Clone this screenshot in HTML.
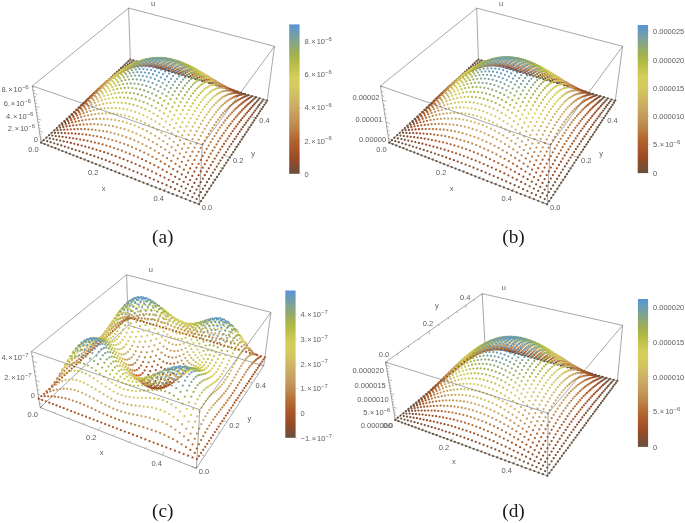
<!DOCTYPE html>
<html><head><meta charset="utf-8"><title>Figure</title>
<style>html,body{margin:0;padding:0;background:#fff}svg{display:block}</style></head>
<body>
<svg width="685" height="523" viewBox="0 0 685 523" font-family="Liberation Sans, Arial, sans-serif" fill="#5c5c5c">
<g>
<path d="M130.3 59.5L267.2 100.6" stroke="#505050" stroke-width="0.5" fill="none"/>
<path d="M130.3 59.5L41.1 142.7" stroke="#505050" stroke-width="0.5" fill="none"/>
<path d="M130.3 59.5L128.6 8.1" stroke="#505050" stroke-width="0.5" fill="none"/>
<path d="M41.1 142.7L199 204.3" stroke="#505050" stroke-width="0.5" fill="none"/>
<path d="M199 204.3L267.2 100.6" stroke="#505050" stroke-width="0.5" fill="none"/>
<path d="M41.1 142.7L32.3 85.9" stroke="#505050" stroke-width="0.5" fill="none"/>
<path d="M267.2 100.6L274.5 46.3" stroke="#505050" stroke-width="0.5" fill="none"/>
<path d="M32.3 85.9L128.6 8.1" stroke="#505050" stroke-width="0.5" fill="none"/>
<path d="M128.6 8.1L274.5 46.3" stroke="#505050" stroke-width="0.5" fill="none"/>
<path d="M55.3 148.2L56.7 146.8" stroke="#505050" stroke-width="0.4" fill="none"/>
<path d="M69.7 153.8L71.2 152.4" stroke="#505050" stroke-width="0.4" fill="none"/>
<path d="M84.5 159.6L86 158.1" stroke="#505050" stroke-width="0.4" fill="none"/>
<path d="M115.3 171.6L116.6 170" stroke="#505050" stroke-width="0.4" fill="none"/>
<path d="M131.2 177.8L132.5 176.2" stroke="#505050" stroke-width="0.4" fill="none"/>
<path d="M147.5 184.2L148.8 182.5" stroke="#505050" stroke-width="0.4" fill="none"/>
<path d="M181.4 197.4L182.6 195.7" stroke="#505050" stroke-width="0.4" fill="none"/>
<path d="M199 204.3L200.1 202.5" stroke="#505050" stroke-width="0.4" fill="none"/>
<path d="M41.1 142.7L44 140" stroke="#505050" stroke-width="0.4" fill="none"/>
<path d="M99.7 165.6L102.4 162.6" stroke="#505050" stroke-width="0.4" fill="none"/>
<path d="M164.2 190.7L166.6 187.5" stroke="#505050" stroke-width="0.4" fill="none"/>
<path d="M207.2 191.8L204.8 190.8" stroke="#505050" stroke-width="0.4" fill="none"/>
<path d="M215.1 179.8L212.7 178.9" stroke="#505050" stroke-width="0.4" fill="none"/>
<path d="M222.6 168.4L220.2 167.5" stroke="#505050" stroke-width="0.4" fill="none"/>
<path d="M236.7 146.9L234.4 146.2" stroke="#505050" stroke-width="0.4" fill="none"/>
<path d="M243.3 136.9L241 136.2" stroke="#505050" stroke-width="0.4" fill="none"/>
<path d="M249.6 127.3L247.4 126.6" stroke="#505050" stroke-width="0.4" fill="none"/>
<path d="M261.6 109.2L259.4 108.5" stroke="#505050" stroke-width="0.4" fill="none"/>
<path d="M267.2 100.6L265.1 100" stroke="#505050" stroke-width="0.4" fill="none"/>
<path d="M199 204.3L194.2 202.4" stroke="#505050" stroke-width="0.4" fill="none"/>
<path d="M229.8 157.4L225.3 155.9" stroke="#505050" stroke-width="0.4" fill="none"/>
<path d="M255.7 118L251.5 116.7" stroke="#505050" stroke-width="0.4" fill="none"/>
</g>
<g stroke-linecap="round" stroke-width="2.25" fill="none">
<path stroke="#67503b" d="M130.3 59.5h0"/>
<path stroke="#67503b" d="M133.4 60.4h0"/>
<path stroke="#67503b" d="M128.5 61.2h0"/>
<path stroke="#67503b" d="M136.6 61.3h0"/>
<path stroke="#6a503a" d="M131.6 61.8h0"/>
<path stroke="#67503b" d="M139.7 62.3h0"/>
<path stroke="#67503b" d="M126.6 62.9h0"/>
<path stroke="#67503b" d="M142.8 63.2h0"/>
<path stroke="#6d4f38" d="M134.7 62.5h0"/>
<path stroke="#6d4f38" d="M129.7 63.3h0"/>
<path stroke="#67503b" d="M146 64.2h0"/>
<path stroke="#704f37" d="M137.8 63.1h0"/>
<path stroke="#67503b" d="M124.7 64.7h0"/>
<path stroke="#67503b" d="M149.2 65.1h0"/>
<path stroke="#734f36" d="M132.8 63.7h0"/>
<path stroke="#734f36" d="M141 63.8h0"/>
<path stroke="#704f37" d="M127.8 64.8h0"/>
<path stroke="#67503b" d="M152.4 66.1h0"/>
<path stroke="#67503b" d="M122.8 66.5h0"/>
<path stroke="#764e35" d="M144.2 64.5h0"/>
<path stroke="#794e33" d="M136 64h0"/>
<path stroke="#67503b" d="M155.6 67.1h0"/>
<path stroke="#794e33" d="M130.9 64.8h0"/>
<path stroke="#794e34" d="M147.4 65.2h0"/>
<path stroke="#7f4d31" d="M139.1 64.4h0"/>
<path stroke="#734f36" d="M125.9 66.3h0"/>
<path stroke="#67503b" d="M158.8 68h0"/>
<path stroke="#67503b" d="M120.9 68.2h0"/>
<path stroke="#7b4e32" d="M150.6 65.9h0"/>
<path stroke="#824d30" d="M134.1 64.9h0"/>
<path stroke="#67503b" d="M162.1 69h0"/>
<path stroke="#854d2e" d="M142.3 64.8h0"/>
<path stroke="#7f4d31" d="M129 66.1h0"/>
<path stroke="#764e35" d="M124 67.8h0"/>
<path stroke="#7e4d31" d="M153.8 66.6h0"/>
<path stroke="#67503b" d="M165.3 70h0"/>
<path stroke="#67503b" d="M119 70h0"/>
<path stroke="#8b4c2c" d="M137.3 65h0"/>
<path stroke="#8b4c2c" d="M145.5 65.3h0"/>
<path stroke="#67503b" d="M168.6 71h0"/>
<path stroke="#804d30" d="M157.1 67.4h0"/>
<path stroke="#8b4c2c" d="M132.2 65.9h0"/>
<path stroke="#904c2a" d="M148.7 65.7h0"/>
<path stroke="#854d2e" d="M127.1 67.3h0"/>
<path stroke="#944b28" d="M140.4 65.2h0"/>
<path stroke="#67503b" d="M117 71.9h0"/>
<path stroke="#794e34" d="M122.1 69.3h0"/>
<path stroke="#67503b" d="M171.9 72h0"/>
<path stroke="#834d2f" d="M160.3 68.1h0"/>
<path stroke="#974b27" d="M135.4 65.7h0"/>
<path stroke="#954b28" d="M152 66.2h0"/>
<path stroke="#67503b" d="M175.2 72.9h0"/>
<path stroke="#9c4a25" d="M143.7 65.3h0"/>
<path stroke="#854d2f" d="M163.6 68.9h0"/>
<path stroke="#944b28" d="M130.3 66.8h0"/>
<path stroke="#67503b" d="M115 73.7h0"/>
<path stroke="#8b4c2c" d="M125.2 68.6h0"/>
<path stroke="#7b4e32" d="M120.1 70.9h0"/>
<path stroke="#67503b" d="M178.5 73.9h0"/>
<path stroke="#9a4a26" d="M155.3 66.7h0"/>
<path stroke="#a04c25" d="M138.5 65.6h0"/>
<path stroke="#874d2e" d="M166.9 69.7h0"/>
<path stroke="#a04d25" d="M146.9 65.5h0"/>
<path stroke="#67503b" d="M181.9 75h0"/>
<path stroke="#a04c25" d="M133.4 66.4h0"/>
<path stroke="#9e4a24" d="M158.5 67.2h0"/>
<path stroke="#884c2d" d="M170.2 70.5h0"/>
<path stroke="#67503b" d="M113.1 75.6h0"/>
<path stroke="#9c4a25" d="M128.3 67.8h0"/>
<path stroke="#a45126" d="M141.8 65.5h0"/>
<path stroke="#a35026" d="M150.1 65.8h0"/>
<path stroke="#7e4d31" d="M118.1 72.5h0"/>
<path stroke="#904c2a" d="M123.2 69.9h0"/>
<path stroke="#67503b" d="M185.2 76h0"/>
<path stroke="#8a4c2c" d="M173.5 71.4h0"/>
<path stroke="#a04c25" d="M161.8 67.8h0"/>
<path stroke="#a55226" d="M136.6 66h0"/>
<path stroke="#67503b" d="M188.6 77h0"/>
<path stroke="#a65327" d="M153.4 66.1h0"/>
<path stroke="#a75527" d="M145 65.4h0"/>
<path stroke="#67503b" d="M111.1 77.4h0"/>
<path stroke="#a45126" d="M131.5 67.1h0"/>
<path stroke="#8b4c2c" d="M176.9 72.3h0"/>
<path stroke="#a14e25" d="M165.2 68.4h0"/>
<path stroke="#804d30" d="M116.1 74.1h0"/>
<path stroke="#a04d25" d="M126.3 68.9h0"/>
<path stroke="#954b28" d="M121.2 71.2h0"/>
<path stroke="#67503b" d="M192 78h0"/>
<path stroke="#aa5828" d="M139.9 65.6h0"/>
<path stroke="#a85628" d="M156.7 66.4h0"/>
<path stroke="#8c4c2b" d="M180.3 73.2h0"/>
<path stroke="#ab5a29" d="M148.3 65.4h0"/>
<path stroke="#a24f25" d="M168.5 69.1h0"/>
<path stroke="#67503b" d="M195.4 79h0"/>
<path stroke="#aa5828" d="M134.7 66.5h0"/>
<path stroke="#67503b" d="M109 79.3h0"/>
<path stroke="#8d4c2b" d="M183.6 74.1h0"/>
<path stroke="#834d2f" d="M114.1 75.7h0"/>
<path stroke="#a75527" d="M129.5 67.9h0"/>
<path stroke="#aa5928" d="M160.1 66.8h0"/>
<path stroke="#67503b" d="M198.8 80h0"/>
<path stroke="#ae5e2a" d="M143.1 65.3h0"/>
<path stroke="#a35026" d="M171.9 69.8h0"/>
<path stroke="#9a4a26" d="M119.2 72.6h0"/>
<path stroke="#a35026" d="M124.4 70h0"/>
<path stroke="#ae5e2a" d="M151.6 65.4h0"/>
<path stroke="#8e4c2b" d="M187 75.1h0"/>
<path stroke="#67503b" d="M202.2 81.1h0"/>
<path stroke="#af5f2a" d="M137.9 65.9h0"/>
<path stroke="#ac5b29" d="M163.4 67.2h0"/>
<path stroke="#67503b" d="M107 81.2h0"/>
<path stroke="#a45226" d="M175.2 70.6h0"/>
<path stroke="#b3642d" d="M146.4 65.1h0"/>
<path stroke="#b2622b" d="M154.9 65.6h0"/>
<path stroke="#854d2f" d="M112.1 77.4h0"/>
<path stroke="#8e4c2b" d="M190.5 76h0"/>
<path stroke="#ae5e2a" d="M132.7 67h0"/>
<path stroke="#67503b" d="M205.7 82.1h0"/>
<path stroke="#9e4a24" d="M117.2 74h0"/>
<path stroke="#ab5a29" d="M127.5 68.8h0"/>
<path stroke="#a65327" d="M122.3 71.1h0"/>
<path stroke="#a55226" d="M178.6 71.4h0"/>
<path stroke="#ae5d2a" d="M166.8 67.7h0"/>
<path stroke="#8e4c2b" d="M193.9 77.1h0"/>
<path stroke="#b46931" d="M141.2 65.3h0"/>
<path stroke="#67503b" d="M104.9 83.1h0"/>
<path stroke="#67503b" d="M209.2 83.2h0"/>
<path stroke="#b46830" d="M158.2 65.7h0"/>
<path stroke="#b66d35" d="M149.7 64.9h0"/>
<path stroke="#a65327" d="M182 72.2h0"/>
<path stroke="#b05f2a" d="M170.1 68.2h0"/>
<path stroke="#b46931" d="M136 66.2h0"/>
<path stroke="#874d2e" d="M110 79.1h0"/>
<path stroke="#8e4c2b" d="M197.3 78.1h0"/>
<path stroke="#67503b" d="M212.7 84.2h0"/>
<path stroke="#a04c25" d="M115.2 75.5h0"/>
<path stroke="#b3642d" d="M130.7 67.6h0"/>
<path stroke="#b66d35" d="M161.6 66h0"/>
<path stroke="#a65427" d="M185.5 73.1h0"/>
<path stroke="#a85628" d="M120.3 72.3h0"/>
<path stroke="#ae5e2a" d="M125.5 69.7h0"/>
<path stroke="#b8743b" d="M144.5 64.8h0"/>
<path stroke="#8e4c2b" d="M200.8 79.2h0"/>
<path stroke="#b1612b" d="M173.5 68.9h0"/>
<path stroke="#b8753c" d="M153 64.8h0"/>
<path stroke="#67503b" d="M102.8 85.1h0"/>
<path stroke="#67503b" d="M216.2 85.3h0"/>
<path stroke="#a65427" d="M188.9 74.1h0"/>
<path stroke="#b9763d" d="M139.2 65.4h0"/>
<path stroke="#884c2d" d="M108 80.9h0"/>
<path stroke="#8d4c2b" d="M204.3 80.3h0"/>
<path stroke="#b8733a" d="M165 66.3h0"/>
<path stroke="#b2632c" d="M177 69.6h0"/>
<path stroke="#67503b" d="M219.7 86.3h0"/>
<path stroke="#bc7f44" d="M147.8 64.4h0"/>
<path stroke="#a14e25" d="M113.1 77h0"/>
<path stroke="#b8743b" d="M134 66.5h0"/>
<path stroke="#bb7d43" d="M156.4 64.8h0"/>
<path stroke="#a65427" d="M192.4 75.1h0"/>
<path stroke="#aa5928" d="M118.3 73.6h0"/>
<path stroke="#b66d35" d="M128.7 68.3h0"/>
<path stroke="#8c4c2b" d="M207.8 81.4h0"/>
<path stroke="#67503b" d="M100.7 87h0"/>
<path stroke="#b2622b" d="M123.5 70.7h0"/>
<path stroke="#67503b" d="M223.2 87.4h0"/>
<path stroke="#b3652d" d="M180.4 70.3h0"/>
<path stroke="#b9773e" d="M168.4 66.7h0"/>
<path stroke="#bd8348" d="M142.5 64.6h0"/>
<path stroke="#a65427" d="M195.9 76.1h0"/>
<path stroke="#8a4c2c" d="M105.9 82.7h0"/>
<path stroke="#8b4c2c" d="M211.3 82.6h0"/>
<path stroke="#bd8449" d="M159.8 64.8h0"/>
<path stroke="#bf894d" d="M151.1 64.1h0"/>
<path stroke="#67503b" d="M226.8 88.5h0"/>
<path stroke="#b3662f" d="M183.9 71.2h0"/>
<path stroke="#bd8348" d="M137.2 65.5h0"/>
<path stroke="#a24f25" d="M111 78.6h0"/>
<path stroke="#ba7b41" d="M171.8 67.2h0"/>
<path stroke="#a65427" d="M199.3 77.3h0"/>
<path stroke="#67503b" d="M98.6 89h0"/>
<path stroke="#8a4c2c" d="M214.8 83.8h0"/>
<path stroke="#ac5b29" d="M116.2 75h0"/>
<path stroke="#bc7f44" d="M132 67h0"/>
<path stroke="#b46830" d="M121.4 71.8h0"/>
<path stroke="#b8753c" d="M126.7 69.1h0"/>
<path stroke="#67503b" d="M230.4 89.5h0"/>
<path stroke="#c08b4f" d="M163.2 65h0"/>
<path stroke="#c18e52" d="M145.9 64h0"/>
<path stroke="#b4672f" d="M187.3 72.1h0"/>
<path stroke="#a65327" d="M202.9 78.4h0"/>
<path stroke="#c19053" d="M154.5 63.9h0"/>
<path stroke="#8b4c2c" d="M103.8 84.5h0"/>
<path stroke="#884c2d" d="M218.4 85h0"/>
<path stroke="#bb7e44" d="M175.3 67.8h0"/>
<path stroke="#67503b" d="M234 90.6h0"/>
<path stroke="#c19053" d="M140.6 64.6h0"/>
<path stroke="#b46730" d="M190.8 73.1h0"/>
<path stroke="#a35026" d="M108.9 80.3h0"/>
<path stroke="#a55226" d="M206.4 79.7h0"/>
<path stroke="#67503b" d="M96.5 91h0"/>
<path stroke="#874d2e" d="M221.9 86.2h0"/>
<path stroke="#c18f52" d="M166.6 65.3h0"/>
<path stroke="#bc8146" d="M178.7 68.5h0"/>
<path stroke="#ae5d2a" d="M114.1 76.4h0"/>
<path stroke="#c18e52" d="M135.2 65.7h0"/>
<path stroke="#c49657" d="M149.2 63.5h0"/>
<path stroke="#c39557" d="M157.9 63.8h0"/>
<path stroke="#67503b" d="M237.6 91.7h0"/>
<path stroke="#b4672f" d="M194.3 74.2h0"/>
<path stroke="#b66d35" d="M119.4 72.9h0"/>
<path stroke="#a45226" d="M209.9 80.9h0"/>
<path stroke="#bf894d" d="M129.9 67.5h0"/>
<path stroke="#854d2f" d="M225.5 87.5h0"/>
<path stroke="#bb7d43" d="M124.6 69.9h0"/>
<path stroke="#8c4c2b" d="M101.6 86.4h0"/>
<path stroke="#bd8348" d="M182.2 69.3h0"/>
<path stroke="#c29254" d="M170.1 65.6h0"/>
<path stroke="#c59959" d="M143.9 63.7h0"/>
<path stroke="#67503b" d="M241.2 92.8h0"/>
<path stroke="#a35026" d="M213.5 82.2h0"/>
<path stroke="#b3662f" d="M197.9 75.4h0"/>
<path stroke="#a45226" d="M106.8 82h0"/>
<path stroke="#834d2f" d="M229.1 88.8h0"/>
<path stroke="#67503b" d="M94.3 93h0"/>
<path stroke="#c59b5a" d="M161.4 63.8h0"/>
<path stroke="#c69d5c" d="M152.6 63.1h0"/>
<path stroke="#c59959" d="M138.6 64.6h0"/>
<path stroke="#bd8449" d="M185.7 70.2h0"/>
<path stroke="#b05f2a" d="M112 77.9h0"/>
<path stroke="#a24f25" d="M217 83.6h0"/>
<path stroke="#c39556" d="M173.6 66.1h0"/>
<path stroke="#67503b" d="M244.9 93.9h0"/>
<path stroke="#b3652d" d="M201.4 76.6h0"/>
<path stroke="#804d30" d="M232.7 90.1h0"/>
<path stroke="#8d4c2b" d="M99.5 88.3h0"/>
<path stroke="#b8733a" d="M117.3 74.2h0"/>
<path stroke="#c49657" d="M133.2 66.1h0"/>
<path stroke="#bd8449" d="M122.6 70.9h0"/>
<path stroke="#c19053" d="M127.9 68.2h0"/>
<path stroke="#a14e25" d="M220.6 85h0"/>
<path stroke="#c8a260" d="M147.3 63h0"/>
<path stroke="#c79f5e" d="M164.8 63.9h0"/>
<path stroke="#bd8449" d="M189.3 71.2h0"/>
<path stroke="#b2632c" d="M204.9 77.9h0"/>
<path stroke="#7e4d31" d="M236.3 91.4h0"/>
<path stroke="#67503b" d="M248.5 95h0"/>
<path stroke="#67503b" d="M92.2 95.1h0"/>
<path stroke="#c8a461" d="M156 62.8h0"/>
<path stroke="#a55226" d="M104.7 83.7h0"/>
<path stroke="#c49758" d="M177.1 66.8h0"/>
<path stroke="#a04c25" d="M224.2 86.5h0"/>
<path stroke="#b1612b" d="M208.5 79.3h0"/>
<path stroke="#c8a361" d="M141.9 63.5h0"/>
<path stroke="#bd8449" d="M192.8 72.3h0"/>
<path stroke="#7b4e32" d="M239.9 92.8h0"/>
<path stroke="#b1612b" d="M109.9 79.4h0"/>
<path stroke="#67503b" d="M252.2 96.1h0"/>
<path stroke="#8e4c2b" d="M97.3 90.3h0"/>
<path stroke="#c8a360" d="M168.3 64.1h0"/>
<path stroke="#c49859" d="M180.6 67.5h0"/>
<path stroke="#9e4a24" d="M227.8 88h0"/>
<path stroke="#b9773e" d="M115.2 75.5h0"/>
<path stroke="#c8a260" d="M136.5 64.7h0"/>
<path stroke="#cbaa64" d="M150.7 62.4h0"/>
<path stroke="#b05f2a" d="M212.1 80.8h0"/>
<path stroke="#caa964" d="M159.5 62.6h0"/>
<path stroke="#794e34" d="M243.6 94.2h0"/>
<path stroke="#bd8348" d="M196.3 73.5h0"/>
<path stroke="#c08b4f" d="M120.5 72h0"/>
<path stroke="#c69d5c" d="M131.2 66.6h0"/>
<path stroke="#67503b" d="M90 97.1h0"/>
<path stroke="#c39557" d="M125.8 69h0"/>
<path stroke="#67503b" d="M255.9 97.2h0"/>
<path stroke="#a65327" d="M102.5 85.6h0"/>
<path stroke="#9a4a26" d="M231.4 89.6h0"/>
<path stroke="#ae5d2a" d="M215.6 82.3h0"/>
<path stroke="#c59959" d="M184.1 68.3h0"/>
<path stroke="#c9a663" d="M171.8 64.5h0"/>
<path stroke="#764e35" d="M247.2 95.6h0"/>
<path stroke="#bc8146" d="M199.9 74.8h0"/>
<path stroke="#ccad63" d="M145.3 62.6h0"/>
<path stroke="#b2632c" d="M107.8 81.1h0"/>
<path stroke="#954b28" d="M235 91.2h0"/>
<path stroke="#8e4c2b" d="M95.1 92.2h0"/>
<path stroke="#67503b" d="M259.7 98.3h0"/>
<path stroke="#ac5b29" d="M219.2 83.9h0"/>
<path stroke="#ccaf63" d="M163 62.6h0"/>
<path stroke="#cdb163" d="M154.1 61.9h0"/>
<path stroke="#734f36" d="M250.9 97h0"/>
<path stroke="#c5995a" d="M187.7 69.3h0"/>
<path stroke="#bb7e44" d="M203.5 76.2h0"/>
<path stroke="#ccad63" d="M139.9 63.5h0"/>
<path stroke="#ba7b41" d="M113 76.9h0"/>
<path stroke="#904c2a" d="M238.6 92.8h0"/>
<path stroke="#caa864" d="M175.3 65.1h0"/>
<path stroke="#67503b" d="M87.7 99.2h0"/>
<path stroke="#aa5928" d="M222.8 85.6h0"/>
<path stroke="#a65427" d="M100.3 87.5h0"/>
<path stroke="#67503b" d="M263.4 99.5h0"/>
<path stroke="#c18f52" d="M118.4 73.2h0"/>
<path stroke="#cbaa64" d="M134.5 65h0"/>
<path stroke="#ba7b41" d="M207.1 77.7h0"/>
<path stroke="#704f37" d="M254.6 98.4h0"/>
<path stroke="#c59b5a" d="M123.7 69.9h0"/>
<path stroke="#c8a461" d="M129.1 67.2h0"/>
<path stroke="#8b4c2c" d="M242.3 94.4h0"/>
<path stroke="#c59959" d="M191.2 70.4h0"/>
<path stroke="#ceb662" d="M148.7 61.8h0"/>
<path stroke="#a85628" d="M226.4 87.3h0"/>
<path stroke="#cdb362" d="M166.5 62.8h0"/>
<path stroke="#8e4c2b" d="M92.9 94.3h0"/>
<path stroke="#b3652d" d="M105.6 82.8h0"/>
<path stroke="#cfb862" d="M157.6 61.6h0"/>
<path stroke="#cbaa64" d="M178.9 65.8h0"/>
<path stroke="#67503b" d="M267.2 100.6h0"/>
<path stroke="#b9773e" d="M210.6 79.3h0"/>
<path stroke="#854d2e" d="M245.9 96.1h0"/>
<path stroke="#6d4f38" d="M258.3 99.8h0"/>
<path stroke="#a65327" d="M230.1 89.1h0"/>
<path stroke="#c49859" d="M194.8 71.7h0"/>
<path stroke="#cfb762" d="M143.3 62.4h0"/>
<path stroke="#67503b" d="M85.5 101.3h0"/>
<path stroke="#bb7e44" d="M110.9 78.5h0"/>
<path stroke="#b8733a" d="M214.2 81h0"/>
<path stroke="#a65427" d="M98.2 89.4h0"/>
<path stroke="#a35026" d="M233.7 90.9h0"/>
<path stroke="#7f4d31" d="M249.6 97.8h0"/>
<path stroke="#cfb662" d="M170 63h0"/>
<path stroke="#cbab64" d="M182.4 66.6h0"/>
<path stroke="#6a503a" d="M262.1 101.3h0"/>
<path stroke="#c29254" d="M116.2 74.5h0"/>
<path stroke="#c49758" d="M198.4 73.1h0"/>
<path stroke="#ceb662" d="M137.9 63.6h0"/>
<path stroke="#d1be61" d="M152.2 61.2h0"/>
<path stroke="#d1bd61" d="M161.1 61.5h0"/>
<path stroke="#b66d35" d="M217.9 82.8h0"/>
<path stroke="#a04d25" d="M237.3 92.8h0"/>
<path stroke="#794e33" d="M253.3 99.6h0"/>
<path stroke="#c79f5e" d="M121.6 70.9h0"/>
<path stroke="#cdb163" d="M132.4 65.4h0"/>
<path stroke="#8e4c2b" d="M90.7 96.4h0"/>
<path stroke="#caa964" d="M127 67.9h0"/>
<path stroke="#b3662f" d="M103.4 84.7h0"/>
<path stroke="#67503b" d="M265.8 102.7h0"/>
<path stroke="#c39556" d="M202 74.6h0"/>
<path stroke="#cbac63" d="M186 67.6h0"/>
<path stroke="#b46830" d="M221.5 84.6h0"/>
<path stroke="#9c4a25" d="M241 94.7h0"/>
<path stroke="#d0b962" d="M173.6 63.5h0"/>
<path stroke="#734f36" d="M257 101.3h0"/>
<path stroke="#d2c160" d="M146.7 61.5h0"/>
<path stroke="#67503b" d="M83.2 103.4h0"/>
<path stroke="#bc8146" d="M108.7 80.2h0"/>
<path stroke="#b2622b" d="M225.1 86.6h0"/>
<path stroke="#a65427" d="M96 91.5h0"/>
<path stroke="#944b28" d="M244.6 96.7h0"/>
<path stroke="#c29254" d="M205.6 76.2h0"/>
<path stroke="#d2c260" d="M164.6 61.5h0"/>
<path stroke="#d3c460" d="M155.7 60.8h0"/>
<path stroke="#cbab64" d="M189.6 68.7h0"/>
<path stroke="#6d4f38" d="M260.7 103.1h0"/>
<path stroke="#ae5e2a" d="M228.7 88.6h0"/>
<path stroke="#d2c160" d="M141.3 62.3h0"/>
<path stroke="#8b4c2c" d="M248.3 98.7h0"/>
<path stroke="#c39556" d="M114.1 75.9h0"/>
<path stroke="#d0bb61" d="M177.1 64.1h0"/>
<path stroke="#c18f52" d="M209.2 77.9h0"/>
<path stroke="#8e4c2b" d="M88.5 98.5h0"/>
<path stroke="#b4672f" d="M101.2 86.6h0"/>
<path stroke="#67503b" d="M264.4 104.8h0"/>
<path stroke="#ab5a29" d="M232.3 90.7h0"/>
<path stroke="#c8a360" d="M119.5 72.1h0"/>
<path stroke="#d1be61" d="M135.8 63.9h0"/>
<path stroke="#824d30" d="M251.9 100.8h0"/>
<path stroke="#cbaa64" d="M193.2 70h0"/>
<path stroke="#ccaf63" d="M124.9 68.8h0"/>
<path stroke="#cfb862" d="M130.3 66h0"/>
<path stroke="#c08b4f" d="M212.8 79.8h0"/>
<path stroke="#d3c55f" d="M168.2 61.7h0"/>
<path stroke="#d4c75f" d="M150.2 60.7h0"/>
<path stroke="#a75527" d="M236 92.9h0"/>
<path stroke="#67503b" d="M80.9 105.5h0"/>
<path stroke="#794e33" d="M255.6 102.8h0"/>
<path stroke="#d1bd61" d="M180.7 64.9h0"/>
<path stroke="#a65427" d="M93.7 93.6h0"/>
<path stroke="#d4c85e" d="M159.2 60.5h0"/>
<path stroke="#bd8348" d="M106.5 81.9h0"/>
<path stroke="#bd8449" d="M216.4 81.7h0"/>
<path stroke="#caa864" d="M196.8 71.4h0"/>
<path stroke="#a45126" d="M239.6 95.1h0"/>
<path stroke="#704f37" d="M259.3 104.9h0"/>
<path stroke="#d4c85e" d="M144.7 61.2h0"/>
<path stroke="#a04c25" d="M243.3 97.3h0"/>
<path stroke="#bb7d43" d="M220.1 83.8h0"/>
<path stroke="#8d4c2b" d="M86.2 100.7h0"/>
<path stroke="#c49758" d="M111.9 77.5h0"/>
<path stroke="#c9a663" d="M200.4 73h0"/>
<path stroke="#d1bd61" d="M184.3 65.9h0"/>
<path stroke="#b46730" d="M99 88.6h0"/>
<path stroke="#d4c75f" d="M171.8 62.1h0"/>
<path stroke="#67503b" d="M263 107h0"/>
<path stroke="#974b27" d="M246.9 99.6h0"/>
<path stroke="#b8753c" d="M223.7 86h0"/>
<path stroke="#c9a663" d="M117.3 73.5h0"/>
<path stroke="#d4c75f" d="M139.2 62.4h0"/>
<path stroke="#d5cb5c" d="M153.7 60.1h0"/>
<path stroke="#d5cb5d" d="M162.8 60.4h0"/>
<path stroke="#67503b" d="M78.6 107.7h0"/>
<path stroke="#8b4c2c" d="M250.6 102h0"/>
<path stroke="#c8a360" d="M204.1 74.7h0"/>
<path stroke="#b66d35" d="M227.3 88.2h0"/>
<path stroke="#cdb362" d="M122.8 69.9h0"/>
<path stroke="#a65427" d="M91.5 95.7h0"/>
<path stroke="#d3c460" d="M133.7 64.3h0"/>
<path stroke="#d1bd61" d="M128.2 66.8h0"/>
<path stroke="#d1bd61" d="M188 67h0"/>
<path stroke="#bd8449" d="M104.4 83.8h0"/>
<path stroke="#7f4d31" d="M254.2 104.4h0"/>
<path stroke="#b3642d" d="M231 90.6h0"/>
<path stroke="#d4c85e" d="M175.4 62.6h0"/>
<path stroke="#c79f5e" d="M207.7 76.6h0"/>
<path stroke="#734f36" d="M257.9 106.7h0"/>
<path stroke="#ae5e2a" d="M234.6 93h0"/>
<path stroke="#8c4c2b" d="M83.9 102.9h0"/>
<path stroke="#d5cd5c" d="M148.2 60.3h0"/>
<path stroke="#c49859" d="M109.7 79.2h0"/>
<path stroke="#b4672f" d="M96.8 90.7h0"/>
<path stroke="#d0bb61" d="M191.6 68.4h0"/>
<path stroke="#67503b" d="M261.6 109.2h0"/>
<path stroke="#c59b5a" d="M211.3 78.6h0"/>
<path stroke="#aa5828" d="M238.2 95.5h0"/>
<path stroke="#d5cd5b" d="M166.3 60.5h0"/>
<path stroke="#d6cf5b" d="M157.3 59.7h0"/>
<path stroke="#a55226" d="M241.9 98h0"/>
<path stroke="#d4c95e" d="M179 63.4h0"/>
<path stroke="#c39557" d="M215 80.7h0"/>
<path stroke="#d5cd5c" d="M142.7 61.2h0"/>
<path stroke="#67503b" d="M76.3 109.8h0"/>
<path stroke="#caa864" d="M115.1 75h0"/>
<path stroke="#a04c25" d="M245.5 100.6h0"/>
<path stroke="#a65327" d="M89.2 98h0"/>
<path stroke="#d0b962" d="M195.2 69.9h0"/>
<path stroke="#bd8449" d="M102.1 85.8h0"/>
<path stroke="#944b28" d="M249.2 103.3h0"/>
<path stroke="#c19053" d="M218.6 83h0"/>
<path stroke="#cfb662" d="M120.6 71.1h0"/>
<path stroke="#d5cb5c" d="M137.1 62.7h0"/>
<path stroke="#854d2e" d="M252.8 105.9h0"/>
<path stroke="#d2c260" d="M126.1 67.8h0"/>
<path stroke="#d4c85e" d="M131.6 64.9h0"/>
<path stroke="#bf894d" d="M222.3 85.4h0"/>
<path stroke="#d6cf5b" d="M169.9 60.8h0"/>
<path stroke="#8b4c2c" d="M81.6 105.2h0"/>
<path stroke="#cfb662" d="M198.9 71.5h0"/>
<path stroke="#d3ce58" d="M151.7 59.6h0"/>
<path stroke="#d4c95d" d="M182.6 64.4h0"/>
<path stroke="#764e35" d="M256.5 108.6h0"/>
<path stroke="#b3662f" d="M94.6 92.9h0"/>
<path stroke="#bc7f44" d="M225.9 87.9h0"/>
<path stroke="#d2cd58" d="M160.8 59.5h0"/>
<path stroke="#67503b" d="M260.1 111.3h0"/>
<path stroke="#c59959" d="M107.5 81.1h0"/>
<path stroke="#b8743b" d="M229.6 90.5h0"/>
<path stroke="#cdb362" d="M202.5 73.4h0"/>
<path stroke="#b46931" d="M233.2 93.2h0"/>
<path stroke="#67503b" d="M74 112h0"/>
<path stroke="#a55226" d="M87 100.3h0"/>
<path stroke="#d4c95e" d="M186.3 65.5h0"/>
<path stroke="#d1cd57" d="M146.2 60.1h0"/>
<path stroke="#cbaa64" d="M113 76.6h0"/>
<path stroke="#af5f2a" d="M236.8 95.9h0"/>
<path stroke="#d6d05a" d="M173.6 61.3h0"/>
<path stroke="#ccaf63" d="M206.2 75.4h0"/>
<path stroke="#bd8449" d="M99.9 88h0"/>
<path stroke="#aa5828" d="M240.5 98.8h0"/>
<path stroke="#a45126" d="M244.1 101.6h0"/>
<path stroke="#d0b962" d="M118.4 72.5h0"/>
<path stroke="#d3ce58" d="M140.6 61.4h0"/>
<path stroke="#cac853" d="M155.3 59.1h0"/>
<path stroke="#9c4a25" d="M247.8 104.6h0"/>
<path stroke="#8a4c2c" d="M79.3 107.5h0"/>
<path stroke="#caa964" d="M209.9 77.6h0"/>
<path stroke="#ccca54" d="M164.4 59.5h0"/>
<path stroke="#d4c85e" d="M189.9 66.9h0"/>
<path stroke="#8b4c2c" d="M251.4 107.5h0"/>
<path stroke="#b3652d" d="M92.3 95.3h0"/>
<path stroke="#794e34" d="M255 110.5h0"/>
<path stroke="#d3c55f" d="M123.9 68.9h0"/>
<path stroke="#d6cf5b" d="M135 63.2h0"/>
<path stroke="#67503b" d="M258.7 113.5h0"/>
<path stroke="#c8a461" d="M213.5 79.9h0"/>
<path stroke="#c5995a" d="M105.3 83.1h0"/>
<path stroke="#d5cb5d" d="M129.5 65.8h0"/>
<path stroke="#d4cf59" d="M177.2 62.1h0"/>
<path stroke="#c69d5c" d="M217.2 82.3h0"/>
<path stroke="#d4c75f" d="M193.6 68.5h0"/>
<path stroke="#a45226" d="M84.7 102.7h0"/>
<path stroke="#67503b" d="M71.6 114.3h0"/>
<path stroke="#c6c651" d="M149.7 59.3h0"/>
<path stroke="#c49657" d="M220.8 84.9h0"/>
<path stroke="#bd8348" d="M97.7 90.2h0"/>
<path stroke="#cbab64" d="M110.8 78.4h0"/>
<path stroke="#c7c651" d="M168.1 59.7h0"/>
<path stroke="#c18e52" d="M224.5 87.7h0"/>
<path stroke="#c2c34e" d="M158.9 58.8h0"/>
<path stroke="#d3c55f" d="M197.3 70.2h0"/>
<path stroke="#d3ce58" d="M180.9 63h0"/>
<path stroke="#bd8348" d="M228.1 90.5h0"/>
<path stroke="#884c2d" d="M77 109.8h0"/>
<path stroke="#b9763d" d="M231.8 93.4h0"/>
<path stroke="#c6c651" d="M144.1 60.2h0"/>
<path stroke="#b2632c" d="M90 97.7h0"/>
<path stroke="#b46931" d="M235.4 96.4h0"/>
<path stroke="#d0bb61" d="M116.3 74.1h0"/>
<path stroke="#ae5e2a" d="M239.1 99.5h0"/>
<path stroke="#a75527" d="M242.7 102.7h0"/>
<path stroke="#d2c260" d="M201 72.2h0"/>
<path stroke="#a04d25" d="M246.3 105.9h0"/>
<path stroke="#904c2a" d="M250 109.2h0"/>
<path stroke="#7b4e32" d="M253.6 112.5h0"/>
<path stroke="#67503b" d="M257.2 115.8h0"/>
<path stroke="#c59959" d="M103.1 85.2h0"/>
<path stroke="#d4c75f" d="M121.8 70.2h0"/>
<path stroke="#cac853" d="M138.5 61.7h0"/>
<path stroke="#d4cf59" d="M184.5 64.2h0"/>
<path stroke="#c3c44f" d="M171.7 60.2h0"/>
<path stroke="#a35026" d="M82.4 105.1h0"/>
<path stroke="#d1bd61" d="M204.6 74.3h0"/>
<path stroke="#d5cd5b" d="M127.3 66.8h0"/>
<path stroke="#d2cd58" d="M132.9 64h0"/>
<path stroke="#67503b" d="M69.2 116.5h0"/>
<path stroke="#bcc04b" d="M153.3 58.7h0"/>
<path stroke="#bc8146" d="M95.4 92.6h0"/>
<path stroke="#bbbf4b" d="M162.5 58.7h0"/>
<path stroke="#cbac63" d="M108.6 80.4h0"/>
<path stroke="#cfb862" d="M208.3 76.6h0"/>
<path stroke="#d6d05a" d="M188.2 65.6h0"/>
<path stroke="#874d2e" d="M74.6 112.2h0"/>
<path stroke="#cdb163" d="M212 79.1h0"/>
<path stroke="#b1612b" d="M87.7 100.1h0"/>
<path stroke="#c1c34e" d="M175.4 60.9h0"/>
<path stroke="#babf4a" d="M147.7 59.2h0"/>
<path stroke="#cbaa64" d="M215.7 81.8h0"/>
<path stroke="#d1bd61" d="M114.1 75.9h0"/>
<path stroke="#c49859" d="M100.9 87.5h0"/>
<path stroke="#67503b" d="M255.7 118h0"/>
<path stroke="#c8a260" d="M219.4 84.6h0"/>
<path stroke="#d6cf5b" d="M191.9 67.2h0"/>
<path stroke="#7e4d31" d="M252.1 114.5h0"/>
<path stroke="#c59959" d="M223 87.5h0"/>
<path stroke="#954b28" d="M248.5 110.9h0"/>
<path stroke="#a24f25" d="M80 107.6h0"/>
<path stroke="#a35026" d="M244.9 107.4h0"/>
<path stroke="#c19053" d="M226.7 90.6h0"/>
<path stroke="#b6bc48" d="M166.2 58.9h0"/>
<path stroke="#ab5a29" d="M241.3 103.9h0"/>
<path stroke="#b3bb46" d="M156.9 58.3h0"/>
<path stroke="#bd8348" d="M230.3 93.8h0"/>
<path stroke="#b3642d" d="M237.6 100.4h0"/>
<path stroke="#b8743b" d="M234 97.1h0"/>
<path stroke="#d4c85e" d="M119.6 71.8h0"/>
<path stroke="#bcc04b" d="M142 60.5h0"/>
<path stroke="#67503b" d="M66.7 118.8h0"/>
<path stroke="#bb7e44" d="M93.2 95.1h0"/>
<path stroke="#d5cd5b" d="M195.6 69.1h0"/>
<path stroke="#c0c34e" d="M179.1 61.9h0"/>
<path stroke="#d6cf5b" d="M125.2 68.1h0"/>
<path stroke="#c2c34e" d="M136.4 62.4h0"/>
<path stroke="#cbab64" d="M106.3 82.6h0"/>
<path stroke="#ccca54" d="M130.8 64.9h0"/>
<path stroke="#854d2f" d="M72.2 114.7h0"/>
<path stroke="#b05f2a" d="M85.4 102.7h0"/>
<path stroke="#d5cb5d" d="M199.3 71.2h0"/>
<path stroke="#b0b844" d="M151.3 58.5h0"/>
<path stroke="#b2ba45" d="M169.8 59.3h0"/>
<path stroke="#c49758" d="M98.6 90h0"/>
<path stroke="#c1c34e" d="M182.8 63.1h0"/>
<path stroke="#d1bd61" d="M111.8 77.9h0"/>
<path stroke="#d4c85e" d="M203 73.4h0"/>
<path stroke="#67503b" d="M254.2 120.3h0"/>
<path stroke="#acb642" d="M160.6 58.1h0"/>
<path stroke="#a14e25" d="M77.7 110.2h0"/>
<path stroke="#804d30" d="M250.6 116.5h0"/>
<path stroke="#d3c460" d="M206.8 75.9h0"/>
<path stroke="#ba7b41" d="M90.9 97.7h0"/>
<path stroke="#9a4a26" d="M247 112.6h0"/>
<path stroke="#b0b844" d="M145.6 59.4h0"/>
<path stroke="#d4c95e" d="M117.4 73.5h0"/>
<path stroke="#67503b" d="M64.3 121h0"/>
<path stroke="#a65327" d="M243.4 108.8h0"/>
<path stroke="#d1be61" d="M210.5 78.5h0"/>
<path stroke="#c3c44f" d="M186.5 64.5h0"/>
<path stroke="#cbaa64" d="M104.1 84.9h0"/>
<path stroke="#ae5e2a" d="M239.8 105.1h0"/>
<path stroke="#ceb662" d="M214.1 81.4h0"/>
<path stroke="#b0b844" d="M173.5 60h0"/>
<path stroke="#b66d35" d="M236.1 101.4h0"/>
<path stroke="#ae5d2a" d="M83.1 105.4h0"/>
<path stroke="#d6d05a" d="M123 69.6h0"/>
<path stroke="#ccad63" d="M217.8 84.4h0"/>
<path stroke="#834d2f" d="M69.8 117.1h0"/>
<path stroke="#b3bb46" d="M139.9 61h0"/>
<path stroke="#bc7f44" d="M232.5 97.8h0"/>
<path stroke="#c8a361" d="M221.5 87.5h0"/>
<path stroke="#c18e52" d="M228.9 94.2h0"/>
<path stroke="#c59959" d="M225.2 90.8h0"/>
<path stroke="#c7c651" d="M128.6 66.1h0"/>
<path stroke="#bbbf4b" d="M134.3 63.2h0"/>
<path stroke="#a6b345" d="M154.9 58h0"/>
<path stroke="#c7c651" d="M190.2 66.2h0"/>
<path stroke="#c39556" d="M96.3 92.5h0"/>
<path stroke="#a7b345" d="M164.2 58.2h0"/>
<path stroke="#d1bd61" d="M109.6 80.1h0"/>
<path stroke="#a04c25" d="M75.3 112.8h0"/>
<path stroke="#67503b" d="M252.7 122.6h0"/>
<path stroke="#b9773e" d="M88.6 100.4h0"/>
<path stroke="#afb844" d="M177.3 60.9h0"/>
<path stroke="#ccca54" d="M194 68.1h0"/>
<path stroke="#834d2f" d="M249.1 118.5h0"/>
<path stroke="#a4b24a" d="M149.2 58.6h0"/>
<path stroke="#67503b" d="M61.8 123.3h0"/>
<path stroke="#d4c95d" d="M115.2 75.5h0"/>
<path stroke="#caa864" d="M101.8 87.4h0"/>
<path stroke="#9e4a24" d="M245.5 114.4h0"/>
<path stroke="#d2cd58" d="M197.7 70.3h0"/>
<path stroke="#ac5b29" d="M80.8 108.2h0"/>
<path stroke="#a2b14d" d="M167.9 58.6h0"/>
<path stroke="#804d30" d="M67.4 119.7h0"/>
<path stroke="#a85628" d="M241.9 110.4h0"/>
<path stroke="#9eb055" d="M158.6 57.8h0"/>
<path stroke="#b0b844" d="M181 62.2h0"/>
<path stroke="#d6cf5b" d="M201.4 72.7h0"/>
<path stroke="#c29254" d="M94.1 95.3h0"/>
<path stroke="#d4cf59" d="M120.8 71.3h0"/>
<path stroke="#a6b345" d="M143.5 59.8h0"/>
<path stroke="#b2622b" d="M238.3 106.4h0"/>
<path stroke="#b8753c" d="M234.6 102.4h0"/>
<path stroke="#d5cb5c" d="M205.1 75.3h0"/>
<path stroke="#9e4a24" d="M72.9 115.5h0"/>
<path stroke="#d0bb61" d="M107.4 82.4h0"/>
<path stroke="#c3c44f" d="M126.4 67.6h0"/>
<path stroke="#acb642" d="M137.8 61.8h0"/>
<path stroke="#b8733a" d="M86.3 103.2h0"/>
<path stroke="#b6bc48" d="M132.1 64.4h0"/>
<path stroke="#bf894d" d="M231 98.6h0"/>
<path stroke="#d4c75f" d="M208.9 78.1h0"/>
<path stroke="#67503b" d="M251.2 124.9h0"/>
<path stroke="#c49657" d="M227.3 94.8h0"/>
<path stroke="#b2ba45" d="M184.7 63.6h0"/>
<path stroke="#d2c160" d="M212.6 81.1h0"/>
<path stroke="#c8a260" d="M223.7 91.2h0"/>
<path stroke="#cfb762" d="M216.3 84.3h0"/>
<path stroke="#ccad63" d="M220 87.7h0"/>
<path stroke="#9fb052" d="M171.7 59.3h0"/>
<path stroke="#99ae5e" d="M152.9 58h0"/>
<path stroke="#c9a663" d="M99.6 90.1h0"/>
<path stroke="#854d2f" d="M247.6 120.6h0"/>
<path stroke="#aa5928" d="M78.5 111h0"/>
<path stroke="#d4c95e" d="M113 77.7h0"/>
<path stroke="#67503b" d="M59.3 125.7h0"/>
<path stroke="#97ad62" d="M162.3 57.9h0"/>
<path stroke="#b6bc48" d="M188.5 65.4h0"/>
<path stroke="#7e4d31" d="M65 122.2h0"/>
<path stroke="#a04c25" d="M244 116.3h0"/>
<path stroke="#c18f52" d="M91.8 98.1h0"/>
<path stroke="#99ae5e" d="M147.1 59h0"/>
<path stroke="#d3ce58" d="M118.6 73.2h0"/>
<path stroke="#aa5928" d="M240.4 112h0"/>
<path stroke="#9eb054" d="M175.4 60.3h0"/>
<path stroke="#9a4a26" d="M70.5 118.3h0"/>
<path stroke="#d0b962" d="M105.1 85h0"/>
<path stroke="#b66d35" d="M84 106.2h0"/>
<path stroke="#bbbf4b" d="M192.2 67.4h0"/>
<path stroke="#b46830" d="M236.8 107.8h0"/>
<path stroke="#c1c34e" d="M124.3 69.2h0"/>
<path stroke="#9eb055" d="M141.4 60.6h0"/>
<path stroke="#67503b" d="M249.6 127.3h0"/>
<path stroke="#c2c34e" d="M196 69.7h0"/>
<path stroke="#c8a360" d="M97.3 92.9h0"/>
<path stroke="#90aa6f" d="M156.6 57.8h0"/>
<path stroke="#92ab6b" d="M166 58.2h0"/>
<path stroke="#b2ba45" d="M129.9 65.8h0"/>
<path stroke="#bb7d43" d="M233.1 103.6h0"/>
<path stroke="#a7b345" d="M135.7 62.8h0"/>
<path stroke="#a85628" d="M76.1 113.9h0"/>
<path stroke="#9fb052" d="M179.2 61.5h0"/>
<path stroke="#d4c85e" d="M110.7 80.1h0"/>
<path stroke="#c19053" d="M229.5 99.5h0"/>
<path stroke="#cac853" d="M199.7 72.2h0"/>
<path stroke="#874d2e" d="M246 122.7h0"/>
<path stroke="#c08b4f" d="M89.5 101.1h0"/>
<path stroke="#67503b" d="M56.8 128h0"/>
<path stroke="#7b4e32" d="M62.5 124.8h0"/>
<path stroke="#c69d5c" d="M225.8 95.5h0"/>
<path stroke="#d3ce58" d="M203.5 74.9h0"/>
<path stroke="#cbaa64" d="M222.1 91.6h0"/>
<path stroke="#d5cd5c" d="M207.2 77.9h0"/>
<path stroke="#b46830" d="M81.6 109.2h0"/>
<path stroke="#a14e25" d="M242.4 118.2h0"/>
<path stroke="#ceb662" d="M218.4 87.9h0"/>
<path stroke="#d4c85e" d="M211 81h0"/>
<path stroke="#8ea973" d="M150.8 58.3h0"/>
<path stroke="#954b28" d="M68.1 121.1h0"/>
<path stroke="#cfb662" d="M102.9 87.7h0"/>
<path stroke="#d2c160" d="M214.7 84.4h0"/>
<path stroke="#d4cf59" d="M116.4 75.4h0"/>
<path stroke="#a2b14d" d="M182.9 63h0"/>
<path stroke="#8faa70" d="M169.7 58.9h0"/>
<path stroke="#ac5b29" d="M238.8 113.7h0"/>
<path stroke="#89a77c" d="M160.3 57.8h0"/>
<path stroke="#c79f5e" d="M95 95.9h0"/>
<path stroke="#a65327" d="M73.7 117h0"/>
<path stroke="#c0c34e" d="M122 71.2h0"/>
<path stroke="#90aa6f" d="M145 59.6h0"/>
<path stroke="#67503b" d="M248.1 129.7h0"/>
<path stroke="#a7b345" d="M186.7 64.8h0"/>
<path stroke="#bd8449" d="M87.2 104.2h0"/>
<path stroke="#b66d35" d="M235.2 109.2h0"/>
<path stroke="#d4c75f" d="M108.5 82.7h0"/>
<path stroke="#b0b844" d="M127.8 67.4h0"/>
<path stroke="#97ad62" d="M139.3 61.6h0"/>
<path stroke="#a2b14d" d="M133.5 64.2h0"/>
<path stroke="#8ea972" d="M173.5 59.8h0"/>
<path stroke="#67503b" d="M54.3 130.4h0"/>
<path stroke="#794e34" d="M60 127.5h0"/>
<path stroke="#884c2d" d="M244.5 124.9h0"/>
<path stroke="#bd8449" d="M231.6 104.8h0"/>
<path stroke="#b2622b" d="M79.3 112.4h0"/>
<path stroke="#acb642" d="M190.5 66.9h0"/>
<path stroke="#cdb362" d="M100.6 90.7h0"/>
<path stroke="#85a684" d="M154.5 58h0"/>
<path stroke="#904c2a" d="M65.7 124h0"/>
<path stroke="#c39557" d="M227.9 100.5h0"/>
<path stroke="#84a585" d="M164 58.1h0"/>
<path stroke="#d6d05a" d="M114.1 77.9h0"/>
<path stroke="#c59b5a" d="M92.8 99.1h0"/>
<path stroke="#b3bb46" d="M194.3 69.2h0"/>
<path stroke="#a24f25" d="M240.9 120.2h0"/>
<path stroke="#c8a461" d="M224.2 96.4h0"/>
<path stroke="#a35026" d="M71.3 120h0"/>
<path stroke="#8faa70" d="M177.3 61.1h0"/>
<path stroke="#bcc04b" d="M198 71.8h0"/>
<path stroke="#bb7d43" d="M84.9 107.5h0"/>
<path stroke="#cdb163" d="M220.5 92.3h0"/>
<path stroke="#85a684" d="M148.7 59h0"/>
<path stroke="#c1c34e" d="M119.8 73.4h0"/>
<path stroke="#d3c55f" d="M106.2 85.5h0"/>
<path stroke="#c6c651" d="M201.8 74.7h0"/>
<path stroke="#ae5d2a" d="M237.3 115.5h0"/>
<path stroke="#d1be61" d="M216.8 88.4h0"/>
<path stroke="#67503b" d="M246.5 132h0"/>
<path stroke="#d1cd57" d="M205.6 77.8h0"/>
<path stroke="#d4c75f" d="M213.1 84.7h0"/>
<path stroke="#d5cd5c" d="M209.3 81.1h0"/>
<path stroke="#ae5e2a" d="M77 115.6h0"/>
<path stroke="#ccaf63" d="M98.4 93.8h0"/>
<path stroke="#afb844" d="M125.6 69.4h0"/>
<path stroke="#81a48b" d="M167.8 58.8h0"/>
<path stroke="#89a77c" d="M142.9 60.6h0"/>
<path stroke="#92ab6b" d="M181.1 62.6h0"/>
<path stroke="#764e35" d="M57.5 130.2h0"/>
<path stroke="#7da392" d="M158.2 58h0"/>
<path stroke="#b8733a" d="M233.6 110.8h0"/>
<path stroke="#67503b" d="M51.7 132.8h0"/>
<path stroke="#8b4c2c" d="M63.3 126.9h0"/>
<path stroke="#9fb052" d="M131.3 65.8h0"/>
<path stroke="#92ab6b" d="M137.1 62.9h0"/>
<path stroke="#c39557" d="M90.5 102.4h0"/>
<path stroke="#8a4c2c" d="M242.9 127.1h0"/>
<path stroke="#d6cf5b" d="M111.9 80.6h0"/>
<path stroke="#a04d25" d="M68.9 123.2h0"/>
<path stroke="#c08b4f" d="M230 106.2h0"/>
<path stroke="#b8753c" d="M82.6 110.9h0"/>
<path stroke="#97ad62" d="M184.9 64.5h0"/>
<path stroke="#a35026" d="M239.3 122.2h0"/>
<path stroke="#d2c260" d="M104 88.6h0"/>
<path stroke="#80a48d" d="M171.6 59.7h0"/>
<path stroke="#c59b5a" d="M226.3 101.7h0"/>
<path stroke="#7ba296" d="M152.4 58.6h0"/>
<path stroke="#ab5a29" d="M74.6 119h0"/>
<path stroke="#c3c44f" d="M117.6 75.9h0"/>
<path stroke="#9eb055" d="M188.7 66.6h0"/>
<path stroke="#caa964" d="M96.1 97.1h0"/>
<path stroke="#78a19c" d="M162 58.3h0"/>
<path stroke="#67503b" d="M244.9 134.5h0"/>
<path stroke="#caa964" d="M222.6 97.3h0"/>
<path stroke="#c19053" d="M88.2 105.8h0"/>
<path stroke="#b05f2a" d="M235.7 117.3h0"/>
<path stroke="#a6b345" d="M192.5 69.1h0"/>
<path stroke="#734f36" d="M55 132.9h0"/>
<path stroke="#b0b844" d="M123.3 71.6h0"/>
<path stroke="#854d2e" d="M60.8 129.9h0"/>
<path stroke="#7da392" d="M146.6 59.9h0"/>
<path stroke="#cfb862" d="M218.9 93.1h0"/>
<path stroke="#d5cd5b" d="M109.7 83.5h0"/>
<path stroke="#b66d35" d="M80.2 114.4h0"/>
<path stroke="#81a48b" d="M175.4 61h0"/>
<path stroke="#67503b" d="M49.1 135.2h0"/>
<path stroke="#9c4a25" d="M66.5 126.4h0"/>
<path stroke="#b0b844" d="M196.3 71.8h0"/>
<path stroke="#d3c460" d="M215.2 89h0"/>
<path stroke="#9eb054" d="M129.1 67.8h0"/>
<path stroke="#84a585" d="M140.8 61.9h0"/>
<path stroke="#8b4c2c" d="M241.3 129.4h0"/>
<path stroke="#b9773e" d="M232 112.5h0"/>
<path stroke="#babf4a" d="M200.1 74.8h0"/>
<path stroke="#d5cb5c" d="M211.4 85.2h0"/>
<path stroke="#8faa70" d="M134.9 64.5h0"/>
<path stroke="#d1bd61" d="M101.7 91.9h0"/>
<path stroke="#c6c651" d="M203.9 78h0"/>
<path stroke="#d3ce58" d="M207.7 81.5h0"/>
<path stroke="#a75527" d="M72.2 122.4h0"/>
<path stroke="#749fa4" d="M156.2 58.6h0"/>
<path stroke="#c8a461" d="M93.8 100.6h0"/>
<path stroke="#759fa1" d="M165.8 58.9h0"/>
<path stroke="#c7c651" d="M115.4 78.6h0"/>
<path stroke="#84a585" d="M179.2 62.6h0"/>
<path stroke="#c18f52" d="M228.4 107.7h0"/>
<path stroke="#bf894d" d="M85.9 109.4h0"/>
<path stroke="#a45226" d="M237.7 124.3h0"/>
<path stroke="#b3642d" d="M77.9 118h0"/>
<path stroke="#67503b" d="M243.3 136.9h0"/>
<path stroke="#c79f5e" d="M224.7 103.1h0"/>
<path stroke="#7f4d31" d="M58.3 132.9h0"/>
<path stroke="#d5cb5d" d="M107.4 86.7h0"/>
<path stroke="#749fa4" d="M150.3 59.5h0"/>
<path stroke="#b2ba45" d="M121.1 74.1h0"/>
<path stroke="#704f37" d="M52.4 135.6h0"/>
<path stroke="#89a77c" d="M183 64.5h0"/>
<path stroke="#944b28" d="M64.1 129.7h0"/>
<path stroke="#b1612b" d="M234.1 119.3h0"/>
<path stroke="#cfb862" d="M99.5 95.3h0"/>
<path stroke="#749fa3" d="M169.6 59.9h0"/>
<path stroke="#ccaf63" d="M221 98.5h0"/>
<path stroke="#c69d5c" d="M91.5 104.3h0"/>
<path stroke="#67503b" d="M46.4 137.7h0"/>
<path stroke="#a45126" d="M69.8 125.9h0"/>
<path stroke="#6e9dae" d="M160 58.8h0"/>
<path stroke="#9fb052" d="M126.9 70h0"/>
<path stroke="#78a19c" d="M144.5 61.1h0"/>
<path stroke="#90aa6f" d="M186.9 66.7h0"/>
<path stroke="#bc7f44" d="M83.6 113.2h0"/>
<path stroke="#8c4c2b" d="M239.7 131.7h0"/>
<path stroke="#8ea972" d="M132.8 66.4h0"/>
<path stroke="#d1bd61" d="M217.3 94.1h0"/>
<path stroke="#81a48b" d="M138.6 63.5h0"/>
<path stroke="#ccca54" d="M113.1 81.6h0"/>
<path stroke="#ba7b41" d="M230.4 114.3h0"/>
<path stroke="#99ae5e" d="M190.7 69.2h0"/>
<path stroke="#ae5e2a" d="M75.6 121.7h0"/>
<path stroke="#d4c85e" d="M213.5 89.9h0"/>
<path stroke="#759fa1" d="M173.4 61.2h0"/>
<path stroke="#d4c85e" d="M105.1 90h0"/>
<path stroke="#a4b24a" d="M194.5 72h0"/>
<path stroke="#d6cf5b" d="M209.7 85.8h0"/>
<path stroke="#a55226" d="M236.1 126.5h0"/>
<path stroke="#cdb163" d="M97.2 99h0"/>
<path stroke="#b0b844" d="M198.3 75.1h0"/>
<path stroke="#794e33" d="M55.8 136h0"/>
<path stroke="#6c9cb2" d="M154.1 59.4h0"/>
<path stroke="#8b4c2c" d="M61.7 133h0"/>
<path stroke="#cac853" d="M206 82h0"/>
<path stroke="#c29254" d="M226.7 109.4h0"/>
<path stroke="#bcc04b" d="M202.2 78.4h0"/>
<path stroke="#c49657" d="M89.2 108.1h0"/>
<path stroke="#b6bc48" d="M118.9 76.9h0"/>
<path stroke="#67503b" d="M241.7 139.4h0"/>
<path stroke="#6b9cb4" d="M163.8 59.4h0"/>
<path stroke="#6d4f38" d="M49.8 138.4h0"/>
<path stroke="#a04c25" d="M67.4 129.5h0"/>
<path stroke="#b8743b" d="M81.2 117h0"/>
<path stroke="#78a19c" d="M177.3 62.8h0"/>
<path stroke="#c8a360" d="M223 104.5h0"/>
<path stroke="#a2b14d" d="M124.7 72.6h0"/>
<path stroke="#6e9dae" d="M148.2 60.7h0"/>
<path stroke="#d2cd58" d="M110.9 84.9h0"/>
<path stroke="#b2632c" d="M232.4 121.3h0"/>
<path stroke="#aa5828" d="M73.2 125.4h0"/>
<path stroke="#67503b" d="M43.8 140.2h0"/>
<path stroke="#d3c460" d="M102.9 93.7h0"/>
<path stroke="#8d4c2b" d="M238 134.1h0"/>
<path stroke="#8faa70" d="M130.5 68.7h0"/>
<path stroke="#759fa1" d="M142.3 62.7h0"/>
<path stroke="#cbaa64" d="M94.9 102.8h0"/>
<path stroke="#cdb362" d="M219.3 99.8h0"/>
<path stroke="#7da392" d="M181.1 64.7h0"/>
<path stroke="#c18e52" d="M86.9 112h0"/>
<path stroke="#80a48d" d="M136.4 65.4h0"/>
<path stroke="#6a9bb6" d="M167.6 60.4h0"/>
<path stroke="#679abd" d="M157.9 59.7h0"/>
<path stroke="#824d30" d="M59.2 136.4h0"/>
<path stroke="#b46931" d="M78.9 121h0"/>
<path stroke="#bb7e44" d="M228.7 116.2h0"/>
<path stroke="#734f36" d="M53.3 139.1h0"/>
<path stroke="#bbbf4b" d="M116.7 80h0"/>
<path stroke="#974b27" d="M65 133.1h0"/>
<path stroke="#d2c260" d="M215.6 95.3h0"/>
<path stroke="#85a684" d="M185 67h0"/>
<path stroke="#a65327" d="M234.4 128.7h0"/>
<path stroke="#6a503a" d="M47.2 141.2h0"/>
<path stroke="#a55226" d="M70.8 129.3h0"/>
<path stroke="#d5cb5d" d="M211.8 90.9h0"/>
<path stroke="#d6cf5b" d="M108.6 88.4h0"/>
<path stroke="#67503b" d="M240 141.9h0"/>
<path stroke="#8ea973" d="M188.8 69.6h0"/>
<path stroke="#c39556" d="M225.1 111.1h0"/>
<path stroke="#d1be61" d="M100.6 97.5h0"/>
<path stroke="#679abd" d="M152 60.6h0"/>
<path stroke="#c8a260" d="M92.6 106.8h0"/>
<path stroke="#6b9cb4" d="M171.5 61.7h0"/>
<path stroke="#a7b345" d="M122.5 75.4h0"/>
<path stroke="#d2cd58" d="M208 86.8h0"/>
<path stroke="#bd8348" d="M84.6 116.1h0"/>
<path stroke="#99ae5e" d="M192.7 72.5h0"/>
<path stroke="#c2c34e" d="M204.2 82.8h0"/>
<path stroke="#a6b345" d="M196.5 75.6h0"/>
<path stroke="#b3bb46" d="M200.4 79.1h0"/>
<path stroke="#af5f2a" d="M76.6 125h0"/>
<path stroke="#6398c3" d="M161.7 60.3h0"/>
<path stroke="#67503b" d="M41.1 142.7h0"/>
<path stroke="#b3652d" d="M230.7 123.5h0"/>
<path stroke="#92ab6b" d="M128.3 71.3h0"/>
<path stroke="#6b9cb4" d="M146.1 62.3h0"/>
<path stroke="#c9a663" d="M221.3 106.2h0"/>
<path stroke="#794e33" d="M56.7 139.8h0"/>
<path stroke="#8b4c2c" d="M62.6 136.8h0"/>
<path stroke="#c2c34e" d="M114.4 83.3h0"/>
<path stroke="#8e4c2b" d="M236.4 136.5h0"/>
<path stroke="#81a48b" d="M134.2 67.7h0"/>
<path stroke="#6e9dae" d="M175.3 63.3h0"/>
<path stroke="#749fa3" d="M140.1 64.7h0"/>
<path stroke="#6d4f38" d="M50.7 142.2h0"/>
<path stroke="#a04c25" d="M68.5 133.3h0"/>
<path stroke="#d5cb5c" d="M106.4 92.2h0"/>
<path stroke="#c59959" d="M90.4 111h0"/>
<path stroke="#ceb662" d="M98.4 101.5h0"/>
<path stroke="#b9763d" d="M82.3 120.4h0"/>
<path stroke="#cfb662" d="M217.6 101.4h0"/>
<path stroke="#bc8146" d="M227.1 118.2h0"/>
<path stroke="#6198c7" d="M155.8 60.9h0"/>
<path stroke="#aa5828" d="M74.3 129.2h0"/>
<path stroke="#67503b" d="M44.6 144h0"/>
<path stroke="#6298c5" d="M165.6 61.3h0"/>
<path stroke="#749fa4" d="M179.2 65.3h0"/>
<path stroke="#acb642" d="M120.2 78.6h0"/>
<path stroke="#a65427" d="M232.7 131.1h0"/>
<path stroke="#d3c55f" d="M213.8 96.7h0"/>
<path stroke="#67503b" d="M238.4 144.4h0"/>
<path stroke="#7f4d31" d="M60.2 140.6h0"/>
<path stroke="#cac853" d="M112.2 87h0"/>
<path stroke="#7ba296" d="M183.1 67.6h0"/>
<path stroke="#c49758" d="M223.3 113.1h0"/>
<path stroke="#c19053" d="M88.1 115.4h0"/>
<path stroke="#704f37" d="M54.2 143.3h0"/>
<path stroke="#d5cd5b" d="M210 92.2h0"/>
<path stroke="#944b28" d="M66.1 137.3h0"/>
<path stroke="#97ad62" d="M126.1 74.2h0"/>
<path stroke="#ccad63" d="M96.1 105.7h0"/>
<path stroke="#6398c3" d="M149.9 62.2h0"/>
<path stroke="#b46931" d="M80 124.7h0"/>
<path stroke="#d4c75f" d="M104.1 96.1h0"/>
<path stroke="#85a684" d="M187 70.3h0"/>
<path stroke="#6398c3" d="M169.5 62.6h0"/>
<path stroke="#ccca54" d="M206.2 87.9h0"/>
<path stroke="#b3662f" d="M229 125.7h0"/>
<path stroke="#67503b" d="M48.1 145.4h0"/>
<path stroke="#a45126" d="M71.9 133.4h0"/>
<path stroke="#84a585" d="M132 70.3h0"/>
<path stroke="#6a9bb6" d="M143.9 64.2h0"/>
<path stroke="#5e96cd" d="M159.7 61.5h0"/>
<path stroke="#759fa1" d="M138 66.9h0"/>
<path stroke="#8e4c2b" d="M234.7 138.9h0"/>
<path stroke="#90aa6f" d="M190.8 73.2h0"/>
<path stroke="#bbbf4b" d="M202.4 83.9h0"/>
<path stroke="#caa864" d="M219.6 108h0"/>
<path stroke="#9eb055" d="M194.7 76.5h0"/>
<path stroke="#acb642" d="M198.6 80h0"/>
<path stroke="#b3bb46" d="M118 82h0"/>
<path stroke="#bd8348" d="M85.8 119.8h0"/>
<path stroke="#c8a361" d="M93.8 110.1h0"/>
<path stroke="#ae5e2a" d="M77.7 129.1h0"/>
<path stroke="#d3ce58" d="M109.9 90.8h0"/>
<path stroke="#d2c160" d="M101.9 100.3h0"/>
<path stroke="#679abd" d="M173.3 64.2h0"/>
<path stroke="#734f36" d="M57.7 144.4h0"/>
<path stroke="#854d2e" d="M63.7 141.3h0"/>
<path stroke="#bd8348" d="M225.3 120.4h0"/>
<path stroke="#d0b962" d="M215.9 103.1h0"/>
<path stroke="#5e96cd" d="M153.7 62.5h0"/>
<path stroke="#67503b" d="M51.7 146.8h0"/>
<path stroke="#a65427" d="M231 133.5h0"/>
<path stroke="#9c4a25" d="M69.6 137.8h0"/>
<path stroke="#9eb055" d="M123.9 77.4h0"/>
<path stroke="#67503b" d="M236.7 146.9h0"/>
<path stroke="#5d96cf" d="M163.5 62.5h0"/>
<path stroke="#d4c75f" d="M212.1 98.3h0"/>
<path stroke="#6c9cb2" d="M177.2 66.3h0"/>
<path stroke="#b8743b" d="M83.5 124.4h0"/>
<path stroke="#c59959" d="M91.6 114.7h0"/>
<path stroke="#a75527" d="M75.4 133.7h0"/>
<path stroke="#89a77c" d="M129.8 73.2h0"/>
<path stroke="#c49859" d="M221.6 115.1h0"/>
<path stroke="#6298c5" d="M147.7 64.2h0"/>
<path stroke="#bcc04b" d="M115.8 85.7h0"/>
<path stroke="#cfb762" d="M99.6 104.8h0"/>
<path stroke="#d5cd5c" d="M107.7 95h0"/>
<path stroke="#78a19c" d="M135.8 69.6h0"/>
<path stroke="#d6cf5b" d="M208.3 93.7h0"/>
<path stroke="#6b9cb4" d="M141.7 66.5h0"/>
<path stroke="#749fa4" d="M181.1 68.6h0"/>
<path stroke="#b4672f" d="M227.3 128h0"/>
<path stroke="#764e35" d="M61.3 145.4h0"/>
<path stroke="#8e4c2b" d="M233 141.5h0"/>
<path stroke="#67503b" d="M55.3 148.2h0"/>
<path stroke="#8b4c2c" d="M67.2 142.1h0"/>
<path stroke="#c7c651" d="M204.4 89.3h0"/>
<path stroke="#5e96cd" d="M167.4 63.8h0"/>
<path stroke="#b3642d" d="M81.2 129.1h0"/>
<path stroke="#5a95d4" d="M157.6 63.1h0"/>
<path stroke="#7da392" d="M185 71.3h0"/>
<path stroke="#cbaa64" d="M217.9 110h0"/>
<path stroke="#c18e52" d="M89.3 119.4h0"/>
<path stroke="#a6b345" d="M121.6 80.9h0"/>
<path stroke="#b6bc48" d="M200.6 85.2h0"/>
<path stroke="#a04d25" d="M73.1 138.3h0"/>
<path stroke="#89a77c" d="M188.9 74.3h0"/>
<path stroke="#ccad63" d="M97.4 109.4h0"/>
<path stroke="#a7b345" d="M196.7 81.3h0"/>
<path stroke="#97ad62" d="M192.8 77.7h0"/>
<path stroke="#c6c651" d="M113.5 89.7h0"/>
<path stroke="#d4c85e" d="M105.4 99.3h0"/>
<path stroke="#bd8449" d="M223.6 122.6h0"/>
<path stroke="#d0bb61" d="M214.1 105h0"/>
<path stroke="#a65427" d="M229.3 136h0"/>
<path stroke="#90aa6f" d="M127.6 76.5h0"/>
<path stroke="#5d96cf" d="M151.6 64.4h0"/>
<path stroke="#6198c7" d="M171.3 65.5h0"/>
<path stroke="#67503b" d="M235 149.5h0"/>
<path stroke="#ab5a29" d="M78.9 133.9h0"/>
<path stroke="#67503b" d="M58.8 149.6h0"/>
<path stroke="#794e34" d="M64.8 146.5h0"/>
<path stroke="#bc7f44" d="M87 124.3h0"/>
<path stroke="#c8a260" d="M95.1 114.1h0"/>
<path stroke="#904c2a" d="M70.8 142.9h0"/>
<path stroke="#5994d6" d="M161.4 64.1h0"/>
<path stroke="#7da392" d="M133.5 72.6h0"/>
<path stroke="#6398c3" d="M145.5 66.5h0"/>
<path stroke="#d4c85e" d="M210.3 100.1h0"/>
<path stroke="#6e9dae" d="M139.5 69.2h0"/>
<path stroke="#c59959" d="M219.9 117.3h0"/>
<path stroke="#b0b844" d="M119.4 84.8h0"/>
<path stroke="#d2c160" d="M103.2 103.9h0"/>
<path stroke="#679abd" d="M175.2 67.5h0"/>
<path stroke="#d1cd57" d="M111.3 94h0"/>
<path stroke="#b46730" d="M225.6 130.5h0"/>
<path stroke="#b66d35" d="M84.8 129.2h0"/>
<path stroke="#a35026" d="M76.6 138.8h0"/>
<path stroke="#8e4c2b" d="M231.3 144h0"/>
<path stroke="#d6d05a" d="M206.4 95.4h0"/>
<path stroke="#c49657" d="M92.9 119.1h0"/>
<path stroke="#67503b" d="M62.4 151h0"/>
<path stroke="#6e9dae" d="M179.2 69.9h0"/>
<path stroke="#5994d6" d="M155.4 65.1h0"/>
<path stroke="#7b4e32" d="M68.4 147.7h0"/>
<path stroke="#99ae5e" d="M125.3 80.1h0"/>
<path stroke="#cbab64" d="M216.1 112.1h0"/>
<path stroke="#5a95d4" d="M165.4 65.4h0"/>
<path stroke="#c3c44f" d="M202.6 91h0"/>
<path stroke="#ceb662" d="M100.9 108.7h0"/>
<path stroke="#78a19c" d="M183.1 72.7h0"/>
<path stroke="#ae5e2a" d="M82.5 134.3h0"/>
<path stroke="#b2ba45" d="M198.7 86.8h0"/>
<path stroke="#954b28" d="M74.3 143.8h0"/>
<path stroke="#d5cd5c" d="M109 98.5h0"/>
<path stroke="#babf4a" d="M117.2 88.9h0"/>
<path stroke="#bd8449" d="M221.8 125.1h0"/>
<path stroke="#84a585" d="M187 75.7h0"/>
<path stroke="#85a684" d="M131.3 75.9h0"/>
<path stroke="#bf894d" d="M90.6 124.2h0"/>
<path stroke="#a2b14d" d="M194.8 82.8h0"/>
<path stroke="#5e96cd" d="M149.4 66.8h0"/>
<path stroke="#a65427" d="M227.6 138.5h0"/>
<path stroke="#92ab6b" d="M190.9 79.1h0"/>
<path stroke="#67503b" d="M233.3 152.1h0"/>
<path stroke="#d1bd61" d="M212.3 107.1h0"/>
<path stroke="#749fa4" d="M137.3 72.2h0"/>
<path stroke="#679abd" d="M143.4 69.2h0"/>
<path stroke="#5e96cd" d="M169.3 67.1h0"/>
<path stroke="#67503b" d="M66.1 152.4h0"/>
<path stroke="#cbaa64" d="M98.7 113.7h0"/>
<path stroke="#a65327" d="M80.2 139.5h0"/>
<path stroke="#5894d8" d="M159.3 66h0"/>
<path stroke="#7e4d31" d="M72 148.8h0"/>
<path stroke="#b8753c" d="M88.4 129.4h0"/>
<path stroke="#a4b24a" d="M123.1 84h0"/>
<path stroke="#c5995a" d="M218.1 119.7h0"/>
<path stroke="#d4c75f" d="M106.8 103.3h0"/>
<path stroke="#d4c95e" d="M208.4 102.1h0"/>
<path stroke="#c6c651" d="M114.9 93.3h0"/>
<path stroke="#b4672f" d="M223.8 133h0"/>
<path stroke="#6398c3" d="M173.2 69.2h0"/>
<path stroke="#c69d5c" d="M96.4 118.9h0"/>
<path stroke="#8e4c2b" d="M229.5 146.6h0"/>
<path stroke="#9a4a26" d="M78 144.7h0"/>
<path stroke="#d4cf59" d="M204.6 97.4h0"/>
<path stroke="#b2622b" d="M86.1 134.7h0"/>
<path stroke="#8ea973" d="M129.1 79.6h0"/>
<path stroke="#5a95d4" d="M153.3 67.4h0"/>
<path stroke="#67503b" d="M69.7 153.8h0"/>
<path stroke="#cbac63" d="M214.3 114.5h0"/>
<path stroke="#d1be61" d="M104.6 108.3h0"/>
<path stroke="#6b9cb4" d="M177.2 71.6h0"/>
<path stroke="#5994d6" d="M163.3 67.4h0"/>
<path stroke="#c1c34e" d="M200.7 92.9h0"/>
<path stroke="#c19053" d="M94.2 124.2h0"/>
<path stroke="#7ba296" d="M135.1 75.6h0"/>
<path stroke="#6198c7" d="M147.2 69.5h0"/>
<path stroke="#b0b844" d="M120.9 88.3h0"/>
<path stroke="#d3ce58" d="M112.7 97.9h0"/>
<path stroke="#bd8449" d="M220 127.6h0"/>
<path stroke="#804d30" d="M75.7 150h0"/>
<path stroke="#6c9cb2" d="M141.2 72.2h0"/>
<path stroke="#a85628" d="M83.9 140.1h0"/>
<path stroke="#759fa1" d="M181.1 74.4h0"/>
<path stroke="#a65427" d="M225.8 141.1h0"/>
<path stroke="#b0b844" d="M196.8 88.6h0"/>
<path stroke="#67503b" d="M231.5 154.8h0"/>
<path stroke="#81a48b" d="M185 77.5h0"/>
<path stroke="#9fb052" d="M192.9 84.6h0"/>
<path stroke="#d1bd61" d="M210.4 109.4h0"/>
<path stroke="#cdb163" d="M102.3 113.5h0"/>
<path stroke="#8faa70" d="M189 80.9h0"/>
<path stroke="#bb7d43" d="M92 129.6h0"/>
<path stroke="#5d96cf" d="M167.2 69.1h0"/>
<path stroke="#5994d6" d="M157.2 68.4h0"/>
<path stroke="#9e4a24" d="M81.6 145.6h0"/>
<path stroke="#67503b" d="M73.4 155.3h0"/>
<path stroke="#99ae5e" d="M126.9 83.6h0"/>
<path stroke="#d5cb5c" d="M110.5 102.9h0"/>
<path stroke="#c59959" d="M216.2 122.2h0"/>
<path stroke="#bcc04b" d="M118.6 92.8h0"/>
<path stroke="#d4c95d" d="M206.6 104.4h0"/>
<path stroke="#c8a461" d="M100.1 118.8h0"/>
<path stroke="#b46830" d="M89.7 135.2h0"/>
<path stroke="#b3662f" d="M222 135.7h0"/>
<path stroke="#8d4c2b" d="M227.8 149.3h0"/>
<path stroke="#834d2f" d="M79.4 151.1h0"/>
<path stroke="#85a684" d="M132.9 79.3h0"/>
<path stroke="#5e96cd" d="M151.1 70.1h0"/>
<path stroke="#6298c5" d="M171.2 71.2h0"/>
<path stroke="#d3c460" d="M108.2 108h0"/>
<path stroke="#aa5928" d="M87.5 140.8h0"/>
<path stroke="#d3ce58" d="M202.7 99.7h0"/>
<path stroke="#749fa4" d="M139 75.6h0"/>
<path stroke="#c39557" d="M97.9 124.3h0"/>
<path stroke="#679abd" d="M145 72.5h0"/>
<path stroke="#cbab64" d="M212.4 117h0"/>
<path stroke="#5a95d4" d="M161.1 69.8h0"/>
<path stroke="#67503b" d="M77.1 156.7h0"/>
<path stroke="#a6b345" d="M124.6 87.9h0"/>
<path stroke="#6a9bb6" d="M175.1 73.6h0"/>
<path stroke="#cac853" d="M116.4 97.6h0"/>
<path stroke="#c0c34e" d="M198.8 95.1h0"/>
<path stroke="#bd8348" d="M218.2 130.3h0"/>
<path stroke="#a04c25" d="M85.3 146.6h0"/>
<path stroke="#bd8449" d="M95.6 130h0"/>
<path stroke="#a65327" d="M224 143.9h0"/>
<path stroke="#cfb862" d="M106 113.3h0"/>
<path stroke="#749fa3" d="M179.1 76.4h0"/>
<path stroke="#afb844" d="M194.9 90.8h0"/>
<path stroke="#67503b" d="M229.8 157.4h0"/>
<path stroke="#d1bd61" d="M208.6 111.9h0"/>
<path stroke="#80a48d" d="M183 79.6h0"/>
<path stroke="#854d2f" d="M83 152.4h0"/>
<path stroke="#90aa6f" d="M130.7 83.4h0"/>
<path stroke="#5d96cf" d="M155 71.1h0"/>
<path stroke="#9eb054" d="M191 86.8h0"/>
<path stroke="#b66d35" d="M93.4 135.8h0"/>
<path stroke="#8ea972" d="M187 83h0"/>
<path stroke="#5e96cd" d="M165.1 71.5h0"/>
<path stroke="#d6cf5b" d="M114.2 102.6h0"/>
<path stroke="#caa964" d="M103.8 118.9h0"/>
<path stroke="#b3bb46" d="M122.4 92.5h0"/>
<path stroke="#c49859" d="M214.4 124.9h0"/>
<path stroke="#7da392" d="M136.7 79.4h0"/>
<path stroke="#67503b" d="M80.8 158.2h0"/>
<path stroke="#6398c3" d="M148.9 73.2h0"/>
<path stroke="#ac5b29" d="M91.2 141.6h0"/>
<path stroke="#d4c95e" d="M204.7 106.9h0"/>
<path stroke="#b3652d" d="M220.2 138.4h0"/>
<path stroke="#6e9dae" d="M142.8 76h0"/>
<path stroke="#c59b5a" d="M101.6 124.6h0"/>
<path stroke="#8c4c2b" d="M226 152h0"/>
<path stroke="#6398c3" d="M169.1 73.6h0"/>
<path stroke="#d4c85e" d="M111.9 107.9h0"/>
<path stroke="#a14e25" d="M89 147.6h0"/>
<path stroke="#5e96cd" d="M159 72.5h0"/>
<path stroke="#d4cf59" d="M200.8 102.1h0"/>
<path stroke="#9eb055" d="M128.4 87.8h0"/>
<path stroke="#cbaa64" d="M210.5 119.7h0"/>
<path stroke="#c2c34e" d="M120.2 97.4h0"/>
<path stroke="#c08b4f" d="M99.3 130.5h0"/>
<path stroke="#874d2e" d="M86.8 153.6h0"/>
<path stroke="#6b9cb4" d="M173 76h0"/>
<path stroke="#d1bd61" d="M109.7 113.4h0"/>
<path stroke="#bc8146" d="M216.4 133.1h0"/>
<path stroke="#c1c34e" d="M196.9 97.6h0"/>
<path stroke="#b8733a" d="M97.1 136.4h0"/>
<path stroke="#67503b" d="M84.5 159.6h0"/>
<path stroke="#89a77c" d="M134.5 83.5h0"/>
<path stroke="#a55226" d="M222.2 146.7h0"/>
<path stroke="#6298c5" d="M152.9 74.2h0"/>
<path stroke="#759fa1" d="M177 78.9h0"/>
<path stroke="#b0b844" d="M192.9 93.3h0"/>
<path stroke="#d0bb61" d="M206.7 114.6h0"/>
<path stroke="#ae5d2a" d="M94.9 142.5h0"/>
<path stroke="#d2cd58" d="M117.9 102.6h0"/>
<path stroke="#6198c7" d="M163 74.2h0"/>
<path stroke="#ccaf63" d="M107.5 119.1h0"/>
<path stroke="#78a19c" d="M140.6 79.8h0"/>
<path stroke="#67503b" d="M228 160.1h0"/>
<path stroke="#6b9cb4" d="M146.7 76.7h0"/>
<path stroke="#81a48b" d="M181 82h0"/>
<path stroke="#9fb052" d="M189 89.2h0"/>
<path stroke="#acb642" d="M126.2 92.5h0"/>
<path stroke="#8faa70" d="M185 85.5h0"/>
<path stroke="#a24f25" d="M92.7 148.7h0"/>
<path stroke="#c49758" d="M212.5 127.8h0"/>
<path stroke="#c79f5e" d="M105.3 125h0"/>
<path stroke="#884c2d" d="M90.5 154.9h0"/>
<path stroke="#d4c85e" d="M202.8 109.6h0"/>
<path stroke="#b2632c" d="M218.3 141.3h0"/>
<path stroke="#d5cb5d" d="M115.7 108h0"/>
<path stroke="#679abd" d="M167 76.4h0"/>
<path stroke="#c18f52" d="M103.1 131h0"/>
<path stroke="#97ad62" d="M132.3 88h0"/>
<path stroke="#67503b" d="M88.3 161.1h0"/>
<path stroke="#6398c3" d="M156.8 75.6h0"/>
<path stroke="#8b4c2c" d="M224.2 154.8h0"/>
<path stroke="#bbbf4b" d="M124 97.5h0"/>
<path stroke="#d6d05a" d="M198.8 104.9h0"/>
<path stroke="#b9773e" d="M100.9 137.2h0"/>
<path stroke="#caa864" d="M208.6 122.6h0"/>
<path stroke="#d2c260" d="M113.5 113.7h0"/>
<path stroke="#84a585" d="M138.4 84h0"/>
<path stroke="#6a9bb6" d="M150.7 77.7h0"/>
<path stroke="#6e9dae" d="M171 78.8h0"/>
<path stroke="#b05f2a" d="M98.7 143.4h0"/>
<path stroke="#759fa1" d="M144.5 80.5h0"/>
<path stroke="#bb7e44" d="M214.5 136h0"/>
<path stroke="#c3c44f" d="M194.9 100.3h0"/>
<path stroke="#a35026" d="M96.5 149.8h0"/>
<path stroke="#cdb362" d="M111.3 119.5h0"/>
<path stroke="#ccca54" d="M121.7 102.8h0"/>
<path stroke="#679abd" d="M160.8 77.4h0"/>
<path stroke="#78a19c" d="M175 81.6h0"/>
<path stroke="#a45226" d="M220.3 149.5h0"/>
<path stroke="#a7b345" d="M130.1 92.8h0"/>
<path stroke="#8a4c2c" d="M94.3 156.2h0"/>
<path stroke="#d0b962" d="M204.7 117.5h0"/>
<path stroke="#b2ba45" d="M190.9 96h0"/>
<path stroke="#67503b" d="M92.1 162.6h0"/>
<path stroke="#84a585" d="M179 84.8h0"/>
<path stroke="#c8a360" d="M109.1 125.5h0"/>
<path stroke="#a2b14d" d="M186.9 92h0"/>
<path stroke="#92ab6b" d="M183 88.2h0"/>
<path stroke="#67503b" d="M226.2 162.8h0"/>
<path stroke="#c39556" d="M210.6 130.7h0"/>
<path stroke="#d5cd5b" d="M119.5 108.3h0"/>
<path stroke="#c29254" d="M106.9 131.7h0"/>
<path stroke="#92ab6b" d="M136.2 88.5h0"/>
<path stroke="#6b9cb4" d="M154.7 79.1h0"/>
<path stroke="#d4c75f" d="M200.8 112.6h0"/>
<path stroke="#6c9cb2" d="M164.8 79.5h0"/>
<path stroke="#ba7b41" d="M104.7 138h0"/>
<path stroke="#b6bc48" d="M127.8 97.9h0"/>
<path stroke="#b1612b" d="M216.5 144.3h0"/>
<path stroke="#81a48b" d="M142.3 84.8h0"/>
<path stroke="#749fa3" d="M148.5 81.6h0"/>
<path stroke="#b1612b" d="M102.5 144.4h0"/>
<path stroke="#d3c55f" d="M117.3 114.1h0"/>
<path stroke="#a45226" d="M100.3 150.9h0"/>
<path stroke="#d6cf5b" d="M196.9 107.9h0"/>
<path stroke="#8a4c2c" d="M222.4 157.7h0"/>
<path stroke="#c9a663" d="M206.7 125.6h0"/>
<path stroke="#8b4c2c" d="M98.1 157.5h0"/>
<path stroke="#749fa4" d="M168.8 82h0"/>
<path stroke="#67503b" d="M95.9 164.1h0"/>
<path stroke="#cfb662" d="M115.1 120.1h0"/>
<path stroke="#a2b14d" d="M133.9 93.3h0"/>
<path stroke="#6e9dae" d="M158.7 80.9h0"/>
<path stroke="#c7c651" d="M125.6 103.2h0"/>
<path stroke="#c7c651" d="M192.9 103.4h0"/>
<path stroke="#ba7b41" d="M212.6 139h0"/>
<path stroke="#7da392" d="M172.9 84.8h0"/>
<path stroke="#c9a663" d="M112.9 126.2h0"/>
<path stroke="#b6bc48" d="M188.9 99.1h0"/>
<path stroke="#cfb662" d="M202.8 120.6h0"/>
<path stroke="#8faa70" d="M140.1 89.3h0"/>
<path stroke="#89a77c" d="M176.9 87.9h0"/>
<path stroke="#759fa1" d="M152.5 83h0"/>
<path stroke="#a35026" d="M218.5 152.5h0"/>
<path stroke="#c39556" d="M110.7 132.5h0"/>
<path stroke="#a7b345" d="M184.9 95.1h0"/>
<path stroke="#d6cf5b" d="M123.4 108.9h0"/>
<path stroke="#97ad62" d="M180.9 91.3h0"/>
<path stroke="#80a48d" d="M146.3 85.9h0"/>
<path stroke="#bb7e44" d="M108.5 139h0"/>
<path stroke="#749fa4" d="M162.7 83h0"/>
<path stroke="#b2ba45" d="M131.7 98.5h0"/>
<path stroke="#b2632c" d="M106.3 145.5h0"/>
<path stroke="#c29254" d="M208.7 133.9h0"/>
<path stroke="#a55226" d="M104.1 152.2h0"/>
<path stroke="#8c4c2b" d="M101.9 158.8h0"/>
<path stroke="#d3c55f" d="M198.8 115.8h0"/>
<path stroke="#67503b" d="M99.7 165.6h0"/>
<path stroke="#d4c75f" d="M121.2 114.7h0"/>
<path stroke="#67503b" d="M224.4 165.6h0"/>
<path stroke="#b05f2a" d="M214.6 147.3h0"/>
<path stroke="#7ba296" d="M166.7 85.5h0"/>
<path stroke="#9fb052" d="M137.9 94.2h0"/>
<path stroke="#78a19c" d="M156.5 84.8h0"/>
<path stroke="#d0b962" d="M118.9 120.8h0"/>
<path stroke="#d5cd5b" d="M194.8 111.1h0"/>
<path stroke="#c3c44f" d="M129.5 103.9h0"/>
<path stroke="#c8a360" d="M204.7 128.9h0"/>
<path stroke="#8ea972" d="M144.1 90.4h0"/>
<path stroke="#caa864" d="M116.7 127.1h0"/>
<path stroke="#81a48b" d="M150.3 87.3h0"/>
<path stroke="#884c2d" d="M220.5 160.5h0"/>
<path stroke="#85a684" d="M170.7 88.2h0"/>
<path stroke="#ccca54" d="M190.9 106.6h0"/>
<path stroke="#c49758" d="M114.5 133.5h0"/>
<path stroke="#b9773e" d="M210.7 142.2h0"/>
<path stroke="#d6d05a" d="M127.3 109.6h0"/>
<path stroke="#bc8146" d="M112.3 140.1h0"/>
<path stroke="#90aa6f" d="M174.8 91.3h0"/>
<path stroke="#bbbf4b" d="M186.8 102.4h0"/>
<path stroke="#b3652d" d="M110.1 146.7h0"/>
<path stroke="#cdb362" d="M200.8 123.9h0"/>
<path stroke="#b0b844" d="M135.7 99.4h0"/>
<path stroke="#a65327" d="M107.9 153.4h0"/>
<path stroke="#7da392" d="M160.5 86.9h0"/>
<path stroke="#8d4c2b" d="M105.8 160.2h0"/>
<path stroke="#67503b" d="M103.6 167.1h0"/>
<path stroke="#9eb055" d="M178.8 94.7h0"/>
<path stroke="#acb642" d="M182.8 98.4h0"/>
<path stroke="#d4c85e" d="M125 115.6h0"/>
<path stroke="#a24f25" d="M216.6 155.5h0"/>
<path stroke="#9eb054" d="M141.8 95.3h0"/>
<path stroke="#84a585" d="M154.3 89h0"/>
<path stroke="#c18f52" d="M206.7 137.2h0"/>
<path stroke="#d2c260" d="M196.8 119.2h0"/>
<path stroke="#8faa70" d="M148.1 91.9h0"/>
<path stroke="#85a684" d="M164.5 89.3h0"/>
<path stroke="#d0bb61" d="M122.8 121.7h0"/>
<path stroke="#c1c34e" d="M133.4 104.9h0"/>
<path stroke="#cbaa64" d="M120.6 128.1h0"/>
<path stroke="#d5cb5d" d="M192.8 114.6h0"/>
<path stroke="#ae5d2a" d="M212.7 150.5h0"/>
<path stroke="#67503b" d="M222.6 168.4h0"/>
<path stroke="#c49859" d="M118.4 134.6h0"/>
<path stroke="#8ea973" d="M168.6 92.1h0"/>
<path stroke="#c79f5e" d="M202.7 132.3h0"/>
<path stroke="#bd8348" d="M116.2 141.2h0"/>
<path stroke="#d4cf59" d="M131.2 110.6h0"/>
<path stroke="#67503b" d="M107.4 168.6h0"/>
<path stroke="#b3662f" d="M114 148h0"/>
<path stroke="#8e4c2b" d="M109.6 161.7h0"/>
<path stroke="#afb844" d="M139.6 100.6h0"/>
<path stroke="#a65427" d="M111.8 154.8h0"/>
<path stroke="#89a77c" d="M158.3 91.1h0"/>
<path stroke="#d2cd58" d="M188.8 110.2h0"/>
<path stroke="#99ae5e" d="M172.6 95.1h0"/>
<path stroke="#c2c34e" d="M184.8 106h0"/>
<path stroke="#9fb052" d="M145.8 96.8h0"/>
<path stroke="#a6b345" d="M176.7 98.5h0"/>
<path stroke="#92ab6b" d="M152.1 93.6h0"/>
<path stroke="#b3bb46" d="M180.7 102.1h0"/>
<path stroke="#d4c95e" d="M129 116.6h0"/>
<path stroke="#b8733a" d="M208.7 145.5h0"/>
<path stroke="#ccaf63" d="M198.8 127.5h0"/>
<path stroke="#874d2e" d="M218.6 163.5h0"/>
<path stroke="#c0c34e" d="M137.4 106.1h0"/>
<path stroke="#90aa6f" d="M162.4 93.5h0"/>
<path stroke="#d1bd61" d="M126.8 122.8h0"/>
<path stroke="#d1bd61" d="M194.8 122.8h0"/>
<path stroke="#cbab64" d="M124.5 129.2h0"/>
<path stroke="#c08b4f" d="M204.7 140.6h0"/>
<path stroke="#a14e25" d="M214.7 158.6h0"/>
<path stroke="#c59959" d="M122.3 135.8h0"/>
<path stroke="#b0b844" d="M143.6 102h0"/>
<path stroke="#97ad62" d="M156.1 95.7h0"/>
<path stroke="#67503b" d="M111.3 170.1h0"/>
<path stroke="#99ae5e" d="M166.4 96.2h0"/>
<path stroke="#8e4c2b" d="M113.5 163.1h0"/>
<path stroke="#bd8449" d="M120.1 142.5h0"/>
<path stroke="#d3ce58" d="M135.2 111.9h0"/>
<path stroke="#a65427" d="M115.7 156.2h0"/>
<path stroke="#b4672f" d="M117.9 149.3h0"/>
<path stroke="#d4c85e" d="M190.7 118.3h0"/>
<path stroke="#a2b14d" d="M149.9 98.5h0"/>
<path stroke="#a4b24a" d="M170.5 99.2h0"/>
<path stroke="#c59b5a" d="M200.7 135.8h0"/>
<path stroke="#d6cf5b" d="M186.7 114h0"/>
<path stroke="#d4c95d" d="M132.9 117.9h0"/>
<path stroke="#ac5b29" d="M210.7 153.7h0"/>
<path stroke="#b0b844" d="M174.5 102.5h0"/>
<path stroke="#cac853" d="M182.7 110h0"/>
<path stroke="#c1c34e" d="M141.4 107.5h0"/>
<path stroke="#bcc04b" d="M178.6 106.1h0"/>
<path stroke="#9eb055" d="M160.2 98h0"/>
<path stroke="#d1bd61" d="M130.7 124.1h0"/>
<path stroke="#67503b" d="M220.7 171.2h0"/>
<path stroke="#caa964" d="M196.7 131.2h0"/>
<path stroke="#b2ba45" d="M147.6 103.7h0"/>
<path stroke="#a7b345" d="M153.9 100.6h0"/>
<path stroke="#cbac63" d="M128.5 130.6h0"/>
<path stroke="#b66d35" d="M206.7 148.9h0"/>
<path stroke="#c5995a" d="M126.3 137.2h0"/>
<path stroke="#d4cf59" d="M139.2 113.3h0"/>
<path stroke="#67503b" d="M115.3 171.6h0"/>
<path stroke="#a6b345" d="M164.2 100.7h0"/>
<path stroke="#8e4c2b" d="M117.5 164.6h0"/>
<path stroke="#bd8449" d="M124.1 143.9h0"/>
<path stroke="#a65427" d="M119.7 157.7h0"/>
<path stroke="#b46730" d="M121.9 150.7h0"/>
<path stroke="#cfb862" d="M192.7 126.6h0"/>
<path stroke="#854d2f" d="M216.8 166.5h0"/>
<path stroke="#bd8449" d="M202.7 144.2h0"/>
<path stroke="#b0b844" d="M168.3 103.7h0"/>
<path stroke="#d3c460" d="M188.7 122.3h0"/>
<path stroke="#d4c95e" d="M136.9 119.4h0"/>
<path stroke="#c3c44f" d="M145.4 109.3h0"/>
<path stroke="#acb642" d="M158 102.9h0"/>
<path stroke="#b6bc48" d="M151.7 105.8h0"/>
<path stroke="#babf4a" d="M172.4 106.9h0"/>
<path stroke="#d5cb5c" d="M184.6 118.1h0"/>
<path stroke="#a04c25" d="M212.8 161.8h0"/>
<path stroke="#d1bd61" d="M134.7 125.6h0"/>
<path stroke="#c6c651" d="M176.5 110.4h0"/>
<path stroke="#d3ce58" d="M180.5 114.1h0"/>
<path stroke="#c39557" d="M198.7 139.6h0"/>
<path stroke="#cbab64" d="M132.5 132.1h0"/>
<path stroke="#d6d05a" d="M143.2 115h0"/>
<path stroke="#b3bb46" d="M162 105.5h0"/>
<path stroke="#c59959" d="M130.3 138.7h0"/>
<path stroke="#aa5928" d="M208.8 157.1h0"/>
<path stroke="#67503b" d="M119.2 173.2h0"/>
<path stroke="#8e4c2b" d="M121.4 166.2h0"/>
<path stroke="#bd8449" d="M128 145.4h0"/>
<path stroke="#c8a461" d="M194.7 135.1h0"/>
<path stroke="#a65427" d="M123.6 159.2h0"/>
<path stroke="#b4672f" d="M125.8 152.3h0"/>
<path stroke="#c7c651" d="M149.5 111.2h0"/>
<path stroke="#bbbf4b" d="M155.7 108h0"/>
<path stroke="#d4c85e" d="M141 121.1h0"/>
<path stroke="#bcc04b" d="M166.1 108.4h0"/>
<path stroke="#cdb163" d="M190.6 130.7h0"/>
<path stroke="#b46830" d="M204.7 152.5h0"/>
<path stroke="#c6c651" d="M170.2 111.5h0"/>
<path stroke="#d0bb61" d="M138.7 127.3h0"/>
<path stroke="#d1be61" d="M186.5 126.4h0"/>
<path stroke="#67503b" d="M218.9 174h0"/>
<path stroke="#d6cf5b" d="M147.2 117h0"/>
<path stroke="#d1cd57" d="M174.3 114.9h0"/>
<path stroke="#c2c34e" d="M159.8 110.6h0"/>
<path stroke="#d4c75f" d="M182.5 122.4h0"/>
<path stroke="#d5cd5c" d="M178.4 118.6h0"/>
<path stroke="#bb7d43" d="M200.7 147.9h0"/>
<path stroke="#cbaa64" d="M136.5 133.7h0"/>
<path stroke="#ccca54" d="M153.5 113.5h0"/>
<path stroke="#c49859" d="M134.3 140.3h0"/>
<path stroke="#834d2f" d="M214.8 169.5h0"/>
<path stroke="#bd8348" d="M132 147h0"/>
<path stroke="#67503b" d="M123.2 174.7h0"/>
<path stroke="#d4c75f" d="M145 123h0"/>
<path stroke="#b3662f" d="M129.8 153.9h0"/>
<path stroke="#8e4c2b" d="M125.4 167.7h0"/>
<path stroke="#c19053" d="M196.6 143.5h0"/>
<path stroke="#a65427" d="M127.6 160.8h0"/>
<path stroke="#cac853" d="M163.9 113.4h0"/>
<path stroke="#9e4a24" d="M210.8 165h0"/>
<path stroke="#d5cd5b" d="M151.3 119.2h0"/>
<path stroke="#c69d5c" d="M192.6 139.1h0"/>
<path stroke="#d2cd58" d="M157.6 115.9h0"/>
<path stroke="#d0b962" d="M142.8 129.2h0"/>
<path stroke="#d3ce58" d="M168 116.4h0"/>
<path stroke="#cbaa64" d="M188.5 134.9h0"/>
<path stroke="#a85628" d="M206.8 160.6h0"/>
<path stroke="#d5cd5c" d="M172.1 119.7h0"/>
<path stroke="#caa864" d="M140.5 135.5h0"/>
<path stroke="#ceb662" d="M184.4 130.8h0"/>
<path stroke="#d4c85e" d="M176.2 123.2h0"/>
<path stroke="#d2c160" d="M180.3 126.9h0"/>
<path stroke="#d3c55f" d="M149.1 125.1h0"/>
<path stroke="#d6cf5b" d="M161.7 118.7h0"/>
<path stroke="#c49758" d="M138.3 142.1h0"/>
<path stroke="#b2622b" d="M202.7 156.1h0"/>
<path stroke="#d5cb5d" d="M155.4 121.6h0"/>
<path stroke="#bc8146" d="M136.1 148.8h0"/>
<path stroke="#b3652d" d="M133.8 155.5h0"/>
<path stroke="#a65327" d="M131.6 162.4h0"/>
<path stroke="#8d4c2b" d="M129.4 169.3h0"/>
<path stroke="#67503b" d="M127.2 176.3h0"/>
<path stroke="#cfb662" d="M146.8 131.2h0"/>
<path stroke="#b8753c" d="M198.6 151.8h0"/>
<path stroke="#d5cb5c" d="M165.8 121.6h0"/>
<path stroke="#bf894d" d="M194.6 147.5h0"/>
<path stroke="#d2c260" d="M153.2 127.4h0"/>
<path stroke="#c9a663" d="M144.6 137.5h0"/>
<path stroke="#d4c75f" d="M169.9 124.8h0"/>
<path stroke="#d4c85e" d="M159.5 124.2h0"/>
<path stroke="#67503b" d="M217 176.9h0"/>
<path stroke="#c49657" d="M190.5 143.4h0"/>
<path stroke="#d2c160" d="M174 128.1h0"/>
<path stroke="#c39556" d="M142.4 144h0"/>
<path stroke="#c8a260" d="M186.4 139.3h0"/>
<path stroke="#cfb762" d="M178.2 131.7h0"/>
<path stroke="#ccad63" d="M182.3 135.4h0"/>
<path stroke="#804d30" d="M212.9 172.6h0"/>
<path stroke="#bb7e44" d="M140.1 150.6h0"/>
<path stroke="#cdb362" d="M150.9 133.4h0"/>
<path stroke="#d3c460" d="M163.6 127h0"/>
<path stroke="#b2632c" d="M137.9 157.3h0"/>
<path stroke="#9a4a26" d="M208.8 168.3h0"/>
<path stroke="#d1bd61" d="M157.3 129.9h0"/>
<path stroke="#a55226" d="M135.6 164.1h0"/>
<path stroke="#8c4c2b" d="M133.4 171h0"/>
<path stroke="#67503b" d="M131.2 177.8h0"/>
<path stroke="#c8a360" d="M148.7 139.7h0"/>
<path stroke="#a65327" d="M204.8 164.1h0"/>
<path stroke="#d1be61" d="M167.7 130h0"/>
<path stroke="#ae5e2a" d="M200.7 159.9h0"/>
<path stroke="#c29254" d="M146.4 146.1h0"/>
<path stroke="#ceb662" d="M171.8 133.3h0"/>
<path stroke="#ccaf63" d="M155 135.8h0"/>
<path stroke="#cfb862" d="M161.4 132.6h0"/>
<path stroke="#b66d35" d="M196.6 155.8h0"/>
<path stroke="#ccad63" d="M176 136.7h0"/>
<path stroke="#ba7b41" d="M144.2 152.6h0"/>
<path stroke="#bc7f44" d="M192.5 151.7h0"/>
<path stroke="#c8a361" d="M180.1 140.2h0"/>
<path stroke="#c18e52" d="M188.3 147.8h0"/>
<path stroke="#c59959" d="M184.2 143.9h0"/>
<path stroke="#b1612b" d="M142 159.2h0"/>
<path stroke="#c79f5e" d="M152.8 142h0"/>
<path stroke="#cdb163" d="M165.5 135.5h0"/>
<path stroke="#a45226" d="M139.7 165.9h0"/>
<path stroke="#caa964" d="M159.1 138.4h0"/>
<path stroke="#8b4c2c" d="M137.5 172.6h0"/>
<path stroke="#c18f52" d="M150.5 148.2h0"/>
<path stroke="#67503b" d="M135.2 179.4h0"/>
<path stroke="#cbaa64" d="M169.6 138.6h0"/>
<path stroke="#67503b" d="M215.1 179.8h0"/>
<path stroke="#b9773e" d="M148.3 154.6h0"/>
<path stroke="#c8a260" d="M173.8 141.8h0"/>
<path stroke="#c59b5a" d="M156.9 144.4h0"/>
<path stroke="#c8a461" d="M163.3 141.2h0"/>
<path stroke="#7e4d31" d="M211 175.7h0"/>
<path stroke="#c59959" d="M177.9 145.2h0"/>
<path stroke="#954b28" d="M206.8 171.7h0"/>
<path stroke="#b05f2a" d="M146 161.1h0"/>
<path stroke="#a35026" d="M202.7 167.7h0"/>
<path stroke="#c19053" d="M182.1 148.7h0"/>
<path stroke="#ab5a29" d="M198.6 163.8h0"/>
<path stroke="#c08b4f" d="M154.7 150.5h0"/>
<path stroke="#bd8348" d="M186.2 152.3h0"/>
<path stroke="#c69d5c" d="M167.4 144.1h0"/>
<path stroke="#b3642d" d="M194.5 159.9h0"/>
<path stroke="#a35026" d="M143.8 167.7h0"/>
<path stroke="#b8743b" d="M190.3 156h0"/>
<path stroke="#c39557" d="M161 147h0"/>
<path stroke="#8a4c2c" d="M141.5 174.3h0"/>
<path stroke="#b8733a" d="M152.4 156.8h0"/>
<path stroke="#c49657" d="M171.6 147.1h0"/>
<path stroke="#67503b" d="M139.3 181h0"/>
<path stroke="#bd8449" d="M158.8 153h0"/>
<path stroke="#c19053" d="M165.2 149.7h0"/>
<path stroke="#ae5d2a" d="M150.2 163.1h0"/>
<path stroke="#c18e52" d="M175.7 150.3h0"/>
<path stroke="#bd8348" d="M179.9 153.6h0"/>
<path stroke="#a24f25" d="M147.9 169.6h0"/>
<path stroke="#b66d35" d="M156.5 159.1h0"/>
<path stroke="#b9763d" d="M184 157h0"/>
<path stroke="#bf894d" d="M169.3 152.6h0"/>
<path stroke="#884c2d" d="M145.6 176.1h0"/>
<path stroke="#bb7d43" d="M162.9 155.5h0"/>
<path stroke="#b46931" d="M188.2 160.5h0"/>
<path stroke="#ae5e2a" d="M192.3 164.1h0"/>
<path stroke="#a75527" d="M196.5 167.7h0"/>
<path stroke="#67503b" d="M143.4 182.6h0"/>
<path stroke="#ac5b29" d="M154.3 165.2h0"/>
<path stroke="#a04d25" d="M200.7 171.4h0"/>
<path stroke="#bc7f44" d="M173.5 155.5h0"/>
<path stroke="#904c2a" d="M204.8 175.2h0"/>
<path stroke="#7b4e32" d="M209 178.9h0"/>
<path stroke="#67503b" d="M213.1 182.7h0"/>
<path stroke="#b46830" d="M160.7 161.4h0"/>
<path stroke="#b8753c" d="M167.1 158.2h0"/>
<path stroke="#a14e25" d="M152 171.5h0"/>
<path stroke="#b8743b" d="M177.7 158.6h0"/>
<path stroke="#b46931" d="M181.8 161.8h0"/>
<path stroke="#874d2e" d="M149.8 177.8h0"/>
<path stroke="#aa5928" d="M158.4 167.4h0"/>
<path stroke="#b66d35" d="M171.3 160.9h0"/>
<path stroke="#b2622b" d="M164.9 163.9h0"/>
<path stroke="#af5f2a" d="M186 165h0"/>
<path stroke="#67503b" d="M147.5 184.2h0"/>
<path stroke="#aa5828" d="M190.2 168.4h0"/>
<path stroke="#a04c25" d="M156.2 173.5h0"/>
<path stroke="#b3642d" d="M175.5 163.8h0"/>
<path stroke="#a45126" d="M194.4 171.7h0"/>
<path stroke="#a85628" d="M162.6 169.7h0"/>
<path stroke="#ae5e2a" d="M169 166.4h0"/>
<path stroke="#9c4a25" d="M198.6 175.2h0"/>
<path stroke="#854d2f" d="M153.9 179.6h0"/>
<path stroke="#ae5e2a" d="M179.6 166.7h0"/>
<path stroke="#8b4c2c" d="M202.8 178.7h0"/>
<path stroke="#794e34" d="M207 182.2h0"/>
<path stroke="#67503b" d="M211.2 185.7h0"/>
<path stroke="#aa5828" d="M183.9 169.7h0"/>
<path stroke="#9e4a24" d="M160.3 175.5h0"/>
<path stroke="#ab5a29" d="M173.2 169h0"/>
<path stroke="#67503b" d="M151.6 185.8h0"/>
<path stroke="#a65327" d="M166.8 172h0"/>
<path stroke="#a55226" d="M188.1 172.7h0"/>
<path stroke="#834d2f" d="M158.1 181.5h0"/>
<path stroke="#a75527" d="M177.4 171.7h0"/>
<path stroke="#a04c25" d="M192.3 175.9h0"/>
<path stroke="#9a4a26" d="M164.5 177.6h0"/>
<path stroke="#a35026" d="M171 174.3h0"/>
<path stroke="#944b28" d="M196.5 179h0"/>
<path stroke="#67503b" d="M155.8 187.4h0"/>
<path stroke="#a45126" d="M181.7 174.4h0"/>
<path stroke="#854d2e" d="M200.7 182.2h0"/>
<path stroke="#804d30" d="M162.3 183.3h0"/>
<path stroke="#a04d25" d="M175.2 176.8h0"/>
<path stroke="#a04c25" d="M185.9 177.2h0"/>
<path stroke="#764e35" d="M205 185.5h0"/>
<path stroke="#954b28" d="M168.7 179.8h0"/>
<path stroke="#67503b" d="M209.2 188.7h0"/>
<path stroke="#974b27" d="M190.1 180.1h0"/>
<path stroke="#67503b" d="M160 189.1h0"/>
<path stroke="#9c4a25" d="M179.4 179.2h0"/>
<path stroke="#7e4d31" d="M166.5 185.2h0"/>
<path stroke="#904c2a" d="M173 181.9h0"/>
<path stroke="#8b4c2c" d="M194.4 182.9h0"/>
<path stroke="#944b28" d="M183.7 181.8h0"/>
<path stroke="#7f4d31" d="M198.6 185.9h0"/>
<path stroke="#67503b" d="M164.2 190.7h0"/>
<path stroke="#8b4c2c" d="M177.2 184.1h0"/>
<path stroke="#7b4e32" d="M170.7 187.1h0"/>
<path stroke="#8b4c2c" d="M188 184.3h0"/>
<path stroke="#734f36" d="M202.9 188.8h0"/>
<path stroke="#67503b" d="M207.2 191.8h0"/>
<path stroke="#854d2e" d="M181.5 186.4h0"/>
<path stroke="#824d30" d="M192.2 186.9h0"/>
<path stroke="#67503b" d="M168.5 192.4h0"/>
<path stroke="#794e34" d="M175 189.1h0"/>
<path stroke="#794e33" d="M196.5 189.5h0"/>
<path stroke="#7f4d31" d="M185.8 188.6h0"/>
<path stroke="#764e35" d="M179.3 191h0"/>
<path stroke="#704f37" d="M200.8 192.2h0"/>
<path stroke="#67503b" d="M172.7 194h0"/>
<path stroke="#794e33" d="M190.1 190.9h0"/>
<path stroke="#67503b" d="M205.2 194.8h0"/>
<path stroke="#734f36" d="M183.6 193h0"/>
<path stroke="#734f36" d="M194.4 193.3h0"/>
<path stroke="#67503b" d="M177 195.7h0"/>
<path stroke="#704f37" d="M187.9 195h0"/>
<path stroke="#6d4f38" d="M198.8 195.6h0"/>
<path stroke="#67503b" d="M181.4 197.4h0"/>
<path stroke="#67503b" d="M203.1 197.9h0"/>
<path stroke="#6d4f38" d="M192.3 197h0"/>
<path stroke="#67503b" d="M185.7 199.1h0"/>
<path stroke="#6a503a" d="M196.6 199h0"/>
<path stroke="#67503b" d="M190.1 200.8h0"/>
<path stroke="#67503b" d="M201 201.1h0"/>
<path stroke="#67503b" d="M194.5 202.5h0"/>
<path stroke="#67503b" d="M199 204.3h0"/>
</g>
<g>
<path d="M199 204.3L202.3 144.9" stroke="#505050" stroke-width="0.5" fill="none"/>
<path d="M32.3 85.9L202.3 144.9" stroke="#505050" stroke-width="0.5" fill="none"/>
<path d="M202.3 144.9L274.5 46.3" stroke="#505050" stroke-width="0.5" fill="none"/>
<path d="M40.7 139.8L42.6 140.5" stroke="#505050" stroke-width="0.4" fill="none"/>
<path d="M40.2 136.8L42.2 137.6" stroke="#505050" stroke-width="0.4" fill="none"/>
<path d="M39.7 133.9L41.7 134.6" stroke="#505050" stroke-width="0.4" fill="none"/>
<path d="M38.8 127.9L40.8 128.6" stroke="#505050" stroke-width="0.4" fill="none"/>
<path d="M38.3 124.9L40.3 125.6" stroke="#505050" stroke-width="0.4" fill="none"/>
<path d="M37.8 121.8L39.9 122.6" stroke="#505050" stroke-width="0.4" fill="none"/>
<path d="M36.9 115.6L38.9 116.4" stroke="#505050" stroke-width="0.4" fill="none"/>
<path d="M36.4 112.5L38.4 113.3" stroke="#505050" stroke-width="0.4" fill="none"/>
<path d="M35.9 109.4L37.9 110.1" stroke="#505050" stroke-width="0.4" fill="none"/>
<path d="M34.9 103L37 103.7" stroke="#505050" stroke-width="0.4" fill="none"/>
<path d="M34.4 99.8L36.5 100.5" stroke="#505050" stroke-width="0.4" fill="none"/>
<path d="M33.9 96.5L36 97.2" stroke="#505050" stroke-width="0.4" fill="none"/>
<path d="M32.9 89.9L35 90.7" stroke="#505050" stroke-width="0.4" fill="none"/>
<path d="M32.4 86.6L34.4 87.3" stroke="#505050" stroke-width="0.4" fill="none"/>
<path d="M41.1 142.7L44.9 144.2" stroke="#505050" stroke-width="0.4" fill="none"/>
<path d="M39.3 130.9L43.1 132.4" stroke="#505050" stroke-width="0.4" fill="none"/>
<path d="M37.4 118.7L41.3 120.2" stroke="#505050" stroke-width="0.4" fill="none"/>
<path d="M35.4 106.2L39.4 107.6" stroke="#505050" stroke-width="0.4" fill="none"/>
<path d="M33.4 93.2L37.4 94.6" stroke="#505050" stroke-width="0.4" fill="none"/>
</g>
<g>
<path d="M478.4 59.5L615.3 100.6" stroke="#505050" stroke-width="0.5" fill="none"/>
<path d="M478.4 59.5L389.2 142.7" stroke="#505050" stroke-width="0.5" fill="none"/>
<path d="M478.4 59.5L476.7 8.1" stroke="#505050" stroke-width="0.5" fill="none"/>
<path d="M389.2 142.7L547.1 204.3" stroke="#505050" stroke-width="0.5" fill="none"/>
<path d="M547.1 204.3L615.3 100.6" stroke="#505050" stroke-width="0.5" fill="none"/>
<path d="M389.2 142.7L380.4 85.9" stroke="#505050" stroke-width="0.5" fill="none"/>
<path d="M615.3 100.6L622.6 46.3" stroke="#505050" stroke-width="0.5" fill="none"/>
<path d="M380.4 85.9L476.7 8.1" stroke="#505050" stroke-width="0.5" fill="none"/>
<path d="M476.7 8.1L622.6 46.3" stroke="#505050" stroke-width="0.5" fill="none"/>
<path d="M403.4 148.2L404.8 146.8" stroke="#505050" stroke-width="0.4" fill="none"/>
<path d="M417.8 153.8L419.3 152.4" stroke="#505050" stroke-width="0.4" fill="none"/>
<path d="M432.6 159.6L434.1 158.1" stroke="#505050" stroke-width="0.4" fill="none"/>
<path d="M463.4 171.6L464.7 170" stroke="#505050" stroke-width="0.4" fill="none"/>
<path d="M479.3 177.8L480.6 176.2" stroke="#505050" stroke-width="0.4" fill="none"/>
<path d="M495.6 184.2L496.9 182.5" stroke="#505050" stroke-width="0.4" fill="none"/>
<path d="M529.5 197.4L530.7 195.7" stroke="#505050" stroke-width="0.4" fill="none"/>
<path d="M547.1 204.3L548.2 202.5" stroke="#505050" stroke-width="0.4" fill="none"/>
<path d="M389.2 142.7L392.1 140" stroke="#505050" stroke-width="0.4" fill="none"/>
<path d="M447.8 165.6L450.5 162.6" stroke="#505050" stroke-width="0.4" fill="none"/>
<path d="M512.3 190.7L514.7 187.5" stroke="#505050" stroke-width="0.4" fill="none"/>
<path d="M555.3 191.8L552.9 190.8" stroke="#505050" stroke-width="0.4" fill="none"/>
<path d="M563.2 179.8L560.8 178.9" stroke="#505050" stroke-width="0.4" fill="none"/>
<path d="M570.7 168.4L568.3 167.5" stroke="#505050" stroke-width="0.4" fill="none"/>
<path d="M584.8 146.9L582.5 146.2" stroke="#505050" stroke-width="0.4" fill="none"/>
<path d="M591.4 136.9L589.1 136.2" stroke="#505050" stroke-width="0.4" fill="none"/>
<path d="M597.7 127.3L595.5 126.6" stroke="#505050" stroke-width="0.4" fill="none"/>
<path d="M609.7 109.2L607.5 108.5" stroke="#505050" stroke-width="0.4" fill="none"/>
<path d="M615.3 100.6L613.2 100" stroke="#505050" stroke-width="0.4" fill="none"/>
<path d="M547.1 204.3L542.3 202.4" stroke="#505050" stroke-width="0.4" fill="none"/>
<path d="M577.9 157.4L573.4 155.9" stroke="#505050" stroke-width="0.4" fill="none"/>
<path d="M603.8 118L599.6 116.7" stroke="#505050" stroke-width="0.4" fill="none"/>
</g>
<g stroke-linecap="round" stroke-width="2.25" fill="none">
<path stroke="#67503b" d="M478.4 59.5h0"/>
<path stroke="#67503b" d="M481.5 60.4h0"/>
<path stroke="#67503b" d="M476.6 61.2h0"/>
<path stroke="#67503b" d="M484.7 61.3h0"/>
<path stroke="#6a503a" d="M479.7 61.8h0"/>
<path stroke="#67503b" d="M487.8 62.3h0"/>
<path stroke="#67503b" d="M474.7 62.9h0"/>
<path stroke="#67503b" d="M490.9 63.2h0"/>
<path stroke="#6d4f38" d="M482.8 62.5h0"/>
<path stroke="#6d4f38" d="M477.8 63.3h0"/>
<path stroke="#67503b" d="M494.1 64.2h0"/>
<path stroke="#704f37" d="M485.9 63.1h0"/>
<path stroke="#67503b" d="M472.8 64.7h0"/>
<path stroke="#67503b" d="M497.3 65.1h0"/>
<path stroke="#734f36" d="M480.9 63.6h0"/>
<path stroke="#734f36" d="M489.1 63.8h0"/>
<path stroke="#704f37" d="M475.9 64.7h0"/>
<path stroke="#67503b" d="M500.5 66.1h0"/>
<path stroke="#67503b" d="M470.9 66.5h0"/>
<path stroke="#764e35" d="M492.3 64.5h0"/>
<path stroke="#794e33" d="M484.1 64h0"/>
<path stroke="#67503b" d="M503.7 67.1h0"/>
<path stroke="#794e33" d="M479 64.8h0"/>
<path stroke="#794e34" d="M495.5 65.2h0"/>
<path stroke="#7f4d31" d="M487.2 64.4h0"/>
<path stroke="#734f36" d="M474 66.2h0"/>
<path stroke="#67503b" d="M506.9 68h0"/>
<path stroke="#67503b" d="M469 68.2h0"/>
<path stroke="#7b4e32" d="M498.7 65.9h0"/>
<path stroke="#824d30" d="M482.2 64.9h0"/>
<path stroke="#67503b" d="M510.2 69h0"/>
<path stroke="#854d2e" d="M490.4 64.8h0"/>
<path stroke="#7f4d31" d="M477.1 66h0"/>
<path stroke="#764e35" d="M472.1 67.7h0"/>
<path stroke="#7e4d31" d="M501.9 66.6h0"/>
<path stroke="#67503b" d="M513.4 70h0"/>
<path stroke="#67503b" d="M467.1 70h0"/>
<path stroke="#8b4c2c" d="M485.4 65h0"/>
<path stroke="#8b4c2c" d="M493.6 65.2h0"/>
<path stroke="#67503b" d="M516.7 71h0"/>
<path stroke="#804d30" d="M505.2 67.3h0"/>
<path stroke="#8b4c2c" d="M480.3 65.8h0"/>
<path stroke="#854d2e" d="M475.2 67.2h0"/>
<path stroke="#904c2a" d="M496.8 65.6h0"/>
<path stroke="#944b28" d="M488.5 65.1h0"/>
<path stroke="#67503b" d="M465.1 71.9h0"/>
<path stroke="#794e34" d="M470.2 69.3h0"/>
<path stroke="#67503b" d="M520 72h0"/>
<path stroke="#834d2f" d="M508.4 68.1h0"/>
<path stroke="#974b27" d="M483.5 65.6h0"/>
<path stroke="#954b28" d="M500.1 66.1h0"/>
<path stroke="#67503b" d="M523.3 72.9h0"/>
<path stroke="#9c4a25" d="M491.8 65.3h0"/>
<path stroke="#854d2f" d="M511.7 68.9h0"/>
<path stroke="#944b28" d="M478.4 66.8h0"/>
<path stroke="#67503b" d="M463.1 73.7h0"/>
<path stroke="#8b4c2c" d="M473.3 68.5h0"/>
<path stroke="#7b4e32" d="M468.2 70.8h0"/>
<path stroke="#67503b" d="M526.6 73.9h0"/>
<path stroke="#9a4a26" d="M503.4 66.6h0"/>
<path stroke="#a04c25" d="M486.6 65.5h0"/>
<path stroke="#874d2e" d="M515 69.7h0"/>
<path stroke="#a04d25" d="M495 65.4h0"/>
<path stroke="#67503b" d="M530 75h0"/>
<path stroke="#a04c25" d="M481.5 66.3h0"/>
<path stroke="#9e4a24" d="M506.6 67.2h0"/>
<path stroke="#884c2d" d="M518.3 70.5h0"/>
<path stroke="#67503b" d="M461.2 75.6h0"/>
<path stroke="#9c4a25" d="M476.4 67.8h0"/>
<path stroke="#a45126" d="M489.9 65.4h0"/>
<path stroke="#7e4d31" d="M466.2 72.4h0"/>
<path stroke="#a35026" d="M498.2 65.7h0"/>
<path stroke="#904c2a" d="M471.3 69.8h0"/>
<path stroke="#67503b" d="M533.3 76h0"/>
<path stroke="#8a4c2c" d="M521.6 71.3h0"/>
<path stroke="#a04c25" d="M509.9 67.7h0"/>
<path stroke="#a55226" d="M484.7 65.9h0"/>
<path stroke="#67503b" d="M536.7 77h0"/>
<path stroke="#a65327" d="M501.5 65.9h0"/>
<path stroke="#a75527" d="M493.1 65.3h0"/>
<path stroke="#67503b" d="M459.2 77.4h0"/>
<path stroke="#a45126" d="M479.6 67h0"/>
<path stroke="#8b4c2c" d="M525 72.2h0"/>
<path stroke="#a14e25" d="M513.3 68.3h0"/>
<path stroke="#804d30" d="M464.2 74h0"/>
<path stroke="#a04d25" d="M474.4 68.8h0"/>
<path stroke="#67503b" d="M540.1 78h0"/>
<path stroke="#954b28" d="M469.3 71.1h0"/>
<path stroke="#aa5828" d="M488 65.5h0"/>
<path stroke="#a85628" d="M504.8 66.3h0"/>
<path stroke="#8c4c2b" d="M528.4 73.1h0"/>
<path stroke="#ab5a29" d="M496.4 65.3h0"/>
<path stroke="#a24f25" d="M516.6 69h0"/>
<path stroke="#67503b" d="M543.5 79h0"/>
<path stroke="#67503b" d="M457.1 79.3h0"/>
<path stroke="#aa5828" d="M482.8 66.3h0"/>
<path stroke="#8d4c2b" d="M531.7 74h0"/>
<path stroke="#834d2f" d="M462.2 75.7h0"/>
<path stroke="#a75527" d="M477.6 67.8h0"/>
<path stroke="#aa5928" d="M508.2 66.6h0"/>
<path stroke="#67503b" d="M546.9 80h0"/>
<path stroke="#9a4a26" d="M467.3 72.5h0"/>
<path stroke="#a35026" d="M520 69.7h0"/>
<path stroke="#a35026" d="M472.5 69.9h0"/>
<path stroke="#ae5e2a" d="M491.2 65.2h0"/>
<path stroke="#ae5e2a" d="M499.7 65.3h0"/>
<path stroke="#8e4c2b" d="M535.1 75h0"/>
<path stroke="#67503b" d="M550.3 81.1h0"/>
<path stroke="#af5f2a" d="M486 65.7h0"/>
<path stroke="#67503b" d="M455.1 81.2h0"/>
<path stroke="#ac5b29" d="M511.5 67h0"/>
<path stroke="#a45226" d="M523.3 70.5h0"/>
<path stroke="#b2622b" d="M503 65.4h0"/>
<path stroke="#b3642d" d="M494.5 64.9h0"/>
<path stroke="#854d2f" d="M460.2 77.4h0"/>
<path stroke="#8e4c2b" d="M538.6 76h0"/>
<path stroke="#ae5e2a" d="M480.8 66.9h0"/>
<path stroke="#67503b" d="M553.8 82.1h0"/>
<path stroke="#9e4a24" d="M465.3 73.9h0"/>
<path stroke="#ab5a29" d="M475.6 68.6h0"/>
<path stroke="#a65327" d="M470.4 71h0"/>
<path stroke="#a55226" d="M526.7 71.2h0"/>
<path stroke="#ae5d2a" d="M514.9 67.5h0"/>
<path stroke="#8e4c2b" d="M542 77h0"/>
<path stroke="#b46931" d="M489.3 65.1h0"/>
<path stroke="#67503b" d="M453 83.1h0"/>
<path stroke="#67503b" d="M557.3 83.2h0"/>
<path stroke="#b46830" d="M506.3 65.6h0"/>
<path stroke="#b66d35" d="M497.8 64.7h0"/>
<path stroke="#a65327" d="M530.1 72.1h0"/>
<path stroke="#b05f2a" d="M518.2 68.1h0"/>
<path stroke="#874d2e" d="M458.1 79.1h0"/>
<path stroke="#b46931" d="M484 66h0"/>
<path stroke="#8e4c2b" d="M545.4 78h0"/>
<path stroke="#67503b" d="M560.8 84.2h0"/>
<path stroke="#a04c25" d="M463.2 75.4h0"/>
<path stroke="#b3642d" d="M478.8 67.5h0"/>
<path stroke="#a65427" d="M533.6 73h0"/>
<path stroke="#a85628" d="M468.4 72.2h0"/>
<path stroke="#b66d35" d="M509.7 65.8h0"/>
<path stroke="#ae5e2a" d="M473.6 69.5h0"/>
<path stroke="#b8743b" d="M492.6 64.6h0"/>
<path stroke="#8e4c2b" d="M548.9 79.1h0"/>
<path stroke="#b1612b" d="M521.7 68.7h0"/>
<path stroke="#67503b" d="M450.9 85.1h0"/>
<path stroke="#b8753c" d="M501.1 64.6h0"/>
<path stroke="#67503b" d="M564.3 85.3h0"/>
<path stroke="#a65427" d="M537 74h0"/>
<path stroke="#b9763d" d="M487.3 65.2h0"/>
<path stroke="#884c2d" d="M456 80.8h0"/>
<path stroke="#8d4c2b" d="M552.4 80.2h0"/>
<path stroke="#b8733a" d="M513.1 66.1h0"/>
<path stroke="#b2632c" d="M525.1 69.4h0"/>
<path stroke="#67503b" d="M567.8 86.3h0"/>
<path stroke="#a14e25" d="M461.2 76.9h0"/>
<path stroke="#bc7f44" d="M495.9 64.2h0"/>
<path stroke="#b8743b" d="M482.1 66.3h0"/>
<path stroke="#bb7d43" d="M504.5 64.5h0"/>
<path stroke="#a65427" d="M540.5 75h0"/>
<path stroke="#aa5928" d="M466.4 73.5h0"/>
<path stroke="#67503b" d="M448.8 87h0"/>
<path stroke="#8c4c2b" d="M555.9 81.4h0"/>
<path stroke="#b66d35" d="M476.8 68.1h0"/>
<path stroke="#b2622b" d="M471.6 70.5h0"/>
<path stroke="#67503b" d="M571.3 87.4h0"/>
<path stroke="#b3652d" d="M528.5 70.2h0"/>
<path stroke="#b9773e" d="M516.5 66.5h0"/>
<path stroke="#bd8348" d="M490.6 64.4h0"/>
<path stroke="#a65427" d="M544 76h0"/>
<path stroke="#8a4c2c" d="M454 82.6h0"/>
<path stroke="#8b4c2c" d="M559.4 82.5h0"/>
<path stroke="#bd8449" d="M507.9 64.6h0"/>
<path stroke="#bf894d" d="M499.2 63.8h0"/>
<path stroke="#67503b" d="M574.9 88.5h0"/>
<path stroke="#b3662f" d="M532 71h0"/>
<path stroke="#a24f25" d="M459.1 78.5h0"/>
<path stroke="#bd8348" d="M485.3 65.3h0"/>
<path stroke="#ba7b41" d="M519.9 67h0"/>
<path stroke="#a65427" d="M547.5 77.1h0"/>
<path stroke="#67503b" d="M446.7 89h0"/>
<path stroke="#8a4c2c" d="M562.9 83.7h0"/>
<path stroke="#ac5b29" d="M464.3 74.8h0"/>
<path stroke="#bc7f44" d="M480.1 66.8h0"/>
<path stroke="#67503b" d="M578.5 89.5h0"/>
<path stroke="#b46830" d="M469.5 71.6h0"/>
<path stroke="#b8753c" d="M474.8 68.9h0"/>
<path stroke="#c08b4f" d="M511.3 64.7h0"/>
<path stroke="#c18e52" d="M494 63.8h0"/>
<path stroke="#b4672f" d="M535.5 71.9h0"/>
<path stroke="#a65327" d="M551 78.3h0"/>
<path stroke="#8b4c2c" d="M451.9 84.5h0"/>
<path stroke="#884c2d" d="M566.5 84.9h0"/>
<path stroke="#c19053" d="M502.6 63.6h0"/>
<path stroke="#bb7e44" d="M523.4 67.6h0"/>
<path stroke="#67503b" d="M582.1 90.6h0"/>
<path stroke="#c19053" d="M488.6 64.3h0"/>
<path stroke="#a35026" d="M457 80.2h0"/>
<path stroke="#b46730" d="M538.9 72.9h0"/>
<path stroke="#a55226" d="M554.5 79.5h0"/>
<path stroke="#67503b" d="M444.6 91h0"/>
<path stroke="#874d2e" d="M570 86.2h0"/>
<path stroke="#c18f52" d="M514.7 65h0"/>
<path stroke="#bc8146" d="M526.9 68.3h0"/>
<path stroke="#ae5d2a" d="M462.2 76.2h0"/>
<path stroke="#c18e52" d="M483.3 65.5h0"/>
<path stroke="#c49657" d="M497.3 63.2h0"/>
<path stroke="#67503b" d="M585.7 91.7h0"/>
<path stroke="#c39557" d="M506 63.5h0"/>
<path stroke="#a45226" d="M558 80.8h0"/>
<path stroke="#b4672f" d="M542.4 74h0"/>
<path stroke="#b66d35" d="M467.5 72.7h0"/>
<path stroke="#bf894d" d="M478 67.3h0"/>
<path stroke="#854d2f" d="M573.6 87.4h0"/>
<path stroke="#8c4c2b" d="M449.7 86.3h0"/>
<path stroke="#bb7d43" d="M472.7 69.7h0"/>
<path stroke="#bd8348" d="M530.3 69.1h0"/>
<path stroke="#c29254" d="M518.2 65.4h0"/>
<path stroke="#67503b" d="M589.3 92.8h0"/>
<path stroke="#c59959" d="M492 63.4h0"/>
<path stroke="#a35026" d="M561.6 82.1h0"/>
<path stroke="#b3662f" d="M546 75.2h0"/>
<path stroke="#834d2f" d="M577.2 88.7h0"/>
<path stroke="#67503b" d="M442.4 93h0"/>
<path stroke="#a45226" d="M454.9 81.9h0"/>
<path stroke="#c59b5a" d="M509.5 63.5h0"/>
<path stroke="#c69d5c" d="M500.7 62.8h0"/>
<path stroke="#b05f2a" d="M460.1 77.7h0"/>
<path stroke="#bd8449" d="M533.8 70h0"/>
<path stroke="#c59959" d="M486.6 64.3h0"/>
<path stroke="#a24f25" d="M565.1 83.5h0"/>
<path stroke="#67503b" d="M593 93.9h0"/>
<path stroke="#b3652d" d="M549.5 76.4h0"/>
<path stroke="#804d30" d="M580.8 90.1h0"/>
<path stroke="#c39556" d="M521.7 65.9h0"/>
<path stroke="#8d4c2b" d="M447.6 88.2h0"/>
<path stroke="#b8733a" d="M465.4 73.9h0"/>
<path stroke="#c49657" d="M481.3 65.8h0"/>
<path stroke="#bd8449" d="M470.7 70.7h0"/>
<path stroke="#c19053" d="M476 67.9h0"/>
<path stroke="#a14e25" d="M568.7 84.9h0"/>
<path stroke="#c8a260" d="M495.4 62.7h0"/>
<path stroke="#bd8449" d="M537.4 71h0"/>
<path stroke="#c79f5e" d="M512.9 63.6h0"/>
<path stroke="#b2632c" d="M553 77.7h0"/>
<path stroke="#7e4d31" d="M584.4 91.4h0"/>
<path stroke="#67503b" d="M596.6 95h0"/>
<path stroke="#67503b" d="M440.3 95.1h0"/>
<path stroke="#a55226" d="M452.8 83.6h0"/>
<path stroke="#c8a461" d="M504.1 62.5h0"/>
<path stroke="#c49758" d="M525.2 66.5h0"/>
<path stroke="#a04c25" d="M572.3 86.4h0"/>
<path stroke="#b1612b" d="M556.6 79.1h0"/>
<path stroke="#7b4e32" d="M588 92.8h0"/>
<path stroke="#bd8449" d="M540.9 72.1h0"/>
<path stroke="#c8a361" d="M490 63.2h0"/>
<path stroke="#b1612b" d="M458 79.3h0"/>
<path stroke="#67503b" d="M600.3 96.1h0"/>
<path stroke="#8e4c2b" d="M445.4 90.2h0"/>
<path stroke="#c8a360" d="M516.4 63.8h0"/>
<path stroke="#9e4a24" d="M575.9 87.9h0"/>
<path stroke="#c49859" d="M528.7 67.2h0"/>
<path stroke="#b9773e" d="M463.3 75.3h0"/>
<path stroke="#c8a260" d="M484.6 64.4h0"/>
<path stroke="#b05f2a" d="M560.2 80.6h0"/>
<path stroke="#cbaa64" d="M498.8 62h0"/>
<path stroke="#794e34" d="M591.7 94.1h0"/>
<path stroke="#caa964" d="M507.6 62.3h0"/>
<path stroke="#bd8348" d="M544.5 73.3h0"/>
<path stroke="#67503b" d="M438.1 97.1h0"/>
<path stroke="#c08b4f" d="M468.6 71.7h0"/>
<path stroke="#67503b" d="M604 97.2h0"/>
<path stroke="#c69d5c" d="M479.3 66.2h0"/>
<path stroke="#a65327" d="M450.6 85.4h0"/>
<path stroke="#c39557" d="M473.9 68.7h0"/>
<path stroke="#9a4a26" d="M579.5 89.5h0"/>
<path stroke="#ae5d2a" d="M563.8 82.1h0"/>
<path stroke="#c59959" d="M532.2 68h0"/>
<path stroke="#764e35" d="M595.4 95.5h0"/>
<path stroke="#c9a663" d="M519.9 64.2h0"/>
<path stroke="#bc8146" d="M548 74.6h0"/>
<path stroke="#ccad63" d="M493.4 62.3h0"/>
<path stroke="#954b28" d="M583.1 91.1h0"/>
<path stroke="#b2632c" d="M455.8 80.9h0"/>
<path stroke="#8e4c2b" d="M443.2 92.2h0"/>
<path stroke="#67503b" d="M607.8 98.3h0"/>
<path stroke="#ac5b29" d="M567.3 83.7h0"/>
<path stroke="#ccaf63" d="M511.1 62.2h0"/>
<path stroke="#cdb163" d="M502.2 61.6h0"/>
<path stroke="#734f36" d="M599 96.9h0"/>
<path stroke="#bb7e44" d="M551.6 76h0"/>
<path stroke="#c5995a" d="M535.8 69h0"/>
<path stroke="#ba7b41" d="M461.1 76.7h0"/>
<path stroke="#ccad63" d="M488 63.1h0"/>
<path stroke="#904c2a" d="M586.7 92.7h0"/>
<path stroke="#67503b" d="M435.8 99.2h0"/>
<path stroke="#caa864" d="M523.4 64.7h0"/>
<path stroke="#aa5928" d="M570.9 85.4h0"/>
<path stroke="#a65427" d="M448.4 87.3h0"/>
<path stroke="#67503b" d="M611.5 99.5h0"/>
<path stroke="#c18f52" d="M466.4 72.9h0"/>
<path stroke="#cbaa64" d="M482.6 64.7h0"/>
<path stroke="#704f37" d="M602.7 98.4h0"/>
<path stroke="#ba7b41" d="M555.2 77.5h0"/>
<path stroke="#8b4c2c" d="M590.4 94.4h0"/>
<path stroke="#c59b5a" d="M471.8 69.6h0"/>
<path stroke="#c8a461" d="M477.2 66.8h0"/>
<path stroke="#c59959" d="M539.3 70.1h0"/>
<path stroke="#a85628" d="M574.6 87.2h0"/>
<path stroke="#ceb662" d="M496.8 61.5h0"/>
<path stroke="#cdb362" d="M514.6 62.4h0"/>
<path stroke="#8e4c2b" d="M441 94.2h0"/>
<path stroke="#b3652d" d="M453.7 82.7h0"/>
<path stroke="#67503b" d="M615.3 100.6h0"/>
<path stroke="#cfb862" d="M505.7 61.2h0"/>
<path stroke="#cbaa64" d="M527 65.4h0"/>
<path stroke="#b9773e" d="M558.8 79.1h0"/>
<path stroke="#6d4f38" d="M606.4 99.8h0"/>
<path stroke="#854d2e" d="M594 96.1h0"/>
<path stroke="#a65327" d="M578.2 89h0"/>
<path stroke="#c49859" d="M542.9 71.4h0"/>
<path stroke="#67503b" d="M433.6 101.3h0"/>
<path stroke="#cfb762" d="M491.4 62h0"/>
<path stroke="#bb7e44" d="M459 78.3h0"/>
<path stroke="#b8733a" d="M562.4 80.8h0"/>
<path stroke="#a65427" d="M446.2 89.3h0"/>
<path stroke="#7f4d31" d="M597.7 97.8h0"/>
<path stroke="#a35026" d="M581.8 90.8h0"/>
<path stroke="#6a503a" d="M610.2 101.3h0"/>
<path stroke="#cfb662" d="M518.1 62.6h0"/>
<path stroke="#cbab64" d="M530.5 66.2h0"/>
<path stroke="#c29254" d="M464.3 74.2h0"/>
<path stroke="#c49758" d="M546.5 72.8h0"/>
<path stroke="#ceb662" d="M486 63.2h0"/>
<path stroke="#d1be61" d="M500.3 60.8h0"/>
<path stroke="#b66d35" d="M566 82.6h0"/>
<path stroke="#a04d25" d="M585.4 92.7h0"/>
<path stroke="#d1bd61" d="M509.2 61.1h0"/>
<path stroke="#794e33" d="M601.4 99.5h0"/>
<path stroke="#8e4c2b" d="M438.8 96.3h0"/>
<path stroke="#c79f5e" d="M469.7 70.6h0"/>
<path stroke="#cdb163" d="M480.5 65.1h0"/>
<path stroke="#67503b" d="M613.9 102.7h0"/>
<path stroke="#b3662f" d="M451.5 84.5h0"/>
<path stroke="#caa964" d="M475.1 67.6h0"/>
<path stroke="#9c4a25" d="M589.1 94.7h0"/>
<path stroke="#b46830" d="M569.6 84.5h0"/>
<path stroke="#c39556" d="M550.1 74.3h0"/>
<path stroke="#cbac63" d="M534.1 67.2h0"/>
<path stroke="#734f36" d="M605.1 101.3h0"/>
<path stroke="#d0b962" d="M521.7 63.1h0"/>
<path stroke="#67503b" d="M431.3 103.4h0"/>
<path stroke="#d2c160" d="M494.8 61h0"/>
<path stroke="#bc8146" d="M456.8 79.9h0"/>
<path stroke="#944b28" d="M592.7 96.6h0"/>
<path stroke="#a65427" d="M444 91.3h0"/>
<path stroke="#b2622b" d="M573.2 86.4h0"/>
<path stroke="#c29254" d="M553.7 75.9h0"/>
<path stroke="#6d4f38" d="M608.8 103.1h0"/>
<path stroke="#d2c260" d="M512.7 61.1h0"/>
<path stroke="#cbab64" d="M537.7 68.3h0"/>
<path stroke="#d3c460" d="M503.8 60.3h0"/>
<path stroke="#ae5e2a" d="M576.8 88.5h0"/>
<path stroke="#8b4c2c" d="M596.4 98.7h0"/>
<path stroke="#c39556" d="M462.2 75.7h0"/>
<path stroke="#d2c160" d="M489.4 61.9h0"/>
<path stroke="#8e4c2b" d="M436.6 98.4h0"/>
<path stroke="#d0bb61" d="M525.2 63.7h0"/>
<path stroke="#c18f52" d="M557.3 77.6h0"/>
<path stroke="#67503b" d="M612.5 104.8h0"/>
<path stroke="#b4672f" d="M449.3 86.4h0"/>
<path stroke="#ab5a29" d="M580.5 90.6h0"/>
<path stroke="#824d30" d="M600 100.7h0"/>
<path stroke="#c8a360" d="M467.5 71.8h0"/>
<path stroke="#d1be61" d="M483.9 63.4h0"/>
<path stroke="#cbaa64" d="M541.3 69.6h0"/>
<path stroke="#c08b4f" d="M560.9 79.5h0"/>
<path stroke="#ccaf63" d="M473 68.4h0"/>
<path stroke="#cfb862" d="M478.4 65.6h0"/>
<path stroke="#67503b" d="M429 105.5h0"/>
<path stroke="#a75527" d="M584.1 92.7h0"/>
<path stroke="#794e33" d="M603.7 102.8h0"/>
<path stroke="#d3c55f" d="M516.3 61.2h0"/>
<path stroke="#d4c75f" d="M498.3 60.2h0"/>
<path stroke="#a65427" d="M441.8 93.4h0"/>
<path stroke="#d1bd61" d="M528.8 64.5h0"/>
<path stroke="#bd8348" d="M454.6 81.7h0"/>
<path stroke="#d4c85e" d="M507.3 60h0"/>
<path stroke="#bd8449" d="M564.6 81.5h0"/>
<path stroke="#a45126" d="M587.7 95h0"/>
<path stroke="#caa864" d="M544.9 71.1h0"/>
<path stroke="#704f37" d="M607.4 104.9h0"/>
<path stroke="#a04c25" d="M591.4 97.3h0"/>
<path stroke="#8d4c2b" d="M434.3 100.6h0"/>
<path stroke="#bb7d43" d="M568.2 83.6h0"/>
<path stroke="#d4c85e" d="M492.8 60.8h0"/>
<path stroke="#c49758" d="M460 77.2h0"/>
<path stroke="#67503b" d="M611.1 107h0"/>
<path stroke="#b46730" d="M447.1 88.4h0"/>
<path stroke="#c9a663" d="M548.6 72.6h0"/>
<path stroke="#d1bd61" d="M532.4 65.5h0"/>
<path stroke="#974b27" d="M595 99.6h0"/>
<path stroke="#d4c75f" d="M519.9 61.6h0"/>
<path stroke="#b8753c" d="M571.8 85.7h0"/>
<path stroke="#c9a663" d="M465.4 73.1h0"/>
<path stroke="#67503b" d="M426.7 107.7h0"/>
<path stroke="#d4c75f" d="M487.3 62h0"/>
<path stroke="#8b4c2c" d="M598.7 101.9h0"/>
<path stroke="#d5cb5c" d="M501.8 59.6h0"/>
<path stroke="#d5cb5d" d="M510.9 59.9h0"/>
<path stroke="#b66d35" d="M575.4 88h0"/>
<path stroke="#c8a360" d="M552.2 74.4h0"/>
<path stroke="#a65427" d="M439.6 95.6h0"/>
<path stroke="#cdb362" d="M470.8 69.5h0"/>
<path stroke="#d3c460" d="M481.8 63.9h0"/>
<path stroke="#7f4d31" d="M602.3 104.3h0"/>
<path stroke="#bd8449" d="M452.4 83.6h0"/>
<path stroke="#d1bd61" d="M476.3 66.4h0"/>
<path stroke="#d1bd61" d="M536.1 66.6h0"/>
<path stroke="#b3642d" d="M579.1 90.4h0"/>
<path stroke="#d4c85e" d="M523.5 62.2h0"/>
<path stroke="#c79f5e" d="M555.8 76.3h0"/>
<path stroke="#734f36" d="M606 106.7h0"/>
<path stroke="#8c4c2b" d="M432 102.8h0"/>
<path stroke="#ae5e2a" d="M582.7 92.8h0"/>
<path stroke="#d5cd5c" d="M496.3 59.8h0"/>
<path stroke="#67503b" d="M609.7 109.2h0"/>
<path stroke="#b4672f" d="M444.9 90.6h0"/>
<path stroke="#c49859" d="M457.8 78.9h0"/>
<path stroke="#aa5828" d="M586.4 95.3h0"/>
<path stroke="#c59b5a" d="M559.5 78.3h0"/>
<path stroke="#d0bb61" d="M539.7 68h0"/>
<path stroke="#d5cd5b" d="M514.4 60h0"/>
<path stroke="#a55226" d="M590 97.9h0"/>
<path stroke="#d6cf5b" d="M505.4 59.2h0"/>
<path stroke="#67503b" d="M424.4 109.8h0"/>
<path stroke="#c39557" d="M563.1 80.5h0"/>
<path stroke="#d4c95e" d="M527.1 62.9h0"/>
<path stroke="#a04c25" d="M593.6 100.5h0"/>
<path stroke="#a65327" d="M437.3 97.8h0"/>
<path stroke="#caa864" d="M463.2 74.6h0"/>
<path stroke="#d5cd5c" d="M490.8 60.7h0"/>
<path stroke="#d0b962" d="M543.3 69.5h0"/>
<path stroke="#944b28" d="M597.3 103.2h0"/>
<path stroke="#bd8449" d="M450.2 85.6h0"/>
<path stroke="#c19053" d="M566.8 82.7h0"/>
<path stroke="#cfb662" d="M468.7 70.7h0"/>
<path stroke="#854d2e" d="M600.9 105.9h0"/>
<path stroke="#d5cb5c" d="M485.2 62.3h0"/>
<path stroke="#8b4c2c" d="M429.7 105.1h0"/>
<path stroke="#bf894d" d="M570.4 85.1h0"/>
<path stroke="#d2c260" d="M474.2 67.3h0"/>
<path stroke="#764e35" d="M604.6 108.6h0"/>
<path stroke="#d4c85e" d="M479.7 64.5h0"/>
<path stroke="#d6cf5b" d="M518 60.3h0"/>
<path stroke="#cfb662" d="M547 71.1h0"/>
<path stroke="#d4c95d" d="M530.7 63.9h0"/>
<path stroke="#d3ce58" d="M499.8 59h0"/>
<path stroke="#67503b" d="M608.2 111.3h0"/>
<path stroke="#b3662f" d="M442.6 92.8h0"/>
<path stroke="#bc7f44" d="M574 87.7h0"/>
<path stroke="#c59959" d="M455.6 80.8h0"/>
<path stroke="#d2cd58" d="M508.9 58.9h0"/>
<path stroke="#b8743b" d="M577.7 90.3h0"/>
<path stroke="#cdb362" d="M550.7 73h0"/>
<path stroke="#67503b" d="M422.1 112h0"/>
<path stroke="#b46931" d="M581.3 93h0"/>
<path stroke="#a55226" d="M435 100.2h0"/>
<path stroke="#d4c95e" d="M534.4 65.1h0"/>
<path stroke="#af5f2a" d="M585 95.8h0"/>
<path stroke="#d1cd57" d="M494.3 59.6h0"/>
<path stroke="#cbaa64" d="M461 76.3h0"/>
<path stroke="#bd8449" d="M448 87.7h0"/>
<path stroke="#d6d05a" d="M521.7 60.8h0"/>
<path stroke="#ccaf63" d="M554.3 75h0"/>
<path stroke="#aa5828" d="M588.6 98.6h0"/>
<path stroke="#a45126" d="M592.2 101.5h0"/>
<path stroke="#9c4a25" d="M595.9 104.5h0"/>
<path stroke="#8a4c2c" d="M427.4 107.4h0"/>
<path stroke="#d0b962" d="M466.5 72.1h0"/>
<path stroke="#8b4c2c" d="M599.5 107.5h0"/>
<path stroke="#caa964" d="M558 77.2h0"/>
<path stroke="#d3ce58" d="M488.7 60.8h0"/>
<path stroke="#cac853" d="M503.4 58.5h0"/>
<path stroke="#ccca54" d="M512.5 58.9h0"/>
<path stroke="#794e34" d="M603.1 110.5h0"/>
<path stroke="#d4c85e" d="M538 66.4h0"/>
<path stroke="#b3652d" d="M440.4 95.1h0"/>
<path stroke="#67503b" d="M606.8 113.5h0"/>
<path stroke="#d3c55f" d="M472 68.4h0"/>
<path stroke="#d6cf5b" d="M483.1 62.7h0"/>
<path stroke="#c8a461" d="M561.6 79.5h0"/>
<path stroke="#c5995a" d="M453.4 82.8h0"/>
<path stroke="#d5cb5d" d="M477.6 65.3h0"/>
<path stroke="#d4cf59" d="M525.3 61.5h0"/>
<path stroke="#c69d5c" d="M565.3 82h0"/>
<path stroke="#67503b" d="M419.7 114.3h0"/>
<path stroke="#a45226" d="M432.7 102.5h0"/>
<path stroke="#d4c75f" d="M541.7 68h0"/>
<path stroke="#c49657" d="M569 84.6h0"/>
<path stroke="#c6c651" d="M497.8 58.7h0"/>
<path stroke="#bd8348" d="M445.8 90h0"/>
<path stroke="#cbab64" d="M458.8 78.1h0"/>
<path stroke="#c18e52" d="M572.6 87.4h0"/>
<path stroke="#c7c651" d="M516.2 59.2h0"/>
<path stroke="#bd8348" d="M576.3 90.2h0"/>
<path stroke="#d3c55f" d="M545.4 69.8h0"/>
<path stroke="#884c2d" d="M425.1 109.8h0"/>
<path stroke="#c2c34e" d="M507 58.2h0"/>
<path stroke="#d3ce58" d="M529 62.5h0"/>
<path stroke="#b9763d" d="M579.9 93.2h0"/>
<path stroke="#b2632c" d="M438.1 97.5h0"/>
<path stroke="#b46931" d="M583.5 96.3h0"/>
<path stroke="#ae5e2a" d="M587.2 99.4h0"/>
<path stroke="#d0bb61" d="M464.3 73.7h0"/>
<path stroke="#c6c651" d="M492.2 59.6h0"/>
<path stroke="#a75527" d="M590.8 102.6h0"/>
<path stroke="#a04d25" d="M594.4 105.8h0"/>
<path stroke="#904c2a" d="M598.1 109.1h0"/>
<path stroke="#67503b" d="M605.3 115.8h0"/>
<path stroke="#7b4e32" d="M601.7 112.5h0"/>
<path stroke="#d2c260" d="M549.1 71.7h0"/>
<path stroke="#c59959" d="M451.2 84.9h0"/>
<path stroke="#d4c75f" d="M469.9 69.8h0"/>
<path stroke="#a35026" d="M430.4 105h0"/>
<path stroke="#cac853" d="M486.6 61.2h0"/>
<path stroke="#d4cf59" d="M532.7 63.7h0"/>
<path stroke="#67503b" d="M417.3 116.5h0"/>
<path stroke="#c3c44f" d="M519.8 59.6h0"/>
<path stroke="#d1bd61" d="M552.8 73.9h0"/>
<path stroke="#d5cd5b" d="M475.4 66.3h0"/>
<path stroke="#d2cd58" d="M481 63.4h0"/>
<path stroke="#bcc04b" d="M501.4 58.1h0"/>
<path stroke="#bc8146" d="M443.5 92.3h0"/>
<path stroke="#bbbf4b" d="M510.6 58.1h0"/>
<path stroke="#cbac63" d="M456.6 80.1h0"/>
<path stroke="#cfb862" d="M556.4 76.2h0"/>
<path stroke="#874d2e" d="M422.7 112.2h0"/>
<path stroke="#d6d05a" d="M536.4 65.1h0"/>
<path stroke="#cdb163" d="M560.1 78.7h0"/>
<path stroke="#b1612b" d="M435.8 100h0"/>
<path stroke="#cbaa64" d="M563.8 81.4h0"/>
<path stroke="#c1c34e" d="M523.5 60.3h0"/>
<path stroke="#67503b" d="M603.8 118h0"/>
<path stroke="#babf4a" d="M495.8 58.6h0"/>
<path stroke="#d1bd61" d="M462.1 75.5h0"/>
<path stroke="#c49859" d="M448.9 87.2h0"/>
<path stroke="#7e4d31" d="M600.2 114.4h0"/>
<path stroke="#c8a260" d="M567.5 84.2h0"/>
<path stroke="#954b28" d="M596.6 110.8h0"/>
<path stroke="#d6cf5b" d="M540.1 66.7h0"/>
<path stroke="#a24f25" d="M428.1 107.5h0"/>
<path stroke="#c59959" d="M571.1 87.2h0"/>
<path stroke="#a35026" d="M593 107.2h0"/>
<path stroke="#ab5a29" d="M589.4 103.7h0"/>
<path stroke="#c19053" d="M574.8 90.3h0"/>
<path stroke="#b3642d" d="M585.7 100.2h0"/>
<path stroke="#bd8348" d="M578.5 93.5h0"/>
<path stroke="#b8743b" d="M582.1 96.8h0"/>
<path stroke="#67503b" d="M414.8 118.8h0"/>
<path stroke="#b6bc48" d="M514.3 58.3h0"/>
<path stroke="#d4c85e" d="M467.7 71.3h0"/>
<path stroke="#b3bb46" d="M505 57.6h0"/>
<path stroke="#bcc04b" d="M490.1 59.9h0"/>
<path stroke="#bb7e44" d="M441.2 94.8h0"/>
<path stroke="#d5cd5b" d="M543.8 68.6h0"/>
<path stroke="#c0c34e" d="M527.2 61.3h0"/>
<path stroke="#d6cf5b" d="M473.3 67.6h0"/>
<path stroke="#cbab64" d="M454.4 82.2h0"/>
<path stroke="#c2c34e" d="M484.5 61.8h0"/>
<path stroke="#854d2f" d="M420.3 114.6h0"/>
<path stroke="#ccca54" d="M478.9 64.4h0"/>
<path stroke="#b05f2a" d="M433.5 102.6h0"/>
<path stroke="#d5cb5d" d="M547.5 70.7h0"/>
<path stroke="#c49758" d="M446.7 89.7h0"/>
<path stroke="#b0b844" d="M499.4 57.9h0"/>
<path stroke="#67503b" d="M602.3 120.3h0"/>
<path stroke="#b2ba45" d="M518 58.7h0"/>
<path stroke="#d1bd61" d="M459.9 77.5h0"/>
<path stroke="#c1c34e" d="M530.9 62.5h0"/>
<path stroke="#a14e25" d="M425.8 110.1h0"/>
<path stroke="#d4c85e" d="M551.2 72.9h0"/>
<path stroke="#804d30" d="M598.7 116.4h0"/>
<path stroke="#acb642" d="M508.7 57.5h0"/>
<path stroke="#9a4a26" d="M595.1 112.6h0"/>
<path stroke="#ba7b41" d="M439 97.4h0"/>
<path stroke="#d3c460" d="M554.9 75.4h0"/>
<path stroke="#67503b" d="M412.4 121h0"/>
<path stroke="#a65327" d="M591.5 108.7h0"/>
<path stroke="#d4c95e" d="M465.5 73h0"/>
<path stroke="#b0b844" d="M493.7 58.8h0"/>
<path stroke="#d1be61" d="M558.6 78.1h0"/>
<path stroke="#ae5e2a" d="M587.9 104.9h0"/>
<path stroke="#c3c44f" d="M534.6 63.9h0"/>
<path stroke="#cbaa64" d="M452.2 84.6h0"/>
<path stroke="#ae5d2a" d="M431.2 105.2h0"/>
<path stroke="#b66d35" d="M584.3 101.2h0"/>
<path stroke="#ceb662" d="M562.3 81h0"/>
<path stroke="#834d2f" d="M417.9 117.1h0"/>
<path stroke="#bc7f44" d="M580.6 97.5h0"/>
<path stroke="#ccad63" d="M566 84h0"/>
<path stroke="#b0b844" d="M521.7 59.4h0"/>
<path stroke="#d6d05a" d="M471.1 69h0"/>
<path stroke="#c18e52" d="M577 94h0"/>
<path stroke="#c8a361" d="M569.6 87.2h0"/>
<path stroke="#c59959" d="M573.3 90.5h0"/>
<path stroke="#b3bb46" d="M488 60.4h0"/>
<path stroke="#c39556" d="M444.4 92.2h0"/>
<path stroke="#c7c651" d="M476.7 65.5h0"/>
<path stroke="#bbbf4b" d="M482.4 62.6h0"/>
<path stroke="#a6b345" d="M503 57.4h0"/>
<path stroke="#c7c651" d="M538.3 65.6h0"/>
<path stroke="#a7b345" d="M512.3 57.6h0"/>
<path stroke="#a04c25" d="M423.4 112.7h0"/>
<path stroke="#67503b" d="M600.8 122.6h0"/>
<path stroke="#d1bd61" d="M457.7 79.6h0"/>
<path stroke="#b9773e" d="M436.7 100.2h0"/>
<path stroke="#834d2f" d="M597.2 118.5h0"/>
<path stroke="#afb844" d="M525.4 60.3h0"/>
<path stroke="#ccca54" d="M542.1 67.6h0"/>
<path stroke="#67503b" d="M409.9 123.3h0"/>
<path stroke="#9e4a24" d="M593.6 114.3h0"/>
<path stroke="#caa864" d="M449.9 87.1h0"/>
<path stroke="#a4b24a" d="M497.3 57.9h0"/>
<path stroke="#ac5b29" d="M428.9 108h0"/>
<path stroke="#d4c95d" d="M463.3 75h0"/>
<path stroke="#d2cd58" d="M545.8 69.8h0"/>
<path stroke="#804d30" d="M415.5 119.6h0"/>
<path stroke="#a85628" d="M590 110.2h0"/>
<path stroke="#a2b14d" d="M516 58h0"/>
<path stroke="#c29254" d="M442.1 95h0"/>
<path stroke="#b2622b" d="M586.4 106.2h0"/>
<path stroke="#9eb055" d="M506.7 57.1h0"/>
<path stroke="#b0b844" d="M529.1 61.5h0"/>
<path stroke="#d6cf5b" d="M549.5 72.2h0"/>
<path stroke="#d4cf59" d="M468.9 70.7h0"/>
<path stroke="#a6b345" d="M491.6 59.2h0"/>
<path stroke="#9e4a24" d="M421 115.5h0"/>
<path stroke="#b8753c" d="M582.8 102.2h0"/>
<path stroke="#d5cb5c" d="M553.3 74.8h0"/>
<path stroke="#d0bb61" d="M455.5 82h0"/>
<path stroke="#b8733a" d="M434.4 103h0"/>
<path stroke="#c3c44f" d="M474.5 67h0"/>
<path stroke="#67503b" d="M599.3 124.9h0"/>
<path stroke="#bf894d" d="M579.1 98.3h0"/>
<path stroke="#acb642" d="M485.9 61.1h0"/>
<path stroke="#d4c75f" d="M557 77.6h0"/>
<path stroke="#b6bc48" d="M480.2 63.7h0"/>
<path stroke="#c49657" d="M575.5 94.5h0"/>
<path stroke="#d2c160" d="M560.7 80.7h0"/>
<path stroke="#c8a260" d="M571.8 90.8h0"/>
<path stroke="#b2ba45" d="M532.9 63h0"/>
<path stroke="#cfb762" d="M564.4 83.9h0"/>
<path stroke="#ccad63" d="M568.1 87.3h0"/>
<path stroke="#854d2f" d="M595.7 120.6h0"/>
<path stroke="#c9a663" d="M447.7 89.7h0"/>
<path stroke="#aa5928" d="M426.5 110.9h0"/>
<path stroke="#9fb052" d="M519.8 58.6h0"/>
<path stroke="#67503b" d="M407.4 125.7h0"/>
<path stroke="#99ae5e" d="M501 57.3h0"/>
<path stroke="#d4c95e" d="M461 77.2h0"/>
<path stroke="#7e4d31" d="M413.1 122.2h0"/>
<path stroke="#a04c25" d="M592.1 116.2h0"/>
<path stroke="#97ad62" d="M510.4 57.2h0"/>
<path stroke="#c18f52" d="M439.9 97.8h0"/>
<path stroke="#b6bc48" d="M536.6 64.8h0"/>
<path stroke="#aa5928" d="M588.5 111.9h0"/>
<path stroke="#9a4a26" d="M418.6 118.2h0"/>
<path stroke="#b66d35" d="M432.1 106h0"/>
<path stroke="#d3ce58" d="M466.7 72.7h0"/>
<path stroke="#99ae5e" d="M495.2 58.3h0"/>
<path stroke="#d0b962" d="M453.2 84.6h0"/>
<path stroke="#9eb054" d="M523.5 59.6h0"/>
<path stroke="#bbbf4b" d="M540.4 66.8h0"/>
<path stroke="#b46830" d="M584.9 107.6h0"/>
<path stroke="#67503b" d="M597.7 127.3h0"/>
<path stroke="#c1c34e" d="M472.3 68.7h0"/>
<path stroke="#9eb055" d="M489.5 59.9h0"/>
<path stroke="#c8a360" d="M445.4 92.6h0"/>
<path stroke="#a85628" d="M424.2 113.8h0"/>
<path stroke="#bb7d43" d="M581.2 103.3h0"/>
<path stroke="#c2c34e" d="M544.1 69.1h0"/>
<path stroke="#90aa6f" d="M504.7 57h0"/>
<path stroke="#b2ba45" d="M478 65.1h0"/>
<path stroke="#92ab6b" d="M514.1 57.5h0"/>
<path stroke="#a7b345" d="M483.8 62.2h0"/>
<path stroke="#874d2e" d="M594.1 122.7h0"/>
<path stroke="#67503b" d="M404.9 128h0"/>
<path stroke="#c19053" d="M577.6 99.2h0"/>
<path stroke="#d4c85e" d="M458.8 79.6h0"/>
<path stroke="#c08b4f" d="M437.6 100.8h0"/>
<path stroke="#cac853" d="M547.9 71.6h0"/>
<path stroke="#9fb052" d="M527.3 60.8h0"/>
<path stroke="#7b4e32" d="M410.6 124.8h0"/>
<path stroke="#c69d5c" d="M573.9 95.2h0"/>
<path stroke="#d3ce58" d="M551.6 74.3h0"/>
<path stroke="#cbaa64" d="M570.2 91.3h0"/>
<path stroke="#a14e25" d="M590.6 118.1h0"/>
<path stroke="#b46830" d="M429.7 109h0"/>
<path stroke="#954b28" d="M416.2 121.1h0"/>
<path stroke="#d5cd5c" d="M555.4 77.3h0"/>
<path stroke="#ceb662" d="M566.5 87.5h0"/>
<path stroke="#cfb662" d="M451 87.3h0"/>
<path stroke="#d4c85e" d="M559.1 80.5h0"/>
<path stroke="#d2c160" d="M562.8 83.9h0"/>
<path stroke="#8ea973" d="M498.9 57.6h0"/>
<path stroke="#d4cf59" d="M464.4 74.9h0"/>
<path stroke="#a2b14d" d="M531 62.3h0"/>
<path stroke="#ac5b29" d="M587 113.5h0"/>
<path stroke="#8faa70" d="M517.8 58.2h0"/>
<path stroke="#c79f5e" d="M443.1 95.6h0"/>
<path stroke="#a65327" d="M421.8 116.8h0"/>
<path stroke="#67503b" d="M596.2 129.7h0"/>
<path stroke="#89a77c" d="M508.4 57.1h0"/>
<path stroke="#c0c34e" d="M470.1 70.6h0"/>
<path stroke="#bd8449" d="M435.3 104h0"/>
<path stroke="#90aa6f" d="M493.1 58.9h0"/>
<path stroke="#b66d35" d="M583.3 109h0"/>
<path stroke="#a7b345" d="M534.8 64.1h0"/>
<path stroke="#d4c75f" d="M456.6 82.2h0"/>
<path stroke="#67503b" d="M402.4 130.4h0"/>
<path stroke="#794e34" d="M408.1 127.4h0"/>
<path stroke="#b0b844" d="M475.8 66.8h0"/>
<path stroke="#884c2d" d="M592.6 124.9h0"/>
<path stroke="#97ad62" d="M487.4 60.9h0"/>
<path stroke="#b2622b" d="M427.4 112.2h0"/>
<path stroke="#bd8449" d="M579.7 104.6h0"/>
<path stroke="#a2b14d" d="M481.6 63.5h0"/>
<path stroke="#8ea972" d="M521.6 59.1h0"/>
<path stroke="#904c2a" d="M413.8 123.9h0"/>
<path stroke="#cdb362" d="M448.7 90.3h0"/>
<path stroke="#acb642" d="M538.6 66.2h0"/>
<path stroke="#c39557" d="M576 100.2h0"/>
<path stroke="#85a684" d="M502.6 57.3h0"/>
<path stroke="#a24f25" d="M589 120.1h0"/>
<path stroke="#d6d05a" d="M462.2 77.4h0"/>
<path stroke="#c59b5a" d="M440.8 98.8h0"/>
<path stroke="#84a585" d="M512.1 57.4h0"/>
<path stroke="#a35026" d="M419.4 119.9h0"/>
<path stroke="#b3bb46" d="M542.4 68.6h0"/>
<path stroke="#c8a461" d="M572.4 96h0"/>
<path stroke="#bb7d43" d="M433 107.3h0"/>
<path stroke="#cdb163" d="M568.7 91.9h0"/>
<path stroke="#bcc04b" d="M546.2 71.2h0"/>
<path stroke="#8faa70" d="M525.4 60.4h0"/>
<path stroke="#67503b" d="M594.6 132h0"/>
<path stroke="#ae5d2a" d="M585.4 115.3h0"/>
<path stroke="#d3c55f" d="M454.3 85.1h0"/>
<path stroke="#c1c34e" d="M467.9 72.8h0"/>
<path stroke="#d1be61" d="M564.9 88h0"/>
<path stroke="#85a684" d="M496.8 58.2h0"/>
<path stroke="#c6c651" d="M549.9 74.1h0"/>
<path stroke="#ae5e2a" d="M425 115.5h0"/>
<path stroke="#d4c75f" d="M561.2 84.2h0"/>
<path stroke="#d1cd57" d="M553.7 77.3h0"/>
<path stroke="#d5cd5c" d="M557.5 80.6h0"/>
<path stroke="#764e35" d="M405.6 130.1h0"/>
<path stroke="#ccaf63" d="M446.4 93.4h0"/>
<path stroke="#67503b" d="M399.8 132.8h0"/>
<path stroke="#b8733a" d="M581.8 110.6h0"/>
<path stroke="#8b4c2c" d="M411.3 126.9h0"/>
<path stroke="#afb844" d="M473.6 68.7h0"/>
<path stroke="#8a4c2c" d="M591 127.1h0"/>
<path stroke="#89a77c" d="M491 59.8h0"/>
<path stroke="#81a48b" d="M515.9 58h0"/>
<path stroke="#92ab6b" d="M529.2 61.9h0"/>
<path stroke="#c39557" d="M438.5 102.1h0"/>
<path stroke="#7da392" d="M506.3 57.2h0"/>
<path stroke="#9fb052" d="M479.4 65.1h0"/>
<path stroke="#92ab6b" d="M485.2 62.2h0"/>
<path stroke="#a04d25" d="M417 123.1h0"/>
<path stroke="#d6cf5b" d="M460 80h0"/>
<path stroke="#b8753c" d="M430.6 110.7h0"/>
<path stroke="#c08b4f" d="M578.1 106h0"/>
<path stroke="#a35026" d="M587.4 122.1h0"/>
<path stroke="#97ad62" d="M533 63.8h0"/>
<path stroke="#d2c260" d="M452 88.1h0"/>
<path stroke="#c59b5a" d="M574.4 101.4h0"/>
<path stroke="#ab5a29" d="M422.7 118.8h0"/>
<path stroke="#80a48d" d="M519.7 58.9h0"/>
<path stroke="#7ba296" d="M500.5 57.8h0"/>
<path stroke="#c3c44f" d="M465.7 75.3h0"/>
<path stroke="#67503b" d="M593 134.5h0"/>
<path stroke="#caa964" d="M444.1 96.8h0"/>
<path stroke="#9eb055" d="M536.8 65.9h0"/>
<path stroke="#caa964" d="M570.7 97h0"/>
<path stroke="#b05f2a" d="M583.8 117.2h0"/>
<path stroke="#c19053" d="M436.2 105.6h0"/>
<path stroke="#78a19c" d="M510.1 57.5h0"/>
<path stroke="#734f36" d="M403.1 132.8h0"/>
<path stroke="#854d2e" d="M408.9 129.9h0"/>
<path stroke="#cfb862" d="M567 92.7h0"/>
<path stroke="#a6b345" d="M540.6 68.4h0"/>
<path stroke="#67503b" d="M397.2 135.2h0"/>
<path stroke="#b66d35" d="M428.3 114.2h0"/>
<path stroke="#b0b844" d="M471.4 71h0"/>
<path stroke="#9c4a25" d="M414.6 126.3h0"/>
<path stroke="#7da392" d="M494.7 59.1h0"/>
<path stroke="#d5cd5b" d="M457.7 83h0"/>
<path stroke="#8b4c2c" d="M589.4 129.3h0"/>
<path stroke="#d3c460" d="M563.3 88.6h0"/>
<path stroke="#81a48b" d="M523.5 60.2h0"/>
<path stroke="#b9773e" d="M580.2 112.3h0"/>
<path stroke="#b0b844" d="M544.4 71.1h0"/>
<path stroke="#9eb054" d="M477.2 67.1h0"/>
<path stroke="#d5cb5c" d="M559.6 84.6h0"/>
<path stroke="#84a585" d="M488.9 61.1h0"/>
<path stroke="#babf4a" d="M548.2 74.1h0"/>
<path stroke="#d1bd61" d="M449.8 91.4h0"/>
<path stroke="#a75527" d="M420.3 122.3h0"/>
<path stroke="#d3ce58" d="M555.8 80.9h0"/>
<path stroke="#8faa70" d="M483 63.8h0"/>
<path stroke="#c6c651" d="M552 77.4h0"/>
<path stroke="#c8a461" d="M441.9 100.3h0"/>
<path stroke="#749fa4" d="M504.3 57.7h0"/>
<path stroke="#c18f52" d="M576.5 107.4h0"/>
<path stroke="#bf894d" d="M433.9 109.2h0"/>
<path stroke="#759fa1" d="M513.9 58.1h0"/>
<path stroke="#a45226" d="M585.8 124.2h0"/>
<path stroke="#c7c651" d="M463.4 78.1h0"/>
<path stroke="#84a585" d="M527.3 61.8h0"/>
<path stroke="#67503b" d="M591.4 136.9h0"/>
<path stroke="#b3642d" d="M426 117.8h0"/>
<path stroke="#7f4d31" d="M406.4 132.9h0"/>
<path stroke="#704f37" d="M400.5 135.6h0"/>
<path stroke="#c79f5e" d="M572.8 102.7h0"/>
<path stroke="#944b28" d="M412.2 129.6h0"/>
<path stroke="#d5cb5d" d="M455.5 86.2h0"/>
<path stroke="#b1612b" d="M582.2 119.1h0"/>
<path stroke="#b2ba45" d="M469.2 73.5h0"/>
<path stroke="#749fa4" d="M498.4 58.7h0"/>
<path stroke="#89a77c" d="M531.1 63.7h0"/>
<path stroke="#cfb862" d="M447.5 94.9h0"/>
<path stroke="#67503b" d="M394.5 137.7h0"/>
<path stroke="#a45126" d="M417.9 125.8h0"/>
<path stroke="#ccaf63" d="M569.1 98.1h0"/>
<path stroke="#c69d5c" d="M439.6 103.9h0"/>
<path stroke="#749fa3" d="M517.7 59.1h0"/>
<path stroke="#8c4c2b" d="M587.8 131.6h0"/>
<path stroke="#bc7f44" d="M431.6 112.9h0"/>
<path stroke="#9fb052" d="M475 69.3h0"/>
<path stroke="#6e9dae" d="M508.1 58h0"/>
<path stroke="#78a19c" d="M492.6 60.3h0"/>
<path stroke="#90aa6f" d="M535 65.9h0"/>
<path stroke="#d1bd61" d="M565.4 93.7h0"/>
<path stroke="#ba7b41" d="M578.5 114h0"/>
<path stroke="#ccca54" d="M461.2 81.1h0"/>
<path stroke="#8ea972" d="M480.8 65.7h0"/>
<path stroke="#ae5e2a" d="M423.6 121.5h0"/>
<path stroke="#81a48b" d="M486.7 62.7h0"/>
<path stroke="#99ae5e" d="M538.8 68.5h0"/>
<path stroke="#d4c85e" d="M561.6 89.4h0"/>
<path stroke="#d4c85e" d="M453.2 89.6h0"/>
<path stroke="#794e33" d="M403.9 136h0"/>
<path stroke="#a55226" d="M584.2 126.4h0"/>
<path stroke="#8b4c2c" d="M409.7 133h0"/>
<path stroke="#759fa1" d="M521.6 60.4h0"/>
<path stroke="#d6cf5b" d="M557.9 85.3h0"/>
<path stroke="#a4b24a" d="M542.6 71.3h0"/>
<path stroke="#cdb163" d="M445.3 98.6h0"/>
<path stroke="#c29254" d="M574.8 109.1h0"/>
<path stroke="#67503b" d="M589.8 139.4h0"/>
<path stroke="#c49657" d="M437.3 107.8h0"/>
<path stroke="#6d4f38" d="M397.9 138.4h0"/>
<path stroke="#cac853" d="M554.1 81.4h0"/>
<path stroke="#b0b844" d="M546.5 74.4h0"/>
<path stroke="#a04c25" d="M415.5 129.4h0"/>
<path stroke="#bcc04b" d="M550.3 77.8h0"/>
<path stroke="#6c9cb2" d="M502.2 58.6h0"/>
<path stroke="#b6bc48" d="M467 76.3h0"/>
<path stroke="#b8743b" d="M429.3 116.8h0"/>
<path stroke="#6b9cb4" d="M511.9 58.6h0"/>
<path stroke="#c8a360" d="M571.2 104.2h0"/>
<path stroke="#67503b" d="M391.9 140.2h0"/>
<path stroke="#b2632c" d="M580.5 121.1h0"/>
<path stroke="#aa5828" d="M421.3 125.3h0"/>
<path stroke="#78a19c" d="M525.4 62h0"/>
<path stroke="#d2cd58" d="M458.9 84.3h0"/>
<path stroke="#a2b14d" d="M472.8 71.9h0"/>
<path stroke="#6e9dae" d="M496.3 59.9h0"/>
<path stroke="#8d4c2b" d="M586.2 134h0"/>
<path stroke="#d3c460" d="M451 93.2h0"/>
<path stroke="#cbaa64" d="M443 102.5h0"/>
<path stroke="#cdb362" d="M567.4 99.4h0"/>
<path stroke="#c18e52" d="M435 111.8h0"/>
<path stroke="#8faa70" d="M478.6 68h0"/>
<path stroke="#759fa1" d="M490.4 61.9h0"/>
<path stroke="#824d30" d="M407.3 136.4h0"/>
<path stroke="#7da392" d="M529.3 63.9h0"/>
<path stroke="#b46931" d="M427 120.8h0"/>
<path stroke="#80a48d" d="M484.5 64.6h0"/>
<path stroke="#734f36" d="M401.4 139.1h0"/>
<path stroke="#bb7e44" d="M576.9 115.9h0"/>
<path stroke="#974b27" d="M413.1 133h0"/>
<path stroke="#6a9bb6" d="M515.7 59.6h0"/>
<path stroke="#679abd" d="M506 58.8h0"/>
<path stroke="#d2c260" d="M563.7 94.8h0"/>
<path stroke="#bbbf4b" d="M464.7 79.4h0"/>
<path stroke="#a65327" d="M582.5 128.6h0"/>
<path stroke="#6a503a" d="M395.3 141.2h0"/>
<path stroke="#a55226" d="M418.9 129.2h0"/>
<path stroke="#85a684" d="M533.1 66.2h0"/>
<path stroke="#67503b" d="M588.1 141.9h0"/>
<path stroke="#d5cb5d" d="M559.9 90.4h0"/>
<path stroke="#d6cf5b" d="M456.7 87.9h0"/>
<path stroke="#c39556" d="M573.2 110.8h0"/>
<path stroke="#d1be61" d="M448.7 97h0"/>
<path stroke="#c8a260" d="M440.7 106.5h0"/>
<path stroke="#bd8348" d="M432.7 115.9h0"/>
<path stroke="#8ea973" d="M537 68.8h0"/>
<path stroke="#d2cd58" d="M556.1 86.2h0"/>
<path stroke="#a7b345" d="M470.5 74.7h0"/>
<path stroke="#679abd" d="M500.1 59.8h0"/>
<path stroke="#6b9cb4" d="M519.6 60.9h0"/>
<path stroke="#af5f2a" d="M424.7 124.9h0"/>
<path stroke="#67503b" d="M389.2 142.7h0"/>
<path stroke="#99ae5e" d="M540.8 71.7h0"/>
<path stroke="#c2c34e" d="M552.3 82.2h0"/>
<path stroke="#b3652d" d="M578.9 123.3h0"/>
<path stroke="#a6b345" d="M544.7 75h0"/>
<path stroke="#b3bb46" d="M548.5 78.5h0"/>
<path stroke="#794e33" d="M404.8 139.8h0"/>
<path stroke="#8b4c2c" d="M410.7 136.8h0"/>
<path stroke="#6398c3" d="M509.8 59.4h0"/>
<path stroke="#c9a663" d="M569.5 105.8h0"/>
<path stroke="#8e4c2b" d="M584.5 136.4h0"/>
<path stroke="#92ab6b" d="M476.4 70.6h0"/>
<path stroke="#6d4f38" d="M398.8 142.2h0"/>
<path stroke="#6b9cb4" d="M494.2 61.5h0"/>
<path stroke="#a04c25" d="M416.6 133.2h0"/>
<path stroke="#c2c34e" d="M462.5 82.7h0"/>
<path stroke="#81a48b" d="M482.3 66.9h0"/>
<path stroke="#6e9dae" d="M523.4 62.5h0"/>
<path stroke="#749fa3" d="M488.2 63.9h0"/>
<path stroke="#c59959" d="M438.4 110.7h0"/>
<path stroke="#b9763d" d="M430.4 120.1h0"/>
<path stroke="#d5cb5c" d="M454.4 91.6h0"/>
<path stroke="#ceb662" d="M446.4 101.1h0"/>
<path stroke="#cfb662" d="M565.7 100.9h0"/>
<path stroke="#bc8146" d="M575.2 118h0"/>
<path stroke="#67503b" d="M392.7 144h0"/>
<path stroke="#aa5828" d="M422.3 129.1h0"/>
<path stroke="#a65427" d="M580.8 130.9h0"/>
<path stroke="#67503b" d="M586.5 144.4h0"/>
<path stroke="#6198c7" d="M503.9 60h0"/>
<path stroke="#acb642" d="M468.3 77.9h0"/>
<path stroke="#749fa4" d="M527.3 64.5h0"/>
<path stroke="#6298c5" d="M513.7 60.4h0"/>
<path stroke="#d3c55f" d="M562 96.2h0"/>
<path stroke="#7f4d31" d="M408.3 140.5h0"/>
<path stroke="#704f37" d="M402.3 143.3h0"/>
<path stroke="#944b28" d="M414.2 137.2h0"/>
<path stroke="#c49758" d="M571.5 112.7h0"/>
<path stroke="#c19053" d="M436.2 115.1h0"/>
<path stroke="#b46931" d="M428.1 124.5h0"/>
<path stroke="#cac853" d="M460.2 86.4h0"/>
<path stroke="#ccad63" d="M444.2 105.3h0"/>
<path stroke="#d5cd5b" d="M558.2 91.7h0"/>
<path stroke="#7ba296" d="M531.2 66.8h0"/>
<path stroke="#d4c75f" d="M452.2 95.7h0"/>
<path stroke="#97ad62" d="M474.2 73.5h0"/>
<path stroke="#6398c3" d="M498 61.4h0"/>
<path stroke="#67503b" d="M396.2 145.4h0"/>
<path stroke="#a45126" d="M420 133.3h0"/>
<path stroke="#b3662f" d="M577.2 125.5h0"/>
<path stroke="#8e4c2b" d="M582.8 138.9h0"/>
<path stroke="#ccca54" d="M554.4 87.3h0"/>
<path stroke="#85a684" d="M535.1 69.5h0"/>
<path stroke="#6398c3" d="M517.6 61.7h0"/>
<path stroke="#84a585" d="M480.1 69.5h0"/>
<path stroke="#caa864" d="M567.7 107.6h0"/>
<path stroke="#6a9bb6" d="M492 63.4h0"/>
<path stroke="#bbbf4b" d="M550.5 83.2h0"/>
<path stroke="#90aa6f" d="M539 72.5h0"/>
<path stroke="#759fa1" d="M486 66.1h0"/>
<path stroke="#5e96cd" d="M507.8 60.6h0"/>
<path stroke="#acb642" d="M546.7 79.4h0"/>
<path stroke="#9eb055" d="M542.8 75.8h0"/>
<path stroke="#bd8348" d="M433.9 119.6h0"/>
<path stroke="#b3bb46" d="M466.1 81.4h0"/>
<path stroke="#ae5e2a" d="M425.8 129h0"/>
<path stroke="#c8a361" d="M441.9 109.8h0"/>
<path stroke="#734f36" d="M405.8 144.3h0"/>
<path stroke="#854d2e" d="M411.8 141.3h0"/>
<path stroke="#d2c160" d="M449.9 99.9h0"/>
<path stroke="#d3ce58" d="M458 90.3h0"/>
<path stroke="#bd8348" d="M573.5 120.1h0"/>
<path stroke="#67503b" d="M399.8 146.8h0"/>
<path stroke="#d0b962" d="M564 102.6h0"/>
<path stroke="#9c4a25" d="M417.7 137.7h0"/>
<path stroke="#679abd" d="M521.5 63.4h0"/>
<path stroke="#a65427" d="M579.1 133.3h0"/>
<path stroke="#67503b" d="M584.8 146.9h0"/>
<path stroke="#9eb055" d="M472 76.7h0"/>
<path stroke="#5e96cd" d="M501.8 61.6h0"/>
<path stroke="#b8743b" d="M431.6 124.2h0"/>
<path stroke="#d4c75f" d="M560.2 97.8h0"/>
<path stroke="#a75527" d="M423.5 133.5h0"/>
<path stroke="#5d96cf" d="M511.6 61.6h0"/>
<path stroke="#c59959" d="M439.6 114.4h0"/>
<path stroke="#c49859" d="M569.7 114.8h0"/>
<path stroke="#6c9cb2" d="M525.4 65.4h0"/>
<path stroke="#cfb762" d="M447.7 104.3h0"/>
<path stroke="#bcc04b" d="M463.8 85.1h0"/>
<path stroke="#89a77c" d="M477.9 72.5h0"/>
<path stroke="#764e35" d="M409.4 145.4h0"/>
<path stroke="#6298c5" d="M495.8 63.3h0"/>
<path stroke="#d5cd5c" d="M455.7 94.5h0"/>
<path stroke="#b4672f" d="M575.4 127.8h0"/>
<path stroke="#67503b" d="M403.4 148.2h0"/>
<path stroke="#d6cf5b" d="M556.4 93.2h0"/>
<path stroke="#8e4c2b" d="M581.1 141.4h0"/>
<path stroke="#8b4c2c" d="M415.3 142.1h0"/>
<path stroke="#78a19c" d="M483.8 68.8h0"/>
<path stroke="#6b9cb4" d="M489.8 65.7h0"/>
<path stroke="#749fa4" d="M529.3 67.8h0"/>
<path stroke="#b3642d" d="M429.3 129h0"/>
<path stroke="#cbaa64" d="M566 109.6h0"/>
<path stroke="#c18e52" d="M437.4 119.1h0"/>
<path stroke="#c7c651" d="M552.6 88.7h0"/>
<path stroke="#a04d25" d="M421.2 138.2h0"/>
<path stroke="#5e96cd" d="M515.5 62.9h0"/>
<path stroke="#7da392" d="M533.2 70.5h0"/>
<path stroke="#5a95d4" d="M505.7 62.2h0"/>
<path stroke="#a6b345" d="M469.7 80.2h0"/>
<path stroke="#ccad63" d="M445.4 109h0"/>
<path stroke="#b6bc48" d="M548.7 84.5h0"/>
<path stroke="#89a77c" d="M537.1 73.6h0"/>
<path stroke="#bd8449" d="M571.7 122.4h0"/>
<path stroke="#a7b345" d="M544.8 80.6h0"/>
<path stroke="#d4c85e" d="M453.5 98.9h0"/>
<path stroke="#97ad62" d="M541 76.9h0"/>
<path stroke="#c6c651" d="M461.6 89.2h0"/>
<path stroke="#a65427" d="M577.4 135.8h0"/>
<path stroke="#67503b" d="M583.1 149.5h0"/>
<path stroke="#67503b" d="M406.9 149.6h0"/>
<path stroke="#794e34" d="M412.9 146.5h0"/>
<path stroke="#d0bb61" d="M562.2 104.5h0"/>
<path stroke="#ab5a29" d="M427 133.8h0"/>
<path stroke="#bc7f44" d="M435.1 124h0"/>
<path stroke="#90aa6f" d="M475.6 75.8h0"/>
<path stroke="#5d96cf" d="M499.6 63.6h0"/>
<path stroke="#6198c7" d="M519.4 64.6h0"/>
<path stroke="#904c2a" d="M418.9 142.9h0"/>
<path stroke="#c8a260" d="M443.2 113.8h0"/>
<path stroke="#c59959" d="M568 117h0"/>
<path stroke="#7da392" d="M481.6 71.8h0"/>
<path stroke="#d4c85e" d="M558.4 99.6h0"/>
<path stroke="#5994d6" d="M509.5 63.2h0"/>
<path stroke="#6398c3" d="M493.6 65.6h0"/>
<path stroke="#d2c160" d="M451.2 103.5h0"/>
<path stroke="#b0b844" d="M467.5 84.1h0"/>
<path stroke="#6e9dae" d="M487.6 68.4h0"/>
<path stroke="#b46730" d="M573.7 130.3h0"/>
<path stroke="#a35026" d="M424.7 138.7h0"/>
<path stroke="#b66d35" d="M432.9 129h0"/>
<path stroke="#8e4c2b" d="M579.4 144h0"/>
<path stroke="#d1cd57" d="M459.3 93.5h0"/>
<path stroke="#679abd" d="M523.4 66.7h0"/>
<path stroke="#67503b" d="M410.5 151h0"/>
<path stroke="#d6d05a" d="M554.6 94.9h0"/>
<path stroke="#c49657" d="M440.9 118.8h0"/>
<path stroke="#7b4e32" d="M416.5 147.6h0"/>
<path stroke="#cbab64" d="M564.2 111.8h0"/>
<path stroke="#6e9dae" d="M527.3 69.1h0"/>
<path stroke="#99ae5e" d="M473.4 79.4h0"/>
<path stroke="#ceb662" d="M449 108.3h0"/>
<path stroke="#5994d6" d="M503.5 64.2h0"/>
<path stroke="#c3c44f" d="M550.7 90.4h0"/>
<path stroke="#ae5e2a" d="M430.6 134.1h0"/>
<path stroke="#954b28" d="M422.4 143.7h0"/>
<path stroke="#5a95d4" d="M513.5 64.5h0"/>
<path stroke="#bd8449" d="M570 124.8h0"/>
<path stroke="#78a19c" d="M531.2 71.9h0"/>
<path stroke="#d5cd5c" d="M457.1 98h0"/>
<path stroke="#a65427" d="M575.7 138.4h0"/>
<path stroke="#bf894d" d="M438.7 123.9h0"/>
<path stroke="#b2ba45" d="M546.9 86.1h0"/>
<path stroke="#67503b" d="M581.4 152.1h0"/>
<path stroke="#babf4a" d="M465.2 88.2h0"/>
<path stroke="#84a585" d="M535.1 75h0"/>
<path stroke="#a2b14d" d="M543 82.1h0"/>
<path stroke="#85a684" d="M479.4 75.1h0"/>
<path stroke="#67503b" d="M414.2 152.4h0"/>
<path stroke="#d1bd61" d="M560.4 106.6h0"/>
<path stroke="#92ab6b" d="M539.1 78.4h0"/>
<path stroke="#5e96cd" d="M497.5 65.9h0"/>
<path stroke="#a65327" d="M428.3 139.3h0"/>
<path stroke="#cbaa64" d="M446.8 113.3h0"/>
<path stroke="#749fa4" d="M485.4 71.4h0"/>
<path stroke="#7e4d31" d="M420.1 148.8h0"/>
<path stroke="#679abd" d="M491.4 68.3h0"/>
<path stroke="#5e96cd" d="M517.4 66.2h0"/>
<path stroke="#b8753c" d="M436.4 129.2h0"/>
<path stroke="#c5995a" d="M566.2 119.4h0"/>
<path stroke="#d4c75f" d="M454.9 102.8h0"/>
<path stroke="#5894d8" d="M507.4 65.1h0"/>
<path stroke="#a4b24a" d="M471.2 83.3h0"/>
<path stroke="#d4c95e" d="M556.6 101.6h0"/>
<path stroke="#b4672f" d="M571.9 132.8h0"/>
<path stroke="#8e4c2b" d="M577.6 146.6h0"/>
<path stroke="#c6c651" d="M463 92.7h0"/>
<path stroke="#9a4a26" d="M426.1 144.6h0"/>
<path stroke="#c69d5c" d="M444.5 118.5h0"/>
<path stroke="#b2622b" d="M434.2 134.5h0"/>
<path stroke="#6398c3" d="M521.3 68.3h0"/>
<path stroke="#67503b" d="M417.8 153.8h0"/>
<path stroke="#d4cf59" d="M552.7 96.9h0"/>
<path stroke="#8ea973" d="M477.2 78.8h0"/>
<path stroke="#cbac63" d="M562.4 114.1h0"/>
<path stroke="#d1be61" d="M452.6 107.8h0"/>
<path stroke="#5a95d4" d="M501.4 66.5h0"/>
<path stroke="#c19053" d="M442.3 123.9h0"/>
<path stroke="#804d30" d="M423.8 149.9h0"/>
<path stroke="#6b9cb4" d="M525.3 70.8h0"/>
<path stroke="#bd8449" d="M568.2 127.3h0"/>
<path stroke="#5994d6" d="M511.4 66.5h0"/>
<path stroke="#a85628" d="M431.9 140h0"/>
<path stroke="#c1c34e" d="M548.8 92.3h0"/>
<path stroke="#d3ce58" d="M460.8 97.4h0"/>
<path stroke="#a65427" d="M573.9 141h0"/>
<path stroke="#b0b844" d="M468.9 87.6h0"/>
<path stroke="#7ba296" d="M483.2 74.8h0"/>
<path stroke="#67503b" d="M579.6 154.8h0"/>
<path stroke="#6198c7" d="M495.3 68.6h0"/>
<path stroke="#6c9cb2" d="M489.2 71.4h0"/>
<path stroke="#759fa1" d="M529.2 73.6h0"/>
<path stroke="#b0b844" d="M545 88h0"/>
<path stroke="#cdb163" d="M450.4 113.1h0"/>
<path stroke="#d1bd61" d="M558.6 108.9h0"/>
<path stroke="#bb7d43" d="M440.1 129.4h0"/>
<path stroke="#81a48b" d="M533.2 76.7h0"/>
<path stroke="#9fb052" d="M541 83.9h0"/>
<path stroke="#67503b" d="M421.5 155.3h0"/>
<path stroke="#9e4a24" d="M429.7 145.5h0"/>
<path stroke="#8faa70" d="M537.1 80.2h0"/>
<path stroke="#5d96cf" d="M515.3 68.2h0"/>
<path stroke="#c59959" d="M564.4 121.9h0"/>
<path stroke="#d5cb5c" d="M458.5 102.3h0"/>
<path stroke="#99ae5e" d="M474.9 82.8h0"/>
<path stroke="#5994d6" d="M505.3 67.5h0"/>
<path stroke="#b46830" d="M437.8 135h0"/>
<path stroke="#c8a461" d="M448.2 118.5h0"/>
<path stroke="#b3662f" d="M570.1 135.5h0"/>
<path stroke="#d4c95d" d="M554.7 103.9h0"/>
<path stroke="#bcc04b" d="M466.7 92.1h0"/>
<path stroke="#8d4c2b" d="M575.9 149.2h0"/>
<path stroke="#834d2f" d="M427.4 151.1h0"/>
<path stroke="#aa5928" d="M435.6 140.7h0"/>
<path stroke="#85a684" d="M481 78.6h0"/>
<path stroke="#5e96cd" d="M499.2 69.2h0"/>
<path stroke="#6298c5" d="M519.3 70.3h0"/>
<path stroke="#c39557" d="M445.9 124h0"/>
<path stroke="#d3c460" d="M456.3 107.5h0"/>
<path stroke="#d3ce58" d="M550.8 99.1h0"/>
<path stroke="#67503b" d="M425.2 156.7h0"/>
<path stroke="#cbab64" d="M560.5 116.6h0"/>
<path stroke="#749fa4" d="M487 74.8h0"/>
<path stroke="#679abd" d="M493.1 71.7h0"/>
<path stroke="#a04c25" d="M433.4 146.5h0"/>
<path stroke="#bd8348" d="M566.3 130h0"/>
<path stroke="#5a95d4" d="M509.2 68.9h0"/>
<path stroke="#cac853" d="M464.5 97h0"/>
<path stroke="#a6b345" d="M472.7 87.2h0"/>
<path stroke="#bd8449" d="M443.7 129.7h0"/>
<path stroke="#a65327" d="M572.1 143.7h0"/>
<path stroke="#6a9bb6" d="M523.2 72.8h0"/>
<path stroke="#c0c34e" d="M546.9 94.5h0"/>
<path stroke="#67503b" d="M577.9 157.4h0"/>
<path stroke="#cfb862" d="M454.1 112.9h0"/>
<path stroke="#854d2f" d="M431.1 152.3h0"/>
<path stroke="#d1bd61" d="M556.7 111.4h0"/>
<path stroke="#749fa3" d="M527.2 75.6h0"/>
<path stroke="#afb844" d="M543 90.1h0"/>
<path stroke="#b66d35" d="M441.5 135.6h0"/>
<path stroke="#9eb054" d="M539.1 86.1h0"/>
<path stroke="#80a48d" d="M531.2 78.8h0"/>
<path stroke="#90aa6f" d="M478.7 82.7h0"/>
<path stroke="#5d96cf" d="M503.1 70.2h0"/>
<path stroke="#8ea972" d="M535.1 82.3h0"/>
<path stroke="#d6cf5b" d="M462.2 102.1h0"/>
<path stroke="#caa964" d="M451.8 118.5h0"/>
<path stroke="#67503b" d="M428.9 158.2h0"/>
<path stroke="#5e96cd" d="M513.2 70.6h0"/>
<path stroke="#c49859" d="M562.5 124.6h0"/>
<path stroke="#ac5b29" d="M439.3 141.5h0"/>
<path stroke="#b3bb46" d="M470.5 91.9h0"/>
<path stroke="#b3652d" d="M568.3 138.2h0"/>
<path stroke="#d4c95e" d="M552.8 106.4h0"/>
<path stroke="#7da392" d="M484.8 78.6h0"/>
<path stroke="#8c4c2b" d="M574.1 152h0"/>
<path stroke="#6398c3" d="M497 72.3h0"/>
<path stroke="#c59b5a" d="M449.6 124.3h0"/>
<path stroke="#a14e25" d="M437.1 147.5h0"/>
<path stroke="#6e9dae" d="M490.9 75.2h0"/>
<path stroke="#d4c85e" d="M460 107.4h0"/>
<path stroke="#6398c3" d="M517.2 72.7h0"/>
<path stroke="#874d2e" d="M434.9 153.5h0"/>
<path stroke="#c08b4f" d="M447.4 130.2h0"/>
<path stroke="#cbaa64" d="M558.7 119.3h0"/>
<path stroke="#d4cf59" d="M548.9 101.6h0"/>
<path stroke="#9eb055" d="M476.5 87.1h0"/>
<path stroke="#5e96cd" d="M507.1 71.6h0"/>
<path stroke="#c2c34e" d="M468.2 96.8h0"/>
<path stroke="#bc8146" d="M564.5 132.8h0"/>
<path stroke="#67503b" d="M432.6 159.6h0"/>
<path stroke="#d1bd61" d="M457.8 113h0"/>
<path stroke="#b8733a" d="M445.2 136.2h0"/>
<path stroke="#a55226" d="M570.3 146.5h0"/>
<path stroke="#6b9cb4" d="M521.2 75.2h0"/>
<path stroke="#c1c34e" d="M545 97h0"/>
<path stroke="#67503b" d="M576.1 160.1h0"/>
<path stroke="#ae5d2a" d="M443 142.3h0"/>
<path stroke="#89a77c" d="M482.6 82.8h0"/>
<path stroke="#d0bb61" d="M554.8 114.1h0"/>
<path stroke="#6298c5" d="M501 73.4h0"/>
<path stroke="#ccaf63" d="M455.6 118.7h0"/>
<path stroke="#759fa1" d="M525.2 78h0"/>
<path stroke="#b0b844" d="M541.1 92.6h0"/>
<path stroke="#d2cd58" d="M466 102h0"/>
<path stroke="#a24f25" d="M440.8 148.5h0"/>
<path stroke="#78a19c" d="M488.7 79h0"/>
<path stroke="#6198c7" d="M511.1 73.4h0"/>
<path stroke="#6b9cb4" d="M494.8 75.8h0"/>
<path stroke="#81a48b" d="M529.1 81.2h0"/>
<path stroke="#9fb052" d="M537.1 88.5h0"/>
<path stroke="#acb642" d="M474.3 91.8h0"/>
<path stroke="#c49758" d="M560.6 127.4h0"/>
<path stroke="#8faa70" d="M533.1 84.7h0"/>
<path stroke="#884c2d" d="M438.6 154.8h0"/>
<path stroke="#c79f5e" d="M453.4 124.7h0"/>
<path stroke="#b2632c" d="M566.5 141.1h0"/>
<path stroke="#d4c85e" d="M550.9 109.1h0"/>
<path stroke="#67503b" d="M436.4 161.1h0"/>
<path stroke="#d5cb5d" d="M463.8 107.5h0"/>
<path stroke="#8b4c2c" d="M572.3 154.8h0"/>
<path stroke="#c18f52" d="M451.2 130.7h0"/>
<path stroke="#679abd" d="M515.1 75.5h0"/>
<path stroke="#97ad62" d="M480.4 87.3h0"/>
<path stroke="#6398c3" d="M504.9 74.8h0"/>
<path stroke="#b9773e" d="M449 137h0"/>
<path stroke="#bbbf4b" d="M472 96.9h0"/>
<path stroke="#caa864" d="M556.8 122.2h0"/>
<path stroke="#d6d05a" d="M547 104.3h0"/>
<path stroke="#d2c260" d="M461.6 113.2h0"/>
<path stroke="#b05f2a" d="M446.8 143.3h0"/>
<path stroke="#bb7e44" d="M562.6 135.7h0"/>
<path stroke="#84a585" d="M486.5 83.2h0"/>
<path stroke="#a35026" d="M444.6 149.7h0"/>
<path stroke="#6a9bb6" d="M498.8 76.9h0"/>
<path stroke="#6e9dae" d="M519.1 78h0"/>
<path stroke="#759fa1" d="M492.6 79.7h0"/>
<path stroke="#8a4c2c" d="M442.4 156.1h0"/>
<path stroke="#a45226" d="M568.5 149.4h0"/>
<path stroke="#c3c44f" d="M543 99.7h0"/>
<path stroke="#cdb362" d="M459.3 119.1h0"/>
<path stroke="#67503b" d="M440.2 162.6h0"/>
<path stroke="#ccca54" d="M469.8 102.2h0"/>
<path stroke="#d0b962" d="M552.9 117.1h0"/>
<path stroke="#a7b345" d="M478.1 92.1h0"/>
<path stroke="#78a19c" d="M523.1 80.8h0"/>
<path stroke="#679abd" d="M508.9 76.5h0"/>
<path stroke="#b2ba45" d="M539.1 95.4h0"/>
<path stroke="#67503b" d="M574.3 162.8h0"/>
<path stroke="#c8a360" d="M457.1 125.2h0"/>
<path stroke="#84a585" d="M527.1 84h0"/>
<path stroke="#a2b14d" d="M535.1 91.3h0"/>
<path stroke="#c39556" d="M558.7 130.4h0"/>
<path stroke="#92ab6b" d="M531.1 87.5h0"/>
<path stroke="#c29254" d="M454.9 131.4h0"/>
<path stroke="#d5cd5b" d="M467.6 107.8h0"/>
<path stroke="#ba7b41" d="M452.7 137.8h0"/>
<path stroke="#b1612b" d="M564.6 144.1h0"/>
<path stroke="#92ab6b" d="M484.3 87.8h0"/>
<path stroke="#d4c75f" d="M548.9 112.1h0"/>
<path stroke="#6b9cb4" d="M502.8 78.3h0"/>
<path stroke="#b1612b" d="M450.6 144.3h0"/>
<path stroke="#6c9cb2" d="M512.9 78.6h0"/>
<path stroke="#b6bc48" d="M475.9 97.2h0"/>
<path stroke="#a45226" d="M448.4 150.8h0"/>
<path stroke="#8a4c2c" d="M570.5 157.6h0"/>
<path stroke="#81a48b" d="M490.4 84h0"/>
<path stroke="#d3c55f" d="M465.4 113.6h0"/>
<path stroke="#8b4c2c" d="M446.2 157.4h0"/>
<path stroke="#749fa3" d="M496.6 80.8h0"/>
<path stroke="#67503b" d="M444 164.1h0"/>
<path stroke="#c9a663" d="M554.8 125.2h0"/>
<path stroke="#d6cf5b" d="M545 107.3h0"/>
<path stroke="#cfb662" d="M463.2 119.6h0"/>
<path stroke="#749fa4" d="M516.9 81.1h0"/>
<path stroke="#ba7b41" d="M560.7 138.8h0"/>
<path stroke="#c7c651" d="M473.7 102.6h0"/>
<path stroke="#a2b14d" d="M482 92.6h0"/>
<path stroke="#c7c651" d="M541 102.8h0"/>
<path stroke="#6e9dae" d="M506.8 80.1h0"/>
<path stroke="#c9a663" d="M461 125.9h0"/>
<path stroke="#a35026" d="M566.6 152.4h0"/>
<path stroke="#7da392" d="M521 83.9h0"/>
<path stroke="#cfb662" d="M550.9 120.2h0"/>
<path stroke="#c39556" d="M458.8 132.2h0"/>
<path stroke="#b6bc48" d="M537 98.4h0"/>
<path stroke="#bb7e44" d="M456.6 138.7h0"/>
<path stroke="#8faa70" d="M488.2 88.6h0"/>
<path stroke="#89a77c" d="M525 87.1h0"/>
<path stroke="#d6cf5b" d="M471.5 108.3h0"/>
<path stroke="#759fa1" d="M500.6 82.2h0"/>
<path stroke="#a7b345" d="M533 94.4h0"/>
<path stroke="#b2632c" d="M454.4 145.4h0"/>
<path stroke="#97ad62" d="M529 90.6h0"/>
<path stroke="#a55226" d="M452.2 152h0"/>
<path stroke="#80a48d" d="M494.4 85.1h0"/>
<path stroke="#c29254" d="M556.8 133.6h0"/>
<path stroke="#8c4c2b" d="M450 158.8h0"/>
<path stroke="#67503b" d="M447.8 165.6h0"/>
<path stroke="#67503b" d="M572.5 165.6h0"/>
<path stroke="#b2ba45" d="M479.8 97.8h0"/>
<path stroke="#749fa4" d="M510.8 82.2h0"/>
<path stroke="#d3c55f" d="M546.9 115.3h0"/>
<path stroke="#d4c75f" d="M469.2 114.2h0"/>
<path stroke="#b05f2a" d="M562.7 147.1h0"/>
<path stroke="#d0b962" d="M467 120.4h0"/>
<path stroke="#c8a360" d="M552.9 128.5h0"/>
<path stroke="#9fb052" d="M486 93.5h0"/>
<path stroke="#d5cd5b" d="M543 110.6h0"/>
<path stroke="#7ba296" d="M514.8 84.6h0"/>
<path stroke="#c3c44f" d="M477.6 103.3h0"/>
<path stroke="#78a19c" d="M504.6 84h0"/>
<path stroke="#884c2d" d="M568.6 160.5h0"/>
<path stroke="#caa864" d="M464.8 126.7h0"/>
<path stroke="#8ea972" d="M492.2 89.7h0"/>
<path stroke="#c49758" d="M462.6 133.2h0"/>
<path stroke="#81a48b" d="M498.4 86.5h0"/>
<path stroke="#b9773e" d="M558.8 142h0"/>
<path stroke="#ccca54" d="M539 106.1h0"/>
<path stroke="#bc8146" d="M460.4 139.8h0"/>
<path stroke="#85a684" d="M518.8 87.4h0"/>
<path stroke="#67503b" d="M451.7 167.1h0"/>
<path stroke="#b3652d" d="M458.2 146.5h0"/>
<path stroke="#8d4c2b" d="M453.9 160.2h0"/>
<path stroke="#a65327" d="M456 153.3h0"/>
<path stroke="#d6d05a" d="M475.3 109.1h0"/>
<path stroke="#cdb362" d="M548.9 123.5h0"/>
<path stroke="#bbbf4b" d="M535 101.8h0"/>
<path stroke="#90aa6f" d="M522.9 90.6h0"/>
<path stroke="#b0b844" d="M483.7 98.7h0"/>
<path stroke="#a24f25" d="M564.7 155.4h0"/>
<path stroke="#7da392" d="M508.6 86.1h0"/>
<path stroke="#acb642" d="M530.9 97.8h0"/>
<path stroke="#9eb055" d="M526.9 94h0"/>
<path stroke="#d4c85e" d="M473.1 115.1h0"/>
<path stroke="#c18f52" d="M554.8 136.9h0"/>
<path stroke="#d2c260" d="M544.9 118.7h0"/>
<path stroke="#9eb054" d="M489.9 94.6h0"/>
<path stroke="#84a585" d="M502.4 88.2h0"/>
<path stroke="#d0bb61" d="M470.9 121.3h0"/>
<path stroke="#c1c34e" d="M481.5 104.3h0"/>
<path stroke="#8faa70" d="M496.1 91.1h0"/>
<path stroke="#85a684" d="M512.6 88.5h0"/>
<path stroke="#67503b" d="M570.7 168.4h0"/>
<path stroke="#ae5d2a" d="M560.8 150.3h0"/>
<path stroke="#cbaa64" d="M468.7 127.7h0"/>
<path stroke="#67503b" d="M455.5 168.6h0"/>
<path stroke="#d5cb5d" d="M540.9 114.1h0"/>
<path stroke="#c49859" d="M466.5 134.3h0"/>
<path stroke="#8e4c2b" d="M457.7 161.6h0"/>
<path stroke="#c79f5e" d="M550.9 131.9h0"/>
<path stroke="#bd8348" d="M464.3 141h0"/>
<path stroke="#a65427" d="M459.9 154.7h0"/>
<path stroke="#b3662f" d="M462.1 147.8h0"/>
<path stroke="#8ea973" d="M516.7 91.3h0"/>
<path stroke="#d4cf59" d="M479.3 110.1h0"/>
<path stroke="#afb844" d="M487.7 99.9h0"/>
<path stroke="#d2cd58" d="M536.9 109.6h0"/>
<path stroke="#89a77c" d="M506.4 90.3h0"/>
<path stroke="#874d2e" d="M566.8 163.4h0"/>
<path stroke="#b8733a" d="M556.8 145.3h0"/>
<path stroke="#99ae5e" d="M520.7 94.4h0"/>
<path stroke="#c2c34e" d="M532.9 105.4h0"/>
<path stroke="#ccaf63" d="M546.9 127.1h0"/>
<path stroke="#d4c95e" d="M477.1 116.1h0"/>
<path stroke="#9fb052" d="M493.9 96.1h0"/>
<path stroke="#a6b345" d="M524.8 97.8h0"/>
<path stroke="#b3bb46" d="M528.8 101.5h0"/>
<path stroke="#92ab6b" d="M500.2 92.9h0"/>
<path stroke="#d1bd61" d="M474.8 122.4h0"/>
<path stroke="#c0c34e" d="M485.5 105.5h0"/>
<path stroke="#90aa6f" d="M510.5 92.8h0"/>
<path stroke="#a14e25" d="M562.8 158.5h0"/>
<path stroke="#d1bd61" d="M542.9 122.3h0"/>
<path stroke="#67503b" d="M459.4 170.1h0"/>
<path stroke="#c08b4f" d="M552.8 140.4h0"/>
<path stroke="#cbab64" d="M472.6 128.9h0"/>
<path stroke="#8e4c2b" d="M461.6 163.1h0"/>
<path stroke="#c59959" d="M470.4 135.5h0"/>
<path stroke="#a65427" d="M463.8 156.1h0"/>
<path stroke="#bd8449" d="M468.2 142.2h0"/>
<path stroke="#b4672f" d="M466 149.1h0"/>
<path stroke="#b0b844" d="M491.7 101.3h0"/>
<path stroke="#d3ce58" d="M483.2 111.3h0"/>
<path stroke="#97ad62" d="M504.2 94.9h0"/>
<path stroke="#99ae5e" d="M514.5 95.5h0"/>
<path stroke="#d4c85e" d="M538.9 117.8h0"/>
<path stroke="#a2b14d" d="M498 97.8h0"/>
<path stroke="#ac5b29" d="M558.8 153.6h0"/>
<path stroke="#c59b5a" d="M548.9 135.5h0"/>
<path stroke="#d6cf5b" d="M534.8 113.5h0"/>
<path stroke="#a4b24a" d="M518.6 98.5h0"/>
<path stroke="#d4c95d" d="M481 117.4h0"/>
<path stroke="#67503b" d="M568.8 171.2h0"/>
<path stroke="#cac853" d="M530.8 109.4h0"/>
<path stroke="#b0b844" d="M522.7 101.9h0"/>
<path stroke="#c1c34e" d="M489.5 106.9h0"/>
<path stroke="#bcc04b" d="M526.7 105.5h0"/>
<path stroke="#9eb055" d="M508.3 97.3h0"/>
<path stroke="#d1bd61" d="M478.8 123.7h0"/>
<path stroke="#caa964" d="M544.8 130.8h0"/>
<path stroke="#b66d35" d="M554.8 148.7h0"/>
<path stroke="#67503b" d="M463.4 171.6h0"/>
<path stroke="#cbac63" d="M476.6 130.2h0"/>
<path stroke="#8e4c2b" d="M465.6 164.6h0"/>
<path stroke="#b2ba45" d="M495.7 103.1h0"/>
<path stroke="#a7b345" d="M502 99.9h0"/>
<path stroke="#a65427" d="M467.8 157.5h0"/>
<path stroke="#c5995a" d="M474.4 136.8h0"/>
<path stroke="#854d2f" d="M564.9 166.4h0"/>
<path stroke="#b46730" d="M470 150.5h0"/>
<path stroke="#bd8449" d="M472.2 143.6h0"/>
<path stroke="#d4cf59" d="M487.2 112.8h0"/>
<path stroke="#cfb862" d="M540.8 126.2h0"/>
<path stroke="#a6b345" d="M512.3 100h0"/>
<path stroke="#bd8449" d="M550.8 144h0"/>
<path stroke="#d3c460" d="M536.8 121.8h0"/>
<path stroke="#d4c95e" d="M485 118.9h0"/>
<path stroke="#b0b844" d="M516.4 103h0"/>
<path stroke="#a04c25" d="M560.9 161.7h0"/>
<path stroke="#c3c44f" d="M493.5 108.6h0"/>
<path stroke="#acb642" d="M506.1 102.2h0"/>
<path stroke="#d5cb5c" d="M532.7 117.6h0"/>
<path stroke="#b6bc48" d="M499.8 105.1h0"/>
<path stroke="#babf4a" d="M520.5 106.3h0"/>
<path stroke="#d1bd61" d="M482.8 125.2h0"/>
<path stroke="#c39557" d="M546.8 139.3h0"/>
<path stroke="#d3ce58" d="M528.6 113.6h0"/>
<path stroke="#c6c651" d="M524.6 109.8h0"/>
<path stroke="#67503b" d="M467.3 173.2h0"/>
<path stroke="#cbab64" d="M480.6 131.7h0"/>
<path stroke="#aa5928" d="M556.9 157h0"/>
<path stroke="#8e4c2b" d="M469.5 166.1h0"/>
<path stroke="#d6d05a" d="M491.3 114.5h0"/>
<path stroke="#c59959" d="M478.3 138.3h0"/>
<path stroke="#a65427" d="M471.7 159h0"/>
<path stroke="#b3bb46" d="M510.1 104.8h0"/>
<path stroke="#bd8449" d="M476.1 145.1h0"/>
<path stroke="#b4672f" d="M473.9 152.1h0"/>
<path stroke="#c8a461" d="M542.8 134.7h0"/>
<path stroke="#c7c651" d="M497.6 110.6h0"/>
<path stroke="#bbbf4b" d="M503.8 107.4h0"/>
<path stroke="#d4c85e" d="M489 120.6h0"/>
<path stroke="#b46830" d="M552.8 152.3h0"/>
<path stroke="#cdb163" d="M538.7 130.3h0"/>
<path stroke="#bcc04b" d="M514.2 107.7h0"/>
<path stroke="#67503b" d="M567 174h0"/>
<path stroke="#d0bb61" d="M486.8 126.8h0"/>
<path stroke="#d1be61" d="M534.7 126h0"/>
<path stroke="#c6c651" d="M518.3 110.9h0"/>
<path stroke="#bb7d43" d="M548.8 147.7h0"/>
<path stroke="#d6cf5b" d="M495.3 116.4h0"/>
<path stroke="#d4c75f" d="M530.6 121.9h0"/>
<path stroke="#d1cd57" d="M522.4 114.4h0"/>
<path stroke="#c2c34e" d="M507.9 110h0"/>
<path stroke="#cbaa64" d="M484.6 133.3h0"/>
<path stroke="#834d2f" d="M562.9 169.5h0"/>
<path stroke="#d5cd5c" d="M526.5 118h0"/>
<path stroke="#67503b" d="M471.3 174.7h0"/>
<path stroke="#ccca54" d="M501.6 112.9h0"/>
<path stroke="#c49859" d="M482.4 140h0"/>
<path stroke="#8e4c2b" d="M473.5 167.7h0"/>
<path stroke="#bd8348" d="M480.1 146.8h0"/>
<path stroke="#a65427" d="M475.7 160.6h0"/>
<path stroke="#b3662f" d="M477.9 153.7h0"/>
<path stroke="#c19053" d="M544.8 143.2h0"/>
<path stroke="#d4c75f" d="M493.1 122.5h0"/>
<path stroke="#9e4a24" d="M558.9 164.9h0"/>
<path stroke="#cac853" d="M512 112.8h0"/>
<path stroke="#c69d5c" d="M540.7 138.8h0"/>
<path stroke="#d5cd5b" d="M499.4 118.6h0"/>
<path stroke="#d0b962" d="M490.9 128.7h0"/>
<path stroke="#d2cd58" d="M505.7 115.4h0"/>
<path stroke="#d3ce58" d="M516.1 115.9h0"/>
<path stroke="#a85628" d="M554.9 160.4h0"/>
<path stroke="#cbaa64" d="M536.6 134.5h0"/>
<path stroke="#caa864" d="M488.6 135.2h0"/>
<path stroke="#d5cd5c" d="M520.2 119.2h0"/>
<path stroke="#ceb662" d="M532.5 130.4h0"/>
<path stroke="#d4c85e" d="M524.3 122.7h0"/>
<path stroke="#d2c160" d="M528.4 126.5h0"/>
<path stroke="#c49758" d="M486.4 141.8h0"/>
<path stroke="#b2622b" d="M550.8 156h0"/>
<path stroke="#d3c55f" d="M497.2 124.6h0"/>
<path stroke="#d6cf5b" d="M509.8 118.1h0"/>
<path stroke="#bc8146" d="M484.2 148.5h0"/>
<path stroke="#67503b" d="M475.3 176.3h0"/>
<path stroke="#b3652d" d="M481.9 155.4h0"/>
<path stroke="#8d4c2b" d="M477.5 169.3h0"/>
<path stroke="#a65327" d="M479.7 162.3h0"/>
<path stroke="#d5cb5d" d="M503.5 121h0"/>
<path stroke="#b8753c" d="M546.7 151.6h0"/>
<path stroke="#cfb662" d="M494.9 130.8h0"/>
<path stroke="#d5cb5c" d="M513.9 121.1h0"/>
<path stroke="#67503b" d="M565.1 176.9h0"/>
<path stroke="#bf894d" d="M542.7 147.3h0"/>
<path stroke="#c9a663" d="M492.7 137.2h0"/>
<path stroke="#d2c260" d="M501.2 126.9h0"/>
<path stroke="#d4c75f" d="M518 124.3h0"/>
<path stroke="#d4c85e" d="M507.6 123.7h0"/>
<path stroke="#c49657" d="M538.6 143.1h0"/>
<path stroke="#804d30" d="M561 172.6h0"/>
<path stroke="#c39556" d="M490.5 143.7h0"/>
<path stroke="#d2c160" d="M522.1 127.7h0"/>
<path stroke="#c8a260" d="M534.5 139h0"/>
<path stroke="#cfb762" d="M526.3 131.3h0"/>
<path stroke="#ccad63" d="M530.4 135h0"/>
<path stroke="#bb7e44" d="M488.2 150.4h0"/>
<path stroke="#9a4a26" d="M556.9 168.3h0"/>
<path stroke="#cdb362" d="M499 133h0"/>
<path stroke="#b2632c" d="M486 157.1h0"/>
<path stroke="#d3c460" d="M511.7 126.5h0"/>
<path stroke="#a55226" d="M483.7 164h0"/>
<path stroke="#8c4c2b" d="M481.5 170.9h0"/>
<path stroke="#67503b" d="M479.3 177.8h0"/>
<path stroke="#d1bd61" d="M505.4 129.5h0"/>
<path stroke="#a65327" d="M552.9 164h0"/>
<path stroke="#c8a360" d="M496.8 139.3h0"/>
<path stroke="#d1be61" d="M515.8 129.6h0"/>
<path stroke="#ae5e2a" d="M548.8 159.7h0"/>
<path stroke="#c29254" d="M494.5 145.8h0"/>
<path stroke="#ccaf63" d="M503.1 135.4h0"/>
<path stroke="#b66d35" d="M544.7 155.6h0"/>
<path stroke="#ceb662" d="M519.9 132.8h0"/>
<path stroke="#cfb862" d="M509.5 132.2h0"/>
<path stroke="#ba7b41" d="M492.3 152.3h0"/>
<path stroke="#bc7f44" d="M540.6 151.5h0"/>
<path stroke="#ccad63" d="M524.1 136.3h0"/>
<path stroke="#c18e52" d="M536.4 147.5h0"/>
<path stroke="#c8a361" d="M528.2 139.9h0"/>
<path stroke="#c59959" d="M532.3 143.6h0"/>
<path stroke="#b1612b" d="M490 159h0"/>
<path stroke="#c79f5e" d="M500.9 141.6h0"/>
<path stroke="#a45226" d="M487.8 165.8h0"/>
<path stroke="#cdb163" d="M513.6 135.1h0"/>
<path stroke="#8b4c2c" d="M485.6 172.6h0"/>
<path stroke="#caa964" d="M507.2 138h0"/>
<path stroke="#67503b" d="M483.3 179.4h0"/>
<path stroke="#c18f52" d="M498.6 147.9h0"/>
<path stroke="#cbaa64" d="M517.7 138.2h0"/>
<path stroke="#67503b" d="M563.2 179.8h0"/>
<path stroke="#b9773e" d="M496.4 154.4h0"/>
<path stroke="#7e4d31" d="M559.1 175.7h0"/>
<path stroke="#c59b5a" d="M505 144.1h0"/>
<path stroke="#c8a260" d="M521.9 141.4h0"/>
<path stroke="#c8a461" d="M511.4 140.8h0"/>
<path stroke="#954b28" d="M554.9 171.6h0"/>
<path stroke="#b05f2a" d="M494.1 161h0"/>
<path stroke="#c59959" d="M526 144.8h0"/>
<path stroke="#a35026" d="M550.8 167.6h0"/>
<path stroke="#ab5a29" d="M546.7 163.6h0"/>
<path stroke="#c19053" d="M530.2 148.4h0"/>
<path stroke="#a35026" d="M491.9 167.6h0"/>
<path stroke="#b3642d" d="M542.6 159.7h0"/>
<path stroke="#bd8348" d="M534.3 152h0"/>
<path stroke="#c08b4f" d="M502.8 150.3h0"/>
<path stroke="#b8743b" d="M538.4 155.8h0"/>
<path stroke="#c69d5c" d="M515.5 143.7h0"/>
<path stroke="#8a4c2c" d="M489.6 174.3h0"/>
<path stroke="#c39557" d="M509.1 146.7h0"/>
<path stroke="#67503b" d="M487.4 181h0"/>
<path stroke="#b8733a" d="M500.5 156.6h0"/>
<path stroke="#c49657" d="M519.7 146.8h0"/>
<path stroke="#ae5d2a" d="M498.3 163h0"/>
<path stroke="#bd8449" d="M506.9 152.7h0"/>
<path stroke="#c19053" d="M513.3 149.4h0"/>
<path stroke="#c18e52" d="M523.8 150h0"/>
<path stroke="#a24f25" d="M496 169.5h0"/>
<path stroke="#bd8348" d="M528 153.3h0"/>
<path stroke="#b66d35" d="M504.6 158.8h0"/>
<path stroke="#b9763d" d="M532.1 156.7h0"/>
<path stroke="#bf894d" d="M517.4 152.3h0"/>
<path stroke="#884c2d" d="M493.7 176h0"/>
<path stroke="#b46931" d="M536.3 160.3h0"/>
<path stroke="#bb7d43" d="M511 155.3h0"/>
<path stroke="#ae5e2a" d="M540.5 163.9h0"/>
<path stroke="#67503b" d="M491.5 182.6h0"/>
<path stroke="#a75527" d="M544.6 167.6h0"/>
<path stroke="#a04d25" d="M548.8 171.3h0"/>
<path stroke="#ac5b29" d="M502.4 165.1h0"/>
<path stroke="#904c2a" d="M552.9 175.1h0"/>
<path stroke="#67503b" d="M561.2 182.7h0"/>
<path stroke="#7b4e32" d="M557.1 178.9h0"/>
<path stroke="#bc7f44" d="M521.6 155.3h0"/>
<path stroke="#b46830" d="M508.8 161.2h0"/>
<path stroke="#b8753c" d="M515.2 157.9h0"/>
<path stroke="#a14e25" d="M500.1 171.4h0"/>
<path stroke="#b8743b" d="M525.8 158.4h0"/>
<path stroke="#874d2e" d="M497.9 177.8h0"/>
<path stroke="#b46931" d="M530 161.6h0"/>
<path stroke="#aa5928" d="M506.5 167.3h0"/>
<path stroke="#b66d35" d="M519.4 160.7h0"/>
<path stroke="#b2622b" d="M513 163.7h0"/>
<path stroke="#af5f2a" d="M534.1 164.9h0"/>
<path stroke="#67503b" d="M495.6 184.2h0"/>
<path stroke="#aa5828" d="M538.3 168.2h0"/>
<path stroke="#a04c25" d="M504.3 173.4h0"/>
<path stroke="#b3642d" d="M523.6 163.6h0"/>
<path stroke="#a45126" d="M542.5 171.6h0"/>
<path stroke="#a85628" d="M510.7 169.5h0"/>
<path stroke="#9c4a25" d="M546.7 175.1h0"/>
<path stroke="#ae5e2a" d="M517.1 166.2h0"/>
<path stroke="#854d2f" d="M502 179.6h0"/>
<path stroke="#ae5e2a" d="M527.8 166.5h0"/>
<path stroke="#8b4c2c" d="M550.9 178.6h0"/>
<path stroke="#794e34" d="M555.1 182.2h0"/>
<path stroke="#67503b" d="M559.3 185.7h0"/>
<path stroke="#67503b" d="M499.7 185.8h0"/>
<path stroke="#9e4a24" d="M508.4 175.4h0"/>
<path stroke="#aa5828" d="M532 169.5h0"/>
<path stroke="#ab5a29" d="M521.3 168.9h0"/>
<path stroke="#a65327" d="M514.9 171.8h0"/>
<path stroke="#a55226" d="M536.2 172.6h0"/>
<path stroke="#834d2f" d="M506.2 181.4h0"/>
<path stroke="#a75527" d="M525.5 171.5h0"/>
<path stroke="#a04c25" d="M540.4 175.8h0"/>
<path stroke="#9a4a26" d="M512.6 177.5h0"/>
<path stroke="#a35026" d="M519.1 174.2h0"/>
<path stroke="#944b28" d="M544.6 179h0"/>
<path stroke="#67503b" d="M503.9 187.4h0"/>
<path stroke="#a45126" d="M529.8 174.3h0"/>
<path stroke="#854d2e" d="M548.8 182.2h0"/>
<path stroke="#804d30" d="M510.4 183.3h0"/>
<path stroke="#a04d25" d="M523.3 176.7h0"/>
<path stroke="#764e35" d="M553.1 185.4h0"/>
<path stroke="#a04c25" d="M534 177.1h0"/>
<path stroke="#954b28" d="M516.8 179.7h0"/>
<path stroke="#67503b" d="M557.3 188.7h0"/>
<path stroke="#974b27" d="M538.2 180h0"/>
<path stroke="#67503b" d="M508.1 189.1h0"/>
<path stroke="#9c4a25" d="M527.6 179.2h0"/>
<path stroke="#7e4d31" d="M514.6 185.2h0"/>
<path stroke="#904c2a" d="M521.1 181.9h0"/>
<path stroke="#8b4c2c" d="M542.5 182.9h0"/>
<path stroke="#944b28" d="M531.8 181.7h0"/>
<path stroke="#7f4d31" d="M546.7 185.8h0"/>
<path stroke="#67503b" d="M512.3 190.7h0"/>
<path stroke="#8b4c2c" d="M525.3 184.1h0"/>
<path stroke="#7b4e32" d="M518.8 187.1h0"/>
<path stroke="#734f36" d="M551 188.8h0"/>
<path stroke="#8b4c2c" d="M536.1 184.3h0"/>
<path stroke="#67503b" d="M555.3 191.8h0"/>
<path stroke="#854d2e" d="M529.6 186.3h0"/>
<path stroke="#824d30" d="M540.3 186.9h0"/>
<path stroke="#67503b" d="M516.6 192.4h0"/>
<path stroke="#794e34" d="M523.1 189h0"/>
<path stroke="#794e33" d="M544.6 189.5h0"/>
<path stroke="#7f4d31" d="M533.9 188.6h0"/>
<path stroke="#764e35" d="M527.4 191h0"/>
<path stroke="#704f37" d="M548.9 192.2h0"/>
<path stroke="#67503b" d="M520.8 194h0"/>
<path stroke="#794e33" d="M538.2 190.9h0"/>
<path stroke="#67503b" d="M553.3 194.8h0"/>
<path stroke="#734f36" d="M531.7 193h0"/>
<path stroke="#734f36" d="M542.5 193.2h0"/>
<path stroke="#67503b" d="M525.1 195.7h0"/>
<path stroke="#704f37" d="M536 195h0"/>
<path stroke="#6d4f38" d="M546.9 195.6h0"/>
<path stroke="#67503b" d="M529.5 197.4h0"/>
<path stroke="#67503b" d="M551.2 197.9h0"/>
<path stroke="#6d4f38" d="M540.4 197h0"/>
<path stroke="#67503b" d="M533.8 199.1h0"/>
<path stroke="#6a503a" d="M544.7 199h0"/>
<path stroke="#67503b" d="M538.2 200.8h0"/>
<path stroke="#67503b" d="M549.1 201.1h0"/>
<path stroke="#67503b" d="M542.6 202.5h0"/>
<path stroke="#67503b" d="M547.1 204.3h0"/>
</g>
<g>
<path d="M547.1 204.3L550.4 144.9" stroke="#505050" stroke-width="0.5" fill="none"/>
<path d="M380.4 85.9L550.4 144.9" stroke="#505050" stroke-width="0.5" fill="none"/>
<path d="M550.4 144.9L622.6 46.3" stroke="#505050" stroke-width="0.5" fill="none"/>
<path d="M388.6 138.6L390.5 139.4" stroke="#505050" stroke-width="0.4" fill="none"/>
<path d="M387.9 134.5L389.9 135.3" stroke="#505050" stroke-width="0.4" fill="none"/>
<path d="M387.3 130.4L389.3 131.1" stroke="#505050" stroke-width="0.4" fill="none"/>
<path d="M386.6 126.2L388.6 127" stroke="#505050" stroke-width="0.4" fill="none"/>
<path d="M385.3 117.7L387.3 118.4" stroke="#505050" stroke-width="0.4" fill="none"/>
<path d="M384.6 113.4L386.7 114.1" stroke="#505050" stroke-width="0.4" fill="none"/>
<path d="M384 109L386 109.7" stroke="#505050" stroke-width="0.4" fill="none"/>
<path d="M383.3 104.6L385.3 105.3" stroke="#505050" stroke-width="0.4" fill="none"/>
<path d="M381.9 95.6L383.9 96.3" stroke="#505050" stroke-width="0.4" fill="none"/>
<path d="M381.1 91L383.2 91.7" stroke="#505050" stroke-width="0.4" fill="none"/>
<path d="M380.4 86.4L382.5 87.1" stroke="#505050" stroke-width="0.4" fill="none"/>
<path d="M389.2 142.7L393 144.2" stroke="#505050" stroke-width="0.4" fill="none"/>
<path d="M386 122L389.9 123.4" stroke="#505050" stroke-width="0.4" fill="none"/>
<path d="M382.6 100.1L386.5 101.5" stroke="#505050" stroke-width="0.4" fill="none"/>
</g>
<g>
<path d="M128.3 325.3L263.7 365.8" stroke="#505050" stroke-width="0.5" fill="none"/>
<path d="M128.3 325.3L40.1 407.5" stroke="#505050" stroke-width="0.5" fill="none"/>
<path d="M128.3 325.3L126.6 274.8" stroke="#505050" stroke-width="0.5" fill="none"/>
<path d="M40.1 407.5L196.4 468.3" stroke="#505050" stroke-width="0.5" fill="none"/>
<path d="M196.4 468.3L263.7 365.8" stroke="#505050" stroke-width="0.5" fill="none"/>
<path d="M40.1 407.5L31.4 351.5" stroke="#505050" stroke-width="0.5" fill="none"/>
<path d="M263.7 365.8L270.9 312.4" stroke="#505050" stroke-width="0.5" fill="none"/>
<path d="M31.4 351.5L126.6 274.8" stroke="#505050" stroke-width="0.5" fill="none"/>
<path d="M126.6 274.8L270.9 312.4" stroke="#505050" stroke-width="0.5" fill="none"/>
<path d="M54.1 412.9L55.6 411.5" stroke="#505050" stroke-width="0.4" fill="none"/>
<path d="M68.4 418.5L69.9 417" stroke="#505050" stroke-width="0.4" fill="none"/>
<path d="M83.1 424.2L84.5 422.7" stroke="#505050" stroke-width="0.4" fill="none"/>
<path d="M113.5 436L114.9 434.5" stroke="#505050" stroke-width="0.4" fill="none"/>
<path d="M129.3 442.2L130.6 440.6" stroke="#505050" stroke-width="0.4" fill="none"/>
<path d="M145.4 448.4L146.7 446.8" stroke="#505050" stroke-width="0.4" fill="none"/>
<path d="M179 461.5L180.2 459.8" stroke="#505050" stroke-width="0.4" fill="none"/>
<path d="M196.4 468.3L197.6 466.5" stroke="#505050" stroke-width="0.4" fill="none"/>
<path d="M40.1 407.5L43 404.8" stroke="#505050" stroke-width="0.4" fill="none"/>
<path d="M98.1 430L100.8 427.1" stroke="#505050" stroke-width="0.4" fill="none"/>
<path d="M162 454.9L164.4 451.6" stroke="#505050" stroke-width="0.4" fill="none"/>
<path d="M204.6 455.9L202.1 455" stroke="#505050" stroke-width="0.4" fill="none"/>
<path d="M212.3 444L209.9 443.2" stroke="#505050" stroke-width="0.4" fill="none"/>
<path d="M219.7 432.7L217.4 431.9" stroke="#505050" stroke-width="0.4" fill="none"/>
<path d="M233.6 411.6L231.4 410.8" stroke="#505050" stroke-width="0.4" fill="none"/>
<path d="M240.1 401.7L237.9 400.9" stroke="#505050" stroke-width="0.4" fill="none"/>
<path d="M246.4 392.2L244.2 391.5" stroke="#505050" stroke-width="0.4" fill="none"/>
<path d="M258.1 374.3L256 373.6" stroke="#505050" stroke-width="0.4" fill="none"/>
<path d="M263.7 365.8L261.6 365.2" stroke="#505050" stroke-width="0.4" fill="none"/>
<path d="M196.4 468.3L191.7 466.4" stroke="#505050" stroke-width="0.4" fill="none"/>
<path d="M226.8 421.9L222.4 420.4" stroke="#505050" stroke-width="0.4" fill="none"/>
<path d="M252.4 383L248.2 381.7" stroke="#505050" stroke-width="0.4" fill="none"/>
</g>
<g stroke-linecap="round" stroke-width="2.25" fill="none">
<path stroke="#a85627" d="M128 317.3h0"/>
<path stroke="#a85627" d="M131.1 318.2h0"/>
<path stroke="#a85627" d="M126.2 319h0"/>
<path stroke="#a85627" d="M134.2 319.1h0"/>
<path stroke="#a85627" d="M137.4 320h0"/>
<path stroke="#ac5b29" d="M129.2 318.7h0"/>
<path stroke="#a85627" d="M124.3 320.7h0"/>
<path stroke="#a85627" d="M140.5 320.9h0"/>
<path stroke="#a85627" d="M143.7 321.9h0"/>
<path stroke="#b1602b" d="M132.3 318.4h0"/>
<path stroke="#a85627" d="M122.4 322.4h0"/>
<path stroke="#b1602b" d="M127.4 319.2h0"/>
<path stroke="#a85627" d="M146.9 322.8h0"/>
<path stroke="#b46830" d="M135.5 318.3h0"/>
<path stroke="#a85627" d="M150 323.7h0"/>
<path stroke="#a85627" d="M120.5 324.1h0"/>
<path stroke="#b77138" d="M130.4 317.9h0"/>
<path stroke="#a85627" d="M153.3 324.7h0"/>
<path stroke="#b66f37" d="M138.6 318.2h0"/>
<path stroke="#b46830" d="M125.4 319.8h0"/>
<path stroke="#a85627" d="M156.5 325.6h0"/>
<path stroke="#a85627" d="M118.6 325.8h0"/>
<path stroke="#b9763d" d="M141.8 318.3h0"/>
<path stroke="#a85627" d="M159.7 326.6h0"/>
<path stroke="#bd8247" d="M133.5 316.6h0"/>
<path stroke="#b66f37" d="M123.5 320.6h0"/>
<path stroke="#bb7c42" d="M145 318.5h0"/>
<path stroke="#bd8247" d="M128.5 317.4h0"/>
<path stroke="#a85627" d="M163 327.5h0"/>
<path stroke="#a85627" d="M116.7 327.6h0"/>
<path stroke="#a85627" d="M166.2 328.5h0"/>
<path stroke="#c18f52" d="M136.7 315.6h0"/>
<path stroke="#bc8046" d="M148.2 318.8h0"/>
<path stroke="#b9763d" d="M121.5 321.4h0"/>
<path stroke="#a85627" d="M114.7 329.4h0"/>
<path stroke="#a85627" d="M169.5 329.4h0"/>
<path stroke="#bd8348" d="M151.4 319.4h0"/>
<path stroke="#c39657" d="M131.6 315.1h0"/>
<path stroke="#c18f52" d="M126.5 317.1h0"/>
<path stroke="#c49859" d="M139.9 314.8h0"/>
<path stroke="#a85627" d="M172.8 330.4h0"/>
<path stroke="#be854a" d="M154.7 320.1h0"/>
<path stroke="#a85627" d="M112.8 331.2h0"/>
<path stroke="#a85627" d="M176.2 331.4h0"/>
<path stroke="#bb7c42" d="M119.6 322.5h0"/>
<path stroke="#be864a" d="M158 321h0"/>
<path stroke="#c79f5e" d="M143.1 314.2h0"/>
<path stroke="#c9a461" d="M134.7 313.1h0"/>
<path stroke="#a85627" d="M179.5 332.3h0"/>
<path stroke="#c49859" d="M124.5 317.1h0"/>
<path stroke="#be854a" d="M161.3 322h0"/>
<path stroke="#a85627" d="M110.8 333h0"/>
<path stroke="#c9a461" d="M129.6 313.9h0"/>
<path stroke="#a85627" d="M182.8 333.3h0"/>
<path stroke="#c9a562" d="M146.3 314.1h0"/>
<path stroke="#bc8046" d="M117.6 323.7h0"/>
<path stroke="#bd8449" d="M164.6 323.1h0"/>
<path stroke="#a85627" d="M186.2 334.3h0"/>
<path stroke="#cdb163" d="M137.9 311.5h0"/>
<path stroke="#bd8247" d="M167.9 324.3h0"/>
<path stroke="#caa964" d="M149.6 314.2h0"/>
<path stroke="#a85627" d="M108.8 334.8h0"/>
<path stroke="#c79f5e" d="M122.5 317.4h0"/>
<path stroke="#a85627" d="M189.6 335.3h0"/>
<path stroke="#bc8045" d="M171.2 325.6h0"/>
<path stroke="#bd8348" d="M115.6 325.1h0"/>
<path stroke="#cfb762" d="M132.7 311.1h0"/>
<path stroke="#cbab64" d="M152.9 314.7h0"/>
<path stroke="#cdb163" d="M127.6 313.1h0"/>
<path stroke="#bb7d43" d="M174.6 326.8h0"/>
<path stroke="#a85627" d="M193 336.3h0"/>
<path stroke="#d0bc61" d="M141.1 310.3h0"/>
<path stroke="#a85627" d="M106.8 336.6h0"/>
<path stroke="#cbac63" d="M156.2 315.5h0"/>
<path stroke="#ba7b41" d="M178 328.1h0"/>
<path stroke="#a85627" d="M196.4 337.3h0"/>
<path stroke="#be854a" d="M113.6 326.6h0"/>
<path stroke="#c9a562" d="M120.5 318.1h0"/>
<path stroke="#ba793f" d="M181.3 329.4h0"/>
<path stroke="#cbac63" d="M159.5 316.5h0"/>
<path stroke="#d3c460" d="M144.4 309.6h0"/>
<path stroke="#a85627" d="M199.9 338.3h0"/>
<path stroke="#d3c65f" d="M135.9 308.7h0"/>
<path stroke="#a85627" d="M104.7 338.5h0"/>
<path stroke="#b9773e" d="M184.7 330.6h0"/>
<path stroke="#cbaa64" d="M162.9 317.8h0"/>
<path stroke="#d0bc61" d="M125.5 312.7h0"/>
<path stroke="#d3c65f" d="M130.7 309.5h0"/>
<path stroke="#a85627" d="M203.3 339.3h0"/>
<path stroke="#be864a" d="M111.6 328.4h0"/>
<path stroke="#caa864" d="M166.2 319.3h0"/>
<path stroke="#d4c75e" d="M147.7 309.4h0"/>
<path stroke="#b9763d" d="M188.2 331.7h0"/>
<path stroke="#caa964" d="M118.5 319.1h0"/>
<path stroke="#a85627" d="M206.8 340.3h0"/>
<path stroke="#c9a461" d="M169.6 320.9h0"/>
<path stroke="#a85627" d="M102.7 340.4h0"/>
<path stroke="#d5cd5b" d="M139.1 306.9h0"/>
<path stroke="#b9763d" d="M191.6 332.8h0"/>
<path stroke="#c8a15f" d="M173 322.5h0"/>
<path stroke="#d4c95e" d="M151 309.6h0"/>
<path stroke="#be854a" d="M109.5 330.2h0"/>
<path stroke="#a85627" d="M210.3 341.4h0"/>
<path stroke="#d3c460" d="M123.5 312.8h0"/>
<path stroke="#c69e5d" d="M176.4 324.1h0"/>
<path stroke="#b9763d" d="M195 333.7h0"/>
<path stroke="#cbab64" d="M116.5 320.4h0"/>
<path stroke="#d5d05a" d="M133.9 306.4h0"/>
<path stroke="#d4c95d" d="M154.4 310.3h0"/>
<path stroke="#a85627" d="M100.6 342.3h0"/>
<path stroke="#a85627" d="M213.8 342.4h0"/>
<path stroke="#d5cd5b" d="M128.6 308.4h0"/>
<path stroke="#c59b5b" d="M179.8 325.6h0"/>
<path stroke="#d0cc56" d="M142.4 305.6h0"/>
<path stroke="#b9773e" d="M198.5 334.6h0"/>
<path stroke="#bd8449" d="M107.5 332.3h0"/>
<path stroke="#d4c95e" d="M157.7 311.5h0"/>
<path stroke="#c59959" d="M183.2 327.1h0"/>
<path stroke="#a85627" d="M217.3 343.4h0"/>
<path stroke="#d4c85e" d="M161.1 313h0"/>
<path stroke="#cbac63" d="M114.4 322h0"/>
<path stroke="#ba793f" d="M202 335.4h0"/>
<path stroke="#d4c75e" d="M121.5 313.4h0"/>
<path stroke="#a85627" d="M98.5 344.2h0"/>
<path stroke="#c49858" d="M186.7 328.3h0"/>
<path stroke="#a85627" d="M220.8 344.5h0"/>
<path stroke="#c7c651" d="M145.7 305.1h0"/>
<path stroke="#d3c65f" d="M164.5 314.7h0"/>
<path stroke="#c1c34e" d="M137.1 304h0"/>
<path stroke="#bd8247" d="M105.5 334.4h0"/>
<path stroke="#d2c260" d="M167.9 316.6h0"/>
<path stroke="#ba7b41" d="M205.6 336.1h0"/>
<path stroke="#c49758" d="M190.1 329.4h0"/>
<path stroke="#d0cc56" d="M126.6 308h0"/>
<path stroke="#a85627" d="M224.4 345.5h0"/>
<path stroke="#c1c34e" d="M131.8 304.8h0"/>
<path stroke="#d1be61" d="M171.3 318.5h0"/>
<path stroke="#cbac63" d="M112.4 324h0"/>
<path stroke="#c1c34e" d="M149.1 305.2h0"/>
<path stroke="#a85627" d="M96.4 346.1h0"/>
<path stroke="#cfb962" d="M174.8 320.5h0"/>
<path stroke="#c49858" d="M193.6 330.3h0"/>
<path stroke="#d4c95e" d="M119.4 314.5h0"/>
<path stroke="#bb7d43" d="M209.1 336.9h0"/>
<path stroke="#a85627" d="M228 346.6h0"/>
<path stroke="#bc8045" d="M103.4 336.6h0"/>
<path stroke="#ceb562" d="M178.2 322.3h0"/>
<path stroke="#b2b945" d="M140.4 302.4h0"/>
<path stroke="#c0c24d" d="M152.5 305.8h0"/>
<path stroke="#c59959" d="M197.1 331.1h0"/>
<path stroke="#a85627" d="M231.6 347.6h0"/>
<path stroke="#cbaa64" d="M110.4 326.1h0"/>
<path stroke="#bc8045" d="M212.7 337.6h0"/>
<path stroke="#cdb263" d="M181.7 324h0"/>
<path stroke="#a85627" d="M94.2 348.1h0"/>
<path stroke="#c2c34e" d="M155.9 307.1h0"/>
<path stroke="#c7c651" d="M124.6 308.3h0"/>
<path stroke="#d4c95d" d="M117.4 316.1h0"/>
<path stroke="#bb7d43" d="M101.3 338.8h0"/>
<path stroke="#aab541" d="M135.1 302h0"/>
<path stroke="#ccb063" d="M185.1 325.4h0"/>
<path stroke="#a85627" d="M235.2 348.7h0"/>
<path stroke="#c6c651" d="M159.3 308.8h0"/>
<path stroke="#c59b5b" d="M200.7 331.7h0"/>
<path stroke="#b2b945" d="M129.8 304h0"/>
<path stroke="#bd8247" d="M216.3 338.3h0"/>
<path stroke="#a7b345" d="M143.8 301.6h0"/>
<path stroke="#ccca54" d="M162.7 310.8h0"/>
<path stroke="#caa864" d="M108.3 328.5h0"/>
<path stroke="#ccaf63" d="M188.6 326.5h0"/>
<path stroke="#a85627" d="M238.8 349.7h0"/>
<path stroke="#d4cf59" d="M166.2 313h0"/>
<path stroke="#a85627" d="M92.1 350h0"/>
<path stroke="#bd8449" d="M219.9 339.1h0"/>
<path stroke="#c69e5d" d="M204.3 332.1h0"/>
<path stroke="#d5ce5b" d="M169.6 315.3h0"/>
<path stroke="#ba7b41" d="M99.2 341h0"/>
<path stroke="#d4c95e" d="M115.4 318.1h0"/>
<path stroke="#c1c34e" d="M122.5 309.2h0"/>
<path stroke="#a0b051" d="M147.1 301.5h0"/>
<path stroke="#d5ca5d" d="M173.1 317.6h0"/>
<path stroke="#ccb063" d="M192.2 327.4h0"/>
<path stroke="#a85627" d="M242.5 350.8h0"/>
<path stroke="#97ad63" d="M138.4 300h0"/>
<path stroke="#c9a461" d="M106.3 331h0"/>
<path stroke="#d4c75e" d="M176.5 319.7h0"/>
<path stroke="#be854a" d="M223.5 340h0"/>
<path stroke="#c8a15f" d="M207.9 332.5h0"/>
<path stroke="#a7b345" d="M127.7 304h0"/>
<path stroke="#9eb055" d="M150.6 302.2h0"/>
<path stroke="#d3c55f" d="M180 321.5h0"/>
<path stroke="#a85627" d="M246.2 351.9h0"/>
<path stroke="#97ad63" d="M133 300.8h0"/>
<path stroke="#cdb263" d="M195.7 328h0"/>
<path stroke="#a85627" d="M89.9 352h0"/>
<path stroke="#d4c85e" d="M113.3 320.4h0"/>
<path stroke="#ba793f" d="M97.1 343.3h0"/>
<path stroke="#be864a" d="M227.1 340.9h0"/>
<path stroke="#c0c24d" d="M120.5 310.7h0"/>
<path stroke="#a1b150" d="M154 303.6h0"/>
<path stroke="#d3c460" d="M183.5 323.1h0"/>
<path stroke="#c8a15f" d="M104.2 333.6h0"/>
<path stroke="#a85627" d="M249.9 353h0"/>
<path stroke="#c9a461" d="M211.5 332.9h0"/>
<path stroke="#89a77c" d="M141.7 299h0"/>
<path stroke="#a7b343" d="M157.5 305.5h0"/>
<path stroke="#be854a" d="M230.8 342.1h0"/>
<path stroke="#ceb562" d="M199.3 328.3h0"/>
<path stroke="#d3c360" d="M187.1 324.3h0"/>
<path stroke="#d3c65f" d="M111.3 323.1h0"/>
<path stroke="#afb844" d="M160.9 307.8h0"/>
<path stroke="#b9be49" d="M164.4 310.3h0"/>
<path stroke="#b9773e" d="M94.9 345.5h0"/>
<path stroke="#a85627" d="M87.7 354h0"/>
<path stroke="#a85627" d="M253.6 354.1h0"/>
<path stroke="#a0b051" d="M125.7 304.8h0"/>
<path stroke="#c3c44f" d="M167.9 313h0"/>
<path stroke="#bd8348" d="M234.4 343.4h0"/>
<path stroke="#c69e5d" d="M102.1 336.1h0"/>
<path stroke="#caa864" d="M215.2 333.3h0"/>
<path stroke="#c2c34e" d="M118.4 312.8h0"/>
<path stroke="#81a48b" d="M136.3 298.7h0"/>
<path stroke="#ccca55" d="M171.4 315.5h0"/>
<path stroke="#82a58a" d="M145.2 298.9h0"/>
<path stroke="#d3c460" d="M190.6 325.1h0"/>
<path stroke="#89a77c" d="M131 300.6h0"/>
<path stroke="#cfb962" d="M202.9 328.5h0"/>
<path stroke="#d5cf59" d="M174.8 317.9h0"/>
<path stroke="#a85627" d="M257.3 355.1h0"/>
<path stroke="#d2c260" d="M109.2 325.9h0"/>
<path stroke="#bc8046" d="M238 344.9h0"/>
<path stroke="#d5ce5b" d="M178.4 320h0"/>
<path stroke="#cbaa64" d="M218.8 333.8h0"/>
<path stroke="#80a48c" d="M148.6 299.6h0"/>
<path stroke="#b9763d" d="M92.7 347.6h0"/>
<path stroke="#bb7c42" d="M241.7 346.5h0"/>
<path stroke="#a85627" d="M85.5 356.1h0"/>
<path stroke="#c59b5b" d="M100 338.6h0"/>
<path stroke="#c6c651" d="M116.4 315.4h0"/>
<path stroke="#d3c55f" d="M194.2 325.6h0"/>
<path stroke="#a85627" d="M261 356.2h0"/>
<path stroke="#d5cc5c" d="M181.9 321.7h0"/>
<path stroke="#9eb055" d="M123.6 306.3h0"/>
<path stroke="#d1be61" d="M206.6 328.6h0"/>
<path stroke="#739fa5" d="M139.7 297.5h0"/>
<path stroke="#84a585" d="M152.1 301.1h0"/>
<path stroke="#d1be61" d="M107.2 328.8h0"/>
<path stroke="#b9763d" d="M245.3 348.4h0"/>
<path stroke="#cbac63" d="M222.5 334.5h0"/>
<path stroke="#8ca976" d="M155.6 303.3h0"/>
<path stroke="#d5cb5c" d="M185.4 323h0"/>
<path stroke="#a85627" d="M264.8 357.4h0"/>
<path stroke="#b66f37" d="M249 350.3h0"/>
<path stroke="#82a58a" d="M128.9 301.3h0"/>
<path stroke="#97ad62" d="M159.1 305.9h0"/>
<path stroke="#739fa5" d="M134.3 298.3h0"/>
<path stroke="#ccca54" d="M114.3 318.3h0"/>
<path stroke="#a4b249" d="M162.6 308.7h0"/>
<path stroke="#d4c75e" d="M197.9 325.7h0"/>
<path stroke="#b0b944" d="M166.1 311.7h0"/>
<path stroke="#c59959" d="M97.8 341h0"/>
<path stroke="#b46830" d="M252.6 352.5h0"/>
<path stroke="#bcc04b" d="M169.6 314.6h0"/>
<path stroke="#b9763d" d="M90.5 349.6h0"/>
<path stroke="#a85627" d="M83.2 358.1h0"/>
<path stroke="#d2c260" d="M210.3 328.6h0"/>
<path stroke="#cbac63" d="M226.2 335.4h0"/>
<path stroke="#a1b150" d="M121.6 308.5h0"/>
<path stroke="#c6c651" d="M173.1 317.3h0"/>
<path stroke="#cfb962" d="M105.1 331.7h0"/>
<path stroke="#6c9cb3" d="M143.2 297.4h0"/>
<path stroke="#b1602b" d="M256.2 354.7h0"/>
<path stroke="#d5cc5c" d="M189 323.8h0"/>
<path stroke="#cecb55" d="M176.6 319.6h0"/>
<path stroke="#ac5b29" d="M259.8 357h0"/>
<path stroke="#d4cf59" d="M112.3 321.4h0"/>
<path stroke="#cbab64" d="M229.9 336.7h0"/>
<path stroke="#a85627" d="M263.4 359.4h0"/>
<path stroke="#d5ca5d" d="M201.5 325.6h0"/>
<path stroke="#d2ce58" d="M180.2 321.4h0"/>
<path stroke="#6b9cb4" d="M146.6 298.2h0"/>
<path stroke="#80a48c" d="M126.9 302.9h0"/>
<path stroke="#d3c65f" d="M214 328.7h0"/>
<path stroke="#6599c0" d="M137.7 297.1h0"/>
<path stroke="#a7b343" d="M119.5 311.3h0"/>
<path stroke="#c49858" d="M95.7 343.3h0"/>
<path stroke="#ceb562" d="M103 334.5h0"/>
<path stroke="#d5ce5b" d="M192.6 324.1h0"/>
<path stroke="#b9763d" d="M88.3 351.6h0"/>
<path stroke="#caa964" d="M233.6 338.2h0"/>
<path stroke="#a85627" d="M81 360.2h0"/>
<path stroke="#6c9cb3" d="M132.3 299h0"/>
<path stroke="#709dab" d="M150.1 299.9h0"/>
<path stroke="#d4cf59" d="M183.7 322.7h0"/>
<path stroke="#d5ce5b" d="M110.2 324.7h0"/>
<path stroke="#79a199" d="M153.7 302.3h0"/>
<path stroke="#c9a562" d="M237.2 340.1h0"/>
<path stroke="#a5b248" d="M164.2 311.7h0"/>
<path stroke="#86a681" d="M157.2 305.2h0"/>
<path stroke="#b2ba45" d="M167.8 314.9h0"/>
<path stroke="#95ac65" d="M160.7 308.4h0"/>
<path stroke="#bec14c" d="M171.3 317.8h0"/>
<path stroke="#afb844" d="M117.5 314.5h0"/>
<path stroke="#d5ce5b" d="M205.2 325.4h0"/>
<path stroke="#d4c85e" d="M217.8 329h0"/>
<path stroke="#c79f5e" d="M240.8 342.3h0"/>
<path stroke="#c7c651" d="M174.8 320.3h0"/>
<path stroke="#5e96cd" d="M141.2 297.1h0"/>
<path stroke="#84a585" d="M124.8 305.2h0"/>
<path stroke="#a85627" d="M262.1 361.5h0"/>
<path stroke="#d5cf59" d="M196.3 324h0"/>
<path stroke="#cdb263" d="M100.8 337.1h0"/>
<path stroke="#c49859" d="M244.4 344.9h0"/>
<path stroke="#b1602b" d="M258.6 357.9h0"/>
<path stroke="#d2ce58" d="M187.4 323.5h0"/>
<path stroke="#b77138" d="M255.1 354.4h0"/>
<path stroke="#c18f52" d="M248 347.8h0"/>
<path stroke="#d5ca5d" d="M108.2 327.9h0"/>
<path stroke="#c49758" d="M93.5 345.4h0"/>
<path stroke="#bd8247" d="M251.6 351h0"/>
<path stroke="#ccca54" d="M178.4 322.3h0"/>
<path stroke="#b9773e" d="M86 353.5h0"/>
<path stroke="#a85627" d="M78.7 362.3h0"/>
<path stroke="#6b9cb4" d="M130.2 300.7h0"/>
<path stroke="#5e96cd" d="M135.7 297.9h0"/>
<path stroke="#b9be49" d="M115.5 317.9h0"/>
<path stroke="#5e96cd" d="M144.6 298h0"/>
<path stroke="#d4c95e" d="M221.5 329.5h0"/>
<path stroke="#8ca976" d="M122.8 308.2h0"/>
<path stroke="#cecb55" d="M182 323.6h0"/>
<path stroke="#d4cf59" d="M209 325h0"/>
<path stroke="#b0b944" d="M165.9 316.4h0"/>
<path stroke="#bdc04c" d="M169.4 319.6h0"/>
<path stroke="#6499c1" d="M148.2 299.9h0"/>
<path stroke="#a1b14f" d="M162.4 312.9h0"/>
<path stroke="#cecb55" d="M191 323.7h0"/>
<path stroke="#d4c75e" d="M106.1 331h0"/>
<path stroke="#8faa70" d="M158.8 309.3h0"/>
<path stroke="#c7c751" d="M173 322.2h0"/>
<path stroke="#709dac" d="M151.7 302.6h0"/>
<path stroke="#ccca55" d="M200 323.6h0"/>
<path stroke="#7ea390" d="M155.3 305.8h0"/>
<path stroke="#ccb063" d="M98.7 339.5h0"/>
<path stroke="#a85627" d="M260.7 363.6h0"/>
<path stroke="#c3c44f" d="M113.4 321.5h0"/>
<path stroke="#d4c95d" d="M225.2 330.3h0"/>
<path stroke="#5894d8" d="M139.1 297.9h0"/>
<path stroke="#c49858" d="M91.2 347.3h0"/>
<path stroke="#cdca55" d="M176.6 324.3h0"/>
<path stroke="#709dab" d="M128.2 303.2h0"/>
<path stroke="#97ad62" d="M120.8 311.7h0"/>
<path stroke="#ccca54" d="M185.6 324.3h0"/>
<path stroke="#a85627" d="M76.4 364.4h0"/>
<path stroke="#b46830" d="M257.3 358.8h0"/>
<path stroke="#5e96cd" d="M133.6 299.7h0"/>
<path stroke="#ba793f" d="M83.7 355.3h0"/>
<path stroke="#c3c44f" d="M167.6 322.5h0"/>
<path stroke="#b5bc47" d="M164 319.1h0"/>
<path stroke="#ccca54" d="M212.8 324.8h0"/>
<path stroke="#d4c95e" d="M229 331.6h0"/>
<path stroke="#cecb55" d="M171.1 325.3h0"/>
<path stroke="#5995d5" d="M142.7 299.1h0"/>
<path stroke="#ccca55" d="M111.4 325h0"/>
<path stroke="#cfcc56" d="M180.2 325.7h0"/>
<path stroke="#a5b248" d="M160.5 315.4h0"/>
<path stroke="#c6c651" d="M194.7 323.4h0"/>
<path stroke="#d3c55f" d="M104 333.8h0"/>
<path stroke="#bd8247" d="M253.9 354.2h0"/>
<path stroke="#91ab6c" d="M156.9 311.5h0"/>
<path stroke="#a4b249" d="M118.8 315.5h0"/>
<path stroke="#c3c44f" d="M203.8 323.1h0"/>
<path stroke="#79a199" d="M126.2 306.5h0"/>
<path stroke="#d5cf59" d="M174.7 327.5h0"/>
<path stroke="#6198c7" d="M146.2 301.3h0"/>
<path stroke="#ccaf63" d="M96.5 341.6h0"/>
<path stroke="#7fa38f" d="M153.3 307.7h0"/>
<path stroke="#a85627" d="M259.2 365.7h0"/>
<path stroke="#6e9daf" d="M149.8 304.2h0"/>
<path stroke="#d4c75e" d="M232.7 333.4h0"/>
<path stroke="#c39657" d="M250.5 349.7h0"/>
<path stroke="#d0cc56" d="M165.7 326.5h0"/>
<path stroke="#c1c34e" d="M162.1 322.9h0"/>
<path stroke="#d5ce5b" d="M169.2 329.5h0"/>
<path stroke="#c7c651" d="M189.3 324.4h0"/>
<path stroke="#5995d5" d="M137.1 299.9h0"/>
<path stroke="#6499c1" d="M131.6 302.4h0"/>
<path stroke="#c9a461" d="M247 345.5h0"/>
<path stroke="#d3c460" d="M236.3 335.7h0"/>
<path stroke="#afb844" d="M158.5 319h0"/>
<path stroke="#c59959" d="M88.9 349.1h0"/>
<path stroke="#cdca55" d="M183.8 326.4h0"/>
<path stroke="#d5cb5c" d="M163.7 331.4h0"/>
<path stroke="#b77138" d="M159.6 359h0"/>
<path stroke="#d5cf59" d="M109.3 328.4h0"/>
<path stroke="#d5cb5d" d="M172.8 331.8h0"/>
<path stroke="#d4c65f" d="M167.3 334.6h0"/>
<path stroke="#b0b944" d="M116.7 319.4h0"/>
<path stroke="#c18e51" d="M161.5 352.7h0"/>
<path stroke="#d6d05a" d="M178.3 328.9h0"/>
<path stroke="#a85627" d="M74 366.5h0"/>
<path stroke="#bd8247" d="M156 355.5h0"/>
<path stroke="#cdb163" d="M243.5 341.8h0"/>
<path stroke="#d0bc61" d="M239.9 338.5h0"/>
<path stroke="#ac5b29" d="M157.7 364.8h0"/>
<path stroke="#c6c651" d="M216.6 324.8h0"/>
<path stroke="#c59959" d="M157.9 349.4h0"/>
<path stroke="#c8a360" d="M163.5 346.4h0"/>
<path stroke="#d1cd57" d="M160.2 327.7h0"/>
<path stroke="#d2c160" d="M161.8 337.1h0"/>
<path stroke="#ccad63" d="M159.9 343.1h0"/>
<path stroke="#b3662f" d="M154.1 361.3h0"/>
<path stroke="#86a681" d="M124.1 310.2h0"/>
<path stroke="#cfb662" d="M165.4 340.3h0"/>
<path stroke="#9baf5a" d="M155 314.8h0"/>
<path stroke="#ba7b41" d="M81.4 357.1h0"/>
<path stroke="#b3662f" d="M163.2 361.5h0"/>
<path stroke="#be8549" d="M165.1 355.3h0"/>
<path stroke="#a75427" d="M161.2 367.4h0"/>
<path stroke="#d3c460" d="M101.8 336.4h0"/>
<path stroke="#5c96d0" d="M140.7 301.3h0"/>
<path stroke="#d4c95d" d="M158.2 333.2h0"/>
<path stroke="#a14d25" d="M155.7 370.1h0"/>
<path stroke="#d2c260" d="M170.9 336.9h0"/>
<path stroke="#caa764" d="M154.4 345.3h0"/>
<path stroke="#c39456" d="M152.4 351.3h0"/>
<path stroke="#d0bb61" d="M156.3 339.1h0"/>
<path stroke="#c69c5b" d="M167 348.9h0"/>
<path stroke="#bcc04b" d="M198.5 322.8h0"/>
<path stroke="#bfc24d" d="M156.6 323.5h0"/>
<path stroke="#a95728" d="M152.1 366.6h0"/>
<path stroke="#b66f37" d="M256 359.9h0"/>
<path stroke="#cdb063" d="M169 342.7h0"/>
<path stroke="#87a680" d="M151.4 310.7h0"/>
<path stroke="#bb7d43" d="M150.5 357.1h0"/>
<path stroke="#974b27" d="M159.3 372.8h0"/>
<path stroke="#6699bf" d="M144.2 303.8h0"/>
<path stroke="#749fa3" d="M147.8 307h0"/>
<path stroke="#709dac" d="M129.6 306h0"/>
<path stroke="#d4ca5d" d="M176.4 333.3h0"/>
<path stroke="#d3ce58" d="M154.7 328.8h0"/>
<path stroke="#b9be49" d="M207.6 322.4h0"/>
<path stroke="#6198c7" d="M135.1 302.9h0"/>
<path stroke="#b3662f" d="M148.6 362.3h0"/>
<path stroke="#d4c85e" d="M152.7 334.6h0"/>
<path stroke="#bcc04b" d="M114.7 323.3h0"/>
<path stroke="#abb541" d="M153 319.2h0"/>
<path stroke="#95ac65" d="M122.1 314.3h0"/>
<path stroke="#cfb862" d="M150.8 340.7h0"/>
<path stroke="#b2622b" d="M166.8 363.2h0"/>
<path stroke="#c9a562" d="M148.8 346.6h0"/>
<path stroke="#a55226" d="M164.8 369.1h0"/>
<path stroke="#8e4c2b" d="M153.8 374.7h0"/>
<path stroke="#bc8146" d="M168.7 356.9h0"/>
<path stroke="#ccb063" d="M94.2 343.5h0"/>
<path stroke="#d5cf59" d="M182 329.6h0"/>
<path stroke="#a85627" d="M257.8 367.8h0"/>
<path stroke="#bec14c" d="M193 324h0"/>
<path stroke="#d2c061" d="M174.5 338.4h0"/>
<path stroke="#a14d25" d="M150.2 371.1h0"/>
<path stroke="#c59a5a" d="M170.6 350.5h0"/>
<path stroke="#c39456" d="M146.9 352.3h0"/>
<path stroke="#d5ce5b" d="M107.2 331.4h0"/>
<path stroke="#ccae63" d="M172.6 344.3h0"/>
<path stroke="#c7c751" d="M187.5 326.4h0"/>
<path stroke="#c2c34e" d="M220.4 325.1h0"/>
<path stroke="#804d31" d="M157.4 377.3h0"/>
<path stroke="#bec14c" d="M151.1 324.3h0"/>
<path stroke="#95ac65" d="M149.4 314.8h0"/>
<path stroke="#924b29" d="M162.9 374.4h0"/>
<path stroke="#6699bf" d="M138.7 304.6h0"/>
<path stroke="#c18f52" d="M252.7 354.2h0"/>
<path stroke="#d4cf59" d="M149.1 329.9h0"/>
<path stroke="#7ea390" d="M127.6 310h0"/>
<path stroke="#bd8247" d="M144.9 357.4h0"/>
<path stroke="#ac5b29" d="M146.6 366.8h0"/>
<path stroke="#d4c75e" d="M147.2 335.7h0"/>
<path stroke="#81a48b" d="M145.8 310.8h0"/>
<path stroke="#a5b248" d="M120.1 318.6h0"/>
<path stroke="#a85627" d="M71.7 368.6h0"/>
<path stroke="#719eaa" d="M142.2 307.3h0"/>
<path stroke="#cfb862" d="M145.2 341.6h0"/>
<path stroke="#6e9daf" d="M133.1 306.7h0"/>
<path stroke="#c59b5b" d="M86.6 350.7h0"/>
<path stroke="#d5cb5d" d="M180.1 333.9h0"/>
<path stroke="#a9b440" d="M147.5 319.7h0"/>
<path stroke="#c6c651" d="M112.6 326.9h0"/>
<path stroke="#caa764" d="M143.3 347.1h0"/>
<path stroke="#d3c360" d="M99.6 338.5h0"/>
<path stroke="#7b4e33" d="M161 379h0"/>
<path stroke="#bb7d43" d="M79.1 358.9h0"/>
<path stroke="#b3662f" d="M170.4 363.8h0"/>
<path stroke="#804d31" d="M151.8 378.4h0"/>
<path stroke="#bec14c" d="M145.5 325.1h0"/>
<path stroke="#be8549" d="M172.3 357.6h0"/>
<path stroke="#a75427" d="M168.4 369.8h0"/>
<path stroke="#b0b944" d="M202.3 321.9h0"/>
<path stroke="#974b27" d="M148.2 374.8h0"/>
<path stroke="#8faa70" d="M125.6 314.5h0"/>
<path stroke="#d2c260" d="M178.2 339.1h0"/>
<path stroke="#93ab69" d="M143.9 315.4h0"/>
<path stroke="#c69c5b" d="M174.3 351.2h0"/>
<path stroke="#b77138" d="M143 361.9h0"/>
<path stroke="#749fa3" d="M136.7 308.7h0"/>
<path stroke="#d4cf59" d="M143.6 330.8h0"/>
<path stroke="#c0c24d" d="M224.2 325.8h0"/>
<path stroke="#cdb063" d="M176.2 344.9h0"/>
<path stroke="#714f37" d="M155.4 381h0"/>
<path stroke="#afb844" d="M211.4 321.8h0"/>
<path stroke="#c59959" d="M141.3 352.2h0"/>
<path stroke="#81a48b" d="M140.3 311.6h0"/>
<path stroke="#c9a461" d="M249.4 348.7h0"/>
<path stroke="#7fa38f" d="M131.1 311.1h0"/>
<path stroke="#d4c85e" d="M141.6 336.5h0"/>
<path stroke="#cecb55" d="M185.7 329.5h0"/>
<path stroke="#b2ba45" d="M118.1 322.7h0"/>
<path stroke="#974b27" d="M166.5 375.1h0"/>
<path stroke="#b9763d" d="M254.7 361.1h0"/>
<path stroke="#d5cc5c" d="M105 334.1h0"/>
<path stroke="#a9b440" d="M141.9 320.6h0"/>
<path stroke="#a75427" d="M144.6 370.4h0"/>
<path stroke="#d0bb61" d="M139.7 341.9h0"/>
<path stroke="#a85627" d="M256.4 370h0"/>
<path stroke="#b2ba45" d="M196.8 323.1h0"/>
<path stroke="#a1b14f" d="M123.6 319h0"/>
<path stroke="#bdc04c" d="M191.3 325.8h0"/>
<path stroke="#87a680" d="M134.7 313.3h0"/>
<path stroke="#bec14c" d="M139.9 326h0"/>
<path stroke="#95ac65" d="M138.3 316.6h0"/>
<path stroke="#cdb263" d="M91.9 345.1h0"/>
<path stroke="#91ab6c" d="M129.1 315.8h0"/>
<path stroke="#6c4f39" d="M159 382.8h0"/>
<path stroke="#cecb55" d="M110.5 330.2h0"/>
<path stroke="#c1c34e" d="M227.9 327.2h0"/>
<path stroke="#c18e51" d="M139.3 356.6h0"/>
<path stroke="#d3ce58" d="M138 331.6h0"/>
<path stroke="#804d31" d="M164.6 379.7h0"/>
<path stroke="#cfb762" d="M246 343.6h0"/>
<path stroke="#ccad63" d="M137.7 346.9h0"/>
<path stroke="#d5ce5b" d="M183.8 333.8h0"/>
<path stroke="#abb541" d="M136.3 321.8h0"/>
<path stroke="#9baf5a" d="M132.7 318.3h0"/>
<path stroke="#b3662f" d="M141 365.5h0"/>
<path stroke="#bec14c" d="M116 326.6h0"/>
<path stroke="#a85627" d="M69.3 370.8h0"/>
<path stroke="#d4c95d" d="M136 336.8h0"/>
<path stroke="#a5b248" d="M127.1 320.6h0"/>
<path stroke="#b0b944" d="M121.6 323.4h0"/>
<path stroke="#7b4e33" d="M149.9 381.1h0"/>
<path stroke="#bfc24d" d="M134.3 327.1h0"/>
<path stroke="#b77138" d="M174.1 363.5h0"/>
<path stroke="#c7c651" d="M231.7 329.1h0"/>
<path stroke="#d4c65f" d="M181.9 338.9h0"/>
<path stroke="#c18e51" d="M176 357.3h0"/>
<path stroke="#d3c65f" d="M242.5 339h0"/>
<path stroke="#924b29" d="M146.2 377.5h0"/>
<path stroke="#c69e5d" d="M84.3 352.2h0"/>
<path stroke="#ac5b29" d="M172.1 369.5h0"/>
<path stroke="#d3c460" d="M97.3 340.4h0"/>
<path stroke="#afb844" d="M130.7 323.4h0"/>
<path stroke="#c8a360" d="M178 350.9h0"/>
<path stroke="#cfb662" d="M179.9 344.7h0"/>
<path stroke="#6c4f39" d="M153.5 383.8h0"/>
<path stroke="#a7b343" d="M215.3 321.5h0"/>
<path stroke="#bc8045" d="M76.7 360.7h0"/>
<path stroke="#a4b249" d="M206.1 320.9h0"/>
<path stroke="#d0cc56" d="M235.3 331.7h0"/>
<path stroke="#d5cd5b" d="M238.9 335.1h0"/>
<path stroke="#c49859" d="M251.5 354.4h0"/>
<path stroke="#c8a360" d="M135.7 351.2h0"/>
<path stroke="#d1cd57" d="M132.4 332.2h0"/>
<path stroke="#d2c160" d="M134 341.7h0"/>
<path stroke="#a14d25" d="M170.2 374.8h0"/>
<path stroke="#b5bc47" d="M125.1 325.3h0"/>
<path stroke="#c3c44f" d="M189.4 328.8h0"/>
<path stroke="#a55226" d="M142.6 373.1h0"/>
<path stroke="#714f37" d="M162.6 383.5h0"/>
<path stroke="#d5cb5c" d="M102.8 336.4h0"/>
<path stroke="#be8549" d="M137.3 360.1h0"/>
<path stroke="#c1c34e" d="M128.7 328.3h0"/>
<path stroke="#bdc04c" d="M119.5 327.5h0"/>
<path stroke="#d2ce58" d="M108.4 333h0"/>
<path stroke="#c7c651" d="M113.9 330.1h0"/>
<path stroke="#a85627" d="M254.9 372.2h0"/>
<path stroke="#67503b" d="M157.1 385.5h0"/>
<path stroke="#bb7c42" d="M253.3 362.4h0"/>
<path stroke="#d5cb5c" d="M130.4 336.9h0"/>
<path stroke="#a5b248" d="M200.6 321.9h0"/>
<path stroke="#b0b944" d="M195.1 324.7h0"/>
<path stroke="#8e4c2b" d="M168.2 379.5h0"/>
<path stroke="#cfb662" d="M132 345.9h0"/>
<path stroke="#b2622b" d="M139 368.1h0"/>
<path stroke="#c3c44f" d="M123.1 329.6h0"/>
<path stroke="#ceb562" d="M89.6 346.5h0"/>
<path stroke="#d0cc56" d="M126.7 332.8h0"/>
<path stroke="#d0cc56" d="M187.6 332.9h0"/>
<path stroke="#a85627" d="M66.9 373h0"/>
<path stroke="#c69c5b" d="M133.6 354.7h0"/>
<path stroke="#a1b150" d="M219.1 321.6h0"/>
<path stroke="#cdb163" d="M248.2 348.1h0"/>
<path stroke="#c7c751" d="M117.4 331.2h0"/>
<path stroke="#d5cb5c" d="M185.6 337.9h0"/>
<path stroke="#d4c65f" d="M128.3 341h0"/>
<path stroke="#804d31" d="M147.8 382.8h0"/>
<path stroke="#bd8247" d="M177.8 362.4h0"/>
<path stroke="#c59959" d="M179.7 356.1h0"/>
<path stroke="#974b27" d="M144.2 379.2h0"/>
<path stroke="#97ad62" d="M210 320h0"/>
<path stroke="#d2c160" d="M183.7 343.6h0"/>
<path stroke="#ccad63" d="M181.7 349.8h0"/>
<path stroke="#b3662f" d="M175.8 368.3h0"/>
<path stroke="#d3c55f" d="M95 341.8h0"/>
<path stroke="#6c4f39" d="M160.7 386.2h0"/>
<path stroke="#c8a15f" d="M81.9 353.6h0"/>
<path stroke="#bc8146" d="M135.3 362.8h0"/>
<path stroke="#bd8247" d="M74.3 362.5h0"/>
<path stroke="#714f37" d="M151.5 385.5h0"/>
<path stroke="#804d31" d="M166.3 383.2h0"/>
<path stroke="#ccca54" d="M111.8 333h0"/>
<path stroke="#cecb55" d="M121 333.5h0"/>
<path stroke="#d5ce5b" d="M124.7 336.8h0"/>
<path stroke="#cdb063" d="M130 349.3h0"/>
<path stroke="#a95728" d="M173.9 373.6h0"/>
<path stroke="#d5cc5c" d="M100.6 338.2h0"/>
<path stroke="#b5bc47" d="M193.2 327.5h0"/>
<path stroke="#d4cf59" d="M106.2 335.3h0"/>
<path stroke="#a75427" d="M140.6 374.8h0"/>
<path stroke="#a85627" d="M253.4 374.4h0"/>
<path stroke="#9eb055" d="M223 322.2h0"/>
<path stroke="#d3c65f" d="M244.8 342.2h0"/>
<path stroke="#c79f5e" d="M250.1 355h0"/>
<path stroke="#6c4f39" d="M155.1 387.3h0"/>
<path stroke="#95ac65" d="M204.5 320.6h0"/>
<path stroke="#bc8046" d="M251.9 364h0"/>
<path stroke="#a1b14f" d="M198.9 323.2h0"/>
<path stroke="#c59a5a" d="M131.6 357.3h0"/>
<path stroke="#d2c260" d="M126.3 344.4h0"/>
<path stroke="#cdca55" d="M115.3 334.2h0"/>
<path stroke="#a14d25" d="M171.9 378.3h0"/>
<path stroke="#b3662f" d="M136.9 369.8h0"/>
<path stroke="#a85627" d="M64.5 375.2h0"/>
<path stroke="#c1c34e" d="M191.4 331.4h0"/>
<path stroke="#cfb962" d="M87.2 347.7h0"/>
<path stroke="#d5cb5d" d="M122.6 340.1h0"/>
<path stroke="#d5cf59" d="M118.9 336.6h0"/>
<path stroke="#a0b051" d="M226.8 323.6h0"/>
<path stroke="#d5d05a" d="M241.4 336.9h0"/>
<path stroke="#8ca976" d="M213.9 319.4h0"/>
<path stroke="#7b4e33" d="M164.4 386h0"/>
<path stroke="#cecb55" d="M109.6 335.3h0"/>
<path stroke="#d1cd57" d="M189.5 336.3h0"/>
<path stroke="#ccae63" d="M127.9 351.9h0"/>
<path stroke="#bd8449" d="M71.9 364.4h0"/>
<path stroke="#a7b345" d="M230.5 325.7h0"/>
<path stroke="#c1c34e" d="M237.9 332.3h0"/>
<path stroke="#714f37" d="M158.7 388h0"/>
<path stroke="#be8549" d="M133.2 364.4h0"/>
<path stroke="#c9a461" d="M79.4 355.1h0"/>
<path stroke="#d4c95d" d="M187.5 341.9h0"/>
<path stroke="#974b27" d="M170 382h0"/>
<path stroke="#d4c75e" d="M92.7 343h0"/>
<path stroke="#caa764" d="M183.6 354.3h0"/>
<path stroke="#c39456" d="M181.6 360.5h0"/>
<path stroke="#b2b945" d="M234.2 328.6h0"/>
<path stroke="#d0bb61" d="M185.5 348h0"/>
<path stroke="#8e4c2b" d="M145.8 383.6h0"/>
<path stroke="#d2ce58" d="M103.9 337h0"/>
<path stroke="#d0bc61" d="M246.9 347.9h0"/>
<path stroke="#bb7d43" d="M179.6 366.3h0"/>
<path stroke="#a85627" d="M252 376.6h0"/>
<path stroke="#a14d25" d="M142.1 380h0"/>
<path stroke="#d5ce5b" d="M98.2 339.5h0"/>
<path stroke="#a5b248" d="M197.1 325.8h0"/>
<path stroke="#804d31" d="M149.5 386.3h0"/>
<path stroke="#d2c061" d="M124.1 346.9h0"/>
<path stroke="#cfcc56" d="M113.1 336.6h0"/>
<path stroke="#b3662f" d="M177.7 371.7h0"/>
<path stroke="#86a681" d="M208.4 319.4h0"/>
<path stroke="#ac5b29" d="M138.5 375.6h0"/>
<path stroke="#bd8348" d="M250.4 365.8h0"/>
<path stroke="#a85627" d="M62 377.4h0"/>
<path stroke="#c9a562" d="M248.8 356h0"/>
<path stroke="#c69c5b" d="M129.4 358.9h0"/>
<path stroke="#d4ca5d" d="M120.4 342.5h0"/>
<path stroke="#8faa70" d="M202.8 321.7h0"/>
<path stroke="#d6d05a" d="M116.8 339.1h0"/>
<path stroke="#84a585" d="M217.8 319.2h0"/>
<path stroke="#7b4e33" d="M153.1 388.1h0"/>
<path stroke="#ac5b29" d="M175.7 376.3h0"/>
<path stroke="#afb844" d="M195.3 329.5h0"/>
<path stroke="#d1be61" d="M84.8 348.8h0"/>
<path stroke="#b77138" d="M134.8 370.6h0"/>
<path stroke="#804d31" d="M162.4 387.8h0"/>
<path stroke="#d5cd5b" d="M243.6 341.3h0"/>
<path stroke="#ccca54" d="M107.4 337.1h0"/>
<path stroke="#924b29" d="M168.1 384.8h0"/>
<path stroke="#be854a" d="M69.4 366.5h0"/>
<path stroke="#cdb063" d="M125.7 353.5h0"/>
<path stroke="#a85627" d="M250.5 378.9h0"/>
<path stroke="#caa864" d="M77 356.6h0"/>
<path stroke="#bfc24d" d="M193.3 334.2h0"/>
<path stroke="#80a48c" d="M221.7 319.7h0"/>
<path stroke="#cecb55" d="M101.6 338.2h0"/>
<path stroke="#d5ca5d" d="M90.2 343.9h0"/>
<path stroke="#c18e51" d="M131 365.2h0"/>
<path stroke="#804d31" d="M156.8 388.8h0"/>
<path stroke="#d3ce58" d="M191.4 339.7h0"/>
<path stroke="#a75427" d="M173.8 380h0"/>
<path stroke="#79a199" d="M212.4 318.5h0"/>
<path stroke="#d2c260" d="M122 348.5h0"/>
<path stroke="#cdca55" d="M110.9 338.3h0"/>
<path stroke="#d4c85e" d="M189.4 345.7h0"/>
<path stroke="#91ab6c" d="M201.1 324h0"/>
<path stroke="#cfb862" d="M187.4 351.9h0"/>
<path stroke="#d5cf59" d="M95.9 340.4h0"/>
<path stroke="#c9a562" d="M185.4 358h0"/>
<path stroke="#a85627" d="M59.5 379.7h0"/>
<path stroke="#c1c34e" d="M240.2 335.5h0"/>
<path stroke="#be854a" d="M248.9 367.7h0"/>
<path stroke="#d3c460" d="M245.6 348.3h0"/>
<path stroke="#c39456" d="M183.5 363.8h0"/>
<path stroke="#d5cb5d" d="M118.2 344.2h0"/>
<path stroke="#d5cf59" d="M114.5 340.7h0"/>
<path stroke="#7ea390" d="M206.8 320.1h0"/>
<path stroke="#caa964" d="M247.3 357.3h0"/>
<path stroke="#a14d25" d="M143.7 383.5h0"/>
<path stroke="#82a58a" d="M225.5 321h0"/>
<path stroke="#a95728" d="M140 379.8h0"/>
<path stroke="#bd8247" d="M181.5 369.1h0"/>
<path stroke="#c8a360" d="M127.3 359.7h0"/>
<path stroke="#974b27" d="M147.4 386.2h0"/>
<path stroke="#aab541" d="M236.7 330.4h0"/>
<path stroke="#be864a" d="M67 368.6h0"/>
<path stroke="#89a77c" d="M229.3 323.2h0"/>
<path stroke="#b3662f" d="M136.3 375.4h0"/>
<path stroke="#974b27" d="M166.2 386.6h0"/>
<path stroke="#97ad63" d="M233 326.3h0"/>
<path stroke="#d2c260" d="M82.3 349.9h0"/>
<path stroke="#9baf5a" d="M199.2 327.5h0"/>
<path stroke="#c7c651" d="M105 338.2h0"/>
<path stroke="#a85627" d="M248.9 381.2h0"/>
<path stroke="#b77138" d="M179.6 373.7h0"/>
<path stroke="#a55226" d="M171.9 382.8h0"/>
<path stroke="#8e4c2b" d="M160.5 388.6h0"/>
<path stroke="#709dab" d="M216.3 318.1h0"/>
<path stroke="#cbaa64" d="M74.5 358.2h0"/>
<path stroke="#924b29" d="M151.1 388h0"/>
<path stroke="#cfb662" d="M123.5 354.3h0"/>
<path stroke="#bd8247" d="M132.6 370.4h0"/>
<path stroke="#d0cc56" d="M242.3 341.2h0"/>
<path stroke="#a85627" d="M57 382h0"/>
<path stroke="#abb541" d="M197.3 332h0"/>
<path stroke="#be864a" d="M247.4 369.8h0"/>
<path stroke="#c6c651" d="M99.2 339h0"/>
<path stroke="#d5ce5b" d="M87.8 344.7h0"/>
<path stroke="#7fa38f" d="M205 322.2h0"/>
<path stroke="#c7c751" d="M108.6 339.3h0"/>
<path stroke="#d4c65f" d="M119.7 349.4h0"/>
<path stroke="#709dac" d="M210.8 318.9h0"/>
<path stroke="#bec14c" d="M195.3 337.2h0"/>
<path stroke="#ccca55" d="M93.4 341.1h0"/>
<path stroke="#cbab64" d="M245.9 358.9h0"/>
<path stroke="#d4c75e" d="M244.2 349.2h0"/>
<path stroke="#d4cf59" d="M193.4 343.1h0"/>
<path stroke="#b3662f" d="M177.6 377.4h0"/>
<path stroke="#c59959" d="M128.8 365.1h0"/>
<path stroke="#cecb55" d="M112.3 341.7h0"/>
<path stroke="#d5ce5b" d="M116 345.1h0"/>
<path stroke="#d4c75e" d="M191.4 349.1h0"/>
<path stroke="#974b27" d="M154.8 388.7h0"/>
<path stroke="#be854a" d="M64.5 370.9h0"/>
<path stroke="#6b9cb4" d="M220.3 318.4h0"/>
<path stroke="#cfb862" d="M189.4 355.2h0"/>
<path stroke="#caa764" d="M187.4 360.9h0"/>
<path stroke="#a85627" d="M247.4 383.5h0"/>
<path stroke="#b2b945" d="M238.9 334.8h0"/>
<path stroke="#d3c65f" d="M79.8 351.1h0"/>
<path stroke="#cbac63" d="M72 360h0"/>
<path stroke="#87a680" d="M203.2 325.4h0"/>
<path stroke="#a75427" d="M169.9 384.6h0"/>
<path stroke="#c59959" d="M185.4 366.2h0"/>
<path stroke="#ccad63" d="M125 359.6h0"/>
<path stroke="#a14d25" d="M164.2 387.4h0"/>
<path stroke="#bec14c" d="M102.7 338.7h0"/>
<path stroke="#6c9cb3" d="M224.2 319.6h0"/>
<path stroke="#a85627" d="M54.5 384.3h0"/>
<path stroke="#ac5b29" d="M141.6 382.6h0"/>
<path stroke="#be854a" d="M245.9 372.1h0"/>
<path stroke="#b3662f" d="M137.9 378.9h0"/>
<path stroke="#97ad63" d="M235.4 329.4h0"/>
<path stroke="#6499c1" d="M214.8 318.3h0"/>
<path stroke="#a75427" d="M145.3 385.3h0"/>
<path stroke="#b2622b" d="M175.7 380.2h0"/>
<path stroke="#739fa5" d="M228 321.8h0"/>
<path stroke="#6e9daf" d="M209 320.7h0"/>
<path stroke="#bb7d43" d="M134.1 374.5h0"/>
<path stroke="#81a48b" d="M231.7 325.1h0"/>
<path stroke="#c7c651" d="M240.9 341.7h0"/>
<path stroke="#c18e51" d="M183.5 370.7h0"/>
<path stroke="#d2c160" d="M121.2 354.3h0"/>
<path stroke="#95ac65" d="M201.3 329.7h0"/>
<path stroke="#cbac63" d="M244.3 361h0"/>
<path stroke="#a14d25" d="M158.5 388.5h0"/>
<path stroke="#bd8348" d="M62 373.4h0"/>
<path stroke="#d4cf59" d="M85.3 345.4h0"/>
<path stroke="#d4c95e" d="M242.7 350.6h0"/>
<path stroke="#bcc04b" d="M96.8 339.3h0"/>
<path stroke="#bdc04c" d="M106.2 339.7h0"/>
<path stroke="#a55226" d="M149 387.1h0"/>
<path stroke="#a85627" d="M245.9 385.8h0"/>
<path stroke="#a9b440" d="M199.4 334.8h0"/>
<path stroke="#c39456" d="M130.3 369.6h0"/>
<path stroke="#d5cb5c" d="M117.4 349.4h0"/>
<path stroke="#c3c44f" d="M91 341.5h0"/>
<path stroke="#bec14c" d="M197.4 340.4h0"/>
<path stroke="#c3c44f" d="M109.9 341.9h0"/>
<path stroke="#d0cc56" d="M113.6 345.2h0"/>
<path stroke="#cbac63" d="M69.6 362.1h0"/>
<path stroke="#d4cf59" d="M195.4 346.3h0"/>
<path stroke="#5e96cd" d="M218.7 318.4h0"/>
<path stroke="#be8549" d="M181.5 374.4h0"/>
<path stroke="#bd8449" d="M244.3 374.6h0"/>
<path stroke="#a85627" d="M51.9 386.6h0"/>
<path stroke="#d4c85e" d="M77.3 352.4h0"/>
<path stroke="#d4c85e" d="M193.4 352.2h0"/>
<path stroke="#a7b345" d="M237.5 335h0"/>
<path stroke="#749fa3" d="M207.2 323.7h0"/>
<path stroke="#caa764" d="M126.5 364.3h0"/>
<path stroke="#d0bb61" d="M191.4 357.9h0"/>
<path stroke="#ac5b29" d="M168 385.5h0"/>
<path stroke="#a75427" d="M152.7 387.8h0"/>
<path stroke="#bc8046" d="M59.6 376.1h0"/>
<path stroke="#6198c7" d="M213.1 319.8h0"/>
<path stroke="#cbac63" d="M242.7 363.3h0"/>
<path stroke="#b3662f" d="M173.8 382h0"/>
<path stroke="#b2ba45" d="M100.2 338.8h0"/>
<path stroke="#ccad63" d="M189.4 363.1h0"/>
<path stroke="#5e96cd" d="M222.7 319.4h0"/>
<path stroke="#a95728" d="M162.2 387.3h0"/>
<path stroke="#c1c34e" d="M239.4 342.9h0"/>
<path stroke="#d4c95d" d="M241.1 352.5h0"/>
<path stroke="#89a77c" d="M233.9 329.4h0"/>
<path stroke="#d0bb61" d="M122.7 358.8h0"/>
<path stroke="#81a48b" d="M205.3 327.7h0"/>
<path stroke="#a85627" d="M244.3 388.1h0"/>
<path stroke="#ccca54" d="M82.8 346.2h0"/>
<path stroke="#6599c0" d="M226.5 321.6h0"/>
<path stroke="#739fa5" d="M230.3 324.9h0"/>
<path stroke="#bc8146" d="M179.6 377.2h0"/>
<path stroke="#cbab64" d="M67.1 364.5h0"/>
<path stroke="#bd8247" d="M242.7 377.1h0"/>
<path stroke="#c8a360" d="M187.4 367.6h0"/>
<path stroke="#b77138" d="M139.4 381.1h0"/>
<path stroke="#93ab69" d="M203.4 332.5h0"/>
<path stroke="#b0b944" d="M94.3 339.5h0"/>
<path stroke="#a85627" d="M49.3 389h0"/>
<path stroke="#bd8247" d="M135.6 377.4h0"/>
<path stroke="#d4c95d" d="M118.9 353.6h0"/>
<path stroke="#b0b944" d="M103.8 339.6h0"/>
<path stroke="#5995d5" d="M217.1 319.6h0"/>
<path stroke="#b9be49" d="M88.4 341.9h0"/>
<path stroke="#6699bf" d="M211.3 322.5h0"/>
<path stroke="#b3662f" d="M143.1 383.8h0"/>
<path stroke="#d4c95e" d="M74.8 354h0"/>
<path stroke="#bb7c42" d="M57.1 379.1h0"/>
<path stroke="#ac5b29" d="M156.5 387.6h0"/>
<path stroke="#a9b440" d="M201.4 338h0"/>
<path stroke="#c39456" d="M131.8 373.1h0"/>
<path stroke="#cbaa64" d="M241.1 365.9h0"/>
<path stroke="#a0b051" d="M236 336.1h0"/>
<path stroke="#bec14c" d="M199.4 343.7h0"/>
<path stroke="#d1cd57" d="M115 348.8h0"/>
<path stroke="#b5bc47" d="M107.5 341.6h0"/>
<path stroke="#d3ce58" d="M197.4 349.5h0"/>
<path stroke="#c1c34e" d="M111.2 344.7h0"/>
<path stroke="#d4c95e" d="M239.5 354.9h0"/>
<path stroke="#b2622b" d="M146.9 385.6h0"/>
<path stroke="#c9a562" d="M128 368.1h0"/>
<path stroke="#c69c5b" d="M185.5 371.3h0"/>
<path stroke="#c0c24d" d="M237.8 344.7h0"/>
<path stroke="#a85627" d="M242.7 390.5h0"/>
<path stroke="#d4c95d" d="M195.4 355h0"/>
<path stroke="#5894d8" d="M221 320.5h0"/>
<path stroke="#caa964" d="M64.6 367.3h0"/>
<path stroke="#719eaa" d="M209.4 326.2h0"/>
<path stroke="#b77138" d="M171.9 382.9h0"/>
<path stroke="#82a58a" d="M232.4 330.3h0"/>
<path stroke="#bc8045" d="M241.1 379.8h0"/>
<path stroke="#b3662f" d="M166 385.4h0"/>
<path stroke="#b9763d" d="M54.6 382.2h0"/>
<path stroke="#be8549" d="M177.7 379h0"/>
<path stroke="#a5b248" d="M97.7 338.7h0"/>
<path stroke="#a85627" d="M46.7 391.4h0"/>
<path stroke="#cfb862" d="M124.2 362.9h0"/>
<path stroke="#d2c160" d="M193.4 360.1h0"/>
<path stroke="#5c96d0" d="M215.3 322.1h0"/>
<path stroke="#5e96cd" d="M224.9 322.5h0"/>
<path stroke="#c6c651" d="M80.2 347.3h0"/>
<path stroke="#6c9cb3" d="M228.7 325.8h0"/>
<path stroke="#caa864" d="M239.5 368.7h0"/>
<path stroke="#81a48b" d="M207.5 330.8h0"/>
<path stroke="#d4c95d" d="M72.3 356h0"/>
<path stroke="#b3662f" d="M150.6 386.3h0"/>
<path stroke="#b3662f" d="M160.2 386.5h0"/>
<path stroke="#9eb055" d="M234.4 337.9h0"/>
<path stroke="#d4c85e" d="M237.8 357.6h0"/>
<path stroke="#95ac65" d="M205.5 336.1h0"/>
<path stroke="#d4c85e" d="M120.3 357.6h0"/>
<path stroke="#c59a5a" d="M183.6 374.1h0"/>
<path stroke="#a4b249" d="M91.7 339.5h0"/>
<path stroke="#cfb662" d="M191.5 364.6h0"/>
<path stroke="#afb844" d="M85.9 342.4h0"/>
<path stroke="#c2c34e" d="M236.2 347.2h0"/>
<path stroke="#c9a562" d="M62.2 370.4h0"/>
<path stroke="#a85627" d="M241.1 392.9h0"/>
<path stroke="#abb541" d="M203.5 341.6h0"/>
<path stroke="#5995d5" d="M219.3 322.8h0"/>
<path stroke="#a1b14f" d="M101.3 339.2h0"/>
<path stroke="#6699bf" d="M213.5 325.6h0"/>
<path stroke="#b66f37" d="M52.2 385.5h0"/>
<path stroke="#bb7d43" d="M239.4 382.5h0"/>
<path stroke="#d3ce58" d="M116.4 352.4h0"/>
<path stroke="#bfc24d" d="M201.5 347.2h0"/>
<path stroke="#80a48c" d="M230.8 332.2h0"/>
<path stroke="#c9a461" d="M237.8 371.6h0"/>
<path stroke="#c18e51" d="M137.1 379.2h0"/>
<path stroke="#a85627" d="M44.1 393.8h0"/>
<path stroke="#c59959" d="M133.3 375.6h0"/>
<path stroke="#5e96cd" d="M223.2 324.6h0"/>
<path stroke="#a5b248" d="M105 340.9h0"/>
<path stroke="#d1cd57" d="M199.5 352.6h0"/>
<path stroke="#6b9cb4" d="M227 327.8h0"/>
<path stroke="#bfc24d" d="M112.6 347.8h0"/>
<path stroke="#b77138" d="M154.4 386.1h0"/>
<path stroke="#d4c95e" d="M69.8 358.5h0"/>
<path stroke="#cdb063" d="M189.5 368.2h0"/>
<path stroke="#749fa3" d="M211.5 330h0"/>
<path stroke="#be8549" d="M140.9 381.9h0"/>
<path stroke="#afb844" d="M108.8 343.9h0"/>
<path stroke="#d3c65f" d="M236.1 360.7h0"/>
<path stroke="#c2c34e" d="M77.7 348.7h0"/>
<path stroke="#caa764" d="M129.5 371.2h0"/>
<path stroke="#c79f5e" d="M59.8 373.9h0"/>
<path stroke="#a1b150" d="M232.7 340.5h0"/>
<path stroke="#c18e51" d="M175.8 379.9h0"/>
<path stroke="#bd8247" d="M169.9 382.9h0"/>
<path stroke="#c6c651" d="M234.4 350.1h0"/>
<path stroke="#6198c7" d="M217.5 326h0"/>
<path stroke="#d5cb5c" d="M197.5 357.6h0"/>
<path stroke="#b46830" d="M49.7 388.9h0"/>
<path stroke="#87a680" d="M209.6 334.9h0"/>
<path stroke="#95ac65" d="M95.2 338.4h0"/>
<path stroke="#cfb862" d="M125.7 366.4h0"/>
<path stroke="#c69c5b" d="M181.7 375.9h0"/>
<path stroke="#bc8146" d="M144.7 383.7h0"/>
<path stroke="#bb7d43" d="M164.1 384.6h0"/>
<path stroke="#a85627" d="M239.5 395.3h0"/>
<path stroke="#ba7b41" d="M237.8 385.2h0"/>
<path stroke="#84a585" d="M229 334.9h0"/>
<path stroke="#9baf5a" d="M207.6 340.2h0"/>
<path stroke="#6499c1" d="M221.4 327.7h0"/>
<path stroke="#c8a15f" d="M236.1 374.6h0"/>
<path stroke="#a7b343" d="M83.3 343.1h0"/>
<path stroke="#c49859" d="M57.4 377.8h0"/>
<path stroke="#6e9daf" d="M215.6 330.1h0"/>
<path stroke="#709dab" d="M225.3 330.6h0"/>
<path stroke="#97ad62" d="M89.2 339.6h0"/>
<path stroke="#d4c65f" d="M195.6 361.9h0"/>
<path stroke="#d4c75e" d="M121.8 361.2h0"/>
<path stroke="#d4c75e" d="M67.4 361.5h0"/>
<path stroke="#d2c260" d="M234.4 363.9h0"/>
<path stroke="#a85627" d="M41.4 396.2h0"/>
<path stroke="#afb844" d="M205.6 345.6h0"/>
<path stroke="#ccae63" d="M187.6 371h0"/>
<path stroke="#a7b343" d="M230.9 343.6h0"/>
<path stroke="#ccca54" d="M232.7 353.4h0"/>
<path stroke="#b1602b" d="M47.2 392.5h0"/>
<path stroke="#bd8247" d="M158.2 385.1h0"/>
<path stroke="#be8549" d="M148.5 384.5h0"/>
<path stroke="#c0c24d" d="M75.2 350.6h0"/>
<path stroke="#8faa70" d="M98.7 338.6h0"/>
<path stroke="#c1c34e" d="M203.6 350.9h0"/>
<path stroke="#7fa38f" d="M213.6 334.8h0"/>
<path stroke="#d4cf59" d="M117.9 356h0"/>
<path stroke="#709dac" d="M219.6 331.5h0"/>
<path stroke="#c18f52" d="M55 382h0"/>
<path stroke="#8ca976" d="M227.2 338.2h0"/>
<path stroke="#79a199" d="M223.5 334.2h0"/>
<path stroke="#ba793f" d="M236.1 387.9h0"/>
<path stroke="#d2c260" d="M193.6 365.5h0"/>
<path stroke="#a85627" d="M237.9 397.8h0"/>
<path stroke="#c69e5d" d="M234.4 377.6h0"/>
<path stroke="#91ab6c" d="M211.7 339.9h0"/>
<path stroke="#d3c460" d="M65 365h0"/>
<path stroke="#bec14c" d="M114 351h0"/>
<path stroke="#d0cc56" d="M201.6 355.7h0"/>
<path stroke="#d1be61" d="M232.6 367.3h0"/>
<path stroke="#afb844" d="M229.1 347.2h0"/>
<path stroke="#91ab6c" d="M102.4 340.1h0"/>
<path stroke="#d4cf59" d="M230.9 357h0"/>
<path stroke="#ac5b29" d="M44.7 396.2h0"/>
<path stroke="#7ea390" d="M217.6 335.9h0"/>
<path stroke="#c59959" d="M173.9 379.9h0"/>
<path stroke="#bd8247" d="M52.7 386.6h0"/>
<path stroke="#abb541" d="M110.1 346.5h0"/>
<path stroke="#c8a360" d="M179.8 376.8h0"/>
<path stroke="#9baf5a" d="M106.2 342.8h0"/>
<path stroke="#a5b248" d="M209.7 345h0"/>
<path stroke="#a85627" d="M38.7 398.7h0"/>
<path stroke="#a1b150" d="M80.8 344.3h0"/>
<path stroke="#c8a360" d="M134.8 377.1h0"/>
<path stroke="#ccad63" d="M131 373.6h0"/>
<path stroke="#86a681" d="M92.6 338.2h0"/>
<path stroke="#97ad62" d="M225.4 342.1h0"/>
<path stroke="#c39456" d="M168 382.1h0"/>
<path stroke="#86a681" d="M221.6 338.3h0"/>
<path stroke="#cdb063" d="M185.7 372.8h0"/>
<path stroke="#c18e51" d="M152.3 384.3h0"/>
<path stroke="#c1c34e" d="M72.7 353.1h0"/>
<path stroke="#d5ce5b" d="M199.7 360h0"/>
<path stroke="#d0bb61" d="M127.1 369.3h0"/>
<path stroke="#d0bc61" d="M62.6 369.1h0"/>
<path stroke="#c69c5b" d="M138.7 379.8h0"/>
<path stroke="#8faa70" d="M215.7 340.7h0"/>
<path stroke="#b5bc47" d="M207.7 350.1h0"/>
<path stroke="#b77138" d="M50.4 391.3h0"/>
<path stroke="#8ca976" d="M86.6 340.1h0"/>
<path stroke="#b9be49" d="M227.3 351.1h0"/>
<path stroke="#d5ce5b" d="M229.1 360.7h0"/>
<path stroke="#cfb962" d="M230.8 370.6h0"/>
<path stroke="#c59b5b" d="M232.6 380.6h0"/>
<path stroke="#d2c061" d="M191.7 368.3h0"/>
<path stroke="#d4c85e" d="M123.2 364.5h0"/>
<path stroke="#a85627" d="M42.2 400h0"/>
<path stroke="#b9773e" d="M234.4 390.5h0"/>
<path stroke="#c39456" d="M162.1 383.2h0"/>
<path stroke="#95ac65" d="M219.7 342.8h0"/>
<path stroke="#a4b249" d="M223.5 346.3h0"/>
<path stroke="#a85627" d="M236.2 400.2h0"/>
<path stroke="#a1b14f" d="M213.7 345.6h0"/>
<path stroke="#c59a5a" d="M142.5 381.6h0"/>
<path stroke="#cdb163" d="M60.3 373.7h0"/>
<path stroke="#b1602b" d="M48.1 396.3h0"/>
<path stroke="#c3c44f" d="M205.7 354.7h0"/>
<path stroke="#d4cf59" d="M119.3 359.4h0"/>
<path stroke="#7ea390" d="M96.2 338.1h0"/>
<path stroke="#c3c44f" d="M225.4 355h0"/>
<path stroke="#d5cb5d" d="M197.8 363.5h0"/>
<path stroke="#c7c651" d="M70.2 356.2h0"/>
<path stroke="#c9a461" d="M58 378.8h0"/>
<path stroke="#a5b248" d="M217.7 347.4h0"/>
<path stroke="#b0b944" d="M211.8 350.4h0"/>
<path stroke="#a85627" d="M45.8 401.3h0"/>
<path stroke="#d5ca5d" d="M227.2 364.3h0"/>
<path stroke="#b0b944" d="M221.6 350.6h0"/>
<path stroke="#9eb055" d="M78.2 346.1h0"/>
<path stroke="#bec14c" d="M115.4 354.4h0"/>
<path stroke="#c59959" d="M156.1 383.2h0"/>
<path stroke="#ceb562" d="M229.1 373.8h0"/>
<path stroke="#c39657" d="M55.8 384.4h0"/>
<path stroke="#cecb55" d="M203.8 358.9h0"/>
<path stroke="#c69c5b" d="M146.3 382.4h0"/>
<path stroke="#c59959" d="M230.9 383.5h0"/>
<path stroke="#7fa38f" d="M99.9 339.3h0"/>
<path stroke="#bd8247" d="M53.6 390.3h0"/>
<path stroke="#ccad63" d="M177.9 376.9h0"/>
<path stroke="#cfb662" d="M183.8 373.8h0"/>
<path stroke="#b9763d" d="M232.7 393.1h0"/>
<path stroke="#b2ba45" d="M215.8 352h0"/>
<path stroke="#79a199" d="M90 338.3h0"/>
<path stroke="#a9b440" d="M111.4 349.5h0"/>
<path stroke="#ccca55" d="M223.5 359h0"/>
<path stroke="#b46830" d="M51.5 396.4h0"/>
<path stroke="#bdc04c" d="M209.8 354.9h0"/>
<path stroke="#84a585" d="M84 341h0"/>
<path stroke="#a85627" d="M49.3 402.7h0"/>
<path stroke="#d2c260" d="M189.8 370.2h0"/>
<path stroke="#caa764" d="M171.9 379.2h0"/>
<path stroke="#a85627" d="M234.5 402.7h0"/>
<path stroke="#d0cc56" d="M67.9 360.1h0"/>
<path stroke="#bcc04b" d="M219.7 354.9h0"/>
<path stroke="#87a680" d="M103.7 341.8h0"/>
<path stroke="#95ac65" d="M107.5 345.2h0"/>
<path stroke="#d4ca5d" d="M195.9 366.2h0"/>
<path stroke="#d4c75e" d="M225.4 367.8h0"/>
<path stroke="#c9a562" d="M166 380.8h0"/>
<path stroke="#d5cf59" d="M201.9 362.3h0"/>
<path stroke="#bec14c" d="M213.8 356.2h0"/>
<path stroke="#d2c160" d="M128.6 371.7h0"/>
<path stroke="#cfb662" d="M132.5 375.2h0"/>
<path stroke="#a0b051" d="M75.7 348.5h0"/>
<path stroke="#d5cd5b" d="M65.5 364.7h0"/>
<path stroke="#cdb263" d="M227.3 376.9h0"/>
<path stroke="#c7c751" d="M207.9 358.9h0"/>
<path stroke="#a85627" d="M52.9 404.1h0"/>
<path stroke="#d5cf59" d="M221.7 362.8h0"/>
<path stroke="#d4c95d" d="M124.7 367.5h0"/>
<path stroke="#c8a360" d="M150.1 382.3h0"/>
<path stroke="#c6c651" d="M217.8 358.9h0"/>
<path stroke="#cdb063" d="M136.4 377.9h0"/>
<path stroke="#c49858" d="M229.2 386.2h0"/>
<path stroke="#b66f37" d="M54.9 396.7h0"/>
<path stroke="#d3c65f" d="M63.3 370h0"/>
<path stroke="#709dac" d="M93.6 338h0"/>
<path stroke="#d3ce58" d="M120.8 362.8h0"/>
<path stroke="#c18f52" d="M56.9 389.5h0"/>
<path stroke="#b9763d" d="M231 395.6h0"/>
<path stroke="#caa764" d="M160 381.4h0"/>
<path stroke="#cfb762" d="M61.1 376h0"/>
<path stroke="#c9a461" d="M59 382.5h0"/>
<path stroke="#d3c55f" d="M223.6 371.1h0"/>
<path stroke="#a85627" d="M232.9 405.3h0"/>
<path stroke="#c7c651" d="M211.9 360.1h0"/>
<path stroke="#a85627" d="M56.5 405.4h0"/>
<path stroke="#ccae63" d="M140.2 379.6h0"/>
<path stroke="#80a48c" d="M81.4 342.6h0"/>
<path stroke="#bec14c" d="M116.8 357.9h0"/>
<path stroke="#a7b345" d="M73.3 351.8h0"/>
<path stroke="#709dab" d="M87.4 339h0"/>
<path stroke="#cdca55" d="M206 362.3h0"/>
<path stroke="#d5ce5b" d="M219.8 366.2h0"/>
<path stroke="#d5cb5d" d="M194 368.1h0"/>
<path stroke="#d4c65f" d="M188 371.2h0"/>
<path stroke="#d6d05a" d="M200 365.1h0"/>
<path stroke="#cecb55" d="M215.9 362.5h0"/>
<path stroke="#ccb063" d="M225.5 379.7h0"/>
<path stroke="#d2c160" d="M182 373.9h0"/>
<path stroke="#6e9daf" d="M97.2 338.9h0"/>
<path stroke="#a9b440" d="M112.8 353h0"/>
<path stroke="#b9763d" d="M58.4 397.1h0"/>
<path stroke="#d0bb61" d="M176 376.2h0"/>
<path stroke="#a85627" d="M60.1 406.8h0"/>
<path stroke="#c49758" d="M227.4 388.7h0"/>
<path stroke="#ccad63" d="M154 381.3h0"/>
<path stroke="#93ab69" d="M108.9 348.4h0"/>
<path stroke="#749fa3" d="M101.1 341.1h0"/>
<path stroke="#cdb063" d="M144.1 380.5h0"/>
<path stroke="#b2b945" d="M70.9 356h0"/>
<path stroke="#81a48b" d="M104.9 344.3h0"/>
<path stroke="#ccca54" d="M210 363.4h0"/>
<path stroke="#c49859" d="M60.3 388.9h0"/>
<path stroke="#d3c460" d="M221.8 374h0"/>
<path stroke="#cfb862" d="M170 378h0"/>
<path stroke="#b9763d" d="M229.3 398.1h0"/>
<path stroke="#a85627" d="M231.2 407.8h0"/>
<path stroke="#82a58a" d="M78.9 345.1h0"/>
<path stroke="#d2ce58" d="M214.1 365.7h0"/>
<path stroke="#d5cc5c" d="M218 369.3h0"/>
<path stroke="#c1c34e" d="M68.6 361.1h0"/>
<path stroke="#cdb163" d="M62.2 381h0"/>
<path stroke="#a85627" d="M63.7 408.2h0"/>
<path stroke="#cfcc56" d="M204.1 365h0"/>
<path stroke="#6499c1" d="M90.9 338.4h0"/>
<path stroke="#bb7c42" d="M61.9 397.7h0"/>
<path stroke="#d3c65f" d="M64.3 373.7h0"/>
<path stroke="#d5d05a" d="M66.4 367h0"/>
<path stroke="#d5cb5c" d="M126.2 370.2h0"/>
<path stroke="#cfb862" d="M164 379.1h0"/>
<path stroke="#ccaf63" d="M223.8 382.3h0"/>
<path stroke="#d4c65f" d="M130.1 373.7h0"/>
<path stroke="#d5cf59" d="M198.1 367h0"/>
<path stroke="#6b9cb4" d="M84.8 340.4h0"/>
<path stroke="#d1cd57" d="M122.3 366.2h0"/>
<path stroke="#d2c260" d="M134 376.3h0"/>
<path stroke="#d5ce5b" d="M192.1 369.2h0"/>
<path stroke="#cfb662" d="M147.9 380.4h0"/>
<path stroke="#bfc24d" d="M118.3 361.6h0"/>
<path stroke="#c49858" d="M225.7 391.1h0"/>
<path stroke="#a85627" d="M67.4 409.6h0"/>
<path stroke="#cecb55" d="M208.2 366h0"/>
<path stroke="#c79f5e" d="M63.7 388.7h0"/>
<path stroke="#89a77c" d="M76.5 348.4h0"/>
<path stroke="#d5cb5c" d="M186.1 371.4h0"/>
<path stroke="#d3c360" d="M220 376.6h0"/>
<path stroke="#6198c7" d="M94.6 339h0"/>
<path stroke="#abb541" d="M114.3 356.9h0"/>
<path stroke="#bc8046" d="M65.5 398.4h0"/>
<path stroke="#b9773e" d="M227.6 400.4h0"/>
<path stroke="#d0bb61" d="M157.9 379.6h0"/>
<path stroke="#a85627" d="M229.4 410.4h0"/>
<path stroke="#d2c061" d="M137.9 378.1h0"/>
<path stroke="#d4cf59" d="M212.2 368.4h0"/>
<path stroke="#d4c95d" d="M180.1 373.4h0"/>
<path stroke="#d5cb5c" d="M216.2 371.9h0"/>
<path stroke="#95ac65" d="M110.3 352.2h0"/>
<path stroke="#6699bf" d="M98.5 340.9h0"/>
<path stroke="#d0bc61" d="M65.6 380h0"/>
<path stroke="#a85627" d="M71.1 411h0"/>
<path stroke="#cdca55" d="M202.3 366.9h0"/>
<path stroke="#97ad63" d="M74.1 352.8h0"/>
<path stroke="#81a48b" d="M106.3 347.7h0"/>
<path stroke="#ccb063" d="M222 384.6h0"/>
<path stroke="#719eaa" d="M102.4 343.9h0"/>
<path stroke="#6c9cb3" d="M82.3 342.8h0"/>
<path stroke="#d4c85e" d="M174 375.1h0"/>
<path stroke="#5e96cd" d="M88.4 339.6h0"/>
<path stroke="#d5cd5b" d="M67.6 372h0"/>
<path stroke="#bd8348" d="M69.1 399.3h0"/>
<path stroke="#c9a562" d="M67.2 388.8h0"/>
<path stroke="#aab541" d="M71.8 358.3h0"/>
<path stroke="#d2c260" d="M141.8 378.9h0"/>
<path stroke="#d2c160" d="M151.8 379.5h0"/>
<path stroke="#c1c34e" d="M69.7 364.7h0"/>
<path stroke="#cecb55" d="M196.3 368.2h0"/>
<path stroke="#c59959" d="M224 393.3h0"/>
<path stroke="#a85627" d="M74.8 412.4h0"/>
<path stroke="#d4c75e" d="M168 376.4h0"/>
<path stroke="#ccca54" d="M206.4 368.1h0"/>
<path stroke="#d3c460" d="M218.2 378.9h0"/>
<path stroke="#ba793f" d="M225.9 402.8h0"/>
<path stroke="#a85627" d="M227.7 413h0"/>
<path stroke="#d0cc56" d="M123.8 369.5h0"/>
<path stroke="#d0cc56" d="M190.3 369.6h0"/>
<path stroke="#c1c34e" d="M119.8 365.6h0"/>
<path stroke="#d5ce5b" d="M127.7 372.8h0"/>
<path stroke="#5995d5" d="M92.1 340h0"/>
<path stroke="#d2ce58" d="M210.4 370.5h0"/>
<path stroke="#d5cc5c" d="M214.4 374.1h0"/>
<path stroke="#739fa5" d="M79.8 346.2h0"/>
<path stroke="#be854a" d="M72.8 400.5h0"/>
<path stroke="#d3c460" d="M69.1 379.5h0"/>
<path stroke="#afb844" d="M115.8 361.2h0"/>
<path stroke="#d4c85e" d="M161.9 377.3h0"/>
<path stroke="#a85627" d="M78.5 413.8h0"/>
<path stroke="#caa964" d="M70.8 389.3h0"/>
<path stroke="#d5cb5d" d="M131.6 375.4h0"/>
<path stroke="#5e96cd" d="M85.8 341.8h0"/>
<path stroke="#d1cd57" d="M184.2 371h0"/>
<path stroke="#cdb263" d="M220.3 386.6h0"/>
<path stroke="#9baf5a" d="M111.8 356.6h0"/>
<path stroke="#c7c751" d="M200.4 368.2h0"/>
<path stroke="#d4c65f" d="M145.7 378.9h0"/>
<path stroke="#5c96d0" d="M95.9 341.7h0"/>
<path stroke="#81a48b" d="M77.5 350.7h0"/>
<path stroke="#d0cc56" d="M71 370.9h0"/>
<path stroke="#87a680" d="M107.8 352.1h0"/>
<path stroke="#be864a" d="M76.5 401.8h0"/>
<path stroke="#6699bf" d="M99.8 344.4h0"/>
<path stroke="#749fa3" d="M103.7 348h0"/>
<path stroke="#d4ca5d" d="M135.6 377.2h0"/>
<path stroke="#a85627" d="M82.2 415.3h0"/>
<path stroke="#d3ce58" d="M178.1 372.4h0"/>
<path stroke="#b2b945" d="M73.1 363.2h0"/>
<path stroke="#97ad63" d="M75.2 356.4h0"/>
<path stroke="#c59b5b" d="M222.2 395.4h0"/>
<path stroke="#d4c95d" d="M155.8 377.8h0"/>
<path stroke="#d3c55f" d="M216.5 380.7h0"/>
<path stroke="#a85627" d="M225.9 415.6h0"/>
<path stroke="#cbab64" d="M74.5 390.1h0"/>
<path stroke="#d4c75e" d="M72.7 379.6h0"/>
<path stroke="#ba7b41" d="M224.1 405.1h0"/>
<path stroke="#c7c651" d="M204.5 369.5h0"/>
<path stroke="#c3c44f" d="M194.4 368.7h0"/>
<path stroke="#5894d8" d="M89.5 342h0"/>
<path stroke="#6599c0" d="M83.4 345.1h0"/>
<path stroke="#be854a" d="M80.2 403.2h0"/>
<path stroke="#d4cf59" d="M172 373.6h0"/>
<path stroke="#d5ce5b" d="M212.6 375.8h0"/>
<path stroke="#cecb55" d="M208.6 372h0"/>
<path stroke="#a85627" d="M86 416.7h0"/>
<path stroke="#d5cb5d" d="M139.5 378.1h0"/>
<path stroke="#c7c651" d="M74.6 370.6h0"/>
<path stroke="#c3c44f" d="M121.3 369.7h0"/>
<path stroke="#d5cb5c" d="M149.6 378.1h0"/>
<path stroke="#b5bc47" d="M117.3 365.9h0"/>
<path stroke="#cbac63" d="M78.2 391.3h0"/>
<path stroke="#ceb562" d="M218.5 388.4h0"/>
<path stroke="#cecb55" d="M125.3 372.9h0"/>
<path stroke="#5995d5" d="M93.3 343.5h0"/>
<path stroke="#739fa5" d="M81 349.7h0"/>
<path stroke="#c1c34e" d="M188.4 369.3h0"/>
<path stroke="#a5b248" d="M113.3 361.7h0"/>
<path stroke="#bd8449" d="M84 404.8h0"/>
<path stroke="#d4cf59" d="M165.9 374.7h0"/>
<path stroke="#d4c95e" d="M76.3 380.2h0"/>
<path stroke="#91ab6c" d="M109.3 357.4h0"/>
<path stroke="#a7b345" d="M76.6 362.5h0"/>
<path stroke="#89a77c" d="M78.8 355.5h0"/>
<path stroke="#bdc04c" d="M198.6 368.9h0"/>
<path stroke="#d5cf59" d="M129.3 375.4h0"/>
<path stroke="#6198c7" d="M97.2 345.9h0"/>
<path stroke="#a85627" d="M89.8 418.2h0"/>
<path stroke="#5e96cd" d="M87.1 345.3h0"/>
<path stroke="#7fa38f" d="M105.2 353.2h0"/>
<path stroke="#a85627" d="M224.1 418.3h0"/>
<path stroke="#6e9daf" d="M101.2 349.3h0"/>
<path stroke="#c69e5d" d="M220.5 397.3h0"/>
<path stroke="#cbac63" d="M82 392.8h0"/>
<path stroke="#bb7d43" d="M222.4 407.3h0"/>
<path stroke="#bfc24d" d="M182.3 370.1h0"/>
<path stroke="#d4c75e" d="M214.7 382.2h0"/>
<path stroke="#bd8247" d="M87.8 406.5h0"/>
<path stroke="#d3ce58" d="M159.8 375.7h0"/>
<path stroke="#d5ce5b" d="M143.4 378.1h0"/>
<path stroke="#c1c34e" d="M78.3 371h0"/>
<path stroke="#d4c95d" d="M80.1 381.3h0"/>
<path stroke="#d6d05a" d="M133.2 377.2h0"/>
<path stroke="#bec14c" d="M202.7 370.3h0"/>
<path stroke="#6c9cb3" d="M84.7 349.8h0"/>
<path stroke="#a85627" d="M93.6 419.6h0"/>
<path stroke="#5e96cd" d="M90.9 346.5h0"/>
<path stroke="#d5cf59" d="M210.8 377.1h0"/>
<path stroke="#cbaa64" d="M85.8 394.5h0"/>
<path stroke="#a0b051" d="M80.3 362.7h0"/>
<path stroke="#c6c651" d="M206.8 373h0"/>
<path stroke="#82a58a" d="M82.4 355.6h0"/>
<path stroke="#bc8045" d="M91.7 408.2h0"/>
<path stroke="#b5bc47" d="M192.6 368.6h0"/>
<path stroke="#bec14c" d="M176.2 371h0"/>
<path stroke="#d1cd57" d="M153.6 376.6h0"/>
<path stroke="#b0b944" d="M114.9 367.4h0"/>
<path stroke="#bdc04c" d="M118.9 371h0"/>
<path stroke="#6499c1" d="M94.8 348.8h0"/>
<path stroke="#a1b14f" d="M110.9 363.5h0"/>
<path stroke="#d4c95e" d="M83.9 382.8h0"/>
<path stroke="#cfb962" d="M216.8 390h0"/>
<path stroke="#c0c24d" d="M82 372h0"/>
<path stroke="#8faa70" d="M106.8 359.4h0"/>
<path stroke="#c7c751" d="M122.9 374.1h0"/>
<path stroke="#709dac" d="M98.7 351.8h0"/>
<path stroke="#7ea390" d="M102.8 355.4h0"/>
<path stroke="#caa864" d="M89.7 396.5h0"/>
<path stroke="#d5cf59" d="M137.1 378.1h0"/>
<path stroke="#a85627" d="M222.3 421h0"/>
<path stroke="#a85627" d="M97.4 421.1h0"/>
<path stroke="#6b9cb4" d="M88.5 350.9h0"/>
<path stroke="#bb7d43" d="M95.5 410h0"/>
<path stroke="#c8a15f" d="M218.7 399.2h0"/>
<path stroke="#bec14c" d="M170 372.1h0"/>
<path stroke="#bc8045" d="M220.6 409.6h0"/>
<path stroke="#9eb055" d="M84.1 363.8h0"/>
<path stroke="#cdca55" d="M126.9 376.5h0"/>
<path stroke="#d4c85e" d="M87.8 384.8h0"/>
<path stroke="#80a48c" d="M86.2 356.7h0"/>
<path stroke="#d0cc56" d="M147.4 377.4h0"/>
<path stroke="#c9a461" d="M93.6 398.5h0"/>
<path stroke="#c2c34e" d="M85.8 373.7h0"/>
<path stroke="#afb844" d="M186.5 368.6h0"/>
<path stroke="#709dab" d="M92.4 353h0"/>
<path stroke="#b0b944" d="M196.8 369h0"/>
<path stroke="#d5ca5d" d="M212.9 383.5h0"/>
<path stroke="#a85627" d="M101.3 422.5h0"/>
<path stroke="#d3c65f" d="M91.7 387h0"/>
<path stroke="#ba7b41" d="M99.4 411.8h0"/>
<path stroke="#79a199" d="M96.4 355.7h0"/>
<path stroke="#bec14c" d="M163.8 373.3h0"/>
<path stroke="#a1b150" d="M87.9 365.5h0"/>
<path stroke="#a5b248" d="M108.4 366.5h0"/>
<path stroke="#84a585" d="M90.1 358.5h0"/>
<path stroke="#cfcc56" d="M130.8 378.2h0"/>
<path stroke="#86a681" d="M100.4 359.1h0"/>
<path stroke="#b2ba45" d="M112.5 370.2h0"/>
<path stroke="#95ac65" d="M104.4 362.8h0"/>
<path stroke="#c6c651" d="M89.7 375.8h0"/>
<path stroke="#c8a15f" d="M97.5 400.7h0"/>
<path stroke="#bec14c" d="M116.5 373.6h0"/>
<path stroke="#cecb55" d="M141.1 378.2h0"/>
<path stroke="#b2ba45" d="M200.9 370.7h0"/>
<path stroke="#d2c260" d="M95.6 389.3h0"/>
<path stroke="#ccca55" d="M209 378h0"/>
<path stroke="#8ca976" d="M94 361.1h0"/>
<path stroke="#c7c651" d="M120.5 376.5h0"/>
<path stroke="#a7b343" d="M91.8 367.8h0"/>
<path stroke="#a85627" d="M220.5 423.7h0"/>
<path stroke="#abb541" d="M180.4 369h0"/>
<path stroke="#ccca54" d="M93.7 378.3h0"/>
<path stroke="#bcc04b" d="M205 373.7h0"/>
<path stroke="#bfc24d" d="M157.6 374.6h0"/>
<path stroke="#ba793f" d="M103.3 413.6h0"/>
<path stroke="#97ad62" d="M98 364.2h0"/>
<path stroke="#d1be61" d="M215 391.6h0"/>
<path stroke="#a85627" d="M105.1 424h0"/>
<path stroke="#c69e5d" d="M101.4 402.8h0"/>
<path stroke="#a4b249" d="M102.1 367.5h0"/>
<path stroke="#d1be61" d="M99.5 391.8h0"/>
<path stroke="#afb844" d="M95.8 370.6h0"/>
<path stroke="#b0b944" d="M106.1 371h0"/>
<path stroke="#d4cf59" d="M97.7 381h0"/>
<path stroke="#ccca54" d="M124.5 378.8h0"/>
<path stroke="#bd8247" d="M218.8 412h0"/>
<path stroke="#bcc04b" d="M110.1 374.4h0"/>
<path stroke="#cdca55" d="M134.8 379.2h0"/>
<path stroke="#a5b248" d="M190.7 368.1h0"/>
<path stroke="#c9a461" d="M216.9 401.1h0"/>
<path stroke="#b9be49" d="M99.8 373.6h0"/>
<path stroke="#c1c34e" d="M151.4 376h0"/>
<path stroke="#c6c651" d="M114.2 377.5h0"/>
<path stroke="#d5ce5b" d="M101.6 383.8h0"/>
<path stroke="#c3c44f" d="M103.8 376.8h0"/>
<path stroke="#cfb962" d="M103.5 394.2h0"/>
<path stroke="#c59b5b" d="M105.4 404.8h0"/>
<path stroke="#b9773e" d="M107.2 415.2h0"/>
<path stroke="#a9b440" d="M174.2 369.7h0"/>
<path stroke="#ccca55" d="M107.9 379.8h0"/>
<path stroke="#a85627" d="M109.1 425.5h0"/>
<path stroke="#cecb55" d="M118.2 380.2h0"/>
<path stroke="#d5ca5d" d="M105.6 386.5h0"/>
<path stroke="#cecb55" d="M128.5 380.5h0"/>
<path stroke="#c3c44f" d="M145.1 377.6h0"/>
<path stroke="#d5ce5b" d="M211.1 384.7h0"/>
<path stroke="#ceb562" d="M107.5 396.6h0"/>
<path stroke="#d5cf59" d="M111.9 382.7h0"/>
<path stroke="#c59959" d="M109.3 406.7h0"/>
<path stroke="#d4c75e" d="M109.6 389.1h0"/>
<path stroke="#a85627" d="M218.7 426.5h0"/>
<path stroke="#d2ce58" d="M122.2 382.5h0"/>
<path stroke="#a9b440" d="M168 370.9h0"/>
<path stroke="#a1b14f" d="M194.9 368.8h0"/>
<path stroke="#b9763d" d="M111.1 416.9h0"/>
<path stroke="#d5ce5b" d="M115.9 385.3h0"/>
<path stroke="#c7c751" d="M138.8 379.4h0"/>
<path stroke="#9baf5a" d="M184.6 367.7h0"/>
<path stroke="#a85627" d="M113 427h0"/>
<path stroke="#cdb263" d="M111.4 398.7h0"/>
<path stroke="#d3c55f" d="M113.6 391.5h0"/>
<path stroke="#c3c44f" d="M207.2 378.8h0"/>
<path stroke="#d2c260" d="M213.2 393.1h0"/>
<path stroke="#ccca54" d="M132.5 381.6h0"/>
<path stroke="#bd8449" d="M216.9 414.4h0"/>
<path stroke="#abb541" d="M161.7 372.4h0"/>
<path stroke="#c49858" d="M113.3 408.5h0"/>
<path stroke="#a5b248" d="M199.1 370.8h0"/>
<path stroke="#d5cc5c" d="M119.9 387.4h0"/>
<path stroke="#d4cf59" d="M126.2 384.1h0"/>
<path stroke="#caa864" d="M215.1 403.1h0"/>
<path stroke="#b0b944" d="M203.2 374.1h0"/>
<path stroke="#b9763d" d="M115.1 418.4h0"/>
<path stroke="#ccb063" d="M115.4 400.6h0"/>
<path stroke="#d3c460" d="M117.6 393.5h0"/>
<path stroke="#afb844" d="M155.4 374.3h0"/>
<path stroke="#a85627" d="M116.9 428.5h0"/>
<path stroke="#95ac65" d="M178.4 367.9h0"/>
<path stroke="#b5bc47" d="M149.1 376.5h0"/>
<path stroke="#c49758" d="M117.2 410h0"/>
<path stroke="#d5cb5c" d="M123.9 389h0"/>
<path stroke="#a85627" d="M216.8 429.3h0"/>
<path stroke="#91ab6c" d="M188.8 367.5h0"/>
<path stroke="#bdc04c" d="M142.8 379h0"/>
<path stroke="#d2ce58" d="M130.1 385.2h0"/>
<path stroke="#c7c651" d="M136.5 381.9h0"/>
<path stroke="#ccaf63" d="M119.4 402.2h0"/>
<path stroke="#b9763d" d="M119.1 419.8h0"/>
<path stroke="#d4cf59" d="M209.3 385.8h0"/>
<path stroke="#d3c360" d="M121.6 395.1h0"/>
<path stroke="#a85627" d="M120.9 430h0"/>
<path stroke="#93ab69" d="M172.1 368.7h0"/>
<path stroke="#be854a" d="M215.1 416.9h0"/>
<path stroke="#c49858" d="M121.2 411.4h0"/>
<path stroke="#d5cc5c" d="M127.9 390.2h0"/>
<path stroke="#d3c65f" d="M211.4 394.6h0"/>
<path stroke="#cbaa64" d="M213.3 405.2h0"/>
<path stroke="#8faa70" d="M193.1 368.5h0"/>
<path stroke="#b9be49" d="M205.4 379.5h0"/>
<path stroke="#ccb063" d="M123.4 403.4h0"/>
<path stroke="#b9773e" d="M123 421.2h0"/>
<path stroke="#95ac65" d="M165.8 370.2h0"/>
<path stroke="#d3c460" d="M125.6 396.3h0"/>
<path stroke="#a85627" d="M124.9 431.6h0"/>
<path stroke="#cecb55" d="M134.1 385.7h0"/>
<path stroke="#87a680" d="M182.6 366.9h0"/>
<path stroke="#95ac65" d="M197.2 370.8h0"/>
<path stroke="#9baf5a" d="M159.5 372.3h0"/>
<path stroke="#a4b249" d="M201.4 374.5h0"/>
<path stroke="#a85627" d="M214.9 432.1h0"/>
<path stroke="#bec14c" d="M140.5 381.7h0"/>
<path stroke="#a5b248" d="M153.2 374.9h0"/>
<path stroke="#b0b944" d="M146.8 378.1h0"/>
<path stroke="#c59959" d="M125.2 412.5h0"/>
<path stroke="#d5ce5b" d="M131.9 390.8h0"/>
<path stroke="#ba793f" d="M127 422.4h0"/>
<path stroke="#a85627" d="M128.9 433.1h0"/>
<path stroke="#cdb263" d="M127.4 404.4h0"/>
<path stroke="#be864a" d="M213.2 419.6h0"/>
<path stroke="#d3c55f" d="M129.6 397.1h0"/>
<path stroke="#ccca54" d="M207.5 387h0"/>
<path stroke="#81a48b" d="M176.4 367.1h0"/>
<path stroke="#c6c651" d="M138.2 385.7h0"/>
<path stroke="#7fa38f" d="M186.9 366.9h0"/>
<path stroke="#cbac63" d="M211.4 407.5h0"/>
<path stroke="#c59b5b" d="M129.2 413.5h0"/>
<path stroke="#d4c85e" d="M209.5 396.4h0"/>
<path stroke="#a85627" d="M133 434.7h0"/>
<path stroke="#ba7b41" d="M131.1 423.7h0"/>
<path stroke="#81a48b" d="M170 368.3h0"/>
<path stroke="#a85627" d="M213 435h0"/>
<path stroke="#b2ba45" d="M144.5 381h0"/>
<path stroke="#ceb562" d="M131.4 405.2h0"/>
<path stroke="#d5cf59" d="M135.9 391.1h0"/>
<path stroke="#afb844" d="M203.5 380.3h0"/>
<path stroke="#d4c75e" d="M133.6 397.6h0"/>
<path stroke="#a1b14f" d="M150.9 376.8h0"/>
<path stroke="#87a680" d="M163.7 370.3h0"/>
<path stroke="#7ea390" d="M191.1 368.2h0"/>
<path stroke="#91ab6c" d="M157.3 373.2h0"/>
<path stroke="#be854a" d="M211.2 422.5h0"/>
<path stroke="#a85627" d="M137.1 436.2h0"/>
<path stroke="#c69e5d" d="M133.3 414.4h0"/>
<path stroke="#97ad62" d="M199.5 374.9h0"/>
<path stroke="#86a681" d="M195.3 370.9h0"/>
<path stroke="#749fa3" d="M180.6 366.4h0"/>
<path stroke="#bb7d43" d="M135.1 424.8h0"/>
<path stroke="#bcc04b" d="M142.2 385.3h0"/>
<path stroke="#c6c651" d="M205.6 388.4h0"/>
<path stroke="#cbac63" d="M209.4 410.1h0"/>
<path stroke="#cfb962" d="M135.5 405.7h0"/>
<path stroke="#d4c95e" d="M207.6 398.5h0"/>
<path stroke="#ccca55" d="M139.9 391h0"/>
<path stroke="#a85627" d="M141.2 437.8h0"/>
<path stroke="#a85627" d="M211.1 437.9h0"/>
<path stroke="#d5ca5d" d="M137.7 397.8h0"/>
<path stroke="#a5b248" d="M148.6 380h0"/>
<path stroke="#719eaa" d="M174.3 366.9h0"/>
<path stroke="#c8a15f" d="M137.3 415.2h0"/>
<path stroke="#bc8045" d="M139.2 426h0"/>
<path stroke="#6e9daf" d="M184.9 366.7h0"/>
<path stroke="#bd8348" d="M209.3 425.6h0"/>
<path stroke="#8faa70" d="M155 375.4h0"/>
<path stroke="#a7b343" d="M201.6 381.5h0"/>
<path stroke="#749fa3" d="M167.9 368.7h0"/>
<path stroke="#a85627" d="M145.3 439.4h0"/>
<path stroke="#7fa38f" d="M161.5 371.5h0"/>
<path stroke="#d1be61" d="M139.5 406.1h0"/>
<path stroke="#b0b944" d="M146.3 384.7h0"/>
<path stroke="#cbab64" d="M207.5 413h0"/>
<path stroke="#709dac" d="M189.2 368.3h0"/>
<path stroke="#bd8247" d="M143.4 427.2h0"/>
<path stroke="#8ca976" d="M197.6 375.7h0"/>
<path stroke="#c9a461" d="M141.4 416h0"/>
<path stroke="#d5ce5b" d="M141.8 397.9h0"/>
<path stroke="#c3c44f" d="M144 390.6h0"/>
<path stroke="#c2c34e" d="M203.7 390.3h0"/>
<path stroke="#d4c95d" d="M205.6 401h0"/>
<path stroke="#79a199" d="M193.4 371.3h0"/>
<path stroke="#a85627" d="M209.1 440.8h0"/>
<path stroke="#6699bf" d="M178.6 366.5h0"/>
<path stroke="#a85627" d="M149.5 441h0"/>
<path stroke="#95ac65" d="M152.7 378.9h0"/>
<path stroke="#bc8046" d="M207.3 428.9h0"/>
<path stroke="#d2c260" d="M143.7 406.5h0"/>
<path stroke="#bd8449" d="M147.5 428.5h0"/>
<path stroke="#6699bf" d="M172.2 367.6h0"/>
<path stroke="#7ea390" d="M159.2 374h0"/>
<path stroke="#caa864" d="M145.6 416.9h0"/>
<path stroke="#caa964" d="M205.5 416.4h0"/>
<path stroke="#a85627" d="M153.6 442.5h0"/>
<path stroke="#a1b150" d="M199.7 383h0"/>
<path stroke="#a4b249" d="M150.5 383.9h0"/>
<path stroke="#6e9daf" d="M165.7 370.2h0"/>
<path stroke="#d4cf59" d="M145.9 397.9h0"/>
<path stroke="#6198c7" d="M182.9 367.1h0"/>
<path stroke="#b9be49" d="M148.2 390.2h0"/>
<path stroke="#d4c95e" d="M203.6 404h0"/>
<path stroke="#c0c24d" d="M201.7 392.6h0"/>
<path stroke="#be854a" d="M151.7 429.9h0"/>
<path stroke="#a85627" d="M207.2 443.8h0"/>
<path stroke="#bb7c42" d="M205.3 432.4h0"/>
<path stroke="#84a585" d="M195.6 377h0"/>
<path stroke="#a85627" d="M157.8 444.2h0"/>
<path stroke="#d3c65f" d="M147.8 407h0"/>
<path stroke="#6499c1" d="M187.2 369h0"/>
<path stroke="#cbaa64" d="M149.7 417.8h0"/>
<path stroke="#86a681" d="M156.9 377.9h0"/>
<path stroke="#709dab" d="M191.4 372.3h0"/>
<path stroke="#c9a562" d="M203.4 420.1h0"/>
<path stroke="#5c96d0" d="M176.5 367.4h0"/>
<path stroke="#be864a" d="M155.9 431.4h0"/>
<path stroke="#ccca54" d="M150.1 397.9h0"/>
<path stroke="#709dac" d="M163.5 373h0"/>
<path stroke="#97ad62" d="M154.6 383.2h0"/>
<path stroke="#6198c7" d="M170 369.4h0"/>
<path stroke="#a85627" d="M162.1 445.8h0"/>
<path stroke="#d4c75e" d="M201.6 407.5h0"/>
<path stroke="#9eb055" d="M197.7 385.2h0"/>
<path stroke="#afb844" d="M152.4 390h0"/>
<path stroke="#cbac63" d="M154 419h0"/>
<path stroke="#b9763d" d="M203.2 436.2h0"/>
<path stroke="#c1c34e" d="M199.7 395.6h0"/>
<path stroke="#d4c85e" d="M152 407.6h0"/>
<path stroke="#a85627" d="M205.2 446.8h0"/>
<path stroke="#5995d5" d="M180.8 368.4h0"/>
<path stroke="#be854a" d="M160.1 433.1h0"/>
<path stroke="#c79f5e" d="M201.3 424.2h0"/>
<path stroke="#a85627" d="M166.3 447.4h0"/>
<path stroke="#80a48c" d="M193.6 379h0"/>
<path stroke="#79a199" d="M161.2 377.2h0"/>
<path stroke="#c6c651" d="M154.3 398.3h0"/>
<path stroke="#5e96cd" d="M185.1 370.5h0"/>
<path stroke="#cbac63" d="M158.2 420.4h0"/>
<path stroke="#d3c460" d="M199.4 411.6h0"/>
<path stroke="#6b9cb4" d="M189.3 374.1h0"/>
<path stroke="#5995d5" d="M174.3 369.5h0"/>
<path stroke="#bd8348" d="M164.4 434.9h0"/>
<path stroke="#6499c1" d="M167.7 372.5h0"/>
<path stroke="#d4c95e" d="M156.2 408.6h0"/>
<path stroke="#8ca976" d="M158.9 382.9h0"/>
<path stroke="#a7b343" d="M156.6 389.9h0"/>
<path stroke="#b66f37" d="M201.1 440.1h0"/>
<path stroke="#a0b051" d="M195.6 388.1h0"/>
<path stroke="#c7c651" d="M197.6 399.3h0"/>
<path stroke="#c49859" d="M199.2 428.7h0"/>
<path stroke="#a85627" d="M170.6 449h0"/>
<path stroke="#cbab64" d="M162.5 422.1h0"/>
<path stroke="#bc8046" d="M168.7 437h0"/>
<path stroke="#d0bc61" d="M197.3 416.3h0"/>
<path stroke="#a85627" d="M203.2 449.8h0"/>
<path stroke="#5894d8" d="M178.6 370.7h0"/>
<path stroke="#c2c34e" d="M158.5 398.9h0"/>
<path stroke="#709dab" d="M165.5 377h0"/>
<path stroke="#d4c95d" d="M160.5 409.9h0"/>
<path stroke="#82a58a" d="M191.4 381.8h0"/>
<path stroke="#c18f52" d="M197 433.6h0"/>
<path stroke="#a85627" d="M174.9 450.7h0"/>
<path stroke="#5e96cd" d="M172.1 372.9h0"/>
<path stroke="#d0cc56" d="M195.4 403.7h0"/>
<path stroke="#caa964" d="M166.7 424.2h0"/>
<path stroke="#bb7c42" d="M173 439.2h0"/>
<path stroke="#b46830" d="M199 444.3h0"/>
<path stroke="#5e96cd" d="M182.9 373.1h0"/>
<path stroke="#a1b150" d="M160.9 390.3h0"/>
<path stroke="#84a585" d="M163.2 383h0"/>
<path stroke="#a7b345" d="M193.5 391.9h0"/>
<path stroke="#6c9cb3" d="M187.2 376.8h0"/>
<path stroke="#cdb163" d="M195.1 421.6h0"/>
<path stroke="#d4c95e" d="M164.8 411.7h0"/>
<path stroke="#c9a562" d="M171 426.7h0"/>
<path stroke="#b9763d" d="M177.3 441.7h0"/>
<path stroke="#c0c24d" d="M162.8 400.1h0"/>
<path stroke="#bd8247" d="M194.8 438.8h0"/>
<path stroke="#d5cd5b" d="M193.2 408.9h0"/>
<path stroke="#c9a461" d="M192.8 427.3h0"/>
<path stroke="#a85627" d="M179.3 452.3h0"/>
<path stroke="#6b9cb4" d="M169.8 377.6h0"/>
<path stroke="#5e96cd" d="M176.4 374.3h0"/>
<path stroke="#c79f5e" d="M175.4 429.5h0"/>
<path stroke="#89a77c" d="M189.3 385.7h0"/>
<path stroke="#a85627" d="M201.1 452.9h0"/>
<path stroke="#b2b945" d="M191.3 396.7h0"/>
<path stroke="#d4c75e" d="M169.1 414h0"/>
<path stroke="#b66f37" d="M181.6 444.3h0"/>
<path stroke="#c39657" d="M190.6 433.6h0"/>
<path stroke="#9eb055" d="M165.2 391.4h0"/>
<path stroke="#d3c65f" d="M190.9 414.9h0"/>
<path stroke="#c49859" d="M179.7 432.8h0"/>
<path stroke="#b1602b" d="M196.8 448.5h0"/>
<path stroke="#80a48c" d="M167.5 383.8h0"/>
<path stroke="#6599c0" d="M180.7 376.8h0"/>
<path stroke="#b77138" d="M192.6 444.3h0"/>
<path stroke="#c18f52" d="M184 436.3h0"/>
<path stroke="#739fa5" d="M185 380.6h0"/>
<path stroke="#bd8247" d="M188.3 440.2h0"/>
<path stroke="#c1c34e" d="M167.1 401.9h0"/>
<path stroke="#cfb762" d="M188.6 421.5h0"/>
<path stroke="#c9a461" d="M186.3 428.7h0"/>
<path stroke="#d3c460" d="M173.4 416.8h0"/>
<path stroke="#b46830" d="M186 447h0"/>
<path stroke="#6c9cb3" d="M174.1 379.2h0"/>
<path stroke="#c1c34e" d="M189 402.3h0"/>
<path stroke="#cdb163" d="M182 424.2h0"/>
<path stroke="#d0bc61" d="M177.7 420.2h0"/>
<path stroke="#a85627" d="M183.7 454h0"/>
<path stroke="#97ad63" d="M187.1 390.6h0"/>
<path stroke="#a0b051" d="M169.5 393.1h0"/>
<path stroke="#c7c651" d="M171.5 404.4h0"/>
<path stroke="#d3c65f" d="M184.4 416.2h0"/>
<path stroke="#d5d05a" d="M186.7 408.8h0"/>
<path stroke="#b1602b" d="M190.3 449.9h0"/>
<path stroke="#82a58a" d="M171.8 385.5h0"/>
<path stroke="#739fa5" d="M178.5 381.8h0"/>
<path stroke="#81a48b" d="M182.8 385.6h0"/>
<path stroke="#d0cc56" d="M175.8 407.6h0"/>
<path stroke="#d5cd5b" d="M180.1 411.5h0"/>
<path stroke="#aab541" d="M184.8 396.6h0"/>
<path stroke="#ac5b29" d="M194.7 452.9h0"/>
<path stroke="#a7b345" d="M173.8 395.7h0"/>
<path stroke="#c1c34e" d="M182.5 403.6h0"/>
<path stroke="#89a77c" d="M176.2 388.2h0"/>
<path stroke="#a85627" d="M188.1 455.7h0"/>
<path stroke="#b2b945" d="M178.2 399.2h0"/>
<path stroke="#97ad63" d="M180.5 391.8h0"/>
<path stroke="#a85627" d="M199 456h0"/>
<path stroke="#a85627" d="M192.5 457.4h0"/>
<path stroke="#a85627" d="M196.9 459.1h0"/>
</g>
<g>
<path d="M196.4 468.3L199.8 409.7" stroke="#505050" stroke-width="0.5" fill="none"/>
<path d="M31.4 351.5L199.8 409.7" stroke="#505050" stroke-width="0.5" fill="none"/>
<path d="M199.8 409.7L270.9 312.4" stroke="#505050" stroke-width="0.5" fill="none"/>
<path d="M40.1 407.5L42.1 408.2" stroke="#505050" stroke-width="0.4" fill="none"/>
<path d="M39.4 403.1L41.4 403.8" stroke="#505050" stroke-width="0.4" fill="none"/>
<path d="M38 394.2L40 394.9" stroke="#505050" stroke-width="0.4" fill="none"/>
<path d="M37.3 389.6L39.3 390.4" stroke="#505050" stroke-width="0.4" fill="none"/>
<path d="M36.6 385L38.6 385.8" stroke="#505050" stroke-width="0.4" fill="none"/>
<path d="M35.1 375.7L37.2 376.4" stroke="#505050" stroke-width="0.4" fill="none"/>
<path d="M34.4 370.9L36.4 371.6" stroke="#505050" stroke-width="0.4" fill="none"/>
<path d="M33.6 366.1L35.7 366.8" stroke="#505050" stroke-width="0.4" fill="none"/>
<path d="M32.1 356.2L34.2 357" stroke="#505050" stroke-width="0.4" fill="none"/>
<path d="M38.7 398.7L42.5 400.1" stroke="#505050" stroke-width="0.4" fill="none"/>
<path d="M35.9 380.4L39.8 381.8" stroke="#505050" stroke-width="0.4" fill="none"/>
<path d="M32.9 361.2L36.8 362.6" stroke="#505050" stroke-width="0.4" fill="none"/>
</g>
<g>
<path d="M485 344.9L617.4 380.8" stroke="#505050" stroke-width="0.5" fill="none"/>
<path d="M485 344.9L395.2 420" stroke="#505050" stroke-width="0.5" fill="none"/>
<path d="M485 344.9L482.2 293.7" stroke="#505050" stroke-width="0.5" fill="none"/>
<path d="M395.2 420L547.3 475.8" stroke="#505050" stroke-width="0.5" fill="none"/>
<path d="M547.3 475.8L617.4 380.8" stroke="#505050" stroke-width="0.5" fill="none"/>
<path d="M395.2 420L385.6 362.1" stroke="#505050" stroke-width="0.5" fill="none"/>
<path d="M617.4 380.8L622.6 325.4" stroke="#505050" stroke-width="0.5" fill="none"/>
<path d="M385.6 362.1L482.2 293.7" stroke="#505050" stroke-width="0.5" fill="none"/>
<path d="M482.2 293.7L622.6 325.4" stroke="#505050" stroke-width="0.5" fill="none"/>
<path d="M408.6 424.9L410.1 423.6" stroke="#505050" stroke-width="0.4" fill="none"/>
<path d="M422.4 430L423.9 428.7" stroke="#505050" stroke-width="0.4" fill="none"/>
<path d="M436.5 435.2L438 433.8" stroke="#505050" stroke-width="0.4" fill="none"/>
<path d="M466 446L467.4 444.6" stroke="#505050" stroke-width="0.4" fill="none"/>
<path d="M481.3 451.6L482.7 450.2" stroke="#505050" stroke-width="0.4" fill="none"/>
<path d="M497.1 457.4L498.5 455.9" stroke="#505050" stroke-width="0.4" fill="none"/>
<path d="M530.1 469.5L531.3 467.9" stroke="#505050" stroke-width="0.4" fill="none"/>
<path d="M547.3 475.8L548.5 474.2" stroke="#505050" stroke-width="0.4" fill="none"/>
<path d="M395.2 420L398.1 417.6" stroke="#505050" stroke-width="0.4" fill="none"/>
<path d="M451.1 440.5L453.8 437.8" stroke="#505050" stroke-width="0.4" fill="none"/>
<path d="M513.4 463.4L515.9 460.4" stroke="#505050" stroke-width="0.4" fill="none"/>
</g>
<g stroke-linecap="round" stroke-width="2.25" fill="none">
<path stroke="#67503b" d="M485 344.9h0"/>
<path stroke="#67503b" d="M488 345.7h0"/>
<path stroke="#67503b" d="M483.2 346.5h0"/>
<path stroke="#67503b" d="M491 346.5h0"/>
<path stroke="#6a503a" d="M486.1 347h0"/>
<path stroke="#67503b" d="M494 347.4h0"/>
<path stroke="#67503b" d="M481.3 348h0"/>
<path stroke="#6d4f38" d="M489.1 347.5h0"/>
<path stroke="#67503b" d="M497 348.2h0"/>
<path stroke="#6d4f38" d="M484.3 348.3h0"/>
<path stroke="#67503b" d="M500 349h0"/>
<path stroke="#704f37" d="M492.1 348h0"/>
<path stroke="#67503b" d="M479.4 349.6h0"/>
<path stroke="#734f36" d="M487.2 348.5h0"/>
<path stroke="#67503b" d="M503.1 349.8h0"/>
<path stroke="#734f36" d="M495.1 348.6h0"/>
<path stroke="#704f37" d="M482.4 349.6h0"/>
<path stroke="#67503b" d="M477.5 351.2h0"/>
<path stroke="#67503b" d="M506.1 350.6h0"/>
<path stroke="#794e33" d="M490.2 348.7h0"/>
<path stroke="#764e35" d="M498.2 349.1h0"/>
<path stroke="#794e33" d="M485.3 349.5h0"/>
<path stroke="#67503b" d="M509.2 351.5h0"/>
<path stroke="#734f36" d="M480.4 350.9h0"/>
<path stroke="#7f4d31" d="M493.2 349h0"/>
<path stroke="#794e34" d="M501.2 349.7h0"/>
<path stroke="#67503b" d="M475.6 352.8h0"/>
<path stroke="#67503b" d="M512.3 352.3h0"/>
<path stroke="#824d30" d="M488.3 349.4h0"/>
<path stroke="#7b4e32" d="M504.3 350.2h0"/>
<path stroke="#854d2e" d="M496.3 349.2h0"/>
<path stroke="#7f4d31" d="M483.4 350.5h0"/>
<path stroke="#67503b" d="M515.4 353.2h0"/>
<path stroke="#764e35" d="M478.5 352.2h0"/>
<path stroke="#67503b" d="M473.7 354.4h0"/>
<path stroke="#8b4c2c" d="M491.3 349.4h0"/>
<path stroke="#7e4d31" d="M507.4 350.8h0"/>
<path stroke="#8b4c2c" d="M499.3 349.5h0"/>
<path stroke="#67503b" d="M518.6 354h0"/>
<path stroke="#8b4c2c" d="M486.4 350.2h0"/>
<path stroke="#854d2e" d="M481.5 351.5h0"/>
<path stroke="#804d30" d="M510.5 351.4h0"/>
<path stroke="#67503b" d="M471.7 356.1h0"/>
<path stroke="#794e34" d="M476.6 353.5h0"/>
<path stroke="#944b28" d="M494.3 349.4h0"/>
<path stroke="#67503b" d="M521.7 354.9h0"/>
<path stroke="#904c2a" d="M502.4 349.8h0"/>
<path stroke="#974b27" d="M489.4 349.8h0"/>
<path stroke="#834d2f" d="M513.6 352h0"/>
<path stroke="#67503b" d="M524.9 355.7h0"/>
<path stroke="#9c4a25" d="M497.4 349.4h0"/>
<path stroke="#954b28" d="M505.5 350.1h0"/>
<path stroke="#944b28" d="M484.4 350.9h0"/>
<path stroke="#67503b" d="M469.7 357.7h0"/>
<path stroke="#8b4c2c" d="M479.5 352.6h0"/>
<path stroke="#7b4e32" d="M474.6 354.9h0"/>
<path stroke="#854d2f" d="M516.7 352.7h0"/>
<path stroke="#67503b" d="M528 356.6h0"/>
<path stroke="#a04c25" d="M492.4 349.5h0"/>
<path stroke="#9a4a26" d="M508.6 350.5h0"/>
<path stroke="#a04d25" d="M500.5 349.4h0"/>
<path stroke="#a04c25" d="M487.4 350.3h0"/>
<path stroke="#874d2e" d="M519.9 353.3h0"/>
<path stroke="#67503b" d="M531.2 357.4h0"/>
<path stroke="#67503b" d="M467.7 359.4h0"/>
<path stroke="#9c4a25" d="M482.4 351.7h0"/>
<path stroke="#7e4d31" d="M472.6 356.3h0"/>
<path stroke="#904c2a" d="M477.5 353.7h0"/>
<path stroke="#a45126" d="M495.5 349.3h0"/>
<path stroke="#9e4a24" d="M511.7 350.9h0"/>
<path stroke="#a35026" d="M503.6 349.5h0"/>
<path stroke="#67503b" d="M534.5 358.3h0"/>
<path stroke="#884c2d" d="M523.1 354h0"/>
<path stroke="#a55226" d="M490.4 349.7h0"/>
<path stroke="#a04c25" d="M514.9 351.3h0"/>
<path stroke="#67503b" d="M465.7 361.1h0"/>
<path stroke="#a45126" d="M485.4 350.8h0"/>
<path stroke="#a75527" d="M498.5 349h0"/>
<path stroke="#67503b" d="M537.7 359.2h0"/>
<path stroke="#8a4c2c" d="M526.3 354.7h0"/>
<path stroke="#a65327" d="M506.7 349.6h0"/>
<path stroke="#804d30" d="M470.6 357.7h0"/>
<path stroke="#a04d25" d="M480.5 352.5h0"/>
<path stroke="#954b28" d="M475.5 354.9h0"/>
<path stroke="#a14e25" d="M518.1 351.8h0"/>
<path stroke="#aa5828" d="M493.5 349.2h0"/>
<path stroke="#67503b" d="M541 360.1h0"/>
<path stroke="#8b4c2c" d="M529.5 355.5h0"/>
<path stroke="#a85628" d="M509.8 349.8h0"/>
<path stroke="#ab5a29" d="M501.6 348.9h0"/>
<path stroke="#67503b" d="M463.7 362.8h0"/>
<path stroke="#aa5828" d="M488.5 350h0"/>
<path stroke="#834d2f" d="M468.6 359.2h0"/>
<path stroke="#67503b" d="M544.2 361h0"/>
<path stroke="#a75527" d="M483.4 351.4h0"/>
<path stroke="#a24f25" d="M521.3 352.3h0"/>
<path stroke="#8c4c2b" d="M532.7 356.2h0"/>
<path stroke="#9a4a26" d="M473.5 356h0"/>
<path stroke="#a35026" d="M478.4 353.4h0"/>
<path stroke="#ae5e2a" d="M496.6 348.7h0"/>
<path stroke="#aa5928" d="M513 350h0"/>
<path stroke="#ae5e2a" d="M504.8 348.7h0"/>
<path stroke="#67503b" d="M547.5 361.8h0"/>
<path stroke="#a35026" d="M524.5 352.9h0"/>
<path stroke="#8d4c2b" d="M536 357h0"/>
<path stroke="#67503b" d="M461.6 364.5h0"/>
<path stroke="#af5f2a" d="M491.5 349.2h0"/>
<path stroke="#854d2f" d="M466.5 360.7h0"/>
<path stroke="#ae5e2a" d="M486.5 350.3h0"/>
<path stroke="#ac5b29" d="M516.2 350.3h0"/>
<path stroke="#b3642d" d="M499.7 348.3h0"/>
<path stroke="#67503b" d="M550.8 362.7h0"/>
<path stroke="#9e4a24" d="M471.4 357.3h0"/>
<path stroke="#b2622b" d="M507.9 348.7h0"/>
<path stroke="#ab5a29" d="M481.4 352h0"/>
<path stroke="#a65327" d="M476.4 354.4h0"/>
<path stroke="#8e4c2b" d="M539.3 357.9h0"/>
<path stroke="#a45226" d="M527.7 353.5h0"/>
<path stroke="#b46931" d="M494.6 348.5h0"/>
<path stroke="#67503b" d="M459.6 366.2h0"/>
<path stroke="#67503b" d="M554.1 363.6h0"/>
<path stroke="#ae5d2a" d="M519.4 350.6h0"/>
<path stroke="#8e4c2b" d="M542.6 358.7h0"/>
<path stroke="#a55226" d="M531 354.1h0"/>
<path stroke="#b66d35" d="M502.8 347.9h0"/>
<path stroke="#b46830" d="M511.1 348.7h0"/>
<path stroke="#874d2e" d="M464.5 362.2h0"/>
<path stroke="#b46931" d="M489.5 349.3h0"/>
<path stroke="#a04c25" d="M469.4 358.5h0"/>
<path stroke="#67503b" d="M557.5 364.6h0"/>
<path stroke="#b3642d" d="M484.4 350.7h0"/>
<path stroke="#a85628" d="M474.4 355.4h0"/>
<path stroke="#ae5e2a" d="M479.4 352.7h0"/>
<path stroke="#b05f2a" d="M522.7 351h0"/>
<path stroke="#8e4c2b" d="M545.9 359.6h0"/>
<path stroke="#a65327" d="M534.3 354.9h0"/>
<path stroke="#b8743b" d="M497.7 347.8h0"/>
<path stroke="#67503b" d="M457.5 368h0"/>
<path stroke="#b66d35" d="M514.3 348.8h0"/>
<path stroke="#b8753c" d="M506 347.7h0"/>
<path stroke="#67503b" d="M560.9 365.5h0"/>
<path stroke="#8e4c2b" d="M549.2 360.5h0"/>
<path stroke="#884c2d" d="M462.4 363.7h0"/>
<path stroke="#b9763d" d="M492.6 348.3h0"/>
<path stroke="#b1612b" d="M525.9 351.5h0"/>
<path stroke="#a65427" d="M537.6 355.6h0"/>
<path stroke="#a14e25" d="M467.3 359.9h0"/>
<path stroke="#b8743b" d="M487.5 349.4h0"/>
<path stroke="#67503b" d="M564.2 366.4h0"/>
<path stroke="#b8733a" d="M517.6 349h0"/>
<path stroke="#bc7f44" d="M500.9 347.2h0"/>
<path stroke="#aa5928" d="M472.3 356.4h0"/>
<path stroke="#b66d35" d="M482.4 351.1h0"/>
<path stroke="#8e4c2b" d="M552.6 361.4h0"/>
<path stroke="#b2622b" d="M477.3 353.5h0"/>
<path stroke="#bb7d43" d="M509.2 347.5h0"/>
<path stroke="#67503b" d="M455.4 369.7h0"/>
<path stroke="#a65427" d="M540.9 356.4h0"/>
<path stroke="#b2632c" d="M529.2 352.1h0"/>
<path stroke="#bd8348" d="M495.7 347.4h0"/>
<path stroke="#67503b" d="M567.6 367.3h0"/>
<path stroke="#8a4c2c" d="M460.3 365.3h0"/>
<path stroke="#8d4c2b" d="M556 362.4h0"/>
<path stroke="#b9773e" d="M520.8 349.2h0"/>
<path stroke="#a65427" d="M544.3 357.3h0"/>
<path stroke="#bf894d" d="M504 346.7h0"/>
<path stroke="#a24f25" d="M465.2 361.2h0"/>
<path stroke="#b3652d" d="M532.5 352.7h0"/>
<path stroke="#bd8449" d="M512.4 347.4h0"/>
<path stroke="#bd8348" d="M490.6 348.2h0"/>
<path stroke="#67503b" d="M453.2 371.5h0"/>
<path stroke="#67503b" d="M571.1 368.2h0"/>
<path stroke="#ac5b29" d="M470.2 357.6h0"/>
<path stroke="#bc7f44" d="M485.4 349.6h0"/>
<path stroke="#8c4c2b" d="M559.3 363.4h0"/>
<path stroke="#b46830" d="M475.2 354.4h0"/>
<path stroke="#b8753c" d="M480.3 351.7h0"/>
<path stroke="#ba7b41" d="M524.1 349.6h0"/>
<path stroke="#a65427" d="M547.6 358.2h0"/>
<path stroke="#c18e52" d="M498.8 346.5h0"/>
<path stroke="#b3662f" d="M535.9 353.4h0"/>
<path stroke="#8b4c2c" d="M458.1 367h0"/>
<path stroke="#c08b4f" d="M515.7 347.4h0"/>
<path stroke="#67503b" d="M574.5 369.2h0"/>
<path stroke="#c19053" d="M507.2 346.3h0"/>
<path stroke="#8b4c2c" d="M562.7 364.4h0"/>
<path stroke="#a35026" d="M463.1 362.7h0"/>
<path stroke="#c19053" d="M493.7 347h0"/>
<path stroke="#a65427" d="M551 359.2h0"/>
<path stroke="#bb7e44" d="M527.4 350h0"/>
<path stroke="#67503b" d="M451.1 373.3h0"/>
<path stroke="#b4672f" d="M539.2 354.2h0"/>
<path stroke="#ae5d2a" d="M468.1 358.8h0"/>
<path stroke="#67503b" d="M578 370.1h0"/>
<path stroke="#c18e52" d="M488.5 348.2h0"/>
<path stroke="#8a4c2c" d="M566.2 365.5h0"/>
<path stroke="#c49657" d="M502 345.8h0"/>
<path stroke="#b66d35" d="M473.1 355.3h0"/>
<path stroke="#c18f52" d="M518.9 347.5h0"/>
<path stroke="#bf894d" d="M483.3 349.9h0"/>
<path stroke="#bb7d43" d="M478.2 352.3h0"/>
<path stroke="#a65327" d="M554.4 360.2h0"/>
<path stroke="#8c4c2b" d="M456 368.6h0"/>
<path stroke="#c39557" d="M510.5 346h0"/>
<path stroke="#b46730" d="M542.6 355h0"/>
<path stroke="#bc8146" d="M530.8 350.5h0"/>
<path stroke="#67503b" d="M581.4 371h0"/>
<path stroke="#884c2d" d="M569.6 366.6h0"/>
<path stroke="#c59959" d="M496.8 346h0"/>
<path stroke="#a45226" d="M461 364.2h0"/>
<path stroke="#67503b" d="M448.9 375.1h0"/>
<path stroke="#a55226" d="M557.8 361.3h0"/>
<path stroke="#c29254" d="M522.3 347.7h0"/>
<path stroke="#b4672f" d="M546 356h0"/>
<path stroke="#b05f2a" d="M466 360h0"/>
<path stroke="#c69d5c" d="M505.2 345.2h0"/>
<path stroke="#c59959" d="M491.6 346.8h0"/>
<path stroke="#bd8348" d="M534.1 351.2h0"/>
<path stroke="#c59b5a" d="M513.7 345.8h0"/>
<path stroke="#874d2e" d="M573.1 367.7h0"/>
<path stroke="#67503b" d="M584.9 372h0"/>
<path stroke="#8d4c2b" d="M453.8 370.3h0"/>
<path stroke="#b8733a" d="M471 356.3h0"/>
<path stroke="#a45226" d="M561.2 362.5h0"/>
<path stroke="#c49657" d="M486.4 348.3h0"/>
<path stroke="#bd8449" d="M476.1 353.1h0"/>
<path stroke="#c19053" d="M481.3 350.4h0"/>
<path stroke="#b3662f" d="M549.4 357h0"/>
<path stroke="#c39556" d="M525.6 348h0"/>
<path stroke="#c8a260" d="M500 345.1h0"/>
<path stroke="#854d2f" d="M576.5 368.8h0"/>
<path stroke="#bd8449" d="M537.5 351.9h0"/>
<path stroke="#a55226" d="M458.8 365.7h0"/>
<path stroke="#67503b" d="M588.5 372.9h0"/>
<path stroke="#67503b" d="M446.7 376.9h0"/>
<path stroke="#a35026" d="M564.7 363.7h0"/>
<path stroke="#c79f5e" d="M517 345.8h0"/>
<path stroke="#c8a461" d="M508.5 344.8h0"/>
<path stroke="#b3652d" d="M552.8 358.1h0"/>
<path stroke="#b1612b" d="M463.8 361.4h0"/>
<path stroke="#c8a361" d="M494.8 345.6h0"/>
<path stroke="#834d2f" d="M580 370h0"/>
<path stroke="#c49758" d="M528.9 348.5h0"/>
<path stroke="#8e4c2b" d="M451.7 372.1h0"/>
<path stroke="#bd8449" d="M540.9 352.8h0"/>
<path stroke="#67503b" d="M592 373.9h0"/>
<path stroke="#a24f25" d="M568.1 364.9h0"/>
<path stroke="#b9773e" d="M468.9 357.4h0"/>
<path stroke="#c8a260" d="M489.5 346.7h0"/>
<path stroke="#cbaa64" d="M503.2 344.3h0"/>
<path stroke="#c08b4f" d="M474 353.9h0"/>
<path stroke="#b2632c" d="M556.2 359.3h0"/>
<path stroke="#c69d5c" d="M484.3 348.5h0"/>
<path stroke="#c8a360" d="M520.4 345.9h0"/>
<path stroke="#c39557" d="M479.1 350.9h0"/>
<path stroke="#804d30" d="M583.6 371.2h0"/>
<path stroke="#a65327" d="M456.6 367.4h0"/>
<path stroke="#67503b" d="M444.5 378.8h0"/>
<path stroke="#caa964" d="M511.8 344.4h0"/>
<path stroke="#a14e25" d="M571.6 366.2h0"/>
<path stroke="#bd8449" d="M544.3 353.7h0"/>
<path stroke="#67503b" d="M595.6 374.9h0"/>
<path stroke="#c49859" d="M532.3 349h0"/>
<path stroke="#b1612b" d="M559.7 360.5h0"/>
<path stroke="#ccad63" d="M498 344.4h0"/>
<path stroke="#b2632c" d="M461.7 362.8h0"/>
<path stroke="#7e4d31" d="M587.1 372.4h0"/>
<path stroke="#8e4c2b" d="M449.5 373.9h0"/>
<path stroke="#a04c25" d="M575.1 367.5h0"/>
<path stroke="#c9a663" d="M523.7 346.1h0"/>
<path stroke="#bd8348" d="M547.7 354.8h0"/>
<path stroke="#67503b" d="M599.2 375.8h0"/>
<path stroke="#ba7b41" d="M466.7 358.7h0"/>
<path stroke="#cdb163" d="M506.5 343.6h0"/>
<path stroke="#ccad63" d="M492.7 345.3h0"/>
<path stroke="#c59959" d="M535.7 349.8h0"/>
<path stroke="#ccaf63" d="M515.1 344.2h0"/>
<path stroke="#b05f2a" d="M563.1 361.8h0"/>
<path stroke="#67503b" d="M442.3 380.7h0"/>
<path stroke="#a65427" d="M454.5 369h0"/>
<path stroke="#c18f52" d="M471.8 354.9h0"/>
<path stroke="#7b4e32" d="M590.6 373.6h0"/>
<path stroke="#cbaa64" d="M487.4 346.7h0"/>
<path stroke="#9e4a24" d="M578.6 368.9h0"/>
<path stroke="#c59b5a" d="M477 351.6h0"/>
<path stroke="#c8a461" d="M482.2 348.9h0"/>
<path stroke="#bc8146" d="M551.2 355.9h0"/>
<path stroke="#caa864" d="M527.1 346.5h0"/>
<path stroke="#67503b" d="M602.8 376.8h0"/>
<path stroke="#ae5d2a" d="M566.6 363.2h0"/>
<path stroke="#ceb662" d="M501.2 343.5h0"/>
<path stroke="#c5995a" d="M539.1 350.6h0"/>
<path stroke="#b3652d" d="M459.5 364.4h0"/>
<path stroke="#8e4c2b" d="M447.2 375.7h0"/>
<path stroke="#794e34" d="M594.2 374.9h0"/>
<path stroke="#9a4a26" d="M582.1 370.4h0"/>
<path stroke="#cdb362" d="M518.4 344.2h0"/>
<path stroke="#cfb862" d="M509.8 343.1h0"/>
<path stroke="#bb7e44" d="M554.6 357.2h0"/>
<path stroke="#ac5b29" d="M570.1 364.7h0"/>
<path stroke="#bb7e44" d="M464.6 360h0"/>
<path stroke="#cfb762" d="M495.9 343.9h0"/>
<path stroke="#67503b" d="M606.4 377.8h0"/>
<path stroke="#c59959" d="M542.6 351.6h0"/>
<path stroke="#67503b" d="M440 382.6h0"/>
<path stroke="#cbaa64" d="M530.5 347h0"/>
<path stroke="#a65427" d="M452.2 370.8h0"/>
<path stroke="#954b28" d="M585.7 371.8h0"/>
<path stroke="#764e35" d="M597.8 376.1h0"/>
<path stroke="#c29254" d="M469.7 356h0"/>
<path stroke="#ceb662" d="M490.6 345.1h0"/>
<path stroke="#ba7b41" d="M558.1 358.6h0"/>
<path stroke="#aa5928" d="M573.6 366.3h0"/>
<path stroke="#d1be61" d="M504.5 342.6h0"/>
<path stroke="#c79f5e" d="M474.9 352.4h0"/>
<path stroke="#cfb662" d="M521.8 344.3h0"/>
<path stroke="#cdb163" d="M485.3 346.9h0"/>
<path stroke="#caa964" d="M480.1 349.4h0"/>
<path stroke="#8e4c2b" d="M445 377.6h0"/>
<path stroke="#b3662f" d="M457.3 366h0"/>
<path stroke="#67503b" d="M610 378.8h0"/>
<path stroke="#904c2a" d="M589.2 373.3h0"/>
<path stroke="#d1bd61" d="M513.1 342.8h0"/>
<path stroke="#c49859" d="M546 352.7h0"/>
<path stroke="#734f36" d="M601.4 377.4h0"/>
<path stroke="#cbab64" d="M533.9 347.7h0"/>
<path stroke="#b9773e" d="M561.6 360.1h0"/>
<path stroke="#a85628" d="M577.2 367.9h0"/>
<path stroke="#d2c160" d="M499.1 342.8h0"/>
<path stroke="#bc8146" d="M462.4 361.4h0"/>
<path stroke="#67503b" d="M437.7 384.5h0"/>
<path stroke="#8b4c2c" d="M592.8 374.9h0"/>
<path stroke="#a65427" d="M450 372.6h0"/>
<path stroke="#c49758" d="M549.5 353.9h0"/>
<path stroke="#67503b" d="M613.7 379.8h0"/>
<path stroke="#d0b962" d="M525.2 344.6h0"/>
<path stroke="#b8733a" d="M565.1 361.6h0"/>
<path stroke="#704f37" d="M605 378.7h0"/>
<path stroke="#a65327" d="M580.7 369.6h0"/>
<path stroke="#cbac63" d="M537.4 348.5h0"/>
<path stroke="#c39556" d="M467.5 357.2h0"/>
<path stroke="#d3c460" d="M507.8 342h0"/>
<path stroke="#d2c160" d="M493.8 343.6h0"/>
<path stroke="#d2c260" d="M516.5 342.6h0"/>
<path stroke="#854d2e" d="M596.4 376.4h0"/>
<path stroke="#8e4c2b" d="M442.8 379.5h0"/>
<path stroke="#b4672f" d="M455.1 367.7h0"/>
<path stroke="#c8a360" d="M472.7 353.4h0"/>
<path stroke="#c39556" d="M553 355.2h0"/>
<path stroke="#b66d35" d="M568.6 363.3h0"/>
<path stroke="#d1be61" d="M488.5 345.1h0"/>
<path stroke="#a35026" d="M584.3 371.3h0"/>
<path stroke="#6d4f38" d="M608.6 380h0"/>
<path stroke="#ccaf63" d="M477.9 350h0"/>
<path stroke="#cfb862" d="M483.2 347.3h0"/>
<path stroke="#67503b" d="M617.4 380.8h0"/>
<path stroke="#d0bb61" d="M528.6 345.1h0"/>
<path stroke="#cbab64" d="M540.8 349.5h0"/>
<path stroke="#7f4d31" d="M600 378h0"/>
<path stroke="#d4c75f" d="M502.4 341.8h0"/>
<path stroke="#b46830" d="M572.2 365.1h0"/>
<path stroke="#67503b" d="M435.4 386.4h0"/>
<path stroke="#bd8348" d="M460.2 363h0"/>
<path stroke="#a04d25" d="M587.8 373.1h0"/>
<path stroke="#c29254" d="M556.5 356.7h0"/>
<path stroke="#a65427" d="M447.8 374.5h0"/>
<path stroke="#d3c55f" d="M519.9 342.6h0"/>
<path stroke="#6a503a" d="M612.3 381.3h0"/>
<path stroke="#d4c85e" d="M511.1 341.5h0"/>
<path stroke="#794e33" d="M603.6 379.6h0"/>
<path stroke="#cbaa64" d="M544.3 350.6h0"/>
<path stroke="#b2622b" d="M575.7 366.9h0"/>
<path stroke="#c49758" d="M465.3 358.5h0"/>
<path stroke="#d4c85e" d="M497 342.3h0"/>
<path stroke="#9c4a25" d="M591.4 374.9h0"/>
<path stroke="#d1bd61" d="M532.1 345.7h0"/>
<path stroke="#c18f52" d="M560 358.3h0"/>
<path stroke="#8d4c2b" d="M440.5 381.5h0"/>
<path stroke="#b46730" d="M452.9 369.5h0"/>
<path stroke="#c9a663" d="M470.5 354.5h0"/>
<path stroke="#67503b" d="M616 382.7h0"/>
<path stroke="#d4c75f" d="M491.7 343.5h0"/>
<path stroke="#ae5e2a" d="M579.2 368.8h0"/>
<path stroke="#944b28" d="M595 376.8h0"/>
<path stroke="#734f36" d="M607.2 381.3h0"/>
<path stroke="#d4c75f" d="M523.3 342.9h0"/>
<path stroke="#d5cb5c" d="M505.7 341h0"/>
<path stroke="#c08b4f" d="M563.5 360.1h0"/>
<path stroke="#caa864" d="M547.8 351.9h0"/>
<path stroke="#cdb362" d="M475.7 350.8h0"/>
<path stroke="#d3c460" d="M486.3 345.3h0"/>
<path stroke="#d1bd61" d="M481 347.8h0"/>
<path stroke="#67503b" d="M433.1 388.3h0"/>
<path stroke="#a65427" d="M445.5 376.5h0"/>
<path stroke="#bd8449" d="M458 364.7h0"/>
<path stroke="#d5cb5d" d="M514.5 341.2h0"/>
<path stroke="#d1bd61" d="M535.6 346.5h0"/>
<path stroke="#ab5a29" d="M582.8 370.8h0"/>
<path stroke="#8b4c2c" d="M598.6 378.7h0"/>
<path stroke="#6d4f38" d="M610.9 382.9h0"/>
<path stroke="#bd8449" d="M567.1 361.9h0"/>
<path stroke="#c9a663" d="M551.3 353.4h0"/>
<path stroke="#d5cd5c" d="M500.3 341.2h0"/>
<path stroke="#c49859" d="M463.1 360h0"/>
<path stroke="#8c4c2b" d="M438.2 383.5h0"/>
<path stroke="#a75527" d="M586.4 372.9h0"/>
<path stroke="#b4672f" d="M450.6 371.4h0"/>
<path stroke="#824d30" d="M602.2 380.6h0"/>
<path stroke="#d4c85e" d="M526.7 343.3h0"/>
<path stroke="#d1bd61" d="M539 347.5h0"/>
<path stroke="#bb7d43" d="M570.6 363.9h0"/>
<path stroke="#67503b" d="M614.5 384.6h0"/>
<path stroke="#d6cf5b" d="M509.1 340.4h0"/>
<path stroke="#caa864" d="M468.3 355.7h0"/>
<path stroke="#c8a360" d="M554.9 355h0"/>
<path stroke="#a45126" d="M590 375h0"/>
<path stroke="#d5cd5b" d="M517.9 341.1h0"/>
<path stroke="#d5cd5c" d="M494.9 342h0"/>
<path stroke="#794e33" d="M605.8 382.6h0"/>
<path stroke="#a65327" d="M443.3 378.5h0"/>
<path stroke="#67503b" d="M430.8 390.3h0"/>
<path stroke="#b8753c" d="M574.2 365.9h0"/>
<path stroke="#bd8449" d="M455.7 366.4h0"/>
<path stroke="#cfb662" d="M473.6 351.8h0"/>
<path stroke="#d5cb5c" d="M489.6 343.5h0"/>
<path stroke="#a04c25" d="M593.6 377.1h0"/>
<path stroke="#d0bb61" d="M542.6 348.7h0"/>
<path stroke="#d2c260" d="M478.9 348.5h0"/>
<path stroke="#d4c85e" d="M484.2 345.7h0"/>
<path stroke="#c79f5e" d="M558.4 356.7h0"/>
<path stroke="#d4c95e" d="M530.2 343.9h0"/>
<path stroke="#704f37" d="M609.5 384.6h0"/>
<path stroke="#b66d35" d="M577.8 368.1h0"/>
<path stroke="#d3ce58" d="M503.7 340.2h0"/>
<path stroke="#8b4c2c" d="M435.9 385.6h0"/>
<path stroke="#974b27" d="M597.2 379.4h0"/>
<path stroke="#c59959" d="M460.9 361.7h0"/>
<path stroke="#b3662f" d="M448.4 373.4h0"/>
<path stroke="#d6cf5b" d="M521.4 341.3h0"/>
<path stroke="#c59b5a" d="M561.9 358.6h0"/>
<path stroke="#b3642d" d="M581.3 370.4h0"/>
<path stroke="#d2cd58" d="M512.5 340h0"/>
<path stroke="#d0b962" d="M546.1 350h0"/>
<path stroke="#67503b" d="M613.1 386.6h0"/>
<path stroke="#8b4c2c" d="M600.8 381.6h0"/>
<path stroke="#d4c95d" d="M533.7 344.7h0"/>
<path stroke="#cbaa64" d="M466.1 357.1h0"/>
<path stroke="#d1cd57" d="M498.2 340.7h0"/>
<path stroke="#ae5e2a" d="M584.9 372.7h0"/>
<path stroke="#a55226" d="M441 380.6h0"/>
<path stroke="#c39557" d="M565.5 360.6h0"/>
<path stroke="#67503b" d="M428.4 392.3h0"/>
<path stroke="#bd8449" d="M453.5 368.4h0"/>
<path stroke="#7f4d31" d="M604.4 383.9h0"/>
<path stroke="#cfb662" d="M549.6 351.6h0"/>
<path stroke="#d0b962" d="M471.4 353h0"/>
<path stroke="#aa5828" d="M588.5 375.1h0"/>
<path stroke="#d3ce58" d="M492.8 341.9h0"/>
<path stroke="#c19053" d="M569.1 362.8h0"/>
<path stroke="#d6d05a" d="M524.8 341.6h0"/>
<path stroke="#cac853" d="M507 339.5h0"/>
<path stroke="#d3c55f" d="M476.7 349.4h0"/>
<path stroke="#734f36" d="M608 386.2h0"/>
<path stroke="#8a4c2c" d="M433.5 387.7h0"/>
<path stroke="#d4c95e" d="M537.2 345.7h0"/>
<path stroke="#d6cf5b" d="M487.4 343.7h0"/>
<path stroke="#b3652d" d="M446.1 375.5h0"/>
<path stroke="#d5cb5d" d="M482 346.2h0"/>
<path stroke="#a55226" d="M592.1 377.6h0"/>
<path stroke="#ccca54" d="M515.9 339.8h0"/>
<path stroke="#c5995a" d="M458.7 363.4h0"/>
<path stroke="#cdb362" d="M553.2 353.3h0"/>
<path stroke="#bf894d" d="M572.7 365.1h0"/>
<path stroke="#67503b" d="M611.7 388.5h0"/>
<path stroke="#a04c25" d="M595.7 380.1h0"/>
<path stroke="#bc7f44" d="M576.2 367.5h0"/>
<path stroke="#a45226" d="M438.7 382.8h0"/>
<path stroke="#c6c651" d="M501.6 339.6h0"/>
<path stroke="#cbab64" d="M463.9 358.7h0"/>
<path stroke="#d4c85e" d="M540.8 346.9h0"/>
<path stroke="#ccaf63" d="M556.7 355.2h0"/>
<path stroke="#d4cf59" d="M528.3 342.2h0"/>
<path stroke="#67503b" d="M426 394.3h0"/>
<path stroke="#944b28" d="M599.3 382.6h0"/>
<path stroke="#bd8348" d="M451.2 370.4h0"/>
<path stroke="#b8743b" d="M579.8 370h0"/>
<path stroke="#854d2e" d="M602.9 385.2h0"/>
<path stroke="#c2c34e" d="M510.4 339h0"/>
<path stroke="#c7c651" d="M519.4 339.9h0"/>
<path stroke="#d0bb61" d="M469.1 354.4h0"/>
<path stroke="#caa964" d="M560.3 357.2h0"/>
<path stroke="#c6c651" d="M496.1 340.5h0"/>
<path stroke="#884c2d" d="M431.2 389.8h0"/>
<path stroke="#b46931" d="M583.4 372.6h0"/>
<path stroke="#b2632c" d="M443.8 377.7h0"/>
<path stroke="#d4c75f" d="M544.3 348.3h0"/>
<path stroke="#764e35" d="M606.6 387.9h0"/>
<path stroke="#c59959" d="M456.4 365.4h0"/>
<path stroke="#d4c75f" d="M474.5 350.5h0"/>
<path stroke="#cac853" d="M490.7 342h0"/>
<path stroke="#d3ce58" d="M531.8 343h0"/>
<path stroke="#af5f2a" d="M587 375.3h0"/>
<path stroke="#c8a461" d="M563.9 359.4h0"/>
<path stroke="#d5cd5b" d="M479.8 347h0"/>
<path stroke="#d2cd58" d="M485.2 344.2h0"/>
<path stroke="#67503b" d="M610.2 390.5h0"/>
<path stroke="#aa5828" d="M590.6 378h0"/>
<path stroke="#a35026" d="M436.3 385h0"/>
<path stroke="#bcc04b" d="M505 338.8h0"/>
<path stroke="#d3c55f" d="M547.9 349.9h0"/>
<path stroke="#c69d5c" d="M567.5 361.8h0"/>
<path stroke="#bc8146" d="M449 372.6h0"/>
<path stroke="#cbac63" d="M461.6 360.5h0"/>
<path stroke="#c3c44f" d="M522.9 340.2h0"/>
<path stroke="#67503b" d="M423.6 396.3h0"/>
<path stroke="#a45126" d="M594.2 380.8h0"/>
<path stroke="#bbbf4b" d="M513.9 338.7h0"/>
<path stroke="#d4cf59" d="M535.4 344h0"/>
<path stroke="#c49657" d="M571.1 364.3h0"/>
<path stroke="#9c4a25" d="M597.8 383.7h0"/>
<path stroke="#d2c260" d="M551.5 351.8h0"/>
<path stroke="#874d2e" d="M428.8 392h0"/>
<path stroke="#b1612b" d="M441.5 380h0"/>
<path stroke="#d1bd61" d="M466.9 355.9h0"/>
<path stroke="#babf4a" d="M499.5 339.3h0"/>
<path stroke="#8b4c2c" d="M601.5 386.6h0"/>
<path stroke="#c18e52" d="M574.7 366.9h0"/>
<path stroke="#c49859" d="M454.2 367.4h0"/>
<path stroke="#794e34" d="M605.1 389.6h0"/>
<path stroke="#bd8348" d="M578.3 369.7h0"/>
<path stroke="#d1bd61" d="M555.1 353.8h0"/>
<path stroke="#d4c85e" d="M472.3 351.8h0"/>
<path stroke="#c1c34e" d="M526.4 340.7h0"/>
<path stroke="#d6d05a" d="M538.9 345.3h0"/>
<path stroke="#bcc04b" d="M494 340.5h0"/>
<path stroke="#67503b" d="M608.7 392.5h0"/>
<path stroke="#a24f25" d="M434 387.3h0"/>
<path stroke="#b3bb46" d="M508.4 338.2h0"/>
<path stroke="#b9763d" d="M581.9 372.6h0"/>
<path stroke="#d6cf5b" d="M477.6 348.1h0"/>
<path stroke="#bb7e44" d="M446.7 374.8h0"/>
<path stroke="#b6bc48" d="M517.4 338.7h0"/>
<path stroke="#c2c34e" d="M488.5 342.4h0"/>
<path stroke="#ccca54" d="M483 344.9h0"/>
<path stroke="#cbab64" d="M459.4 362.4h0"/>
<path stroke="#cfb862" d="M558.7 356h0"/>
<path stroke="#b46931" d="M585.5 375.5h0"/>
<path stroke="#67503b" d="M421.1 398.3h0"/>
<path stroke="#ae5e2a" d="M589.1 378.6h0"/>
<path stroke="#d6cf5b" d="M542.5 346.8h0"/>
<path stroke="#b05f2a" d="M439.2 382.4h0"/>
<path stroke="#a75527" d="M592.7 381.7h0"/>
<path stroke="#cdb163" d="M562.3 358.4h0"/>
<path stroke="#c0c34e" d="M529.9 341.5h0"/>
<path stroke="#854d2f" d="M426.4 394.2h0"/>
<path stroke="#b0b844" d="M502.9 338.3h0"/>
<path stroke="#d1bd61" d="M464.7 357.7h0"/>
<path stroke="#a04d25" d="M596.4 384.8h0"/>
<path stroke="#c49758" d="M451.9 369.7h0"/>
<path stroke="#904c2a" d="M600 388.1h0"/>
<path stroke="#cbaa64" d="M565.9 360.9h0"/>
<path stroke="#d5cd5b" d="M546.1 348.5h0"/>
<path stroke="#7b4e32" d="M603.6 391.3h0"/>
<path stroke="#b2ba45" d="M520.9 339h0"/>
<path stroke="#acb642" d="M511.8 337.9h0"/>
<path stroke="#a14e25" d="M431.6 389.7h0"/>
<path stroke="#67503b" d="M607.2 394.6h0"/>
<path stroke="#d4c95e" d="M470 353.3h0"/>
<path stroke="#c8a260" d="M569.5 363.6h0"/>
<path stroke="#b0b844" d="M497.3 339.2h0"/>
<path stroke="#ba7b41" d="M444.4 377.2h0"/>
<path stroke="#c1c34e" d="M533.5 342.6h0"/>
<path stroke="#cbaa64" d="M457.2 364.6h0"/>
<path stroke="#c59959" d="M573.1 366.5h0"/>
<path stroke="#d5cb5d" d="M549.7 350.4h0"/>
<path stroke="#d6d05a" d="M475.4 349.3h0"/>
<path stroke="#67503b" d="M418.7 400.4h0"/>
<path stroke="#b3bb46" d="M491.8 340.7h0"/>
<path stroke="#c19053" d="M576.7 369.5h0"/>
<path stroke="#c7c651" d="M480.8 345.8h0"/>
<path stroke="#bbbf4b" d="M486.3 343h0"/>
<path stroke="#ae5d2a" d="M436.9 384.8h0"/>
<path stroke="#bd8348" d="M580.4 372.6h0"/>
<path stroke="#834d2f" d="M424 396.5h0"/>
<path stroke="#a6b345" d="M506.3 337.7h0"/>
<path stroke="#b0b844" d="M524.4 339.5h0"/>
<path stroke="#c39556" d="M449.6 372h0"/>
<path stroke="#d4c85e" d="M553.4 352.5h0"/>
<path stroke="#b8743b" d="M584 375.8h0"/>
<path stroke="#d1bd61" d="M462.4 359.6h0"/>
<path stroke="#c3c44f" d="M537.1 343.8h0"/>
<path stroke="#b3642d" d="M587.6 379.2h0"/>
<path stroke="#a7b345" d="M515.3 337.8h0"/>
<path stroke="#ab5a29" d="M591.2 382.6h0"/>
<path stroke="#a35026" d="M594.8 386h0"/>
<path stroke="#a04c25" d="M429.3 392.1h0"/>
<path stroke="#d3c460" d="M557 354.9h0"/>
<path stroke="#954b28" d="M598.5 389.5h0"/>
<path stroke="#b9773e" d="M442.1 379.8h0"/>
<path stroke="#7e4d31" d="M602.1 393.1h0"/>
<path stroke="#67503b" d="M605.7 396.6h0"/>
<path stroke="#d4c95d" d="M467.8 355h0"/>
<path stroke="#a4b24a" d="M500.7 338.2h0"/>
<path stroke="#caa864" d="M454.9 366.8h0"/>
<path stroke="#c7c651" d="M540.7 345.4h0"/>
<path stroke="#d1be61" d="M560.6 357.5h0"/>
<path stroke="#afb844" d="M528 340.3h0"/>
<path stroke="#67503b" d="M416.2 402.5h0"/>
<path stroke="#ac5b29" d="M434.5 387.4h0"/>
<path stroke="#d4cf59" d="M473.2 350.8h0"/>
<path stroke="#ceb662" d="M564.2 360.2h0"/>
<path stroke="#a6b345" d="M495.2 339.4h0"/>
<path stroke="#9eb055" d="M509.8 337.2h0"/>
<path stroke="#c29254" d="M447.3 374.5h0"/>
<path stroke="#a2b14d" d="M518.9 338h0"/>
<path stroke="#804d30" d="M421.5 398.8h0"/>
<path stroke="#ccca54" d="M544.3 347.2h0"/>
<path stroke="#c3c44f" d="M478.6 347h0"/>
<path stroke="#ccad63" d="M567.9 363.1h0"/>
<path stroke="#acb642" d="M489.6 341.3h0"/>
<path stroke="#d0bb61" d="M460.2 361.8h0"/>
<path stroke="#b6bc48" d="M484.1 343.8h0"/>
<path stroke="#c8a361" d="M571.5 366.2h0"/>
<path stroke="#b0b844" d="M531.6 341.3h0"/>
<path stroke="#9e4a24" d="M426.9 394.6h0"/>
<path stroke="#b8733a" d="M439.8 382.4h0"/>
<path stroke="#c59959" d="M575.2 369.4h0"/>
<path stroke="#d2cd58" d="M548 349.2h0"/>
<path stroke="#c18e52" d="M578.8 372.8h0"/>
<path stroke="#bc7f44" d="M582.4 376.3h0"/>
<path stroke="#c9a663" d="M452.6 369.3h0"/>
<path stroke="#99ae5e" d="M504.2 337.4h0"/>
<path stroke="#b66d35" d="M586.1 379.8h0"/>
<path stroke="#67503b" d="M604.2 398.7h0"/>
<path stroke="#d4c95e" d="M465.5 357h0"/>
<path stroke="#804d30" d="M600.5 394.9h0"/>
<path stroke="#ae5e2a" d="M589.7 383.5h0"/>
<path stroke="#9a4a26" d="M596.9 391h0"/>
<path stroke="#a65327" d="M593.3 387.2h0"/>
<path stroke="#9fb052" d="M522.4 338.5h0"/>
<path stroke="#aa5928" d="M432.2 390h0"/>
<path stroke="#d6cf5b" d="M551.6 351.5h0"/>
<path stroke="#97ad62" d="M513.3 337.1h0"/>
<path stroke="#b2ba45" d="M535.2 342.6h0"/>
<path stroke="#67503b" d="M413.6 404.6h0"/>
<path stroke="#c18f52" d="M445.1 377.2h0"/>
<path stroke="#d3ce58" d="M470.9 352.5h0"/>
<path stroke="#99ae5e" d="M498.6 338.2h0"/>
<path stroke="#7e4d31" d="M419.1 401.1h0"/>
<path stroke="#d5cb5c" d="M555.3 354h0"/>
<path stroke="#d0b962" d="M457.9 364.1h0"/>
<path stroke="#c1c34e" d="M476.4 348.5h0"/>
<path stroke="#b66d35" d="M437.5 385.1h0"/>
<path stroke="#9eb055" d="M493 339.8h0"/>
<path stroke="#9a4a26" d="M424.5 397.2h0"/>
<path stroke="#d4c75f" d="M558.9 356.7h0"/>
<path stroke="#b6bc48" d="M538.8 344.2h0"/>
<path stroke="#b2ba45" d="M481.9 345h0"/>
<path stroke="#a7b345" d="M487.4 342.1h0"/>
<path stroke="#9eb054" d="M526 339.3h0"/>
<path stroke="#c8a360" d="M450.3 371.9h0"/>
<path stroke="#90aa6f" d="M507.7 336.9h0"/>
<path stroke="#d2c160" d="M562.6 359.6h0"/>
<path stroke="#d4c85e" d="M463.3 359.2h0"/>
<path stroke="#92ab6b" d="M516.8 337.3h0"/>
<path stroke="#67503b" d="M602.6 400.8h0"/>
<path stroke="#a85628" d="M429.8 392.8h0"/>
<path stroke="#cfb762" d="M566.2 362.7h0"/>
<path stroke="#834d2f" d="M599 396.7h0"/>
<path stroke="#9e4a24" d="M595.4 392.6h0"/>
<path stroke="#bbbf4b" d="M542.5 346.1h0"/>
<path stroke="#c08b4f" d="M442.8 380h0"/>
<path stroke="#ccad63" d="M569.9 366h0"/>
<path stroke="#a85628" d="M591.7 388.6h0"/>
<path stroke="#c8a260" d="M573.5 369.5h0"/>
<path stroke="#b2622b" d="M588.1 384.6h0"/>
<path stroke="#c49657" d="M577.2 373.1h0"/>
<path stroke="#b8753c" d="M584.5 380.6h0"/>
<path stroke="#bf894d" d="M580.8 376.8h0"/>
<path stroke="#67503b" d="M411.1 406.7h0"/>
<path stroke="#d4cf59" d="M468.7 354.5h0"/>
<path stroke="#9fb052" d="M529.7 340.3h0"/>
<path stroke="#8ea973" d="M502 337.4h0"/>
<path stroke="#cfb662" d="M455.7 366.7h0"/>
<path stroke="#7b4e32" d="M416.6 403.5h0"/>
<path stroke="#b46830" d="M435.1 388h0"/>
<path stroke="#c2c34e" d="M546.2 348.2h0"/>
<path stroke="#954b28" d="M422 399.8h0"/>
<path stroke="#c0c34e" d="M474.2 350.2h0"/>
<path stroke="#c79f5e" d="M448.1 374.7h0"/>
<path stroke="#8faa70" d="M520.4 337.7h0"/>
<path stroke="#90aa6f" d="M496.4 338.6h0"/>
<path stroke="#89a77c" d="M511.2 336.7h0"/>
<path stroke="#cac853" d="M549.8 350.6h0"/>
<path stroke="#d4c75f" d="M461 361.6h0"/>
<path stroke="#b0b844" d="M479.7 346.4h0"/>
<path stroke="#a2b14d" d="M533.3 341.7h0"/>
<path stroke="#a65327" d="M427.4 395.6h0"/>
<path stroke="#97ad62" d="M490.8 340.6h0"/>
<path stroke="#a2b14d" d="M485.2 343.2h0"/>
<path stroke="#bd8449" d="M440.4 382.9h0"/>
<path stroke="#67503b" d="M601 402.9h0"/>
<path stroke="#d3ce58" d="M553.5 353.3h0"/>
<path stroke="#854d2f" d="M597.4 398.6h0"/>
<path stroke="#cdb362" d="M453.4 369.4h0"/>
<path stroke="#d5cd5c" d="M557.2 356.1h0"/>
<path stroke="#a04c25" d="M593.8 394.2h0"/>
<path stroke="#85a684" d="M505.6 336.9h0"/>
<path stroke="#b2622b" d="M432.8 390.9h0"/>
<path stroke="#d6d05a" d="M466.5 356.7h0"/>
<path stroke="#67503b" d="M408.5 408.9h0"/>
<path stroke="#a7b345" d="M537 343.3h0"/>
<path stroke="#794e34" d="M414.1 406h0"/>
<path stroke="#8ea972" d="M524 338.5h0"/>
<path stroke="#aa5928" d="M590.2 389.9h0"/>
<path stroke="#d4c85e" d="M560.9 359.2h0"/>
<path stroke="#b46830" d="M586.5 385.7h0"/>
<path stroke="#904c2a" d="M419.6 402.5h0"/>
<path stroke="#84a585" d="M514.8 336.9h0"/>
<path stroke="#c59b5a" d="M445.8 377.7h0"/>
<path stroke="#d2c160" d="M564.5 362.5h0"/>
<path stroke="#bb7d43" d="M582.9 381.5h0"/>
<path stroke="#ceb662" d="M568.2 366h0"/>
<path stroke="#c19053" d="M579.2 377.4h0"/>
<path stroke="#cbaa64" d="M571.9 369.7h0"/>
<path stroke="#c69d5c" d="M575.6 373.5h0"/>
<path stroke="#c1c34e" d="M471.9 352.2h0"/>
<path stroke="#85a684" d="M499.9 337.7h0"/>
<path stroke="#acb642" d="M540.6 345.3h0"/>
<path stroke="#d3c55f" d="M458.8 364.2h0"/>
<path stroke="#a35026" d="M425 398.5h0"/>
<path stroke="#bb7d43" d="M438.1 386h0"/>
<path stroke="#8faa70" d="M527.7 339.6h0"/>
<path stroke="#afb844" d="M477.4 348.1h0"/>
<path stroke="#89a77c" d="M494.2 339.3h0"/>
<path stroke="#ccaf63" d="M451.1 372.4h0"/>
<path stroke="#67503b" d="M599.5 405h0"/>
<path stroke="#9fb052" d="M483 344.5h0"/>
<path stroke="#b3bb46" d="M544.3 347.5h0"/>
<path stroke="#92ab6b" d="M488.6 341.6h0"/>
<path stroke="#ae5e2a" d="M430.4 394h0"/>
<path stroke="#7da392" d="M509.1 336.7h0"/>
<path stroke="#81a48b" d="M518.4 337.3h0"/>
<path stroke="#d6cf5b" d="M464.2 359.2h0"/>
<path stroke="#874d2e" d="M595.8 400.5h0"/>
<path stroke="#c39557" d="M443.5 380.8h0"/>
<path stroke="#764e35" d="M411.5 408.4h0"/>
<path stroke="#67503b" d="M405.9 411.1h0"/>
<path stroke="#bcc04b" d="M548 350h0"/>
<path stroke="#8b4c2c" d="M417.1 405.2h0"/>
<path stroke="#a14e25" d="M592.2 395.9h0"/>
<path stroke="#92ab6b" d="M531.3 341h0"/>
<path stroke="#b8753c" d="M435.8 389.2h0"/>
<path stroke="#ac5b29" d="M588.6 391.4h0"/>
<path stroke="#d2c260" d="M456.5 367h0"/>
<path stroke="#c6c651" d="M551.7 352.8h0"/>
<path stroke="#a04d25" d="M422.6 401.4h0"/>
<path stroke="#c3c44f" d="M469.7 354.4h0"/>
<path stroke="#7ba296" d="M503.4 337.2h0"/>
<path stroke="#b66d35" d="M584.9 386.9h0"/>
<path stroke="#d1cd57" d="M555.4 355.8h0"/>
<path stroke="#bd8449" d="M581.3 382.5h0"/>
<path stroke="#caa964" d="M448.9 375.5h0"/>
<path stroke="#80a48d" d="M522 338.1h0"/>
<path stroke="#97ad62" d="M535 342.7h0"/>
<path stroke="#d5cd5c" d="M559.1 359h0"/>
<path stroke="#ab5a29" d="M428.1 397.2h0"/>
<path stroke="#c39557" d="M577.6 378.2h0"/>
<path stroke="#78a19c" d="M512.7 336.8h0"/>
<path stroke="#b0b844" d="M475.2 350.1h0"/>
<path stroke="#7da392" d="M497.7 338.4h0"/>
<path stroke="#c8a461" d="M573.9 374.1h0"/>
<path stroke="#d4c75f" d="M562.8 362.5h0"/>
<path stroke="#cdb163" d="M570.2 370h0"/>
<path stroke="#d1be61" d="M566.5 366.2h0"/>
<path stroke="#c19053" d="M441.2 384.1h0"/>
<path stroke="#d5cd5b" d="M462 361.9h0"/>
<path stroke="#67503b" d="M597.9 407.2h0"/>
<path stroke="#9eb054" d="M480.8 346.2h0"/>
<path stroke="#84a585" d="M492 340.3h0"/>
<path stroke="#8faa70" d="M486.4 343h0"/>
<path stroke="#734f36" d="M409 410.9h0"/>
<path stroke="#9eb055" d="M538.7 344.7h0"/>
<path stroke="#854d2e" d="M414.6 408h0"/>
<path stroke="#884c2d" d="M594.2 402.4h0"/>
<path stroke="#b66d35" d="M433.5 392.5h0"/>
<path stroke="#d1bd61" d="M454.3 370.1h0"/>
<path stroke="#67503b" d="M403.3 413.3h0"/>
<path stroke="#81a48b" d="M525.7 339.2h0"/>
<path stroke="#9c4a25" d="M420.2 404.4h0"/>
<path stroke="#749fa4" d="M507 336.9h0"/>
<path stroke="#a24f25" d="M590.6 397.7h0"/>
<path stroke="#c7c651" d="M467.4 357h0"/>
<path stroke="#c8a461" d="M446.6 378.8h0"/>
<path stroke="#a6b345" d="M542.4 347h0"/>
<path stroke="#759fa1" d="M516.3 337.2h0"/>
<path stroke="#a75527" d="M425.7 400.4h0"/>
<path stroke="#ae5d2a" d="M586.9 392.9h0"/>
<path stroke="#bf894d" d="M438.9 387.5h0"/>
<path stroke="#b0b844" d="M546.2 349.6h0"/>
<path stroke="#b2ba45" d="M473 352.4h0"/>
<path stroke="#b8733a" d="M583.3 388.2h0"/>
<path stroke="#d5cb5d" d="M459.7 364.8h0"/>
<path stroke="#749fa4" d="M501.3 337.8h0"/>
<path stroke="#84a585" d="M529.4 340.6h0"/>
<path stroke="#c08b4f" d="M579.6 383.6h0"/>
<path stroke="#b3642d" d="M431.1 395.9h0"/>
<path stroke="#babf4a" d="M549.9 352.5h0"/>
<path stroke="#cfb862" d="M452 373.4h0"/>
<path stroke="#67503b" d="M596.3 409.4h0"/>
<path stroke="#9fb052" d="M478.5 348.3h0"/>
<path stroke="#7f4d31" d="M412.1 410.8h0"/>
<path stroke="#78a19c" d="M495.5 339.4h0"/>
<path stroke="#c59b5a" d="M575.9 379.1h0"/>
<path stroke="#704f37" d="M406.4 413.5h0"/>
<path stroke="#c6c651" d="M553.6 355.7h0"/>
<path stroke="#944b28" d="M417.7 407.5h0"/>
<path stroke="#6e9dae" d="M510.6 337h0"/>
<path stroke="#749fa3" d="M520 338h0"/>
<path stroke="#8ea972" d="M484.2 344.7h0"/>
<path stroke="#caa964" d="M572.2 374.8h0"/>
<path stroke="#c69d5c" d="M444.3 382.2h0"/>
<path stroke="#81a48b" d="M489.8 341.7h0"/>
<path stroke="#d3ce58" d="M557.4 359.1h0"/>
<path stroke="#ccca54" d="M465.2 359.7h0"/>
<path stroke="#cfb862" d="M568.5 370.6h0"/>
<path stroke="#8a4c2c" d="M592.6 404.4h0"/>
<path stroke="#89a77c" d="M533.1 342.4h0"/>
<path stroke="#d5cb5c" d="M561.1 362.7h0"/>
<path stroke="#d3c460" d="M564.8 366.5h0"/>
<path stroke="#67503b" d="M400.6 415.5h0"/>
<path stroke="#a45126" d="M423.3 403.7h0"/>
<path stroke="#bc7f44" d="M436.6 391h0"/>
<path stroke="#a35026" d="M589 399.5h0"/>
<path stroke="#d4c85e" d="M457.4 368h0"/>
<path stroke="#90aa6f" d="M536.8 344.4h0"/>
<path stroke="#b6bc48" d="M470.7 355h0"/>
<path stroke="#ae5e2a" d="M428.8 399.4h0"/>
<path stroke="#6c9cb2" d="M504.8 337.5h0"/>
<path stroke="#cdb163" d="M449.7 376.9h0"/>
<path stroke="#b05f2a" d="M585.3 394.5h0"/>
<path stroke="#759fa1" d="M523.7 339.1h0"/>
<path stroke="#c49657" d="M442 385.9h0"/>
<path stroke="#6b9cb4" d="M514.2 337.4h0"/>
<path stroke="#794e33" d="M409.6 413.6h0"/>
<path stroke="#b9773e" d="M581.6 389.7h0"/>
<path stroke="#99ae5e" d="M540.5 346.8h0"/>
<path stroke="#8b4c2c" d="M415.3 410.7h0"/>
<path stroke="#a2b14d" d="M476.3 350.6h0"/>
<path stroke="#6e9dae" d="M499.1 338.7h0"/>
<path stroke="#d2cd58" d="M462.9 362.8h0"/>
<path stroke="#67503b" d="M594.6 411.6h0"/>
<path stroke="#b8743b" d="M434.3 394.7h0"/>
<path stroke="#6d4f38" d="M403.8 416h0"/>
<path stroke="#a04c25" d="M420.9 407.1h0"/>
<path stroke="#c18f52" d="M577.9 384.9h0"/>
<path stroke="#8faa70" d="M481.9 346.7h0"/>
<path stroke="#759fa1" d="M493.3 340.7h0"/>
<path stroke="#a4b24a" d="M544.3 349.5h0"/>
<path stroke="#78a19c" d="M527.4 340.5h0"/>
<path stroke="#80a48d" d="M487.6 343.4h0"/>
<path stroke="#d3c460" d="M455.2 371.4h0"/>
<path stroke="#c79f5e" d="M574.2 380.2h0"/>
<path stroke="#8b4c2c" d="M591 406.5h0"/>
<path stroke="#67503b" d="M397.9 417.7h0"/>
<path stroke="#aa5828" d="M426.4 403h0"/>
<path stroke="#b0b844" d="M548 352.5h0"/>
<path stroke="#cbaa64" d="M447.5 380.5h0"/>
<path stroke="#ccaf63" d="M570.5 375.7h0"/>
<path stroke="#679abd" d="M508.4 337.6h0"/>
<path stroke="#bbbf4b" d="M468.5 357.8h0"/>
<path stroke="#bcc04b" d="M551.8 355.8h0"/>
<path stroke="#c18e52" d="M439.7 389.7h0"/>
<path stroke="#6a9bb6" d="M517.9 338.2h0"/>
<path stroke="#d1bd61" d="M566.8 371.3h0"/>
<path stroke="#a45226" d="M587.3 401.3h0"/>
<path stroke="#cac853" d="M555.5 359.3h0"/>
<path stroke="#d4c85e" d="M563 367.1h0"/>
<path stroke="#d6cf5b" d="M559.3 363.1h0"/>
<path stroke="#7da392" d="M531.1 342.3h0"/>
<path stroke="#b46931" d="M431.9 398.5h0"/>
<path stroke="#824d30" d="M412.8 413.9h0"/>
<path stroke="#d6cf5b" d="M460.7 366.1h0"/>
<path stroke="#734f36" d="M407 416.6h0"/>
<path stroke="#a7b345" d="M474.1 353.2h0"/>
<path stroke="#974b27" d="M418.5 410.6h0"/>
<path stroke="#b1612b" d="M583.6 396.2h0"/>
<path stroke="#679abd" d="M502.7 338.4h0"/>
<path stroke="#d1be61" d="M452.9 375.1h0"/>
<path stroke="#6a503a" d="M401.2 418.6h0"/>
<path stroke="#c8a260" d="M445.2 384.4h0"/>
<path stroke="#85a684" d="M534.8 344.5h0"/>
<path stroke="#a55226" d="M424.1 406.7h0"/>
<path stroke="#67503b" d="M593 413.8h0"/>
<path stroke="#92ab6b" d="M479.7 349h0"/>
<path stroke="#ba7b41" d="M579.9 391.2h0"/>
<path stroke="#6b9cb4" d="M521.6 339.3h0"/>
<path stroke="#6b9cb4" d="M496.9 340.1h0"/>
<path stroke="#bd8348" d="M437.4 393.6h0"/>
<path stroke="#6398c3" d="M512.1 338h0"/>
<path stroke="#81a48b" d="M485.4 345.4h0"/>
<path stroke="#c2c34e" d="M466.2 361h0"/>
<path stroke="#749fa3" d="M491.1 342.4h0"/>
<path stroke="#c29254" d="M576.2 386.3h0"/>
<path stroke="#8ea973" d="M538.6 346.9h0"/>
<path stroke="#67503b" d="M395.2 420h0"/>
<path stroke="#af5f2a" d="M429.6 402.4h0"/>
<path stroke="#8c4c2b" d="M589.3 408.6h0"/>
<path stroke="#d5cb5c" d="M458.4 369.7h0"/>
<path stroke="#c8a360" d="M572.5 381.4h0"/>
<path stroke="#794e33" d="M410.3 417.1h0"/>
<path stroke="#ceb662" d="M450.7 378.9h0"/>
<path stroke="#99ae5e" d="M542.4 349.7h0"/>
<path stroke="#8b4c2c" d="M416 414.1h0"/>
<path stroke="#6e9dae" d="M525.3 340.8h0"/>
<path stroke="#acb642" d="M471.8 356.1h0"/>
<path stroke="#c59959" d="M442.9 388.4h0"/>
<path stroke="#6198c7" d="M506.3 338.5h0"/>
<path stroke="#a55226" d="M585.6 403.3h0"/>
<path stroke="#cdb362" d="M568.8 376.7h0"/>
<path stroke="#6d4f38" d="M404.5 419.5h0"/>
<path stroke="#a04c25" d="M421.7 410.5h0"/>
<path stroke="#a6b345" d="M546.2 352.8h0"/>
<path stroke="#b9763d" d="M435.1 397.6h0"/>
<path stroke="#d2c260" d="M565 372.2h0"/>
<path stroke="#6298c5" d="M515.8 338.7h0"/>
<path stroke="#b3bb46" d="M549.9 356.2h0"/>
<path stroke="#d5cb5d" d="M561.3 367.8h0"/>
<path stroke="#c2c34e" d="M553.7 359.8h0"/>
<path stroke="#d2cd58" d="M557.5 363.7h0"/>
<path stroke="#b2632c" d="M581.9 398.1h0"/>
<path stroke="#97ad62" d="M477.5 351.7h0"/>
<path stroke="#67503b" d="M398.5 421.2h0"/>
<path stroke="#cac853" d="M464 364.4h0"/>
<path stroke="#aa5828" d="M427.3 406.4h0"/>
<path stroke="#6398c3" d="M500.5 339.8h0"/>
<path stroke="#749fa4" d="M529.1 342.6h0"/>
<path stroke="#67503b" d="M591.3 416.1h0"/>
<path stroke="#d4c75f" d="M456.2 373.5h0"/>
<path stroke="#84a585" d="M483.2 347.8h0"/>
<path stroke="#ccad63" d="M448.4 383h0"/>
<path stroke="#6a9bb6" d="M494.7 341.7h0"/>
<path stroke="#bb7e44" d="M578.2 392.9h0"/>
<path stroke="#c19053" d="M440.6 392.6h0"/>
<path stroke="#759fa1" d="M488.9 344.4h0"/>
<path stroke="#7f4d31" d="M413.6 417.7h0"/>
<path stroke="#b46931" d="M432.8 401.8h0"/>
<path stroke="#704f37" d="M407.8 420.4h0"/>
<path stroke="#5e96cd" d="M510 338.9h0"/>
<path stroke="#6398c3" d="M519.5 339.9h0"/>
<path stroke="#7ba296" d="M532.9 344.8h0"/>
<path stroke="#b3bb46" d="M469.6 359.4h0"/>
<path stroke="#944b28" d="M419.3 414.3h0"/>
<path stroke="#8d4c2b" d="M587.6 410.7h0"/>
<path stroke="#c39556" d="M574.5 387.8h0"/>
<path stroke="#67503b" d="M401.9 422.5h0"/>
<path stroke="#a45126" d="M424.9 410.5h0"/>
<path stroke="#d3ce58" d="M461.7 368.1h0"/>
<path stroke="#85a684" d="M536.6 347.3h0"/>
<path stroke="#c9a663" d="M570.7 382.8h0"/>
<path stroke="#d2c160" d="M453.9 377.5h0"/>
<path stroke="#a65327" d="M583.9 405.3h0"/>
<path stroke="#c8a361" d="M446.2 387.2h0"/>
<path stroke="#9eb055" d="M475.2 354.7h0"/>
<path stroke="#bd8348" d="M438.4 396.9h0"/>
<path stroke="#5e96cd" d="M504.1 339.8h0"/>
<path stroke="#cfb662" d="M567 378h0"/>
<path stroke="#679abd" d="M523.3 341.4h0"/>
<path stroke="#90aa6f" d="M540.4 350.2h0"/>
<path stroke="#ae5e2a" d="M430.5 406.1h0"/>
<path stroke="#89a77c" d="M481 350.5h0"/>
<path stroke="#5d96cf" d="M513.7 339.7h0"/>
<path stroke="#d3c55f" d="M563.2 373.3h0"/>
<path stroke="#b3652d" d="M580.2 400h0"/>
<path stroke="#734f36" d="M411.1 421.3h0"/>
<path stroke="#6298c5" d="M498.3 341.4h0"/>
<path stroke="#9eb055" d="M544.2 353.3h0"/>
<path stroke="#854d2e" d="M416.9 418.2h0"/>
<path stroke="#bcc04b" d="M467.4 362.9h0"/>
<path stroke="#67503b" d="M589.6 418.4h0"/>
<path stroke="#d5cd5b" d="M559.4 368.8h0"/>
<path stroke="#78a19c" d="M486.7 346.8h0"/>
<path stroke="#acb642" d="M548 356.8h0"/>
<path stroke="#67503b" d="M405.2 423.7h0"/>
<path stroke="#6b9cb4" d="M492.5 343.8h0"/>
<path stroke="#ccca54" d="M555.6 364.6h0"/>
<path stroke="#bbbf4b" d="M551.8 360.6h0"/>
<path stroke="#9c4a25" d="M422.6 414.6h0"/>
<path stroke="#d5cd5c" d="M459.5 372.1h0"/>
<path stroke="#c59959" d="M443.9 391.6h0"/>
<path stroke="#cfb762" d="M451.7 381.8h0"/>
<path stroke="#6c9cb2" d="M527.1 343.3h0"/>
<path stroke="#b8743b" d="M436.1 401.3h0"/>
<path stroke="#bc8146" d="M576.5 394.7h0"/>
<path stroke="#8e4c2b" d="M585.9 412.9h0"/>
<path stroke="#a75527" d="M428.2 410.5h0"/>
<path stroke="#a6b345" d="M473 358h0"/>
<path stroke="#5a95d4" d="M507.8 340.2h0"/>
<path stroke="#c49758" d="M572.7 389.5h0"/>
<path stroke="#5e96cd" d="M517.4 340.8h0"/>
<path stroke="#749fa4" d="M530.8 345.5h0"/>
<path stroke="#764e35" d="M414.5 422.2h0"/>
<path stroke="#c6c651" d="M465.1 366.7h0"/>
<path stroke="#67503b" d="M408.6 424.9h0"/>
<path stroke="#a65427" d="M582.2 407.4h0"/>
<path stroke="#c18e52" d="M441.7 396.2h0"/>
<path stroke="#90aa6f" d="M478.7 353.6h0"/>
<path stroke="#ccad63" d="M449.5 386.2h0"/>
<path stroke="#8b4c2c" d="M420.2 418.9h0"/>
<path stroke="#d4c85e" d="M457.3 376.3h0"/>
<path stroke="#caa864" d="M569 384.4h0"/>
<path stroke="#b3642d" d="M433.8 405.9h0"/>
<path stroke="#5d96cf" d="M502 341.5h0"/>
<path stroke="#7da392" d="M534.7 348.1h0"/>
<path stroke="#7da392" d="M484.5 349.6h0"/>
<path stroke="#a04d25" d="M425.9 415h0"/>
<path stroke="#d0b962" d="M565.2 379.4h0"/>
<path stroke="#6398c3" d="M496.1 343.5h0"/>
<path stroke="#6198c7" d="M521.2 342.4h0"/>
<path stroke="#6e9dae" d="M490.3 346.2h0"/>
<path stroke="#b3662f" d="M578.5 402h0"/>
<path stroke="#67503b" d="M587.9 420.7h0"/>
<path stroke="#5994d6" d="M511.5 341h0"/>
<path stroke="#89a77c" d="M538.5 351h0"/>
<path stroke="#b0b844" d="M470.8 361.7h0"/>
<path stroke="#d4c75f" d="M561.4 374.6h0"/>
<path stroke="#bc7f44" d="M439.4 400.9h0"/>
<path stroke="#c8a260" d="M447.2 390.8h0"/>
<path stroke="#97ad62" d="M542.3 354.2h0"/>
<path stroke="#ab5a29" d="M431.6 410.6h0"/>
<path stroke="#d6cf5b" d="M557.6 370.1h0"/>
<path stroke="#d1cd57" d="M462.9 370.8h0"/>
<path stroke="#d2c160" d="M455.1 380.7h0"/>
<path stroke="#67503b" d="M412 426.2h0"/>
<path stroke="#a7b345" d="M546.1 357.8h0"/>
<path stroke="#794e34" d="M417.8 423.1h0"/>
<path stroke="#bd8348" d="M574.7 396.6h0"/>
<path stroke="#c7c651" d="M553.8 365.7h0"/>
<path stroke="#b6bc48" d="M549.9 361.6h0"/>
<path stroke="#8e4c2b" d="M584.2 415.1h0"/>
<path stroke="#679abd" d="M525 344.3h0"/>
<path stroke="#99ae5e" d="M476.5 357h0"/>
<path stroke="#904c2a" d="M423.6 419.5h0"/>
<path stroke="#5994d6" d="M505.7 341.9h0"/>
<path stroke="#c49859" d="M570.9 391.3h0"/>
<path stroke="#b66d35" d="M437.2 405.8h0"/>
<path stroke="#5a95d4" d="M515.3 342.2h0"/>
<path stroke="#c49657" d="M445 395.7h0"/>
<path stroke="#85a684" d="M482.3 352.7h0"/>
<path stroke="#babf4a" d="M468.6 365.6h0"/>
<path stroke="#a35026" d="M429.3 415.3h0"/>
<path stroke="#a65427" d="M580.5 409.6h0"/>
<path stroke="#ceb662" d="M452.8 385.3h0"/>
<path stroke="#5e96cd" d="M499.8 343.6h0"/>
<path stroke="#6e9dae" d="M528.8 346.5h0"/>
<path stroke="#d5cd5c" d="M460.7 375.2h0"/>
<path stroke="#cbaa64" d="M567.2 386.1h0"/>
<path stroke="#749fa4" d="M488.1 349h0"/>
<path stroke="#679abd" d="M493.9 346h0"/>
<path stroke="#67503b" d="M415.5 427.4h0"/>
<path stroke="#7b4e32" d="M421.3 424.1h0"/>
<path stroke="#78a19c" d="M532.6 349.1h0"/>
<path stroke="#b4672f" d="M576.7 404.1h0"/>
<path stroke="#67503b" d="M586.2 423h0"/>
<path stroke="#d0bb61" d="M563.4 381.1h0"/>
<path stroke="#ae5e2a" d="M434.9 410.7h0"/>
<path stroke="#bf894d" d="M442.8 400.6h0"/>
<path stroke="#a4b24a" d="M474.3 360.7h0"/>
<path stroke="#5894d8" d="M509.4 342.7h0"/>
<path stroke="#5e96cd" d="M519.1 343.7h0"/>
<path stroke="#954b28" d="M427 420.2h0"/>
<path stroke="#cbaa64" d="M450.6 390.2h0"/>
<path stroke="#d4c85e" d="M559.5 376.2h0"/>
<path stroke="#84a585" d="M536.5 352.1h0"/>
<path stroke="#c6c651" d="M466.3 369.8h0"/>
<path stroke="#d4c75f" d="M458.5 379.8h0"/>
<path stroke="#bd8449" d="M572.9 398.6h0"/>
<path stroke="#d6d05a" d="M555.7 371.5h0"/>
<path stroke="#92ab6b" d="M540.3 355.4h0"/>
<path stroke="#8e4c2b" d="M582.4 417.4h0"/>
<path stroke="#8ea973" d="M480 356.2h0"/>
<path stroke="#5a95d4" d="M503.5 344h0"/>
<path stroke="#c3c44f" d="M551.9 367.1h0"/>
<path stroke="#a2b14d" d="M544.2 359h0"/>
<path stroke="#a65327" d="M432.7 415.8h0"/>
<path stroke="#b2ba45" d="M548 362.9h0"/>
<path stroke="#67503b" d="M418.9 428.7h0"/>
<path stroke="#b8753c" d="M440.6 405.7h0"/>
<path stroke="#6398c3" d="M522.9 345.6h0"/>
<path stroke="#c69d5c" d="M448.4 395.2h0"/>
<path stroke="#7ba296" d="M485.8 352.2h0"/>
<path stroke="#7e4d31" d="M424.7 425.1h0"/>
<path stroke="#c59959" d="M569.1 393.2h0"/>
<path stroke="#6198c7" d="M497.6 346h0"/>
<path stroke="#5994d6" d="M513.2 343.9h0"/>
<path stroke="#6c9cb2" d="M491.7 348.8h0"/>
<path stroke="#b0b844" d="M472 364.7h0"/>
<path stroke="#d1be61" d="M456.2 384.6h0"/>
<path stroke="#a65427" d="M578.7 411.8h0"/>
<path stroke="#d3ce58" d="M464.1 374.4h0"/>
<path stroke="#6b9cb4" d="M526.7 347.9h0"/>
<path stroke="#b2622b" d="M438.3 410.9h0"/>
<path stroke="#9a4a26" d="M430.4 420.9h0"/>
<path stroke="#cbab64" d="M565.3 388h0"/>
<path stroke="#c19053" d="M446.2 400.4h0"/>
<path stroke="#99ae5e" d="M477.8 360h0"/>
<path stroke="#67503b" d="M584.5 425.4h0"/>
<path stroke="#b46730" d="M574.9 406.3h0"/>
<path stroke="#5994d6" d="M507.2 344.8h0"/>
<path stroke="#67503b" d="M422.4 430h0"/>
<path stroke="#d1bd61" d="M561.5 382.9h0"/>
<path stroke="#cdb163" d="M454 389.7h0"/>
<path stroke="#759fa1" d="M530.6 350.6h0"/>
<path stroke="#5d96cf" d="M517 345.4h0"/>
<path stroke="#bcc04b" d="M469.8 369.1h0"/>
<path stroke="#d5cb5c" d="M461.9 379.1h0"/>
<path stroke="#a85628" d="M436.1 416.2h0"/>
<path stroke="#804d30" d="M428.2 426.1h0"/>
<path stroke="#d4c95e" d="M557.7 378h0"/>
<path stroke="#85a684" d="M483.6 355.7h0"/>
<path stroke="#bb7d43" d="M444 405.8h0"/>
<path stroke="#5e96cd" d="M501.3 346.5h0"/>
<path stroke="#81a48b" d="M534.5 353.6h0"/>
<path stroke="#bd8449" d="M571.1 400.8h0"/>
<path stroke="#8e4c2b" d="M580.7 419.8h0"/>
<path stroke="#d4cf59" d="M553.8 373.3h0"/>
<path stroke="#749fa4" d="M489.5 352h0"/>
<path stroke="#679abd" d="M495.4 348.9h0"/>
<path stroke="#8faa70" d="M538.3 356.9h0"/>
<path stroke="#c8a461" d="M451.8 394.9h0"/>
<path stroke="#c1c34e" d="M549.9 368.8h0"/>
<path stroke="#9fb052" d="M542.2 360.6h0"/>
<path stroke="#6298c5" d="M520.8 347.4h0"/>
<path stroke="#b0b844" d="M546.1 364.5h0"/>
<path stroke="#9e4a24" d="M433.9 421.6h0"/>
<path stroke="#a6b345" d="M475.6 364.1h0"/>
<path stroke="#5a95d4" d="M511 346h0"/>
<path stroke="#d3c460" d="M459.7 384.1h0"/>
<path stroke="#c5995a" d="M567.3 395.4h0"/>
<path stroke="#b46830" d="M441.8 411.2h0"/>
<path stroke="#67503b" d="M425.9 431.3h0"/>
<path stroke="#cac853" d="M467.6 373.7h0"/>
<path stroke="#a65427" d="M576.9 414.2h0"/>
<path stroke="#c39557" d="M449.6 400.3h0"/>
<path stroke="#6a9bb6" d="M524.7 349.7h0"/>
<path stroke="#cbac63" d="M563.5 390.1h0"/>
<path stroke="#90aa6f" d="M481.4 359.6h0"/>
<path stroke="#834d2f" d="M431.7 427.1h0"/>
<path stroke="#5d96cf" d="M505.1 347.3h0"/>
<path stroke="#aa5928" d="M439.6 416.8h0"/>
<path stroke="#cfb862" d="M457.5 389.4h0"/>
<path stroke="#b4672f" d="M573.1 408.6h0"/>
<path stroke="#67503b" d="M582.7 427.8h0"/>
<path stroke="#5e96cd" d="M514.8 347.6h0"/>
<path stroke="#7da392" d="M487.3 355.6h0"/>
<path stroke="#d1bd61" d="M559.6 385h0"/>
<path stroke="#b3bb46" d="M473.4 368.6h0"/>
<path stroke="#bd8449" d="M447.5 405.9h0"/>
<path stroke="#d6cf5b" d="M465.4 378.6h0"/>
<path stroke="#6398c3" d="M499.1 349.4h0"/>
<path stroke="#749fa3" d="M528.5 352.4h0"/>
<path stroke="#6e9dae" d="M493.2 352.1h0"/>
<path stroke="#67503b" d="M429.4 432.6h0"/>
<path stroke="#a04c25" d="M437.4 422.4h0"/>
<path stroke="#d4c95d" d="M555.7 380h0"/>
<path stroke="#bd8449" d="M569.3 403.1h0"/>
<path stroke="#caa964" d="M455.3 394.8h0"/>
<path stroke="#80a48d" d="M532.4 355.4h0"/>
<path stroke="#8e4c2b" d="M578.9 422.2h0"/>
<path stroke="#b66d35" d="M445.3 411.6h0"/>
<path stroke="#d3ce58" d="M551.9 375.2h0"/>
<path stroke="#9eb055" d="M479.2 363.8h0"/>
<path stroke="#8ea972" d="M536.3 358.8h0"/>
<path stroke="#5e96cd" d="M508.9 348.5h0"/>
<path stroke="#6398c3" d="M518.7 349.5h0"/>
<path stroke="#d4c85e" d="M463.2 383.8h0"/>
<path stroke="#c0c34e" d="M548 370.7h0"/>
<path stroke="#854d2f" d="M435.2 428.1h0"/>
<path stroke="#9eb054" d="M540.2 362.5h0"/>
<path stroke="#afb844" d="M544.1 366.4h0"/>
<path stroke="#c2c34e" d="M471.2 373.4h0"/>
<path stroke="#c59959" d="M565.4 397.7h0"/>
<path stroke="#c59b5a" d="M453.1 400.4h0"/>
<path stroke="#ac5b29" d="M443.1 417.4h0"/>
<path stroke="#a65427" d="M575.1 416.6h0"/>
<path stroke="#89a77c" d="M485.1 359.5h0"/>
<path stroke="#6298c5" d="M502.9 350.2h0"/>
<path stroke="#67503b" d="M433 433.9h0"/>
<path stroke="#6b9cb4" d="M522.6 351.8h0"/>
<path stroke="#d1bd61" d="M461 389.2h0"/>
<path stroke="#78a19c" d="M491 355.8h0"/>
<path stroke="#cbab64" d="M561.6 392.4h0"/>
<path stroke="#6b9cb4" d="M496.9 352.6h0"/>
<path stroke="#c08b4f" d="M451 406.2h0"/>
<path stroke="#a14e25" d="M440.9 423.3h0"/>
<path stroke="#acb642" d="M477 368.4h0"/>
<path stroke="#6198c7" d="M512.7 350.1h0"/>
<path stroke="#d2cd58" d="M469 378.4h0"/>
<path stroke="#b3662f" d="M571.2 411h0"/>
<path stroke="#67503b" d="M580.9 430.2h0"/>
<path stroke="#d1bd61" d="M557.7 387.2h0"/>
<path stroke="#759fa1" d="M526.4 354.5h0"/>
<path stroke="#b8733a" d="M448.8 412.1h0"/>
<path stroke="#ccaf63" d="M458.9 394.8h0"/>
<path stroke="#874d2e" d="M438.7 429.2h0"/>
<path stroke="#d4c95e" d="M553.8 382.3h0"/>
<path stroke="#97ad62" d="M482.8 363.8h0"/>
<path stroke="#bd8348" d="M567.4 405.5h0"/>
<path stroke="#81a48b" d="M530.3 357.6h0"/>
<path stroke="#6398c3" d="M506.7 351.4h0"/>
<path stroke="#8d4c2b" d="M577.1 424.6h0"/>
<path stroke="#d5cb5d" d="M466.8 383.7h0"/>
<path stroke="#ae5d2a" d="M446.6 418.1h0"/>
<path stroke="#679abd" d="M516.5 352.1h0"/>
<path stroke="#d4cf59" d="M549.9 377.5h0"/>
<path stroke="#bbbf4b" d="M474.8 373.2h0"/>
<path stroke="#67503b" d="M436.5 435.2h0"/>
<path stroke="#c79f5e" d="M456.7 400.6h0"/>
<path stroke="#8faa70" d="M534.3 361h0"/>
<path stroke="#84a585" d="M488.8 359.7h0"/>
<path stroke="#c1c34e" d="M546 372.9h0"/>
<path stroke="#6a9bb6" d="M500.7 353.5h0"/>
<path stroke="#9fb052" d="M538.2 364.7h0"/>
<path stroke="#b0b844" d="M542.1 368.7h0"/>
<path stroke="#759fa1" d="M494.7 356.3h0"/>
<path stroke="#c49859" d="M563.5 400.1h0"/>
<path stroke="#a24f25" d="M444.5 424.2h0"/>
<path stroke="#a65327" d="M573.2 419.1h0"/>
<path stroke="#c18f52" d="M454.5 406.5h0"/>
<path stroke="#d2c260" d="M464.6 389.2h0"/>
<path stroke="#6e9dae" d="M520.4 354.4h0"/>
<path stroke="#a7b345" d="M480.6 368.4h0"/>
<path stroke="#679abd" d="M510.5 353h0"/>
<path stroke="#ccca54" d="M472.6 378.4h0"/>
<path stroke="#cbaa64" d="M559.6 394.8h0"/>
<path stroke="#884c2d" d="M442.3 430.3h0"/>
<path stroke="#b9773e" d="M452.4 412.6h0"/>
<path stroke="#b3652d" d="M569.4 413.6h0"/>
<path stroke="#cdb362" d="M462.4 395h0"/>
<path stroke="#78a19c" d="M524.3 357.1h0"/>
<path stroke="#67503b" d="M440.1 436.5h0"/>
<path stroke="#92ab6b" d="M486.6 364.1h0"/>
<path stroke="#67503b" d="M579.1 432.6h0"/>
<path stroke="#d0bb61" d="M555.7 389.7h0"/>
<path stroke="#6b9cb4" d="M504.5 354.7h0"/>
<path stroke="#b05f2a" d="M450.2 418.8h0"/>
<path stroke="#d5cd5b" d="M470.4 383.8h0"/>
<path stroke="#81a48b" d="M492.5 360.3h0"/>
<path stroke="#749fa3" d="M498.5 357.2h0"/>
<path stroke="#c8a360" d="M460.3 400.9h0"/>
<path stroke="#b6bc48" d="M478.4 373.4h0"/>
<path stroke="#d4c85e" d="M551.8 384.7h0"/>
<path stroke="#84a585" d="M528.3 360.1h0"/>
<path stroke="#6c9cb2" d="M514.4 355h0"/>
<path stroke="#bc8146" d="M565.5 408.1h0"/>
<path stroke="#a35026" d="M448.1 425.1h0"/>
<path stroke="#8c4c2b" d="M575.3 427.1h0"/>
<path stroke="#d6d05a" d="M547.9 380h0"/>
<path stroke="#92ab6b" d="M532.2 363.5h0"/>
<path stroke="#c29254" d="M458.1 407h0"/>
<path stroke="#c3c44f" d="M544 375.5h0"/>
<path stroke="#a2b14d" d="M536.1 367.2h0"/>
<path stroke="#8a4c2c" d="M445.9 431.5h0"/>
<path stroke="#b2ba45" d="M540.1 371.2h0"/>
<path stroke="#d3c55f" d="M468.2 389.5h0"/>
<path stroke="#c49758" d="M561.6 402.8h0"/>
<path stroke="#a2b14d" d="M484.4 368.8h0"/>
<path stroke="#6e9dae" d="M508.4 356.3h0"/>
<path stroke="#749fa4" d="M518.3 357.3h0"/>
<path stroke="#c7c651" d="M476.3 378.6h0"/>
<path stroke="#ba7b41" d="M456 413.3h0"/>
<path stroke="#67503b" d="M443.8 437.8h0"/>
<path stroke="#a55226" d="M571.4 421.7h0"/>
<path stroke="#8faa70" d="M490.3 364.7h0"/>
<path stroke="#cfb662" d="M466.1 395.3h0"/>
<path stroke="#caa864" d="M557.7 397.5h0"/>
<path stroke="#759fa1" d="M502.3 358.4h0"/>
<path stroke="#b1612b" d="M453.8 419.7h0"/>
<path stroke="#80a48d" d="M496.3 361.2h0"/>
<path stroke="#7da392" d="M522.2 360h0"/>
<path stroke="#b2632c" d="M567.5 416.2h0"/>
<path stroke="#d6cf5b" d="M474.1 384.1h0"/>
<path stroke="#a45226" d="M451.7 426.1h0"/>
<path stroke="#d0b962" d="M553.8 392.4h0"/>
<path stroke="#b2ba45" d="M482.2 373.8h0"/>
<path stroke="#c9a663" d="M463.9 401.4h0"/>
<path stroke="#749fa4" d="M512.2 358.3h0"/>
<path stroke="#67503b" d="M577.3 435.1h0"/>
<path stroke="#89a77c" d="M526.2 363h0"/>
<path stroke="#8b4c2c" d="M449.5 432.6h0"/>
<path stroke="#d4c75f" d="M549.9 387.5h0"/>
<path stroke="#c39556" d="M461.8 407.7h0"/>
<path stroke="#bb7e44" d="M563.6 410.8h0"/>
<path stroke="#9fb052" d="M488.1 369.4h0"/>
<path stroke="#97ad62" d="M530.1 366.4h0"/>
<path stroke="#d4c75f" d="M471.9 389.9h0"/>
<path stroke="#67503b" d="M447.4 439.2h0"/>
<path stroke="#d6cf5b" d="M545.9 382.8h0"/>
<path stroke="#78a19c" d="M506.2 360h0"/>
<path stroke="#a7b345" d="M534 370h0"/>
<path stroke="#c7c651" d="M542 378.3h0"/>
<path stroke="#8b4c2c" d="M573.4 429.7h0"/>
<path stroke="#bb7e44" d="M459.6 414.1h0"/>
<path stroke="#c3c44f" d="M480 379.1h0"/>
<path stroke="#b6bc48" d="M538 374h0"/>
<path stroke="#7ba296" d="M516.2 360.6h0"/>
<path stroke="#8ea972" d="M494.1 365.6h0"/>
<path stroke="#81a48b" d="M500.1 362.5h0"/>
<path stroke="#c39556" d="M559.7 405.5h0"/>
<path stroke="#b2632c" d="M457.5 420.6h0"/>
<path stroke="#d0b962" d="M469.7 395.9h0"/>
<path stroke="#a45226" d="M569.5 424.3h0"/>
<path stroke="#a55226" d="M455.3 427.2h0"/>
<path stroke="#85a684" d="M520.1 363.2h0"/>
<path stroke="#b0b844" d="M485.9 374.5h0"/>
<path stroke="#c9a663" d="M555.7 400.4h0"/>
<path stroke="#d6d05a" d="M477.8 384.7h0"/>
<path stroke="#caa864" d="M467.6 402.1h0"/>
<path stroke="#7da392" d="M510.1 361.9h0"/>
<path stroke="#8c4c2b" d="M453.2 433.8h0"/>
<path stroke="#67503b" d="M451.1 440.5h0"/>
<path stroke="#cfb662" d="M551.8 395.3h0"/>
<path stroke="#9eb054" d="M491.9 370.4h0"/>
<path stroke="#b1612b" d="M565.6 419h0"/>
<path stroke="#c49758" d="M465.4 408.4h0"/>
<path stroke="#90aa6f" d="M524 366.2h0"/>
<path stroke="#84a585" d="M504 364.1h0"/>
<path stroke="#8faa70" d="M497.9 366.9h0"/>
<path stroke="#d4c85e" d="M475.6 390.5h0"/>
<path stroke="#d3c55f" d="M547.8 390.5h0"/>
<path stroke="#bc8146" d="M463.3 414.9h0"/>
<path stroke="#c1c34e" d="M483.7 379.9h0"/>
<path stroke="#9eb055" d="M528 369.6h0"/>
<path stroke="#85a684" d="M514 364.2h0"/>
<path stroke="#67503b" d="M575.5 437.6h0"/>
<path stroke="#d5cd5b" d="M543.9 385.8h0"/>
<path stroke="#ba7b41" d="M561.7 413.7h0"/>
<path stroke="#acb642" d="M532 373.2h0"/>
<path stroke="#b3652d" d="M461.2 421.6h0"/>
<path stroke="#ccca54" d="M539.9 381.3h0"/>
<path stroke="#bbbf4b" d="M535.9 377.1h0"/>
<path stroke="#d0bb61" d="M473.5 396.6h0"/>
<path stroke="#a65327" d="M459 428.3h0"/>
<path stroke="#afb844" d="M489.7 375.5h0"/>
<path stroke="#8a4c2c" d="M571.5 432.3h0"/>
<path stroke="#89a77c" d="M507.9 366h0"/>
<path stroke="#c29254" d="M557.7 408.5h0"/>
<path stroke="#d4cf59" d="M481.5 385.5h0"/>
<path stroke="#8d4c2b" d="M456.9 435.1h0"/>
<path stroke="#8ea973" d="M517.9 366.9h0"/>
<path stroke="#cbaa64" d="M471.3 402.9h0"/>
<path stroke="#9fb052" d="M495.7 371.7h0"/>
<path stroke="#67503b" d="M454.8 441.9h0"/>
<path stroke="#92ab6b" d="M501.8 368.5h0"/>
<path stroke="#c8a360" d="M553.8 403.4h0"/>
<path stroke="#c49859" d="M469.1 409.3h0"/>
<path stroke="#a35026" d="M567.6 427.1h0"/>
<path stroke="#99ae5e" d="M521.9 369.8h0"/>
<path stroke="#d4c95e" d="M479.4 391.4h0"/>
<path stroke="#c0c34e" d="M487.5 380.9h0"/>
<path stroke="#bd8348" d="M467 415.9h0"/>
<path stroke="#cdb362" d="M549.8 398.4h0"/>
<path stroke="#90aa6f" d="M511.8 368.3h0"/>
<path stroke="#a6b345" d="M525.9 373.1h0"/>
<path stroke="#b05f2a" d="M563.7 421.8h0"/>
<path stroke="#b3662f" d="M464.9 422.7h0"/>
<path stroke="#d2c260" d="M545.8 393.7h0"/>
<path stroke="#d1bd61" d="M477.2 397.5h0"/>
<path stroke="#b0b844" d="M493.6 376.8h0"/>
<path stroke="#b3bb46" d="M529.9 376.7h0"/>
<path stroke="#a65427" d="M462.7 429.5h0"/>
<path stroke="#97ad62" d="M505.7 370.4h0"/>
<path stroke="#d5cb5d" d="M541.8 389.1h0"/>
<path stroke="#c2c34e" d="M533.8 380.6h0"/>
<path stroke="#a2b14d" d="M499.6 373.2h0"/>
<path stroke="#d2cd58" d="M537.8 384.7h0"/>
<path stroke="#8e4c2b" d="M460.6 436.3h0"/>
<path stroke="#d3ce58" d="M485.3 386.6h0"/>
<path stroke="#b9773e" d="M559.7 416.7h0"/>
<path stroke="#99ae5e" d="M515.8 370.9h0"/>
<path stroke="#cbab64" d="M475.1 403.9h0"/>
<path stroke="#67503b" d="M458.5 443.2h0"/>
<path stroke="#67503b" d="M573.6 440.1h0"/>
<path stroke="#c59959" d="M472.9 410.4h0"/>
<path stroke="#c18f52" d="M555.7 411.6h0"/>
<path stroke="#c1c34e" d="M491.4 382.2h0"/>
<path stroke="#d4c95d" d="M483.2 392.5h0"/>
<path stroke="#a4b24a" d="M519.7 373.8h0"/>
<path stroke="#9eb055" d="M509.7 372.6h0"/>
<path stroke="#884c2d" d="M569.6 435h0"/>
<path stroke="#bd8449" d="M470.8 417.1h0"/>
<path stroke="#c79f5e" d="M551.7 406.6h0"/>
<path stroke="#b2ba45" d="M497.4 378.3h0"/>
<path stroke="#a7b345" d="M503.5 375.1h0"/>
<path stroke="#b4672f" d="M468.6 423.8h0"/>
<path stroke="#b0b844" d="M523.7 377h0"/>
<path stroke="#d1bd61" d="M481 398.7h0"/>
<path stroke="#ccaf63" d="M547.8 401.8h0"/>
<path stroke="#a24f25" d="M565.7 429.9h0"/>
<path stroke="#a65427" d="M466.5 430.7h0"/>
<path stroke="#d4cf59" d="M489.2 387.9h0"/>
<path stroke="#bcc04b" d="M527.7 380.5h0"/>
<path stroke="#8e4c2b" d="M464.4 437.7h0"/>
<path stroke="#a6b345" d="M513.6 375.2h0"/>
<path stroke="#d1bd61" d="M543.8 397.1h0"/>
<path stroke="#67503b" d="M462.2 444.6h0"/>
<path stroke="#cbac63" d="M478.8 405h0"/>
<path stroke="#cac853" d="M531.7 384.3h0"/>
<path stroke="#d4c85e" d="M539.7 392.6h0"/>
<path stroke="#d6cf5b" d="M535.7 388.3h0"/>
<path stroke="#ae5d2a" d="M561.7 424.8h0"/>
<path stroke="#c3c44f" d="M495.3 383.7h0"/>
<path stroke="#acb642" d="M507.5 377.3h0"/>
<path stroke="#c5995a" d="M476.7 411.6h0"/>
<path stroke="#d4c95e" d="M487 393.8h0"/>
<path stroke="#b6bc48" d="M501.3 380.2h0"/>
<path stroke="#b0b844" d="M517.6 378h0"/>
<path stroke="#b8733a" d="M557.7 419.8h0"/>
<path stroke="#bd8449" d="M474.5 418.3h0"/>
<path stroke="#b46730" d="M472.4 425.1h0"/>
<path stroke="#c08b4f" d="M553.7 414.8h0"/>
<path stroke="#d1bd61" d="M484.8 400h0"/>
<path stroke="#babf4a" d="M521.6 381.2h0"/>
<path stroke="#d6d05a" d="M493.1 389.4h0"/>
<path stroke="#67503b" d="M571.7 442.7h0"/>
<path stroke="#a65427" d="M470.3 432h0"/>
<path stroke="#b3bb46" d="M511.4 379.8h0"/>
<path stroke="#c59b5a" d="M549.7 410h0"/>
<path stroke="#8e4c2b" d="M468.1 439h0"/>
<path stroke="#c6c651" d="M525.6 384.6h0"/>
<path stroke="#c7c651" d="M499.2 385.6h0"/>
<path stroke="#cbab64" d="M482.7 406.4h0"/>
<path stroke="#bbbf4b" d="M505.3 382.3h0"/>
<path stroke="#67503b" d="M466 446h0"/>
<path stroke="#caa964" d="M545.7 405.3h0"/>
<path stroke="#874d2e" d="M567.7 437.7h0"/>
<path stroke="#d3ce58" d="M529.6 388.3h0"/>
<path stroke="#cfb862" d="M541.7 400.7h0"/>
<path stroke="#d4c85e" d="M490.9 395.3h0"/>
<path stroke="#d5cb5c" d="M533.6 392.2h0"/>
<path stroke="#d3c460" d="M537.7 396.4h0"/>
<path stroke="#c59959" d="M480.5 412.9h0"/>
<path stroke="#bcc04b" d="M515.4 382.6h0"/>
<path stroke="#a14e25" d="M563.7 432.8h0"/>
<path stroke="#bd8449" d="M478.4 419.6h0"/>
<path stroke="#d6cf5b" d="M497 391.2h0"/>
<path stroke="#ac5b29" d="M559.7 427.9h0"/>
<path stroke="#d0bb61" d="M488.7 401.5h0"/>
<path stroke="#c2c34e" d="M509.3 384.8h0"/>
<path stroke="#b4672f" d="M476.2 426.5h0"/>
<path stroke="#c6c651" d="M519.4 385.7h0"/>
<path stroke="#ccca54" d="M503.1 387.7h0"/>
<path stroke="#a65427" d="M474.1 433.4h0"/>
<path stroke="#b66d35" d="M555.7 423h0"/>
<path stroke="#8e4c2b" d="M471.9 440.4h0"/>
<path stroke="#cbaa64" d="M486.5 407.9h0"/>
<path stroke="#d1cd57" d="M523.4 389h0"/>
<path stroke="#bd8449" d="M551.7 418.2h0"/>
<path stroke="#d4c75f" d="M494.8 397.1h0"/>
<path stroke="#67503b" d="M469.8 447.4h0"/>
<path stroke="#cac853" d="M513.3 387.5h0"/>
<path stroke="#d5cd5c" d="M527.5 392.6h0"/>
<path stroke="#c39557" d="M547.7 413.5h0"/>
<path stroke="#c49859" d="M484.4 414.4h0"/>
<path stroke="#d5cd5b" d="M500.9 393.2h0"/>
<path stroke="#c8a461" d="M543.6 409h0"/>
<path stroke="#d4c75f" d="M531.5 396.4h0"/>
<path stroke="#d2cd58" d="M507.1 390h0"/>
<path stroke="#cdb163" d="M539.6 404.6h0"/>
<path stroke="#d1be61" d="M535.5 400.4h0"/>
<path stroke="#bd8348" d="M482.2 421.1h0"/>
<path stroke="#d0b962" d="M492.6 403.2h0"/>
<path stroke="#67503b" d="M569.8 445.3h0"/>
<path stroke="#d3ce58" d="M517.3 390.4h0"/>
<path stroke="#b3662f" d="M480.1 427.9h0"/>
<path stroke="#854d2f" d="M565.8 440.5h0"/>
<path stroke="#a65427" d="M477.9 434.8h0"/>
<path stroke="#d3c55f" d="M498.7 399.1h0"/>
<path stroke="#caa864" d="M490.4 409.5h0"/>
<path stroke="#d6cf5b" d="M511.1 392.6h0"/>
<path stroke="#d5cd5c" d="M521.3 393.6h0"/>
<path stroke="#a04c25" d="M561.7 435.7h0"/>
<path stroke="#8e4c2b" d="M475.8 441.8h0"/>
<path stroke="#d5cb5d" d="M504.9 395.5h0"/>
<path stroke="#67503b" d="M473.6 448.8h0"/>
<path stroke="#aa5928" d="M557.7 431h0"/>
<path stroke="#c49758" d="M488.3 416.1h0"/>
<path stroke="#d4c85e" d="M525.3 397.1h0"/>
<path stroke="#b46830" d="M553.7 426.3h0"/>
<path stroke="#cfb662" d="M496.6 405.1h0"/>
<path stroke="#d5cb5c" d="M515.1 395.5h0"/>
<path stroke="#d2c160" d="M529.4 400.8h0"/>
<path stroke="#bc8146" d="M486.1 422.7h0"/>
<path stroke="#bb7d43" d="M549.6 421.8h0"/>
<path stroke="#ceb662" d="M533.4 404.6h0"/>
<path stroke="#c19053" d="M545.6 417.3h0"/>
<path stroke="#d2c260" d="M502.7 401.3h0"/>
<path stroke="#cbaa64" d="M537.5 408.7h0"/>
<path stroke="#c69d5c" d="M541.5 412.9h0"/>
<path stroke="#d4c85e" d="M508.9 398h0"/>
<path stroke="#b3652d" d="M483.9 429.5h0"/>
<path stroke="#c9a663" d="M494.4 411.4h0"/>
<path stroke="#d4c75f" d="M519.1 398.6h0"/>
<path stroke="#a65327" d="M481.8 436.3h0"/>
<path stroke="#8d4c2b" d="M479.6 443.3h0"/>
<path stroke="#c39556" d="M492.2 417.8h0"/>
<path stroke="#cdb362" d="M500.5 407.2h0"/>
<path stroke="#d2c160" d="M523.2 401.9h0"/>
<path stroke="#d3c460" d="M512.9 400.8h0"/>
<path stroke="#67503b" d="M477.5 450.2h0"/>
<path stroke="#d1bd61" d="M506.7 403.7h0"/>
<path stroke="#67503b" d="M567.9 447.9h0"/>
<path stroke="#bb7e44" d="M490 424.4h0"/>
<path stroke="#cfb762" d="M527.2 405.4h0"/>
<path stroke="#834d2f" d="M563.8 443.3h0"/>
<path stroke="#c8a360" d="M498.3 413.4h0"/>
<path stroke="#9e4a24" d="M559.8 438.8h0"/>
<path stroke="#ccad63" d="M531.3 409.1h0"/>
<path stroke="#d1be61" d="M516.9 403.7h0"/>
<path stroke="#b2632c" d="M487.9 431.1h0"/>
<path stroke="#a85628" d="M555.7 434.3h0"/>
<path stroke="#c8a260" d="M535.3 413h0"/>
<path stroke="#b2622b" d="M551.6 429.8h0"/>
<path stroke="#ccaf63" d="M504.5 409.5h0"/>
<path stroke="#c49657" d="M539.4 417h0"/>
<path stroke="#b8753c" d="M547.6 425.4h0"/>
<path stroke="#cfb862" d="M510.7 406.3h0"/>
<path stroke="#bf894d" d="M543.5 421.2h0"/>
<path stroke="#a55226" d="M485.7 437.9h0"/>
<path stroke="#c29254" d="M496.2 419.8h0"/>
<path stroke="#ceb662" d="M521 406.9h0"/>
<path stroke="#8c4c2b" d="M483.5 444.8h0"/>
<path stroke="#ba7b41" d="M494 426.2h0"/>
<path stroke="#67503b" d="M481.3 451.6h0"/>
<path stroke="#c79f5e" d="M502.3 415.6h0"/>
<path stroke="#ccad63" d="M525.1 410.2h0"/>
<path stroke="#cdb163" d="M514.8 409.1h0"/>
<path stroke="#caa964" d="M508.5 412h0"/>
<path stroke="#b1612b" d="M491.8 432.8h0"/>
<path stroke="#c8a361" d="M529.1 413.7h0"/>
<path stroke="#c18f52" d="M500.1 421.8h0"/>
<path stroke="#cbaa64" d="M518.8 412.1h0"/>
<path stroke="#c59959" d="M533.2 417.4h0"/>
<path stroke="#a45226" d="M489.6 439.5h0"/>
<path stroke="#c18e52" d="M537.3 421.2h0"/>
<path stroke="#c59b5a" d="M506.3 417.9h0"/>
<path stroke="#c8a461" d="M512.6 414.7h0"/>
<path stroke="#bc7f44" d="M541.4 425.2h0"/>
<path stroke="#8b4c2c" d="M487.4 446.3h0"/>
<path stroke="#b9773e" d="M497.9 428.2h0"/>
<path stroke="#b66d35" d="M545.5 429.2h0"/>
<path stroke="#67503b" d="M565.9 450.5h0"/>
<path stroke="#804d30" d="M561.8 446.2h0"/>
<path stroke="#ae5e2a" d="M549.6 433.4h0"/>
<path stroke="#c8a260" d="M522.9 415.2h0"/>
<path stroke="#9a4a26" d="M557.7 441.9h0"/>
<path stroke="#a65327" d="M553.7 437.6h0"/>
<path stroke="#67503b" d="M485.2 453.1h0"/>
<path stroke="#b05f2a" d="M495.8 434.7h0"/>
<path stroke="#c08b4f" d="M504.1 424h0"/>
<path stroke="#c69d5c" d="M516.6 417.5h0"/>
<path stroke="#c59959" d="M527 418.6h0"/>
<path stroke="#c39557" d="M510.4 420.4h0"/>
<path stroke="#a35026" d="M493.6 441.2h0"/>
<path stroke="#c19053" d="M531.1 422h0"/>
<path stroke="#b8733a" d="M501.9 430.2h0"/>
<path stroke="#c49657" d="M520.7 420.5h0"/>
<path stroke="#bd8348" d="M535.1 425.6h0"/>
<path stroke="#8a4c2c" d="M491.4 447.8h0"/>
<path stroke="#bd8449" d="M508.2 426.3h0"/>
<path stroke="#c19053" d="M514.4 423.1h0"/>
<path stroke="#b8743b" d="M539.3 429.4h0"/>
<path stroke="#ae5d2a" d="M499.8 436.6h0"/>
<path stroke="#67503b" d="M489.2 454.5h0"/>
<path stroke="#c18e52" d="M524.8 423.6h0"/>
<path stroke="#b3642d" d="M543.4 433.2h0"/>
<path stroke="#ab5a29" d="M547.5 437.1h0"/>
<path stroke="#a35026" d="M551.6 441.1h0"/>
<path stroke="#b66d35" d="M506 432.4h0"/>
<path stroke="#a24f25" d="M497.5 443h0"/>
<path stroke="#bf894d" d="M518.5 425.8h0"/>
<path stroke="#954b28" d="M555.7 445.1h0"/>
<path stroke="#bd8348" d="M528.9 426.8h0"/>
<path stroke="#bb7d43" d="M512.2 428.8h0"/>
<path stroke="#7e4d31" d="M559.8 449.1h0"/>
<path stroke="#67503b" d="M563.9 453.2h0"/>
<path stroke="#884c2d" d="M495.3 449.4h0"/>
<path stroke="#b9763d" d="M533 430.2h0"/>
<path stroke="#ac5b29" d="M503.8 438.5h0"/>
<path stroke="#bc7f44" d="M522.6 428.7h0"/>
<path stroke="#b46931" d="M537.1 433.7h0"/>
<path stroke="#b46830" d="M510 434.6h0"/>
<path stroke="#67503b" d="M493.1 456h0"/>
<path stroke="#b8753c" d="M516.3 431.3h0"/>
<path stroke="#a14e25" d="M501.6 444.8h0"/>
<path stroke="#ae5e2a" d="M541.2 437.2h0"/>
<path stroke="#b8743b" d="M526.7 431.7h0"/>
<path stroke="#a75527" d="M545.4 440.9h0"/>
<path stroke="#aa5928" d="M507.8 440.6h0"/>
<path stroke="#b66d35" d="M520.4 434h0"/>
<path stroke="#874d2e" d="M499.3 451.1h0"/>
<path stroke="#a04d25" d="M549.5 444.6h0"/>
<path stroke="#b2622b" d="M514.1 437h0"/>
<path stroke="#b46931" d="M530.8 434.9h0"/>
<path stroke="#904c2a" d="M553.6 448.3h0"/>
<path stroke="#67503b" d="M497.1 457.4h0"/>
<path stroke="#a04c25" d="M505.6 446.6h0"/>
<path stroke="#7b4e32" d="M557.8 452.1h0"/>
<path stroke="#af5f2a" d="M534.9 438.1h0"/>
<path stroke="#b3642d" d="M524.5 436.8h0"/>
<path stroke="#67503b" d="M561.9 455.9h0"/>
<path stroke="#a85628" d="M511.9 442.7h0"/>
<path stroke="#ae5e2a" d="M518.2 439.4h0"/>
<path stroke="#aa5828" d="M539.1 441.4h0"/>
<path stroke="#854d2f" d="M503.4 452.8h0"/>
<path stroke="#ae5e2a" d="M528.6 439.7h0"/>
<path stroke="#a45126" d="M543.2 444.7h0"/>
<path stroke="#9e4a24" d="M509.7 448.6h0"/>
<path stroke="#ab5a29" d="M522.3 442h0"/>
<path stroke="#a65327" d="M516 444.9h0"/>
<path stroke="#67503b" d="M501.1 458.9h0"/>
<path stroke="#9c4a25" d="M547.4 448.2h0"/>
<path stroke="#aa5828" d="M532.8 442.6h0"/>
<path stroke="#8b4c2c" d="M551.6 451.6h0"/>
<path stroke="#834d2f" d="M507.4 454.5h0"/>
<path stroke="#a75527" d="M526.4 444.6h0"/>
<path stroke="#a55226" d="M536.9 445.6h0"/>
<path stroke="#794e34" d="M555.7 455.1h0"/>
<path stroke="#9a4a26" d="M513.7 450.5h0"/>
<path stroke="#a35026" d="M520.1 447.2h0"/>
<path stroke="#67503b" d="M559.9 458.7h0"/>
<path stroke="#a04c25" d="M541.1 448.7h0"/>
<path stroke="#67503b" d="M505.2 460.4h0"/>
<path stroke="#a45126" d="M530.6 447.2h0"/>
<path stroke="#804d30" d="M511.5 456.2h0"/>
<path stroke="#944b28" d="M545.3 451.8h0"/>
<path stroke="#a04d25" d="M524.2 449.5h0"/>
<path stroke="#954b28" d="M517.8 452.5h0"/>
<path stroke="#a04c25" d="M534.7 450h0"/>
<path stroke="#854d2e" d="M549.5 455h0"/>
<path stroke="#67503b" d="M509.2 461.9h0"/>
<path stroke="#9c4a25" d="M528.4 451.9h0"/>
<path stroke="#764e35" d="M553.7 458.2h0"/>
<path stroke="#974b27" d="M538.9 452.7h0"/>
<path stroke="#7e4d31" d="M515.6 457.9h0"/>
<path stroke="#904c2a" d="M522 454.6h0"/>
<path stroke="#67503b" d="M557.9 461.4h0"/>
<path stroke="#8b4c2c" d="M543.1 455.6h0"/>
<path stroke="#944b28" d="M532.5 454.4h0"/>
<path stroke="#67503b" d="M513.4 463.4h0"/>
<path stroke="#8b4c2c" d="M526.1 456.7h0"/>
<path stroke="#7b4e32" d="M519.7 459.7h0"/>
<path stroke="#7f4d31" d="M547.3 458.4h0"/>
<path stroke="#8b4c2c" d="M536.7 456.9h0"/>
<path stroke="#734f36" d="M551.6 461.3h0"/>
<path stroke="#854d2e" d="M530.3 458.9h0"/>
<path stroke="#67503b" d="M517.5 464.9h0"/>
<path stroke="#794e34" d="M523.9 461.6h0"/>
<path stroke="#824d30" d="M540.9 459.4h0"/>
<path stroke="#67503b" d="M555.8 464.3h0"/>
<path stroke="#7f4d31" d="M534.5 461h0"/>
<path stroke="#794e33" d="M545.2 461.9h0"/>
<path stroke="#764e35" d="M528.1 463.4h0"/>
<path stroke="#67503b" d="M521.6 466.4h0"/>
<path stroke="#704f37" d="M549.4 464.5h0"/>
<path stroke="#794e33" d="M538.8 463.2h0"/>
<path stroke="#734f36" d="M532.3 465.3h0"/>
<path stroke="#67503b" d="M553.7 467.1h0"/>
<path stroke="#67503b" d="M525.8 468h0"/>
<path stroke="#734f36" d="M543 465.5h0"/>
<path stroke="#704f37" d="M536.5 467.1h0"/>
<path stroke="#6d4f38" d="M547.3 467.7h0"/>
<path stroke="#67503b" d="M530.1 469.5h0"/>
<path stroke="#6d4f38" d="M540.8 469h0"/>
<path stroke="#67503b" d="M551.6 470h0"/>
<path stroke="#67503b" d="M534.3 471.1h0"/>
<path stroke="#6a503a" d="M545.1 471h0"/>
<path stroke="#67503b" d="M538.6 472.7h0"/>
<path stroke="#67503b" d="M549.4 472.9h0"/>
<path stroke="#67503b" d="M542.9 474.2h0"/>
<path stroke="#67503b" d="M547.3 475.8h0"/>
</g>
<g>
<path d="M547.3 475.8L548.2 413.1" stroke="#505050" stroke-width="0.5" fill="none"/>
<path d="M385.6 362.1L548.2 413.1" stroke="#505050" stroke-width="0.5" fill="none"/>
<path d="M548.2 413.1L622.6 325.4" stroke="#505050" stroke-width="0.5" fill="none"/>
<path d="M397.2 353.8L397.5 355.7" stroke="#505050" stroke-width="0.4" fill="none"/>
<path d="M408.3 346L408.6 347.8" stroke="#505050" stroke-width="0.4" fill="none"/>
<path d="M419 338.5L419.2 340.2" stroke="#505050" stroke-width="0.4" fill="none"/>
<path d="M438.9 324.3L439.1 326.1" stroke="#505050" stroke-width="0.4" fill="none"/>
<path d="M448.3 317.7L448.4 319.4" stroke="#505050" stroke-width="0.4" fill="none"/>
<path d="M457.3 311.4L457.4 313" stroke="#505050" stroke-width="0.4" fill="none"/>
<path d="M474.2 299.4L474.3 301" stroke="#505050" stroke-width="0.4" fill="none"/>
<path d="M482.2 293.7L482.3 295.3" stroke="#505050" stroke-width="0.4" fill="none"/>
<path d="M385.6 362.1L386.1 365.5" stroke="#505050" stroke-width="0.4" fill="none"/>
<path d="M429.1 331.3L429.5 334.5" stroke="#505050" stroke-width="0.4" fill="none"/>
<path d="M465.9 305.3L466.1 308.3" stroke="#505050" stroke-width="0.4" fill="none"/>
<path d="M394.8 417.4L396.6 418.1" stroke="#505050" stroke-width="0.4" fill="none"/>
<path d="M394.3 414.8L396.2 415.5" stroke="#505050" stroke-width="0.4" fill="none"/>
<path d="M393.9 412.2L395.8 412.9" stroke="#505050" stroke-width="0.4" fill="none"/>
<path d="M393.5 409.6L395.3 410.3" stroke="#505050" stroke-width="0.4" fill="none"/>
<path d="M392.6 404.3L394.5 405" stroke="#505050" stroke-width="0.4" fill="none"/>
<path d="M392.1 401.6L394 402.3" stroke="#505050" stroke-width="0.4" fill="none"/>
<path d="M391.7 398.9L393.6 399.6" stroke="#505050" stroke-width="0.4" fill="none"/>
<path d="M391.2 396.2L393.1 396.9" stroke="#505050" stroke-width="0.4" fill="none"/>
<path d="M390.3 390.8L392.2 391.4" stroke="#505050" stroke-width="0.4" fill="none"/>
<path d="M389.9 388L391.8 388.7" stroke="#505050" stroke-width="0.4" fill="none"/>
<path d="M389.4 385.2L391.3 385.9" stroke="#505050" stroke-width="0.4" fill="none"/>
<path d="M388.9 382.4L390.9 383.1" stroke="#505050" stroke-width="0.4" fill="none"/>
<path d="M388 376.8L389.9 377.4" stroke="#505050" stroke-width="0.4" fill="none"/>
<path d="M387.5 374L389.5 374.6" stroke="#505050" stroke-width="0.4" fill="none"/>
<path d="M387.1 371.1L389 371.7" stroke="#505050" stroke-width="0.4" fill="none"/>
<path d="M386.6 368.2L388.5 368.8" stroke="#505050" stroke-width="0.4" fill="none"/>
<path d="M385.6 362.4L387.6 363" stroke="#505050" stroke-width="0.4" fill="none"/>
<path d="M395.2 420L398.8 421.3" stroke="#505050" stroke-width="0.4" fill="none"/>
<path d="M393 407L396.7 408.3" stroke="#505050" stroke-width="0.4" fill="none"/>
<path d="M390.8 393.5L394.5 394.8" stroke="#505050" stroke-width="0.4" fill="none"/>
<path d="M388.5 379.6L392.2 380.9" stroke="#505050" stroke-width="0.4" fill="none"/>
<path d="M386.1 365.3L389.9 366.5" stroke="#505050" stroke-width="0.4" fill="none"/>
</g>
<text x="153.1" y="6.1" text-anchor="middle" font-size="7.5">u</text>
<text x="93.1" y="175.2" text-anchor="middle" font-size="7.5">0.2</text>
<text x="158.7" y="201.4" text-anchor="middle" font-size="7.5">0.4</text>
<text x="207.0" y="210.1" text-anchor="middle" font-size="7.5">0.0</text>
<text x="103.6" y="190.6" text-anchor="middle" font-size="7.5">x</text>
<text x="33.4" y="152.3" text-anchor="middle" font-size="7.5">0.0</text>
<text x="264.4" y="123.4" text-anchor="middle" font-size="7.5">0.4</text>
<text x="238.1" y="163.2" text-anchor="middle" font-size="7.5">0.2</text>
<text x="253.1" y="156.4" text-anchor="middle" font-size="7.5">y</text>
<text x="28.6" y="92.2" text-anchor="end" font-size="7.5">8.<tspan dx="0.6">×</tspan><tspan dx="0.9">10</tspan><tspan dy="-3.1" font-size="5.9">−6</tspan></text>
<text x="31.0" y="105.9" text-anchor="end" font-size="7.5">6.<tspan dx="0.6">×</tspan><tspan dx="0.9">10</tspan><tspan dy="-3.1" font-size="5.9">−6</tspan></text>
<text x="33.3" y="118.9" text-anchor="end" font-size="7.5">4.<tspan dx="0.6">×</tspan><tspan dx="0.9">10</tspan><tspan dy="-3.1" font-size="5.9">−6</tspan></text>
<text x="35.0" y="131.1" text-anchor="end" font-size="7.5">2.<tspan dx="0.6">×</tspan><tspan dx="0.9">10</tspan><tspan dy="-3.1" font-size="5.9">−6</tspan></text>
<text x="38.0" y="142.4" text-anchor="end" font-size="7.5">0</text>
<text x="501.2" y="6.1" text-anchor="middle" font-size="7.5">u</text>
<text x="441.2" y="175.2" text-anchor="middle" font-size="7.5">0.2</text>
<text x="506.8" y="201.4" text-anchor="middle" font-size="7.5">0.4</text>
<text x="555.1" y="210.1" text-anchor="middle" font-size="7.5">0.0</text>
<text x="451.7" y="190.6" text-anchor="middle" font-size="7.5">x</text>
<text x="381.5" y="152.3" text-anchor="middle" font-size="7.5">0.0</text>
<text x="612.5" y="123.4" text-anchor="middle" font-size="7.5">0.4</text>
<text x="586.2" y="163.2" text-anchor="middle" font-size="7.5">0.2</text>
<text x="601.2" y="156.4" text-anchor="middle" font-size="7.5">y</text>
<text x="379.5" y="99.7" text-anchor="end" font-size="7.5">0.00002</text>
<text x="382.5" y="121.7" text-anchor="end" font-size="7.5">0.00001</text>
<text x="386.1" y="142.4" text-anchor="end" font-size="7.5">0.00000</text>
<text x="150.8" y="271.6" text-anchor="middle" font-size="7.5">u</text>
<text x="91.2" y="439.5" text-anchor="middle" font-size="7.5">0.2</text>
<text x="156.8" y="465.7" text-anchor="middle" font-size="7.5">0.4</text>
<text x="204.0" y="473.9" text-anchor="middle" font-size="7.5">0.0</text>
<text x="101.7" y="454.9" text-anchor="middle" font-size="7.5">x</text>
<text x="32.7" y="416.8" text-anchor="middle" font-size="7.5">0.0</text>
<text x="260.7" y="387.7" text-anchor="middle" font-size="7.5">0.4</text>
<text x="234.4" y="427.5" text-anchor="middle" font-size="7.5">0.2</text>
<text x="249.4" y="420.7" text-anchor="middle" font-size="7.5">y</text>
<text x="28.6" y="359.8" text-anchor="end" font-size="7.5">4.<tspan dx="0.6">×</tspan><tspan dx="0.9">10</tspan><tspan dy="-3.1" font-size="5.9">−7</tspan></text>
<text x="31.5" y="379.8" text-anchor="end" font-size="7.5">2.<tspan dx="0.6">×</tspan><tspan dx="0.9">10</tspan><tspan dy="-3.1" font-size="5.9">−7</tspan></text>
<text x="35.0" y="398.0" text-anchor="end" font-size="7.5">0</text>
<text x="503.8" y="289.6" text-anchor="middle" font-size="7.5">u</text>
<text x="436.9" y="307.6" text-anchor="middle" font-size="7.5">y</text>
<text x="465.3" y="300.0" text-anchor="middle" font-size="7.5">0.4</text>
<text x="427.9" y="326.0" text-anchor="middle" font-size="7.5">0.2</text>
<text x="384.0" y="357.0" text-anchor="middle" font-size="7.5">0.0</text>
<text x="383.9" y="372.9" text-anchor="end" font-size="7.5">0.000020</text>
<text x="385.8" y="387.7" text-anchor="end" font-size="7.5">0.000015</text>
<text x="388.6" y="401.9" text-anchor="end" font-size="7.5">0.000010</text>
<text x="390.4" y="415.4" text-anchor="end" font-size="7.5">5.<tspan dx="0.6">×</tspan><tspan dx="0.9">10</tspan><tspan dy="-3.1" font-size="5.9">−6</tspan></text>
<text x="392.0" y="427.9" text-anchor="end" font-size="7.5">0.000000</text>
<text x="388.0" y="428.0" text-anchor="middle" font-size="7.5">0.0</text>
<text x="443.9" y="449.8" text-anchor="middle" font-size="7.5">0.2</text>
<text x="453.8" y="463.9" text-anchor="middle" font-size="7.5">x</text>
<text x="506.8" y="473.3" text-anchor="middle" font-size="7.5">0.4</text>
<defs><linearGradient id="g313" x1="0" y1="0" x2="0" y2="1"><stop offset="0.000" stop-color="#5894d8"/><stop offset="0.050" stop-color="#6a9bb5"/><stop offset="0.100" stop-color="#7da393"/><stop offset="0.150" stop-color="#8faa70"/><stop offset="0.200" stop-color="#a2b14e"/><stop offset="0.250" stop-color="#b3ba46"/><stop offset="0.300" stop-color="#c3c44f"/><stop offset="0.350" stop-color="#d3ce58"/><stop offset="0.400" stop-color="#d5cb5d"/><stop offset="0.450" stop-color="#d3c460"/><stop offset="0.500" stop-color="#cfb762"/><stop offset="0.550" stop-color="#cbab64"/><stop offset="0.600" stop-color="#c69e5d"/><stop offset="0.650" stop-color="#c29154"/><stop offset="0.700" stop-color="#bc8146"/><stop offset="0.750" stop-color="#b66d35"/><stop offset="0.800" stop-color="#ae5e2a"/><stop offset="0.850" stop-color="#a55327"/><stop offset="0.900" stop-color="#994b26"/><stop offset="0.950" stop-color="#804d31"/><stop offset="1.000" stop-color="#67503b"/></linearGradient></defs>
<rect x="289.2" y="24.4" width="10.4" height="149.4" fill="url(#g313)"/>
<path d="M299.6 41.7h2.2" stroke="#bbb" stroke-width="0.4"/>
<text x="304.5" y="44.4" text-anchor="start" font-size="7.5">8.<tspan dx="0.6">×</tspan><tspan dx="0.9">10</tspan><tspan dy="-3.1" font-size="5.9">−6</tspan></text>
<path d="M299.6 74.4h2.2" stroke="#bbb" stroke-width="0.4"/>
<text x="304.5" y="77.1" text-anchor="start" font-size="7.5">6.<tspan dx="0.6">×</tspan><tspan dx="0.9">10</tspan><tspan dy="-3.1" font-size="5.9">−6</tspan></text>
<path d="M299.6 107.7h2.2" stroke="#bbb" stroke-width="0.4"/>
<text x="304.5" y="110.4" text-anchor="start" font-size="7.5">4.<tspan dx="0.6">×</tspan><tspan dx="0.9">10</tspan><tspan dy="-3.1" font-size="5.9">−6</tspan></text>
<path d="M299.6 140.8h2.2" stroke="#bbb" stroke-width="0.4"/>
<text x="304.5" y="143.5" text-anchor="start" font-size="7.5">2.<tspan dx="0.6">×</tspan><tspan dx="0.9">10</tspan><tspan dy="-3.1" font-size="5.9">−6</tspan></text>
<path d="M299.6 174.0h2.2" stroke="#bbb" stroke-width="0.4"/>
<text x="304.5" y="176.7" text-anchor="start" font-size="7.5">0</text>
<defs><linearGradient id="g662" x1="0" y1="0" x2="0" y2="1"><stop offset="0.000" stop-color="#5894d8"/><stop offset="0.050" stop-color="#6a9bb5"/><stop offset="0.100" stop-color="#7da393"/><stop offset="0.150" stop-color="#8faa70"/><stop offset="0.200" stop-color="#a2b14e"/><stop offset="0.250" stop-color="#b3ba46"/><stop offset="0.300" stop-color="#c3c44f"/><stop offset="0.350" stop-color="#d3ce58"/><stop offset="0.400" stop-color="#d5cb5d"/><stop offset="0.450" stop-color="#d3c460"/><stop offset="0.500" stop-color="#cfb762"/><stop offset="0.550" stop-color="#cbab64"/><stop offset="0.600" stop-color="#c69e5d"/><stop offset="0.650" stop-color="#c29154"/><stop offset="0.700" stop-color="#bc8146"/><stop offset="0.750" stop-color="#b66d35"/><stop offset="0.800" stop-color="#ae5e2a"/><stop offset="0.850" stop-color="#a55327"/><stop offset="0.900" stop-color="#994b26"/><stop offset="0.950" stop-color="#804d31"/><stop offset="1.000" stop-color="#67503b"/></linearGradient></defs>
<rect x="637.7" y="25.0" width="10.4" height="148.1" fill="url(#g662)"/>
<path d="M648.1 31.3h2.2" stroke="#bbb" stroke-width="0.4"/>
<text x="653.0" y="34.0" text-anchor="start" font-size="7.5">0.000025</text>
<path d="M648.1 59.9h2.2" stroke="#bbb" stroke-width="0.4"/>
<text x="653.0" y="62.6" text-anchor="start" font-size="7.5">0.000020</text>
<path d="M648.1 88.1h2.2" stroke="#bbb" stroke-width="0.4"/>
<text x="653.0" y="90.8" text-anchor="start" font-size="7.5">0.000015</text>
<path d="M648.1 116.3h2.2" stroke="#bbb" stroke-width="0.4"/>
<text x="653.0" y="119.0" text-anchor="start" font-size="7.5">0.000010</text>
<path d="M648.1 144.6h2.2" stroke="#bbb" stroke-width="0.4"/>
<text x="653.0" y="147.3" text-anchor="start" font-size="7.5">5.<tspan dx="0.6">×</tspan><tspan dx="0.9">10</tspan><tspan dy="-3.1" font-size="5.9">−6</tspan></text>
<path d="M648.1 173.1h2.2" stroke="#bbb" stroke-width="0.4"/>
<text x="653.0" y="175.8" text-anchor="start" font-size="7.5">0</text>
<defs><linearGradient id="g575" x1="0" y1="0" x2="0" y2="1"><stop offset="0.000" stop-color="#5894d8"/><stop offset="0.050" stop-color="#6a9bb5"/><stop offset="0.100" stop-color="#7da393"/><stop offset="0.150" stop-color="#8faa70"/><stop offset="0.200" stop-color="#a2b14e"/><stop offset="0.250" stop-color="#b3ba46"/><stop offset="0.300" stop-color="#c3c44f"/><stop offset="0.350" stop-color="#d3ce58"/><stop offset="0.400" stop-color="#d5cb5d"/><stop offset="0.450" stop-color="#d3c460"/><stop offset="0.500" stop-color="#cfb762"/><stop offset="0.550" stop-color="#cbab64"/><stop offset="0.600" stop-color="#c69e5d"/><stop offset="0.650" stop-color="#c29154"/><stop offset="0.700" stop-color="#bc8146"/><stop offset="0.750" stop-color="#b66d35"/><stop offset="0.800" stop-color="#ae5e2a"/><stop offset="0.850" stop-color="#a55327"/><stop offset="0.900" stop-color="#994b26"/><stop offset="0.950" stop-color="#804d31"/><stop offset="1.000" stop-color="#67503b"/></linearGradient></defs>
<rect x="285.3" y="290.5" width="10.3" height="147.3" fill="url(#g575)"/>
<path d="M295.6 313.9h2.2" stroke="#bbb" stroke-width="0.4"/>
<text x="300.5" y="316.6" text-anchor="start" font-size="7.5">4.<tspan dx="0.6">×</tspan><tspan dx="0.9">10</tspan><tspan dy="-3.1" font-size="5.9">−7</tspan></text>
<path d="M295.6 339.0h2.2" stroke="#bbb" stroke-width="0.4"/>
<text x="300.5" y="341.7" text-anchor="start" font-size="7.5">3.<tspan dx="0.6">×</tspan><tspan dx="0.9">10</tspan><tspan dy="-3.1" font-size="5.9">−7</tspan></text>
<path d="M295.6 363.8h2.2" stroke="#bbb" stroke-width="0.4"/>
<text x="300.5" y="366.5" text-anchor="start" font-size="7.5">2.<tspan dx="0.6">×</tspan><tspan dx="0.9">10</tspan><tspan dy="-3.1" font-size="5.9">−7</tspan></text>
<path d="M295.6 388.6h2.2" stroke="#bbb" stroke-width="0.4"/>
<text x="300.5" y="391.3" text-anchor="start" font-size="7.5">1.<tspan dx="0.6">×</tspan><tspan dx="0.9">10</tspan><tspan dy="-3.1" font-size="5.9">−7</tspan></text>
<path d="M295.6 413.4h2.2" stroke="#bbb" stroke-width="0.4"/>
<text x="300.5" y="416.1" text-anchor="start" font-size="7.5">0</text>
<path d="M295.6 438.4h2.2" stroke="#bbb" stroke-width="0.4"/>
<text x="300.5" y="441.1" text-anchor="start" font-size="7.5">−1.<tspan dx="0.6">×</tspan><tspan dx="0.9">10</tspan><tspan dy="-3.1" font-size="5.9">−7</tspan></text>
<defs><linearGradient id="g936" x1="0" y1="0" x2="0" y2="1"><stop offset="0.000" stop-color="#5894d8"/><stop offset="0.050" stop-color="#6a9bb5"/><stop offset="0.100" stop-color="#7da393"/><stop offset="0.150" stop-color="#8faa70"/><stop offset="0.200" stop-color="#a2b14e"/><stop offset="0.250" stop-color="#b3ba46"/><stop offset="0.300" stop-color="#c3c44f"/><stop offset="0.350" stop-color="#d3ce58"/><stop offset="0.400" stop-color="#d5cb5d"/><stop offset="0.450" stop-color="#d3c460"/><stop offset="0.500" stop-color="#cfb762"/><stop offset="0.550" stop-color="#cbab64"/><stop offset="0.600" stop-color="#c69e5d"/><stop offset="0.650" stop-color="#c29154"/><stop offset="0.700" stop-color="#bc8146"/><stop offset="0.750" stop-color="#b66d35"/><stop offset="0.800" stop-color="#ae5e2a"/><stop offset="0.850" stop-color="#a55327"/><stop offset="0.900" stop-color="#994b26"/><stop offset="0.950" stop-color="#804d31"/><stop offset="1.000" stop-color="#67503b"/></linearGradient></defs>
<rect x="637.9" y="299.0" width="10.2" height="147.9" fill="url(#g936)"/>
<path d="M648.1 307.4h2.2" stroke="#bbb" stroke-width="0.4"/>
<text x="653.0" y="310.1" text-anchor="start" font-size="7.5">0.000020</text>
<path d="M648.1 342.1h2.2" stroke="#bbb" stroke-width="0.4"/>
<text x="653.0" y="344.8" text-anchor="start" font-size="7.5">0.000015</text>
<path d="M648.1 376.9h2.2" stroke="#bbb" stroke-width="0.4"/>
<text x="653.0" y="379.6" text-anchor="start" font-size="7.5">0.000010</text>
<path d="M648.1 411.6h2.2" stroke="#bbb" stroke-width="0.4"/>
<text x="653.0" y="414.3" text-anchor="start" font-size="7.5">5.<tspan dx="0.6">×</tspan><tspan dx="0.9">10</tspan><tspan dy="-3.1" font-size="5.9">−6</tspan></text>
<path d="M648.1 446.9h2.2" stroke="#bbb" stroke-width="0.4"/>
<text x="653.0" y="449.6" text-anchor="start" font-size="7.5">0</text>
<text x="162.8" y="242.6" text-anchor="middle" font-family="Liberation Serif, serif" font-size="19.3" fill="#1a1a1a">(a)</text>
<text x="513.5" y="242.6" text-anchor="middle" font-family="Liberation Serif, serif" font-size="19.3" fill="#1a1a1a">(b)</text>
<text x="162.8" y="517.1" text-anchor="middle" font-family="Liberation Serif, serif" font-size="19.3" fill="#1a1a1a">(c)</text>
<text x="513.5" y="517.1" text-anchor="middle" font-family="Liberation Serif, serif" font-size="19.3" fill="#1a1a1a">(d)</text>
</svg>
</body></html>
